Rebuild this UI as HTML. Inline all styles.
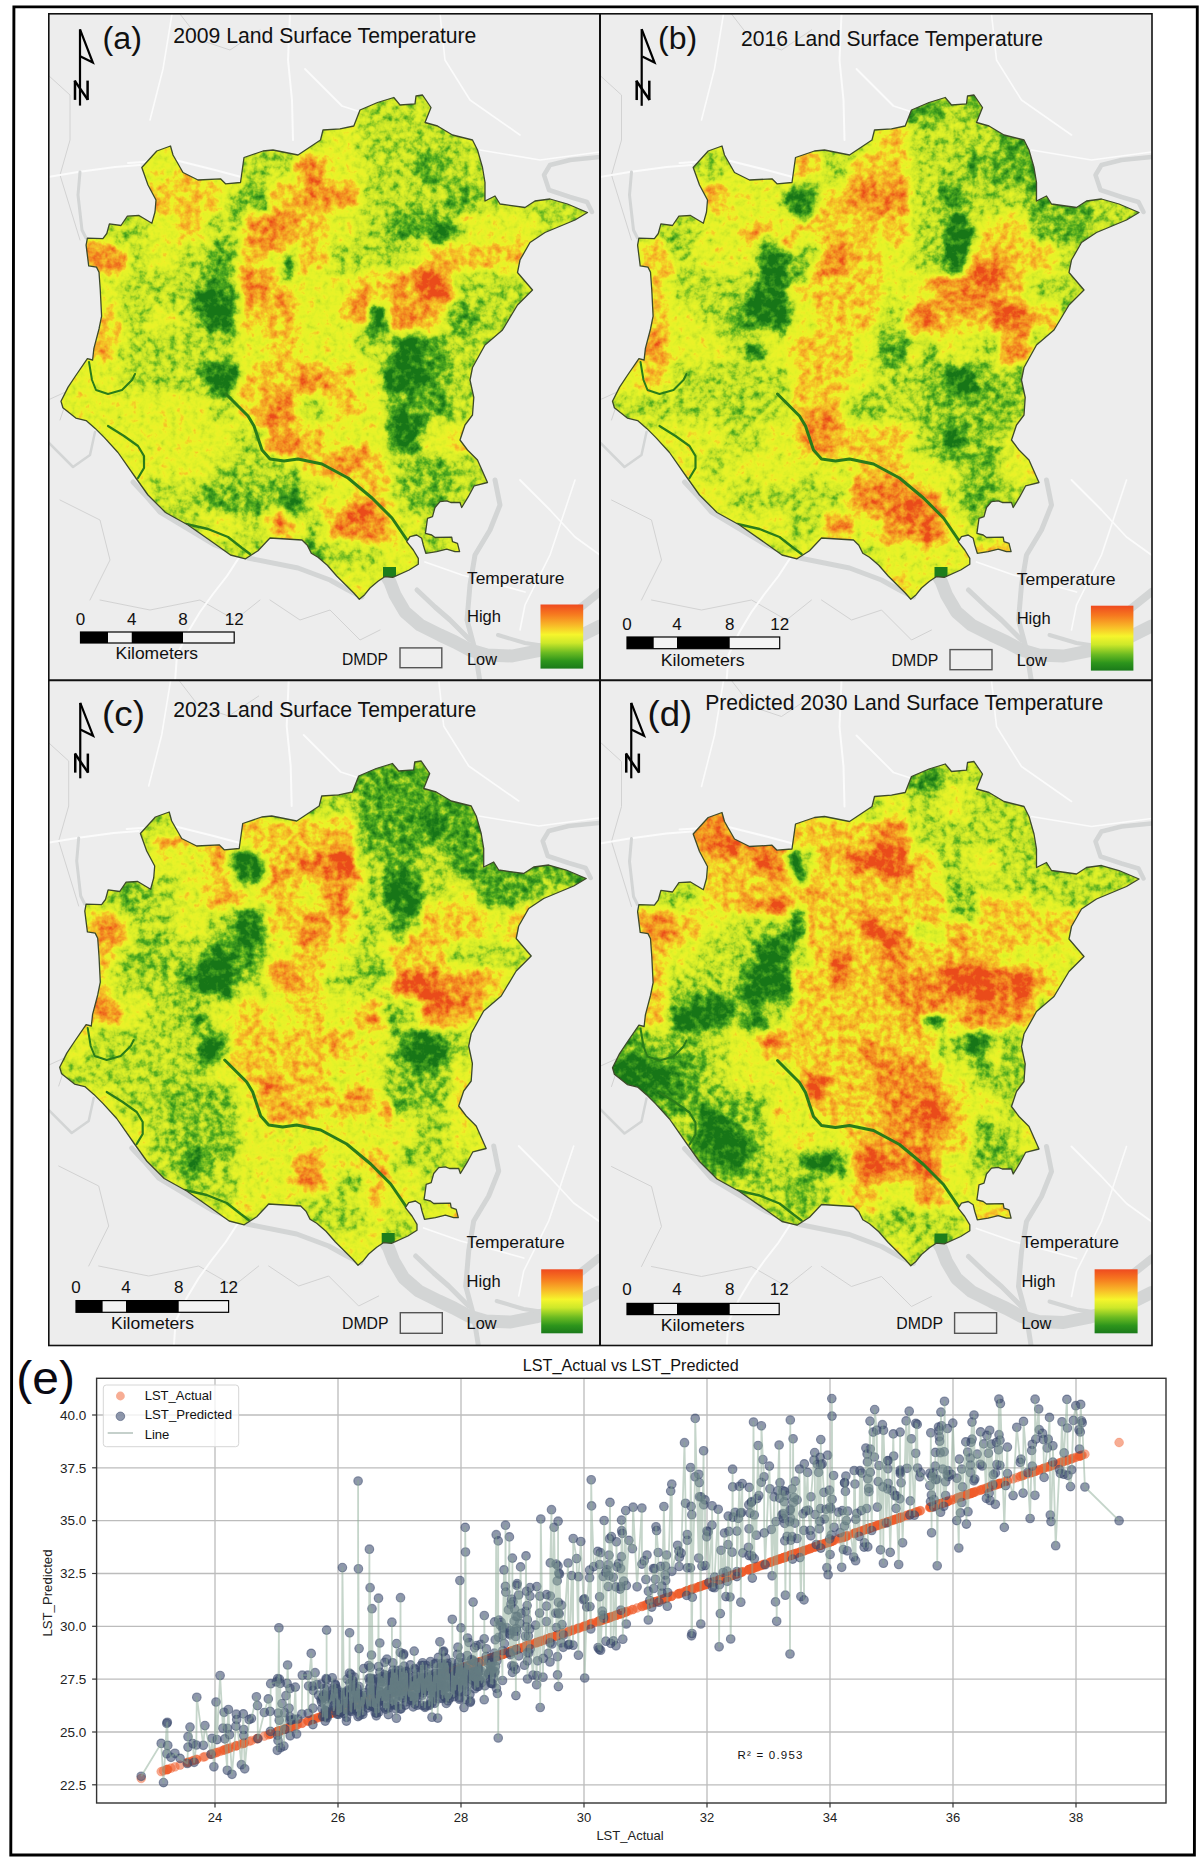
<!DOCTYPE html>
<html><head><meta charset="utf-8"><style>
html,body{margin:0;padding:0;background:#fff;}
svg{display:block;font-family:"Liberation Sans", sans-serif;}
</style></head><body>
<svg width="1200" height="1860" viewBox="0 0 1200 1860">
<defs><linearGradient id="cb" x1="0" y1="0" x2="0" y2="1">
<stop offset="0" stop-color="#ef4a1f"/><stop offset="0.15" stop-color="#f6781f"/><stop offset="0.32" stop-color="#f8b828"/>
<stop offset="0.47" stop-color="#f6f52c"/><stop offset="0.6" stop-color="#cde82a"/><stop offset="0.75" stop-color="#6cbb22"/>
<stop offset="0.88" stop-color="#2d951c"/><stop offset="1" stop-color="#1a7a1a"/></linearGradient><clipPath id="pca"><rect x="48.8" y="13.8" width="551.2" height="666.5"/></clipPath><clipPath id="pcb"><rect x="600" y="13.8" width="552" height="666.5"/></clipPath><clipPath id="pcc"><rect x="48.8" y="680.3" width="551.2" height="665.2"/></clipPath><clipPath id="pcd"><rect x="600" y="680.3" width="552" height="665.2"/></clipPath></defs>
<g clip-path="url(#pca)">
<rect x="48.8" y="13.8" width="551.2" height="666.5" fill="#ededed"/>
<path d="M48.0,75.0 L70.0,95.0 L70.0,140.0 L60.0,175.0 L80.0,240.0" fill="none" stroke="#d2d2d2" stroke-width="1" stroke-linecap="round" stroke-linejoin="round"/><path d="M48.0,400.0 L70.0,390.0 L60.0,420.0" fill="none" stroke="#d2d2d2" stroke-width="1" stroke-linecap="round" stroke-linejoin="round"/><path d="M100.0,600.0 L150.0,610.0 L200.0,600.0 L235.0,620.0 L260.0,600.0" fill="none" stroke="#d2d2d2" stroke-width="1" stroke-linecap="round" stroke-linejoin="round"/><path d="M60.0,500.0 L100.0,520.0 L110.0,560.0 L90.0,600.0" fill="none" stroke="#d2d2d2" stroke-width="1" stroke-linecap="round" stroke-linejoin="round"/><path d="M270.0,600.0 L300.0,620.0 L330.0,610.0 L360.0,640.0 L380.0,630.0" fill="none" stroke="#d2d2d2" stroke-width="1" stroke-linecap="round" stroke-linejoin="round"/><path d="M180.0,14.0 L200.0,40.0 L230.0,50.0 L260.0,30.0" fill="none" stroke="#d2d2d2" stroke-width="1" stroke-linecap="round" stroke-linejoin="round"/><path d="M48.0,177.0 L78.0,172.0 L115.0,167.0 L140.0,165.0" fill="none" stroke="#fbfbfb" stroke-width="2" stroke-linecap="round" stroke-linejoin="round"/><path d="M128.0,163.0 L175.0,160.0 L215.0,170.0 L245.0,178.0" fill="none" stroke="#fbfbfb" stroke-width="2" stroke-linecap="round" stroke-linejoin="round"/><path d="M290.0,14.0 L288.0,60.0 L292.0,100.0 L293.0,140.0" fill="none" stroke="#fbfbfb" stroke-width="2" stroke-linecap="round" stroke-linejoin="round"/><path d="M305.0,69.0 L342.0,106.0 L370.0,115.0 L400.0,118.0" fill="none" stroke="#fbfbfb" stroke-width="1.8" stroke-linecap="round" stroke-linejoin="round"/><path d="M520.0,480.0 L550.0,510.0 L575.0,537.0 L600.0,555.0" fill="none" stroke="#fbfbfb" stroke-width="1.8" stroke-linecap="round" stroke-linejoin="round"/><path d="M575.0,480.0 L550.0,555.0 L525.0,605.0 L520.0,630.0" fill="none" stroke="#fbfbfb" stroke-width="1.6" stroke-linecap="round" stroke-linejoin="round"/><path d="M425.0,562.0 L462.0,575.0 L500.0,585.0 L525.0,592.0" fill="none" stroke="#fbfbfb" stroke-width="1.8" stroke-linecap="round" stroke-linejoin="round"/><path d="M172.0,14.0 L163.0,69.0 L150.0,120.0" fill="none" stroke="#fbfbfb" stroke-width="1.6" stroke-linecap="round" stroke-linejoin="round"/><path d="M440.0,14.0 L445.0,60.0 L470.0,100.0 L520.0,135.0" fill="none" stroke="#fbfbfb" stroke-width="1.6" stroke-linecap="round" stroke-linejoin="round"/><path d="M480.0,150.0 L540.0,160.0 L600.0,152.0" fill="none" stroke="#fbfbfb" stroke-width="1.6" stroke-linecap="round" stroke-linejoin="round"/><path d="M240.0,556.0 L227.0,576.0 L213.0,594.0 L200.0,612.0 L188.0,632.0 L177.0,655.0 L175.0,682.0" fill="none" stroke="#fbfbfb" stroke-width="2" stroke-linecap="round" stroke-linejoin="round"/><path d="M600.0,157.0 L570.0,160.0 L550.0,165.0 L544.0,175.0 L549.0,190.0 L570.0,197.0 L587.0,202.0 L592.0,212.0" fill="none" stroke="#d3d5d5" stroke-width="4.5" stroke-linecap="round" stroke-linejoin="round"/><path d="M80.0,172.0 L78.0,195.0 L82.0,230.0 L86.0,238.0" fill="none" stroke="#d3d5d5" stroke-width="3" stroke-linecap="round" stroke-linejoin="round"/><path d="M133.0,482.0 L147.0,497.0 L160.0,512.0 L185.0,527.0 L215.0,545.0 L248.0,558.0 L298.0,568.0 L330.0,580.0 L348.0,590.0 L362.0,597.0" fill="none" stroke="#d3d5d5" stroke-width="5" stroke-linecap="round" stroke-linejoin="round"/><path d="M387.0,577.0 L390.0,582.0 L395.0,595.0 L405.0,612.0 L420.0,625.0 L440.0,635.0 L455.0,642.0 L470.0,650.0 L487.0,655.0 L512.0,656.0 L537.0,651.0 L570.0,641.0 L600.0,626.0" fill="none" stroke="#d3d5d5" stroke-width="13" stroke-linecap="round" stroke-linejoin="round"/><path d="M417.0,590.0 L435.0,607.0 L450.0,620.0 L470.0,640.0" fill="none" stroke="#d3d5d5" stroke-width="5" stroke-linecap="round" stroke-linejoin="round"/><path d="M495.0,480.0 L500.0,505.0 L490.0,530.0 L475.0,555.0 L470.0,585.0 L467.0,620.0 L475.0,650.0 L480.0,682.0" fill="none" stroke="#d3d5d5" stroke-width="5" stroke-linecap="round" stroke-linejoin="round"/><path d="M575.0,612.0 L600.0,592.0" fill="none" stroke="#d3d5d5" stroke-width="8" stroke-linecap="round" stroke-linejoin="round"/><path d="M48.0,442.0 L73.0,467.0 L90.0,455.0 L95.0,432.0" fill="none" stroke="#d3d5d5" stroke-width="2.5" stroke-linecap="round" stroke-linejoin="round"/><path d="M498.0,635.0 L525.0,643.0 L545.0,646.0" fill="none" stroke="#d3d5d5" stroke-width="4" stroke-linecap="round" stroke-linejoin="round"/>
<defs><clipPath id="mca"><path d="M87.4,238.1 L102.9,238.7 L106.8,233.5 L109.4,223.9 L121.0,225.5 L127.4,216.1 L139.0,215.5 L151.9,223.2 L155.0,212.0 L156.0,200.0 L148.0,185.0 L141.8,167.5 L156.8,151.0 L170.5,146.0 L173.0,155.0 L183.0,172.5 L198.0,180.0 L220.5,178.8 L225.5,183.8 L240.5,182.5 L244.0,157.5 L263.0,151.0 L273.0,150.0 L298.0,155.0 L320.5,140.0 L323.0,130.0 L340.0,128.8 L353.8,126.0 L360.0,110.0 L377.5,102.5 L393.8,97.5 L400.0,105.0 L415.0,103.8 L416.0,96.0 L422.5,95.0 L431.0,107.5 L425.0,122.5 L437.5,126.0 L452.5,135.0 L472.5,140.0 L477.5,150.0 L482.5,167.5 L485.0,182.5 L485.0,201.0 L495.0,196.0 L500.0,204.0 L525.0,207.5 L535.0,201.0 L550.0,199.0 L567.5,204.0 L587.5,212.5 L575.0,220.0 L545.0,232.5 L530.0,242.5 L520.0,260.0 L517.5,272.5 L532.5,290.0 L525.0,297.5 L517.5,305.0 L502.5,330.0 L485.0,345.0 L472.5,367.5 L470.0,380.0 L473.8,397.5 L472.5,415.0 L465.0,425.0 L460.0,440.0 L467.5,450.0 L477.5,460.0 L487.5,482.5 L474.2,485.8 L468.3,496.7 L461.7,507.5 L460.0,502.5 L450.8,502.5 L446.7,500.8 L440.0,501.7 L435.0,507.5 L432.5,516.7 L427.5,518.3 L425.4,533.3 L431.7,535.0 L435.0,537.5 L451.7,537.1 L452.5,541.7 L457.5,543.3 L459.6,551.7 L455.0,551.7 L446.7,549.2 L436.7,551.7 L425.8,553.3 L423.3,545.0 L421.7,538.3 L416.7,535.0 L410.0,536.7 L406.7,541.7 L413.3,550.0 L418.3,558.3 L418.3,564.2 L409.2,570.0 L392.7,577.3 L384.7,576.7 L378.0,581.3 L370.0,588.0 L364.7,594.7 L359.3,599.3 L354.0,593.3 L346.0,585.3 L336.7,576.0 L327.3,565.3 L318.0,557.3 L311.3,553.3 L307.3,545.3 L302.0,540.0 L270.0,538.0 L258.0,550.7 L245.5,558.8 L230.5,555.0 L213.0,542.5 L188.0,525.0 L165.5,512.5 L148.0,495.0 L135.5,477.5 L118.0,452.5 L104.2,437.4 L95.2,428.4 L86.1,420.6 L75.8,418.1 L62.9,407.7 L61.0,401.3 L68.1,387.1 L75.8,375.5 L87.4,358.7 L92.6,360.0 L93.9,348.4 L99.0,329.0 L101.6,316.1 L100.3,290.3 L99.0,272.3 L96.5,267.1 L88.7,265.8 L86.1,245.2 Z"/></clipPath><filter color-interpolation-filters="sRGB" id="mba" x="-5%" y="-5%" width="110%" height="110%"><feTurbulence type="fractalNoise" baseFrequency="0.045" numOctaves="2" seed="1" result="t"/><feDisplacementMap in="SourceGraphic" in2="t" scale="24" xChannelSelector="R" yChannelSelector="G" result="d"/><feGaussianBlur in="d" stdDeviation="4.5" result="b"/><feTurbulence type="fractalNoise" baseFrequency="0.13" numOctaves="3" seed="51" result="n0"/><feColorMatrix in="n0" type="matrix" values="1 0 0 0 0  1 0 0 0 0  1 0 0 0 0  0 0 0 0 1" result="n"/><feComposite in="b" in2="n" operator="arithmetic" k1="0" k2="1" k3="0.55" k4="-0.275" result="v"/><feComponentTransfer in="v"><feFuncR type="table" tableValues="0.094 0.196 0.314 0.549 0.769 0.855 0.902 0.929 0.961 0.957 0.953 0.937 0.918"/><feFuncG type="table" tableValues="0.463 0.557 0.667 0.784 0.886 0.933 0.953 0.945 0.800 0.690 0.565 0.431 0.298"/><feFuncB type="table" tableValues="0.094 0.110 0.122 0.141 0.157 0.157 0.157 0.157 0.157 0.149 0.133 0.118 0.102"/><feFuncA type="identity"/></feComponentTransfer></filter><filter color-interpolation-filters="sRGB" id="mbas" x="-5%" y="-5%" width="110%" height="110%"><feTurbulence type="fractalNoise" baseFrequency="0.08" numOctaves="2" seed="11" result="t"/><feDisplacementMap in="SourceGraphic" in2="t" scale="16" xChannelSelector="R" yChannelSelector="G" result="d"/><feGaussianBlur in="d" stdDeviation="2.2" result="b"/><feTurbulence type="fractalNoise" baseFrequency="0.13" numOctaves="3" seed="61" result="n0"/><feColorMatrix in="n0" type="matrix" values="1 0 0 0 0  1 0 0 0 0  1 0 0 0 0  0 0 0 0 1" result="n"/><feComposite in="b" in2="n" operator="arithmetic" k1="0" k2="1" k3="0.55" k4="-0.275" result="v"/><feComponentTransfer in="v"><feFuncR type="table" tableValues="0.094 0.196 0.314 0.549 0.769 0.855 0.902 0.929 0.961 0.957 0.953 0.937 0.918"/><feFuncG type="table" tableValues="0.463 0.557 0.667 0.784 0.886 0.933 0.953 0.945 0.800 0.690 0.565 0.431 0.298"/><feFuncB type="table" tableValues="0.094 0.110 0.122 0.141 0.157 0.157 0.157 0.157 0.157 0.149 0.133 0.118 0.102"/><feFuncA type="identity"/></feComponentTransfer></filter></defs><g clip-path="url(#mca)"><g filter="url(#mba)"><rect x="-32.0" y="2.0" width="30.5" height="30.5" fill="rgb(128,128,128)"/><rect x="-2.0" y="2.0" width="30.5" height="30.5" fill="rgb(128,128,128)"/><rect x="28.0" y="2.0" width="30.5" height="30.5" fill="rgb(128,128,128)"/><rect x="58.0" y="2.0" width="30.5" height="30.5" fill="rgb(128,128,128)"/><rect x="88.0" y="2.0" width="30.5" height="30.5" fill="rgb(128,128,128)"/><rect x="118.0" y="2.0" width="30.5" height="30.5" fill="rgb(128,128,128)"/><rect x="148.0" y="2.0" width="30.5" height="30.5" fill="rgb(128,128,128)"/><rect x="178.0" y="2.0" width="30.5" height="30.5" fill="rgb(170,170,170)"/><rect x="208.0" y="2.0" width="30.5" height="30.5" fill="rgb(128,128,128)"/><rect x="238.0" y="2.0" width="30.5" height="30.5" fill="rgb(85,85,85)"/><rect x="268.0" y="2.0" width="30.5" height="30.5" fill="rgb(85,85,85)"/><rect x="298.0" y="2.0" width="30.5" height="30.5" fill="rgb(85,85,85)"/><rect x="328.0" y="2.0" width="30.5" height="30.5" fill="rgb(85,85,85)"/><rect x="358.0" y="2.0" width="30.5" height="30.5" fill="rgb(85,85,85)"/><rect x="388.0" y="2.0" width="30.5" height="30.5" fill="rgb(85,85,85)"/><rect x="418.0" y="2.0" width="30.5" height="30.5" fill="rgb(85,85,85)"/><rect x="448.0" y="2.0" width="30.5" height="30.5" fill="rgb(85,85,85)"/><rect x="478.0" y="2.0" width="30.5" height="30.5" fill="rgb(85,85,85)"/><rect x="508.0" y="2.0" width="30.5" height="30.5" fill="rgb(85,85,85)"/><rect x="538.0" y="2.0" width="30.5" height="30.5" fill="rgb(85,85,85)"/><rect x="568.0" y="2.0" width="30.5" height="30.5" fill="rgb(85,85,85)"/><rect x="598.0" y="2.0" width="30.5" height="30.5" fill="rgb(85,85,85)"/><rect x="628.0" y="2.0" width="30.5" height="30.5" fill="rgb(85,85,85)"/><rect x="658.0" y="2.0" width="30.5" height="30.5" fill="rgb(85,85,85)"/><rect x="-32.0" y="32.0" width="30.5" height="30.5" fill="rgb(128,128,128)"/><rect x="-2.0" y="32.0" width="30.5" height="30.5" fill="rgb(128,128,128)"/><rect x="28.0" y="32.0" width="30.5" height="30.5" fill="rgb(128,128,128)"/><rect x="58.0" y="32.0" width="30.5" height="30.5" fill="rgb(128,128,128)"/><rect x="88.0" y="32.0" width="30.5" height="30.5" fill="rgb(128,128,128)"/><rect x="118.0" y="32.0" width="30.5" height="30.5" fill="rgb(128,128,128)"/><rect x="148.0" y="32.0" width="30.5" height="30.5" fill="rgb(128,128,128)"/><rect x="178.0" y="32.0" width="30.5" height="30.5" fill="rgb(170,170,170)"/><rect x="208.0" y="32.0" width="30.5" height="30.5" fill="rgb(128,128,128)"/><rect x="238.0" y="32.0" width="30.5" height="30.5" fill="rgb(85,85,85)"/><rect x="268.0" y="32.0" width="30.5" height="30.5" fill="rgb(85,85,85)"/><rect x="298.0" y="32.0" width="30.5" height="30.5" fill="rgb(85,85,85)"/><rect x="328.0" y="32.0" width="30.5" height="30.5" fill="rgb(85,85,85)"/><rect x="358.0" y="32.0" width="30.5" height="30.5" fill="rgb(85,85,85)"/><rect x="388.0" y="32.0" width="30.5" height="30.5" fill="rgb(85,85,85)"/><rect x="418.0" y="32.0" width="30.5" height="30.5" fill="rgb(85,85,85)"/><rect x="448.0" y="32.0" width="30.5" height="30.5" fill="rgb(85,85,85)"/><rect x="478.0" y="32.0" width="30.5" height="30.5" fill="rgb(85,85,85)"/><rect x="508.0" y="32.0" width="30.5" height="30.5" fill="rgb(85,85,85)"/><rect x="538.0" y="32.0" width="30.5" height="30.5" fill="rgb(85,85,85)"/><rect x="568.0" y="32.0" width="30.5" height="30.5" fill="rgb(85,85,85)"/><rect x="598.0" y="32.0" width="30.5" height="30.5" fill="rgb(85,85,85)"/><rect x="628.0" y="32.0" width="30.5" height="30.5" fill="rgb(85,85,85)"/><rect x="658.0" y="32.0" width="30.5" height="30.5" fill="rgb(85,85,85)"/><rect x="-32.0" y="62.0" width="30.5" height="30.5" fill="rgb(128,128,128)"/><rect x="-2.0" y="62.0" width="30.5" height="30.5" fill="rgb(128,128,128)"/><rect x="28.0" y="62.0" width="30.5" height="30.5" fill="rgb(128,128,128)"/><rect x="58.0" y="62.0" width="30.5" height="30.5" fill="rgb(128,128,128)"/><rect x="88.0" y="62.0" width="30.5" height="30.5" fill="rgb(128,128,128)"/><rect x="118.0" y="62.0" width="30.5" height="30.5" fill="rgb(128,128,128)"/><rect x="148.0" y="62.0" width="30.5" height="30.5" fill="rgb(128,128,128)"/><rect x="178.0" y="62.0" width="30.5" height="30.5" fill="rgb(170,170,170)"/><rect x="208.0" y="62.0" width="30.5" height="30.5" fill="rgb(128,128,128)"/><rect x="238.0" y="62.0" width="30.5" height="30.5" fill="rgb(85,85,85)"/><rect x="268.0" y="62.0" width="30.5" height="30.5" fill="rgb(85,85,85)"/><rect x="298.0" y="62.0" width="30.5" height="30.5" fill="rgb(85,85,85)"/><rect x="328.0" y="62.0" width="30.5" height="30.5" fill="rgb(85,85,85)"/><rect x="358.0" y="62.0" width="30.5" height="30.5" fill="rgb(85,85,85)"/><rect x="388.0" y="62.0" width="30.5" height="30.5" fill="rgb(85,85,85)"/><rect x="418.0" y="62.0" width="30.5" height="30.5" fill="rgb(85,85,85)"/><rect x="448.0" y="62.0" width="30.5" height="30.5" fill="rgb(85,85,85)"/><rect x="478.0" y="62.0" width="30.5" height="30.5" fill="rgb(85,85,85)"/><rect x="508.0" y="62.0" width="30.5" height="30.5" fill="rgb(85,85,85)"/><rect x="538.0" y="62.0" width="30.5" height="30.5" fill="rgb(85,85,85)"/><rect x="568.0" y="62.0" width="30.5" height="30.5" fill="rgb(85,85,85)"/><rect x="598.0" y="62.0" width="30.5" height="30.5" fill="rgb(85,85,85)"/><rect x="628.0" y="62.0" width="30.5" height="30.5" fill="rgb(85,85,85)"/><rect x="658.0" y="62.0" width="30.5" height="30.5" fill="rgb(85,85,85)"/><rect x="-32.0" y="92.0" width="30.5" height="30.5" fill="rgb(128,128,128)"/><rect x="-2.0" y="92.0" width="30.5" height="30.5" fill="rgb(128,128,128)"/><rect x="28.0" y="92.0" width="30.5" height="30.5" fill="rgb(128,128,128)"/><rect x="58.0" y="92.0" width="30.5" height="30.5" fill="rgb(128,128,128)"/><rect x="88.0" y="92.0" width="30.5" height="30.5" fill="rgb(128,128,128)"/><rect x="118.0" y="92.0" width="30.5" height="30.5" fill="rgb(128,128,128)"/><rect x="148.0" y="92.0" width="30.5" height="30.5" fill="rgb(128,128,128)"/><rect x="178.0" y="92.0" width="30.5" height="30.5" fill="rgb(170,170,170)"/><rect x="208.0" y="92.0" width="30.5" height="30.5" fill="rgb(128,128,128)"/><rect x="238.0" y="92.0" width="30.5" height="30.5" fill="rgb(85,85,85)"/><rect x="268.0" y="92.0" width="30.5" height="30.5" fill="rgb(85,85,85)"/><rect x="298.0" y="92.0" width="30.5" height="30.5" fill="rgb(85,85,85)"/><rect x="328.0" y="92.0" width="30.5" height="30.5" fill="rgb(85,85,85)"/><rect x="358.0" y="92.0" width="30.5" height="30.5" fill="rgb(85,85,85)"/><rect x="388.0" y="92.0" width="30.5" height="30.5" fill="rgb(85,85,85)"/><rect x="418.0" y="92.0" width="30.5" height="30.5" fill="rgb(85,85,85)"/><rect x="448.0" y="92.0" width="30.5" height="30.5" fill="rgb(85,85,85)"/><rect x="478.0" y="92.0" width="30.5" height="30.5" fill="rgb(85,85,85)"/><rect x="508.0" y="92.0" width="30.5" height="30.5" fill="rgb(85,85,85)"/><rect x="538.0" y="92.0" width="30.5" height="30.5" fill="rgb(85,85,85)"/><rect x="568.0" y="92.0" width="30.5" height="30.5" fill="rgb(85,85,85)"/><rect x="598.0" y="92.0" width="30.5" height="30.5" fill="rgb(85,85,85)"/><rect x="628.0" y="92.0" width="30.5" height="30.5" fill="rgb(85,85,85)"/><rect x="658.0" y="92.0" width="30.5" height="30.5" fill="rgb(85,85,85)"/><rect x="-32.0" y="122.0" width="30.5" height="30.5" fill="rgb(128,128,128)"/><rect x="-2.0" y="122.0" width="30.5" height="30.5" fill="rgb(128,128,128)"/><rect x="28.0" y="122.0" width="30.5" height="30.5" fill="rgb(128,128,128)"/><rect x="58.0" y="122.0" width="30.5" height="30.5" fill="rgb(128,128,128)"/><rect x="88.0" y="122.0" width="30.5" height="30.5" fill="rgb(128,128,128)"/><rect x="118.0" y="122.0" width="30.5" height="30.5" fill="rgb(128,128,128)"/><rect x="148.0" y="122.0" width="30.5" height="30.5" fill="rgb(128,128,128)"/><rect x="178.0" y="122.0" width="30.5" height="30.5" fill="rgb(170,170,170)"/><rect x="208.0" y="122.0" width="30.5" height="30.5" fill="rgb(128,128,128)"/><rect x="238.0" y="122.0" width="30.5" height="30.5" fill="rgb(85,85,85)"/><rect x="268.0" y="122.0" width="30.5" height="30.5" fill="rgb(85,85,85)"/><rect x="298.0" y="122.0" width="30.5" height="30.5" fill="rgb(85,85,85)"/><rect x="328.0" y="122.0" width="30.5" height="30.5" fill="rgb(128,128,128)"/><rect x="358.0" y="122.0" width="30.5" height="30.5" fill="rgb(85,85,85)"/><rect x="388.0" y="122.0" width="30.5" height="30.5" fill="rgb(85,85,85)"/><rect x="418.0" y="122.0" width="30.5" height="30.5" fill="rgb(85,85,85)"/><rect x="448.0" y="122.0" width="30.5" height="30.5" fill="rgb(85,85,85)"/><rect x="478.0" y="122.0" width="30.5" height="30.5" fill="rgb(85,85,85)"/><rect x="508.0" y="122.0" width="30.5" height="30.5" fill="rgb(85,85,85)"/><rect x="538.0" y="122.0" width="30.5" height="30.5" fill="rgb(85,85,85)"/><rect x="568.0" y="122.0" width="30.5" height="30.5" fill="rgb(85,85,85)"/><rect x="598.0" y="122.0" width="30.5" height="30.5" fill="rgb(85,85,85)"/><rect x="628.0" y="122.0" width="30.5" height="30.5" fill="rgb(85,85,85)"/><rect x="658.0" y="122.0" width="30.5" height="30.5" fill="rgb(85,85,85)"/><rect x="-32.0" y="152.0" width="30.5" height="30.5" fill="rgb(128,128,128)"/><rect x="-2.0" y="152.0" width="30.5" height="30.5" fill="rgb(128,128,128)"/><rect x="28.0" y="152.0" width="30.5" height="30.5" fill="rgb(128,128,128)"/><rect x="58.0" y="152.0" width="30.5" height="30.5" fill="rgb(128,128,128)"/><rect x="88.0" y="152.0" width="30.5" height="30.5" fill="rgb(128,128,128)"/><rect x="118.0" y="152.0" width="30.5" height="30.5" fill="rgb(128,128,128)"/><rect x="148.0" y="152.0" width="30.5" height="30.5" fill="rgb(128,128,128)"/><rect x="178.0" y="152.0" width="30.5" height="30.5" fill="rgb(170,170,170)"/><rect x="208.0" y="152.0" width="30.5" height="30.5" fill="rgb(128,128,128)"/><rect x="238.0" y="152.0" width="30.5" height="30.5" fill="rgb(85,85,85)"/><rect x="268.0" y="152.0" width="30.5" height="30.5" fill="rgb(85,85,85)"/><rect x="298.0" y="152.0" width="30.5" height="30.5" fill="rgb(212,212,212)"/><rect x="328.0" y="152.0" width="30.5" height="30.5" fill="rgb(128,128,128)"/><rect x="358.0" y="152.0" width="30.5" height="30.5" fill="rgb(85,85,85)"/><rect x="388.0" y="152.0" width="30.5" height="30.5" fill="rgb(85,85,85)"/><rect x="418.0" y="152.0" width="30.5" height="30.5" fill="rgb(42,42,42)"/><rect x="448.0" y="152.0" width="30.5" height="30.5" fill="rgb(85,85,85)"/><rect x="478.0" y="152.0" width="30.5" height="30.5" fill="rgb(85,85,85)"/><rect x="508.0" y="152.0" width="30.5" height="30.5" fill="rgb(85,85,85)"/><rect x="538.0" y="152.0" width="30.5" height="30.5" fill="rgb(85,85,85)"/><rect x="568.0" y="152.0" width="30.5" height="30.5" fill="rgb(85,85,85)"/><rect x="598.0" y="152.0" width="30.5" height="30.5" fill="rgb(85,85,85)"/><rect x="628.0" y="152.0" width="30.5" height="30.5" fill="rgb(85,85,85)"/><rect x="658.0" y="152.0" width="30.5" height="30.5" fill="rgb(85,85,85)"/><rect x="-32.0" y="182.0" width="30.5" height="30.5" fill="rgb(85,85,85)"/><rect x="-2.0" y="182.0" width="30.5" height="30.5" fill="rgb(85,85,85)"/><rect x="28.0" y="182.0" width="30.5" height="30.5" fill="rgb(85,85,85)"/><rect x="58.0" y="182.0" width="30.5" height="30.5" fill="rgb(85,85,85)"/><rect x="88.0" y="182.0" width="30.5" height="30.5" fill="rgb(85,85,85)"/><rect x="118.0" y="182.0" width="30.5" height="30.5" fill="rgb(170,170,170)"/><rect x="148.0" y="182.0" width="30.5" height="30.5" fill="rgb(170,170,170)"/><rect x="178.0" y="182.0" width="30.5" height="30.5" fill="rgb(170,170,170)"/><rect x="208.0" y="182.0" width="30.5" height="30.5" fill="rgb(170,170,170)"/><rect x="238.0" y="182.0" width="30.5" height="30.5" fill="rgb(42,42,42)"/><rect x="268.0" y="182.0" width="30.5" height="30.5" fill="rgb(170,170,170)"/><rect x="298.0" y="182.0" width="30.5" height="30.5" fill="rgb(212,212,212)"/><rect x="328.0" y="182.0" width="30.5" height="30.5" fill="rgb(212,212,212)"/><rect x="358.0" y="182.0" width="30.5" height="30.5" fill="rgb(85,85,85)"/><rect x="388.0" y="182.0" width="30.5" height="30.5" fill="rgb(85,85,85)"/><rect x="418.0" y="182.0" width="30.5" height="30.5" fill="rgb(85,85,85)"/><rect x="448.0" y="182.0" width="30.5" height="30.5" fill="rgb(42,42,42)"/><rect x="478.0" y="182.0" width="30.5" height="30.5" fill="rgb(85,85,85)"/><rect x="508.0" y="182.0" width="30.5" height="30.5" fill="rgb(85,85,85)"/><rect x="538.0" y="182.0" width="30.5" height="30.5" fill="rgb(85,85,85)"/><rect x="568.0" y="182.0" width="30.5" height="30.5" fill="rgb(85,85,85)"/><rect x="598.0" y="182.0" width="30.5" height="30.5" fill="rgb(85,85,85)"/><rect x="628.0" y="182.0" width="30.5" height="30.5" fill="rgb(85,85,85)"/><rect x="658.0" y="182.0" width="30.5" height="30.5" fill="rgb(85,85,85)"/><rect x="-32.0" y="212.0" width="30.5" height="30.5" fill="rgb(85,85,85)"/><rect x="-2.0" y="212.0" width="30.5" height="30.5" fill="rgb(85,85,85)"/><rect x="28.0" y="212.0" width="30.5" height="30.5" fill="rgb(85,85,85)"/><rect x="58.0" y="212.0" width="30.5" height="30.5" fill="rgb(85,85,85)"/><rect x="88.0" y="212.0" width="30.5" height="30.5" fill="rgb(85,85,85)"/><rect x="118.0" y="212.0" width="30.5" height="30.5" fill="rgb(85,85,85)"/><rect x="148.0" y="212.0" width="30.5" height="30.5" fill="rgb(128,128,128)"/><rect x="178.0" y="212.0" width="30.5" height="30.5" fill="rgb(170,170,170)"/><rect x="208.0" y="212.0" width="30.5" height="30.5" fill="rgb(85,85,85)"/><rect x="238.0" y="212.0" width="30.5" height="30.5" fill="rgb(128,128,128)"/><rect x="268.0" y="212.0" width="30.5" height="30.5" fill="rgb(212,212,212)"/><rect x="298.0" y="212.0" width="30.5" height="30.5" fill="rgb(170,170,170)"/><rect x="328.0" y="212.0" width="30.5" height="30.5" fill="rgb(128,128,128)"/><rect x="358.0" y="212.0" width="30.5" height="30.5" fill="rgb(85,85,85)"/><rect x="388.0" y="212.0" width="30.5" height="30.5" fill="rgb(42,42,42)"/><rect x="418.0" y="212.0" width="30.5" height="30.5" fill="rgb(42,42,42)"/><rect x="448.0" y="212.0" width="30.5" height="30.5" fill="rgb(128,128,128)"/><rect x="478.0" y="212.0" width="30.5" height="30.5" fill="rgb(128,128,128)"/><rect x="508.0" y="212.0" width="30.5" height="30.5" fill="rgb(128,128,128)"/><rect x="538.0" y="212.0" width="30.5" height="30.5" fill="rgb(85,85,85)"/><rect x="568.0" y="212.0" width="30.5" height="30.5" fill="rgb(85,85,85)"/><rect x="598.0" y="212.0" width="30.5" height="30.5" fill="rgb(85,85,85)"/><rect x="628.0" y="212.0" width="30.5" height="30.5" fill="rgb(85,85,85)"/><rect x="658.0" y="212.0" width="30.5" height="30.5" fill="rgb(85,85,85)"/><rect x="-32.0" y="242.0" width="30.5" height="30.5" fill="rgb(170,170,170)"/><rect x="-2.0" y="242.0" width="30.5" height="30.5" fill="rgb(170,170,170)"/><rect x="28.0" y="242.0" width="30.5" height="30.5" fill="rgb(170,170,170)"/><rect x="58.0" y="242.0" width="30.5" height="30.5" fill="rgb(170,170,170)"/><rect x="88.0" y="242.0" width="30.5" height="30.5" fill="rgb(212,212,212)"/><rect x="118.0" y="242.0" width="30.5" height="30.5" fill="rgb(85,85,85)"/><rect x="148.0" y="242.0" width="30.5" height="30.5" fill="rgb(128,128,128)"/><rect x="178.0" y="242.0" width="30.5" height="30.5" fill="rgb(85,85,85)"/><rect x="208.0" y="242.0" width="30.5" height="30.5" fill="rgb(42,42,42)"/><rect x="238.0" y="242.0" width="30.5" height="30.5" fill="rgb(170,170,170)"/><rect x="268.0" y="242.0" width="30.5" height="30.5" fill="rgb(128,128,128)"/><rect x="298.0" y="242.0" width="30.5" height="30.5" fill="rgb(170,170,170)"/><rect x="328.0" y="242.0" width="30.5" height="30.5" fill="rgb(85,85,85)"/><rect x="358.0" y="242.0" width="30.5" height="30.5" fill="rgb(85,85,85)"/><rect x="388.0" y="242.0" width="30.5" height="30.5" fill="rgb(85,85,85)"/><rect x="418.0" y="242.0" width="30.5" height="30.5" fill="rgb(170,170,170)"/><rect x="448.0" y="242.0" width="30.5" height="30.5" fill="rgb(170,170,170)"/><rect x="478.0" y="242.0" width="30.5" height="30.5" fill="rgb(170,170,170)"/><rect x="508.0" y="242.0" width="30.5" height="30.5" fill="rgb(170,170,170)"/><rect x="538.0" y="242.0" width="30.5" height="30.5" fill="rgb(85,85,85)"/><rect x="568.0" y="242.0" width="30.5" height="30.5" fill="rgb(85,85,85)"/><rect x="598.0" y="242.0" width="30.5" height="30.5" fill="rgb(85,85,85)"/><rect x="628.0" y="242.0" width="30.5" height="30.5" fill="rgb(85,85,85)"/><rect x="658.0" y="242.0" width="30.5" height="30.5" fill="rgb(85,85,85)"/><rect x="-32.0" y="272.0" width="30.5" height="30.5" fill="rgb(170,170,170)"/><rect x="-2.0" y="272.0" width="30.5" height="30.5" fill="rgb(170,170,170)"/><rect x="28.0" y="272.0" width="30.5" height="30.5" fill="rgb(170,170,170)"/><rect x="58.0" y="272.0" width="30.5" height="30.5" fill="rgb(170,170,170)"/><rect x="88.0" y="272.0" width="30.5" height="30.5" fill="rgb(128,128,128)"/><rect x="118.0" y="272.0" width="30.5" height="30.5" fill="rgb(85,85,85)"/><rect x="148.0" y="272.0" width="30.5" height="30.5" fill="rgb(85,85,85)"/><rect x="178.0" y="272.0" width="30.5" height="30.5" fill="rgb(85,85,85)"/><rect x="208.0" y="272.0" width="30.5" height="30.5" fill="rgb(42,42,42)"/><rect x="238.0" y="272.0" width="30.5" height="30.5" fill="rgb(212,212,212)"/><rect x="268.0" y="272.0" width="30.5" height="30.5" fill="rgb(170,170,170)"/><rect x="298.0" y="272.0" width="30.5" height="30.5" fill="rgb(128,128,128)"/><rect x="328.0" y="272.0" width="30.5" height="30.5" fill="rgb(128,128,128)"/><rect x="358.0" y="272.0" width="30.5" height="30.5" fill="rgb(170,170,170)"/><rect x="388.0" y="272.0" width="30.5" height="30.5" fill="rgb(170,170,170)"/><rect x="418.0" y="272.0" width="30.5" height="30.5" fill="rgb(255,255,255)"/><rect x="448.0" y="272.0" width="30.5" height="30.5" fill="rgb(85,85,85)"/><rect x="478.0" y="272.0" width="30.5" height="30.5" fill="rgb(85,85,85)"/><rect x="508.0" y="272.0" width="30.5" height="30.5" fill="rgb(85,85,85)"/><rect x="538.0" y="272.0" width="30.5" height="30.5" fill="rgb(85,85,85)"/><rect x="568.0" y="272.0" width="30.5" height="30.5" fill="rgb(85,85,85)"/><rect x="598.0" y="272.0" width="30.5" height="30.5" fill="rgb(85,85,85)"/><rect x="628.0" y="272.0" width="30.5" height="30.5" fill="rgb(85,85,85)"/><rect x="658.0" y="272.0" width="30.5" height="30.5" fill="rgb(85,85,85)"/><rect x="-32.0" y="302.0" width="30.5" height="30.5" fill="rgb(170,170,170)"/><rect x="-2.0" y="302.0" width="30.5" height="30.5" fill="rgb(170,170,170)"/><rect x="28.0" y="302.0" width="30.5" height="30.5" fill="rgb(170,170,170)"/><rect x="58.0" y="302.0" width="30.5" height="30.5" fill="rgb(170,170,170)"/><rect x="88.0" y="302.0" width="30.5" height="30.5" fill="rgb(170,170,170)"/><rect x="118.0" y="302.0" width="30.5" height="30.5" fill="rgb(85,85,85)"/><rect x="148.0" y="302.0" width="30.5" height="30.5" fill="rgb(128,128,128)"/><rect x="178.0" y="302.0" width="30.5" height="30.5" fill="rgb(85,85,85)"/><rect x="208.0" y="302.0" width="30.5" height="30.5" fill="rgb(0,0,0)"/><rect x="238.0" y="302.0" width="30.5" height="30.5" fill="rgb(170,170,170)"/><rect x="268.0" y="302.0" width="30.5" height="30.5" fill="rgb(170,170,170)"/><rect x="298.0" y="302.0" width="30.5" height="30.5" fill="rgb(128,128,128)"/><rect x="328.0" y="302.0" width="30.5" height="30.5" fill="rgb(128,128,128)"/><rect x="358.0" y="302.0" width="30.5" height="30.5" fill="rgb(42,42,42)"/><rect x="388.0" y="302.0" width="30.5" height="30.5" fill="rgb(212,212,212)"/><rect x="418.0" y="302.0" width="30.5" height="30.5" fill="rgb(170,170,170)"/><rect x="448.0" y="302.0" width="30.5" height="30.5" fill="rgb(42,42,42)"/><rect x="478.0" y="302.0" width="30.5" height="30.5" fill="rgb(85,85,85)"/><rect x="508.0" y="302.0" width="30.5" height="30.5" fill="rgb(85,85,85)"/><rect x="538.0" y="302.0" width="30.5" height="30.5" fill="rgb(85,85,85)"/><rect x="568.0" y="302.0" width="30.5" height="30.5" fill="rgb(85,85,85)"/><rect x="598.0" y="302.0" width="30.5" height="30.5" fill="rgb(85,85,85)"/><rect x="628.0" y="302.0" width="30.5" height="30.5" fill="rgb(85,85,85)"/><rect x="658.0" y="302.0" width="30.5" height="30.5" fill="rgb(85,85,85)"/><rect x="-32.0" y="332.0" width="30.5" height="30.5" fill="rgb(170,170,170)"/><rect x="-2.0" y="332.0" width="30.5" height="30.5" fill="rgb(170,170,170)"/><rect x="28.0" y="332.0" width="30.5" height="30.5" fill="rgb(170,170,170)"/><rect x="58.0" y="332.0" width="30.5" height="30.5" fill="rgb(170,170,170)"/><rect x="88.0" y="332.0" width="30.5" height="30.5" fill="rgb(170,170,170)"/><rect x="118.0" y="332.0" width="30.5" height="30.5" fill="rgb(85,85,85)"/><rect x="148.0" y="332.0" width="30.5" height="30.5" fill="rgb(85,85,85)"/><rect x="178.0" y="332.0" width="30.5" height="30.5" fill="rgb(85,85,85)"/><rect x="208.0" y="332.0" width="30.5" height="30.5" fill="rgb(85,85,85)"/><rect x="238.0" y="332.0" width="30.5" height="30.5" fill="rgb(128,128,128)"/><rect x="268.0" y="332.0" width="30.5" height="30.5" fill="rgb(170,170,170)"/><rect x="298.0" y="332.0" width="30.5" height="30.5" fill="rgb(128,128,128)"/><rect x="328.0" y="332.0" width="30.5" height="30.5" fill="rgb(128,128,128)"/><rect x="358.0" y="332.0" width="30.5" height="30.5" fill="rgb(85,85,85)"/><rect x="388.0" y="332.0" width="30.5" height="30.5" fill="rgb(85,85,85)"/><rect x="418.0" y="332.0" width="30.5" height="30.5" fill="rgb(42,42,42)"/><rect x="448.0" y="332.0" width="30.5" height="30.5" fill="rgb(85,85,85)"/><rect x="478.0" y="332.0" width="30.5" height="30.5" fill="rgb(85,85,85)"/><rect x="508.0" y="332.0" width="30.5" height="30.5" fill="rgb(85,85,85)"/><rect x="538.0" y="332.0" width="30.5" height="30.5" fill="rgb(85,85,85)"/><rect x="568.0" y="332.0" width="30.5" height="30.5" fill="rgb(85,85,85)"/><rect x="598.0" y="332.0" width="30.5" height="30.5" fill="rgb(85,85,85)"/><rect x="628.0" y="332.0" width="30.5" height="30.5" fill="rgb(85,85,85)"/><rect x="658.0" y="332.0" width="30.5" height="30.5" fill="rgb(85,85,85)"/><rect x="-32.0" y="362.0" width="30.5" height="30.5" fill="rgb(128,128,128)"/><rect x="-2.0" y="362.0" width="30.5" height="30.5" fill="rgb(128,128,128)"/><rect x="28.0" y="362.0" width="30.5" height="30.5" fill="rgb(128,128,128)"/><rect x="58.0" y="362.0" width="30.5" height="30.5" fill="rgb(128,128,128)"/><rect x="88.0" y="362.0" width="30.5" height="30.5" fill="rgb(128,128,128)"/><rect x="118.0" y="362.0" width="30.5" height="30.5" fill="rgb(85,85,85)"/><rect x="148.0" y="362.0" width="30.5" height="30.5" fill="rgb(85,85,85)"/><rect x="178.0" y="362.0" width="30.5" height="30.5" fill="rgb(85,85,85)"/><rect x="208.0" y="362.0" width="30.5" height="30.5" fill="rgb(0,0,0)"/><rect x="238.0" y="362.0" width="30.5" height="30.5" fill="rgb(170,170,170)"/><rect x="268.0" y="362.0" width="30.5" height="30.5" fill="rgb(170,170,170)"/><rect x="298.0" y="362.0" width="30.5" height="30.5" fill="rgb(212,212,212)"/><rect x="328.0" y="362.0" width="30.5" height="30.5" fill="rgb(170,170,170)"/><rect x="358.0" y="362.0" width="30.5" height="30.5" fill="rgb(128,128,128)"/><rect x="388.0" y="362.0" width="30.5" height="30.5" fill="rgb(0,0,0)"/><rect x="418.0" y="362.0" width="30.5" height="30.5" fill="rgb(42,42,42)"/><rect x="448.0" y="362.0" width="30.5" height="30.5" fill="rgb(85,85,85)"/><rect x="478.0" y="362.0" width="30.5" height="30.5" fill="rgb(85,85,85)"/><rect x="508.0" y="362.0" width="30.5" height="30.5" fill="rgb(85,85,85)"/><rect x="538.0" y="362.0" width="30.5" height="30.5" fill="rgb(85,85,85)"/><rect x="568.0" y="362.0" width="30.5" height="30.5" fill="rgb(85,85,85)"/><rect x="598.0" y="362.0" width="30.5" height="30.5" fill="rgb(85,85,85)"/><rect x="628.0" y="362.0" width="30.5" height="30.5" fill="rgb(85,85,85)"/><rect x="658.0" y="362.0" width="30.5" height="30.5" fill="rgb(85,85,85)"/><rect x="-32.0" y="392.0" width="30.5" height="30.5" fill="rgb(128,128,128)"/><rect x="-2.0" y="392.0" width="30.5" height="30.5" fill="rgb(128,128,128)"/><rect x="28.0" y="392.0" width="30.5" height="30.5" fill="rgb(128,128,128)"/><rect x="58.0" y="392.0" width="30.5" height="30.5" fill="rgb(128,128,128)"/><rect x="88.0" y="392.0" width="30.5" height="30.5" fill="rgb(128,128,128)"/><rect x="118.0" y="392.0" width="30.5" height="30.5" fill="rgb(128,128,128)"/><rect x="148.0" y="392.0" width="30.5" height="30.5" fill="rgb(128,128,128)"/><rect x="178.0" y="392.0" width="30.5" height="30.5" fill="rgb(128,128,128)"/><rect x="208.0" y="392.0" width="30.5" height="30.5" fill="rgb(85,85,85)"/><rect x="238.0" y="392.0" width="30.5" height="30.5" fill="rgb(170,170,170)"/><rect x="268.0" y="392.0" width="30.5" height="30.5" fill="rgb(212,212,212)"/><rect x="298.0" y="392.0" width="30.5" height="30.5" fill="rgb(85,85,85)"/><rect x="328.0" y="392.0" width="30.5" height="30.5" fill="rgb(170,170,170)"/><rect x="358.0" y="392.0" width="30.5" height="30.5" fill="rgb(128,128,128)"/><rect x="388.0" y="392.0" width="30.5" height="30.5" fill="rgb(42,42,42)"/><rect x="418.0" y="392.0" width="30.5" height="30.5" fill="rgb(42,42,42)"/><rect x="448.0" y="392.0" width="30.5" height="30.5" fill="rgb(85,85,85)"/><rect x="478.0" y="392.0" width="30.5" height="30.5" fill="rgb(85,85,85)"/><rect x="508.0" y="392.0" width="30.5" height="30.5" fill="rgb(85,85,85)"/><rect x="538.0" y="392.0" width="30.5" height="30.5" fill="rgb(85,85,85)"/><rect x="568.0" y="392.0" width="30.5" height="30.5" fill="rgb(85,85,85)"/><rect x="598.0" y="392.0" width="30.5" height="30.5" fill="rgb(85,85,85)"/><rect x="628.0" y="392.0" width="30.5" height="30.5" fill="rgb(85,85,85)"/><rect x="658.0" y="392.0" width="30.5" height="30.5" fill="rgb(85,85,85)"/><rect x="-32.0" y="422.0" width="30.5" height="30.5" fill="rgb(128,128,128)"/><rect x="-2.0" y="422.0" width="30.5" height="30.5" fill="rgb(128,128,128)"/><rect x="28.0" y="422.0" width="30.5" height="30.5" fill="rgb(128,128,128)"/><rect x="58.0" y="422.0" width="30.5" height="30.5" fill="rgb(128,128,128)"/><rect x="88.0" y="422.0" width="30.5" height="30.5" fill="rgb(128,128,128)"/><rect x="118.0" y="422.0" width="30.5" height="30.5" fill="rgb(128,128,128)"/><rect x="148.0" y="422.0" width="30.5" height="30.5" fill="rgb(128,128,128)"/><rect x="178.0" y="422.0" width="30.5" height="30.5" fill="rgb(128,128,128)"/><rect x="208.0" y="422.0" width="30.5" height="30.5" fill="rgb(128,128,128)"/><rect x="238.0" y="422.0" width="30.5" height="30.5" fill="rgb(85,85,85)"/><rect x="268.0" y="422.0" width="30.5" height="30.5" fill="rgb(170,170,170)"/><rect x="298.0" y="422.0" width="30.5" height="30.5" fill="rgb(170,170,170)"/><rect x="328.0" y="422.0" width="30.5" height="30.5" fill="rgb(128,128,128)"/><rect x="358.0" y="422.0" width="30.5" height="30.5" fill="rgb(128,128,128)"/><rect x="388.0" y="422.0" width="30.5" height="30.5" fill="rgb(0,0,0)"/><rect x="418.0" y="422.0" width="30.5" height="30.5" fill="rgb(128,128,128)"/><rect x="448.0" y="422.0" width="30.5" height="30.5" fill="rgb(170,170,170)"/><rect x="478.0" y="422.0" width="30.5" height="30.5" fill="rgb(170,170,170)"/><rect x="508.0" y="422.0" width="30.5" height="30.5" fill="rgb(170,170,170)"/><rect x="538.0" y="422.0" width="30.5" height="30.5" fill="rgb(170,170,170)"/><rect x="568.0" y="422.0" width="30.5" height="30.5" fill="rgb(170,170,170)"/><rect x="598.0" y="422.0" width="30.5" height="30.5" fill="rgb(170,170,170)"/><rect x="628.0" y="422.0" width="30.5" height="30.5" fill="rgb(170,170,170)"/><rect x="658.0" y="422.0" width="30.5" height="30.5" fill="rgb(170,170,170)"/><rect x="-32.0" y="452.0" width="30.5" height="30.5" fill="rgb(128,128,128)"/><rect x="-2.0" y="452.0" width="30.5" height="30.5" fill="rgb(128,128,128)"/><rect x="28.0" y="452.0" width="30.5" height="30.5" fill="rgb(128,128,128)"/><rect x="58.0" y="452.0" width="30.5" height="30.5" fill="rgb(128,128,128)"/><rect x="88.0" y="452.0" width="30.5" height="30.5" fill="rgb(128,128,128)"/><rect x="118.0" y="452.0" width="30.5" height="30.5" fill="rgb(128,128,128)"/><rect x="148.0" y="452.0" width="30.5" height="30.5" fill="rgb(128,128,128)"/><rect x="178.0" y="452.0" width="30.5" height="30.5" fill="rgb(128,128,128)"/><rect x="208.0" y="452.0" width="30.5" height="30.5" fill="rgb(85,85,85)"/><rect x="238.0" y="452.0" width="30.5" height="30.5" fill="rgb(85,85,85)"/><rect x="268.0" y="452.0" width="30.5" height="30.5" fill="rgb(85,85,85)"/><rect x="298.0" y="452.0" width="30.5" height="30.5" fill="rgb(170,170,170)"/><rect x="328.0" y="452.0" width="30.5" height="30.5" fill="rgb(212,212,212)"/><rect x="358.0" y="452.0" width="30.5" height="30.5" fill="rgb(170,170,170)"/><rect x="388.0" y="452.0" width="30.5" height="30.5" fill="rgb(85,85,85)"/><rect x="418.0" y="452.0" width="30.5" height="30.5" fill="rgb(42,42,42)"/><rect x="448.0" y="452.0" width="30.5" height="30.5" fill="rgb(85,85,85)"/><rect x="478.0" y="452.0" width="30.5" height="30.5" fill="rgb(85,85,85)"/><rect x="508.0" y="452.0" width="30.5" height="30.5" fill="rgb(85,85,85)"/><rect x="538.0" y="452.0" width="30.5" height="30.5" fill="rgb(85,85,85)"/><rect x="568.0" y="452.0" width="30.5" height="30.5" fill="rgb(85,85,85)"/><rect x="598.0" y="452.0" width="30.5" height="30.5" fill="rgb(85,85,85)"/><rect x="628.0" y="452.0" width="30.5" height="30.5" fill="rgb(85,85,85)"/><rect x="658.0" y="452.0" width="30.5" height="30.5" fill="rgb(85,85,85)"/><rect x="-32.0" y="482.0" width="30.5" height="30.5" fill="rgb(128,128,128)"/><rect x="-2.0" y="482.0" width="30.5" height="30.5" fill="rgb(128,128,128)"/><rect x="28.0" y="482.0" width="30.5" height="30.5" fill="rgb(128,128,128)"/><rect x="58.0" y="482.0" width="30.5" height="30.5" fill="rgb(128,128,128)"/><rect x="88.0" y="482.0" width="30.5" height="30.5" fill="rgb(128,128,128)"/><rect x="118.0" y="482.0" width="30.5" height="30.5" fill="rgb(128,128,128)"/><rect x="148.0" y="482.0" width="30.5" height="30.5" fill="rgb(85,85,85)"/><rect x="178.0" y="482.0" width="30.5" height="30.5" fill="rgb(85,85,85)"/><rect x="208.0" y="482.0" width="30.5" height="30.5" fill="rgb(42,42,42)"/><rect x="238.0" y="482.0" width="30.5" height="30.5" fill="rgb(42,42,42)"/><rect x="268.0" y="482.0" width="30.5" height="30.5" fill="rgb(42,42,42)"/><rect x="298.0" y="482.0" width="30.5" height="30.5" fill="rgb(85,85,85)"/><rect x="328.0" y="482.0" width="30.5" height="30.5" fill="rgb(128,128,128)"/><rect x="358.0" y="482.0" width="30.5" height="30.5" fill="rgb(170,170,170)"/><rect x="388.0" y="482.0" width="30.5" height="30.5" fill="rgb(85,85,85)"/><rect x="418.0" y="482.0" width="30.5" height="30.5" fill="rgb(42,42,42)"/><rect x="448.0" y="482.0" width="30.5" height="30.5" fill="rgb(85,85,85)"/><rect x="478.0" y="482.0" width="30.5" height="30.5" fill="rgb(85,85,85)"/><rect x="508.0" y="482.0" width="30.5" height="30.5" fill="rgb(85,85,85)"/><rect x="538.0" y="482.0" width="30.5" height="30.5" fill="rgb(85,85,85)"/><rect x="568.0" y="482.0" width="30.5" height="30.5" fill="rgb(85,85,85)"/><rect x="598.0" y="482.0" width="30.5" height="30.5" fill="rgb(85,85,85)"/><rect x="628.0" y="482.0" width="30.5" height="30.5" fill="rgb(85,85,85)"/><rect x="658.0" y="482.0" width="30.5" height="30.5" fill="rgb(85,85,85)"/><rect x="-32.0" y="512.0" width="30.5" height="30.5" fill="rgb(85,85,85)"/><rect x="-2.0" y="512.0" width="30.5" height="30.5" fill="rgb(85,85,85)"/><rect x="28.0" y="512.0" width="30.5" height="30.5" fill="rgb(85,85,85)"/><rect x="58.0" y="512.0" width="30.5" height="30.5" fill="rgb(85,85,85)"/><rect x="88.0" y="512.0" width="30.5" height="30.5" fill="rgb(85,85,85)"/><rect x="118.0" y="512.0" width="30.5" height="30.5" fill="rgb(85,85,85)"/><rect x="148.0" y="512.0" width="30.5" height="30.5" fill="rgb(85,85,85)"/><rect x="178.0" y="512.0" width="30.5" height="30.5" fill="rgb(85,85,85)"/><rect x="208.0" y="512.0" width="30.5" height="30.5" fill="rgb(128,128,128)"/><rect x="238.0" y="512.0" width="30.5" height="30.5" fill="rgb(85,85,85)"/><rect x="268.0" y="512.0" width="30.5" height="30.5" fill="rgb(170,170,170)"/><rect x="298.0" y="512.0" width="30.5" height="30.5" fill="rgb(85,85,85)"/><rect x="328.0" y="512.0" width="30.5" height="30.5" fill="rgb(212,212,212)"/><rect x="358.0" y="512.0" width="30.5" height="30.5" fill="rgb(212,212,212)"/><rect x="388.0" y="512.0" width="30.5" height="30.5" fill="rgb(128,128,128)"/><rect x="418.0" y="512.0" width="30.5" height="30.5" fill="rgb(85,85,85)"/><rect x="448.0" y="512.0" width="30.5" height="30.5" fill="rgb(128,128,128)"/><rect x="478.0" y="512.0" width="30.5" height="30.5" fill="rgb(128,128,128)"/><rect x="508.0" y="512.0" width="30.5" height="30.5" fill="rgb(128,128,128)"/><rect x="538.0" y="512.0" width="30.5" height="30.5" fill="rgb(128,128,128)"/><rect x="568.0" y="512.0" width="30.5" height="30.5" fill="rgb(128,128,128)"/><rect x="598.0" y="512.0" width="30.5" height="30.5" fill="rgb(128,128,128)"/><rect x="628.0" y="512.0" width="30.5" height="30.5" fill="rgb(128,128,128)"/><rect x="658.0" y="512.0" width="30.5" height="30.5" fill="rgb(128,128,128)"/><rect x="-32.0" y="542.0" width="30.5" height="30.5" fill="rgb(85,85,85)"/><rect x="-2.0" y="542.0" width="30.5" height="30.5" fill="rgb(85,85,85)"/><rect x="28.0" y="542.0" width="30.5" height="30.5" fill="rgb(85,85,85)"/><rect x="58.0" y="542.0" width="30.5" height="30.5" fill="rgb(85,85,85)"/><rect x="88.0" y="542.0" width="30.5" height="30.5" fill="rgb(85,85,85)"/><rect x="118.0" y="542.0" width="30.5" height="30.5" fill="rgb(85,85,85)"/><rect x="148.0" y="542.0" width="30.5" height="30.5" fill="rgb(85,85,85)"/><rect x="178.0" y="542.0" width="30.5" height="30.5" fill="rgb(85,85,85)"/><rect x="208.0" y="542.0" width="30.5" height="30.5" fill="rgb(85,85,85)"/><rect x="238.0" y="542.0" width="30.5" height="30.5" fill="rgb(85,85,85)"/><rect x="268.0" y="542.0" width="30.5" height="30.5" fill="rgb(170,170,170)"/><rect x="298.0" y="542.0" width="30.5" height="30.5" fill="rgb(42,42,42)"/><rect x="328.0" y="542.0" width="30.5" height="30.5" fill="rgb(85,85,85)"/><rect x="358.0" y="542.0" width="30.5" height="30.5" fill="rgb(85,85,85)"/><rect x="388.0" y="542.0" width="30.5" height="30.5" fill="rgb(128,128,128)"/><rect x="418.0" y="542.0" width="30.5" height="30.5" fill="rgb(85,85,85)"/><rect x="448.0" y="542.0" width="30.5" height="30.5" fill="rgb(170,170,170)"/><rect x="478.0" y="542.0" width="30.5" height="30.5" fill="rgb(170,170,170)"/><rect x="508.0" y="542.0" width="30.5" height="30.5" fill="rgb(170,170,170)"/><rect x="538.0" y="542.0" width="30.5" height="30.5" fill="rgb(170,170,170)"/><rect x="568.0" y="542.0" width="30.5" height="30.5" fill="rgb(170,170,170)"/><rect x="598.0" y="542.0" width="30.5" height="30.5" fill="rgb(170,170,170)"/><rect x="628.0" y="542.0" width="30.5" height="30.5" fill="rgb(170,170,170)"/><rect x="658.0" y="542.0" width="30.5" height="30.5" fill="rgb(170,170,170)"/><rect x="-32.0" y="572.0" width="30.5" height="30.5" fill="rgb(85,85,85)"/><rect x="-2.0" y="572.0" width="30.5" height="30.5" fill="rgb(85,85,85)"/><rect x="28.0" y="572.0" width="30.5" height="30.5" fill="rgb(85,85,85)"/><rect x="58.0" y="572.0" width="30.5" height="30.5" fill="rgb(85,85,85)"/><rect x="88.0" y="572.0" width="30.5" height="30.5" fill="rgb(85,85,85)"/><rect x="118.0" y="572.0" width="30.5" height="30.5" fill="rgb(85,85,85)"/><rect x="148.0" y="572.0" width="30.5" height="30.5" fill="rgb(85,85,85)"/><rect x="178.0" y="572.0" width="30.5" height="30.5" fill="rgb(85,85,85)"/><rect x="208.0" y="572.0" width="30.5" height="30.5" fill="rgb(85,85,85)"/><rect x="238.0" y="572.0" width="30.5" height="30.5" fill="rgb(85,85,85)"/><rect x="268.0" y="572.0" width="30.5" height="30.5" fill="rgb(170,170,170)"/><rect x="298.0" y="572.0" width="30.5" height="30.5" fill="rgb(42,42,42)"/><rect x="328.0" y="572.0" width="30.5" height="30.5" fill="rgb(128,128,128)"/><rect x="358.0" y="572.0" width="30.5" height="30.5" fill="rgb(128,128,128)"/><rect x="388.0" y="572.0" width="30.5" height="30.5" fill="rgb(85,85,85)"/><rect x="418.0" y="572.0" width="30.5" height="30.5" fill="rgb(85,85,85)"/><rect x="448.0" y="572.0" width="30.5" height="30.5" fill="rgb(170,170,170)"/><rect x="478.0" y="572.0" width="30.5" height="30.5" fill="rgb(170,170,170)"/><rect x="508.0" y="572.0" width="30.5" height="30.5" fill="rgb(170,170,170)"/><rect x="538.0" y="572.0" width="30.5" height="30.5" fill="rgb(170,170,170)"/><rect x="568.0" y="572.0" width="30.5" height="30.5" fill="rgb(170,170,170)"/><rect x="598.0" y="572.0" width="30.5" height="30.5" fill="rgb(170,170,170)"/><rect x="628.0" y="572.0" width="30.5" height="30.5" fill="rgb(170,170,170)"/><rect x="658.0" y="572.0" width="30.5" height="30.5" fill="rgb(170,170,170)"/><rect x="-32.0" y="602.0" width="30.5" height="30.5" fill="rgb(85,85,85)"/><rect x="-2.0" y="602.0" width="30.5" height="30.5" fill="rgb(85,85,85)"/><rect x="28.0" y="602.0" width="30.5" height="30.5" fill="rgb(85,85,85)"/><rect x="58.0" y="602.0" width="30.5" height="30.5" fill="rgb(85,85,85)"/><rect x="88.0" y="602.0" width="30.5" height="30.5" fill="rgb(85,85,85)"/><rect x="118.0" y="602.0" width="30.5" height="30.5" fill="rgb(85,85,85)"/><rect x="148.0" y="602.0" width="30.5" height="30.5" fill="rgb(85,85,85)"/><rect x="178.0" y="602.0" width="30.5" height="30.5" fill="rgb(85,85,85)"/><rect x="208.0" y="602.0" width="30.5" height="30.5" fill="rgb(85,85,85)"/><rect x="238.0" y="602.0" width="30.5" height="30.5" fill="rgb(85,85,85)"/><rect x="268.0" y="602.0" width="30.5" height="30.5" fill="rgb(170,170,170)"/><rect x="298.0" y="602.0" width="30.5" height="30.5" fill="rgb(42,42,42)"/><rect x="328.0" y="602.0" width="30.5" height="30.5" fill="rgb(128,128,128)"/><rect x="358.0" y="602.0" width="30.5" height="30.5" fill="rgb(128,128,128)"/><rect x="388.0" y="602.0" width="30.5" height="30.5" fill="rgb(85,85,85)"/><rect x="418.0" y="602.0" width="30.5" height="30.5" fill="rgb(85,85,85)"/><rect x="448.0" y="602.0" width="30.5" height="30.5" fill="rgb(170,170,170)"/><rect x="478.0" y="602.0" width="30.5" height="30.5" fill="rgb(170,170,170)"/><rect x="508.0" y="602.0" width="30.5" height="30.5" fill="rgb(170,170,170)"/><rect x="538.0" y="602.0" width="30.5" height="30.5" fill="rgb(170,170,170)"/><rect x="568.0" y="602.0" width="30.5" height="30.5" fill="rgb(170,170,170)"/><rect x="598.0" y="602.0" width="30.5" height="30.5" fill="rgb(170,170,170)"/><rect x="628.0" y="602.0" width="30.5" height="30.5" fill="rgb(170,170,170)"/><rect x="658.0" y="602.0" width="30.5" height="30.5" fill="rgb(170,170,170)"/><rect x="-32.0" y="632.0" width="30.5" height="30.5" fill="rgb(85,85,85)"/><rect x="-2.0" y="632.0" width="30.5" height="30.5" fill="rgb(85,85,85)"/><rect x="28.0" y="632.0" width="30.5" height="30.5" fill="rgb(85,85,85)"/><rect x="58.0" y="632.0" width="30.5" height="30.5" fill="rgb(85,85,85)"/><rect x="88.0" y="632.0" width="30.5" height="30.5" fill="rgb(85,85,85)"/><rect x="118.0" y="632.0" width="30.5" height="30.5" fill="rgb(85,85,85)"/><rect x="148.0" y="632.0" width="30.5" height="30.5" fill="rgb(85,85,85)"/><rect x="178.0" y="632.0" width="30.5" height="30.5" fill="rgb(85,85,85)"/><rect x="208.0" y="632.0" width="30.5" height="30.5" fill="rgb(85,85,85)"/><rect x="238.0" y="632.0" width="30.5" height="30.5" fill="rgb(85,85,85)"/><rect x="268.0" y="632.0" width="30.5" height="30.5" fill="rgb(170,170,170)"/><rect x="298.0" y="632.0" width="30.5" height="30.5" fill="rgb(42,42,42)"/><rect x="328.0" y="632.0" width="30.5" height="30.5" fill="rgb(128,128,128)"/><rect x="358.0" y="632.0" width="30.5" height="30.5" fill="rgb(128,128,128)"/><rect x="388.0" y="632.0" width="30.5" height="30.5" fill="rgb(85,85,85)"/><rect x="418.0" y="632.0" width="30.5" height="30.5" fill="rgb(85,85,85)"/><rect x="448.0" y="632.0" width="30.5" height="30.5" fill="rgb(170,170,170)"/><rect x="478.0" y="632.0" width="30.5" height="30.5" fill="rgb(170,170,170)"/><rect x="508.0" y="632.0" width="30.5" height="30.5" fill="rgb(170,170,170)"/><rect x="538.0" y="632.0" width="30.5" height="30.5" fill="rgb(170,170,170)"/><rect x="568.0" y="632.0" width="30.5" height="30.5" fill="rgb(170,170,170)"/><rect x="598.0" y="632.0" width="30.5" height="30.5" fill="rgb(170,170,170)"/><rect x="628.0" y="632.0" width="30.5" height="30.5" fill="rgb(170,170,170)"/><rect x="658.0" y="632.0" width="30.5" height="30.5" fill="rgb(170,170,170)"/><rect x="-32.0" y="662.0" width="30.5" height="30.5" fill="rgb(85,85,85)"/><rect x="-2.0" y="662.0" width="30.5" height="30.5" fill="rgb(85,85,85)"/><rect x="28.0" y="662.0" width="30.5" height="30.5" fill="rgb(85,85,85)"/><rect x="58.0" y="662.0" width="30.5" height="30.5" fill="rgb(85,85,85)"/><rect x="88.0" y="662.0" width="30.5" height="30.5" fill="rgb(85,85,85)"/><rect x="118.0" y="662.0" width="30.5" height="30.5" fill="rgb(85,85,85)"/><rect x="148.0" y="662.0" width="30.5" height="30.5" fill="rgb(85,85,85)"/><rect x="178.0" y="662.0" width="30.5" height="30.5" fill="rgb(85,85,85)"/><rect x="208.0" y="662.0" width="30.5" height="30.5" fill="rgb(85,85,85)"/><rect x="238.0" y="662.0" width="30.5" height="30.5" fill="rgb(85,85,85)"/><rect x="268.0" y="662.0" width="30.5" height="30.5" fill="rgb(170,170,170)"/><rect x="298.0" y="662.0" width="30.5" height="30.5" fill="rgb(42,42,42)"/><rect x="328.0" y="662.0" width="30.5" height="30.5" fill="rgb(128,128,128)"/><rect x="358.0" y="662.0" width="30.5" height="30.5" fill="rgb(128,128,128)"/><rect x="388.0" y="662.0" width="30.5" height="30.5" fill="rgb(85,85,85)"/><rect x="418.0" y="662.0" width="30.5" height="30.5" fill="rgb(85,85,85)"/><rect x="448.0" y="662.0" width="30.5" height="30.5" fill="rgb(170,170,170)"/><rect x="478.0" y="662.0" width="30.5" height="30.5" fill="rgb(170,170,170)"/><rect x="508.0" y="662.0" width="30.5" height="30.5" fill="rgb(170,170,170)"/><rect x="538.0" y="662.0" width="30.5" height="30.5" fill="rgb(170,170,170)"/><rect x="568.0" y="662.0" width="30.5" height="30.5" fill="rgb(170,170,170)"/><rect x="598.0" y="662.0" width="30.5" height="30.5" fill="rgb(170,170,170)"/><rect x="628.0" y="662.0" width="30.5" height="30.5" fill="rgb(170,170,170)"/><rect x="658.0" y="662.0" width="30.5" height="30.5" fill="rgb(170,170,170)"/><path d="M197.5,290.0 L215.5,285.5 L229.0,294.5 L235.8,317.0 L229.0,328.2 L211.0,326.0 L197.5,314.8 Z" fill="rgb(0,0,0)"/><path d="M224.5,186.5 L256.0,186.5 L256.0,218.0 L238.0,222.5 L224.5,209.0 Z" fill="rgb(64,64,64)"/><path d="M249.2,213.5 L283.0,209.0 L283.0,249.5 L260.5,254.0 L247.0,249.5 Z" fill="rgb(212,212,212)"/><path d="M269.5,209.0 L283.0,209.0 L283.0,216.9 L269.5,216.9 Z" fill="rgb(255,255,255)"/><path d="M96.2,249.5 L125.5,249.5 L125.5,272.0 L96.2,272.0 Z" fill="rgb(212,212,212)"/><path d="M94.0,346.2 L101.9,346.2 L101.9,362.0 L94.0,362.0 Z" fill="rgb(255,255,255)"/><path d="M283.0,254.0 L296.5,254.0 L296.5,283.2 L283.0,283.2 Z" fill="rgb(0,0,0)"/><path d="M242.5,267.5 L253.8,267.5 L253.8,294.5 L242.5,294.5 Z" fill="rgb(212,212,212)"/><path d="M305.5,155.0 L328.0,155.0 L328.0,204.5 L305.5,204.5 Z" fill="rgb(212,212,212)"/><path d="M271.8,294.5 L294.2,294.5 L294.2,317.0 L271.8,317.0 Z" fill="rgb(212,212,212)"/><path d="M152.5,182.0 L220.0,182.0 L220.0,213.5 L152.5,213.5 Z" fill="rgb(170,170,170)"/><path d="M420.2,265.2 L429.2,263.0 L440.5,272.0 L440.5,285.5 L431.5,285.5 L422.5,276.5 Z" fill="rgb(255,255,255)"/><path d="M445.0,256.2 L456.2,258.5 L454.0,272.0 L442.8,272.0 Z" fill="rgb(212,212,212)"/><path d="M393.2,305.8 L433.8,305.8 L433.8,317.0 L413.5,323.8 L393.2,317.0 Z" fill="rgb(212,212,212)"/><path d="M393.2,276.5 L409.0,276.5 L409.0,294.5 L393.2,294.5 Z" fill="rgb(212,212,212)"/><path d="M328.0,188.8 L357.2,191.0 L357.2,200.0 L341.5,209.0 L328.0,209.0 Z" fill="rgb(212,212,212)"/><path d="M427.0,227.0 L445.0,222.5 L463.0,227.0 L463.0,240.5 L445.0,245.0 L427.0,240.5 Z" fill="rgb(0,0,0)"/><path d="M370.8,305.8 L388.8,305.8 L391.0,335.0 L370.8,335.0 Z" fill="rgb(0,0,0)"/><path d="M391.0,339.5 L422.5,339.5 L422.5,362.0 L391.0,362.0 Z" fill="rgb(0,0,0)"/><path d="M350.5,290.0 L368.5,290.0 L368.5,328.2 L350.5,328.2 Z" fill="rgb(212,212,212)"/><path d="M436.0,166.2 L454.0,166.2 L454.0,191.0 L436.0,191.0 Z" fill="rgb(64,64,64)"/><path d="M202.0,362.0 L238.0,362.0 L238.0,384.5 L222.2,398.0 L206.5,393.5 Z" fill="rgb(0,0,0)"/><path d="M260.5,411.5 L278.5,411.5 L278.5,429.5 L260.5,429.5 Z" fill="rgb(255,255,255)"/><path d="M260.5,436.2 L305.5,436.2 L305.5,456.5 L260.5,456.5 Z" fill="rgb(212,212,212)"/><path d="M220.0,470.0 L305.5,474.5 L305.5,506.0 L220.0,501.5 Z" fill="rgb(64,64,64)"/><path d="M283.0,492.5 L301.0,492.5 L301.0,508.2 L283.0,508.2 Z" fill="rgb(0,0,0)"/><path d="M314.5,492.5 L328.0,492.5 L328.0,508.2 L314.5,508.2 Z" fill="rgb(212,212,212)"/><path d="M276.2,517.2 L289.8,517.2 L289.8,528.5 L276.2,528.5 Z" fill="rgb(255,255,255)"/><path d="M379.8,362.0 L429.2,362.0 L429.2,386.8 L402.2,389.0 L379.8,380.0 Z" fill="rgb(0,0,0)"/><path d="M393.2,416.0 L424.8,413.8 L429.2,438.5 L406.8,445.2 L391.0,436.2 Z" fill="rgb(0,0,0)"/><path d="M404.5,465.5 L436.0,461.0 L440.5,497.0 L413.5,501.5 L402.2,488.0 Z" fill="rgb(64,64,64)"/><path d="M348.2,499.2 L366.2,497.0 L373.0,515.0 L361.8,524.0 L350.5,519.5 Z" fill="rgb(255,255,255)"/><path d="M370.8,515.0 L386.5,515.0 L386.5,533.0 L370.8,533.0 Z" fill="rgb(212,212,212)"/><path d="M348.2,445.2 L373.0,445.2 L373.0,463.2 L348.2,463.2 Z" fill="rgb(212,212,212)"/></g><path d="M226.0,394.0 L238.0,406.0 L248.0,416.0 L254.0,426.0 L258.0,438.0 L262.0,450.0 L270.0,459.0 L284.0,461.0 L298.0,459.0 L322.0,464.0 L348.0,478.0 L372.0,498.0 L392.0,518.0 L407.0,540.0" fill="none" stroke="#2a7c1a" stroke-width="3.0" stroke-linecap="round" stroke-linejoin="round"/><path d="M89.0,362.0 L92.0,380.0 L96.0,390.0 L108.0,394.0 L122.0,390.0 L132.0,380.0 L135.0,374.0" fill="none" stroke="#2a7c1a" stroke-width="2.0" stroke-linecap="round" stroke-linejoin="round"/><path d="M108.0,426.0 L124.0,436.0 L138.0,446.0 L144.0,456.0 L144.0,468.0 L138.0,478.0" fill="none" stroke="#2a7c1a" stroke-width="2.2" stroke-linecap="round" stroke-linejoin="round"/><path d="M186.0,524.0 L208.0,529.0 L228.0,537.0 L242.0,548.0 L250.0,554.0" fill="none" stroke="#2a7c1a" stroke-width="2.4" stroke-linecap="round" stroke-linejoin="round"/><rect x="383.0" y="567.0" width="13" height="11" fill="#1d7d1c"/></g>
<path d="M87.4,238.1 L102.9,238.7 L106.8,233.5 L109.4,223.9 L121.0,225.5 L127.4,216.1 L139.0,215.5 L151.9,223.2 L155.0,212.0 L156.0,200.0 L148.0,185.0 L141.8,167.5 L156.8,151.0 L170.5,146.0 L173.0,155.0 L183.0,172.5 L198.0,180.0 L220.5,178.8 L225.5,183.8 L240.5,182.5 L244.0,157.5 L263.0,151.0 L273.0,150.0 L298.0,155.0 L320.5,140.0 L323.0,130.0 L340.0,128.8 L353.8,126.0 L360.0,110.0 L377.5,102.5 L393.8,97.5 L400.0,105.0 L415.0,103.8 L416.0,96.0 L422.5,95.0 L431.0,107.5 L425.0,122.5 L437.5,126.0 L452.5,135.0 L472.5,140.0 L477.5,150.0 L482.5,167.5 L485.0,182.5 L485.0,201.0 L495.0,196.0 L500.0,204.0 L525.0,207.5 L535.0,201.0 L550.0,199.0 L567.5,204.0 L587.5,212.5 L575.0,220.0 L545.0,232.5 L530.0,242.5 L520.0,260.0 L517.5,272.5 L532.5,290.0 L525.0,297.5 L517.5,305.0 L502.5,330.0 L485.0,345.0 L472.5,367.5 L470.0,380.0 L473.8,397.5 L472.5,415.0 L465.0,425.0 L460.0,440.0 L467.5,450.0 L477.5,460.0 L487.5,482.5 L474.2,485.8 L468.3,496.7 L461.7,507.5 L460.0,502.5 L450.8,502.5 L446.7,500.8 L440.0,501.7 L435.0,507.5 L432.5,516.7 L427.5,518.3 L425.4,533.3 L431.7,535.0 L435.0,537.5 L451.7,537.1 L452.5,541.7 L457.5,543.3 L459.6,551.7 L455.0,551.7 L446.7,549.2 L436.7,551.7 L425.8,553.3 L423.3,545.0 L421.7,538.3 L416.7,535.0 L410.0,536.7 L406.7,541.7 L413.3,550.0 L418.3,558.3 L418.3,564.2 L409.2,570.0 L392.7,577.3 L384.7,576.7 L378.0,581.3 L370.0,588.0 L364.7,594.7 L359.3,599.3 L354.0,593.3 L346.0,585.3 L336.7,576.0 L327.3,565.3 L318.0,557.3 L311.3,553.3 L307.3,545.3 L302.0,540.0 L270.0,538.0 L258.0,550.7 L245.5,558.8 L230.5,555.0 L213.0,542.5 L188.0,525.0 L165.5,512.5 L148.0,495.0 L135.5,477.5 L118.0,452.5 L104.2,437.4 L95.2,428.4 L86.1,420.6 L75.8,418.1 L62.9,407.7 L61.0,401.3 L68.1,387.1 L75.8,375.5 L87.4,358.7 L92.6,360.0 L93.9,348.4 L99.0,329.0 L101.6,316.1 L100.3,290.3 L99.0,272.3 L96.5,267.1 L88.7,265.8 L86.1,245.2 Z" fill="none" stroke="#3d4a2a" stroke-width="1.3" stroke-linejoin="round"/>
</g>
<text x="102.5" y="49.2" font-size="30.8" text-anchor="start" fill="#111" textLength="39.4" lengthAdjust="spacingAndGlyphs" >(a)</text>
<text x="173.3" y="43.2" font-size="22" text-anchor="start" fill="#111" textLength="303.1" lengthAdjust="spacingAndGlyphs" >2009 Land Surface Temperature</text>
<g stroke="#000" fill="none" stroke-width="2.2" stroke-linejoin="miter"><line x1="80" y1="29.4" x2="80" y2="105.6"/><path d="M80,29.4 L92.8,62.54699999999999 L80.6,56.45099999999999"/><g stroke-width="2.5" stroke-linecap="butt"><line x1="75.0" y1="80.6064" x2="75.0" y2="99.88499999999999"/><line x1="74.6" y1="80.6064" x2="87.9" y2="99.88499999999999"/><line x1="87.6" y1="80.6064" x2="87.6" y2="99.88499999999999"/></g></g>
<text x="467.0" y="583.5" font-size="17" text-anchor="start" fill="#111" textLength="97.5" lengthAdjust="spacingAndGlyphs" >Temperature</text>
<text x="467.0" y="622.3" font-size="17" text-anchor="start" fill="#111" textLength="34.0" lengthAdjust="spacingAndGlyphs" >High</text>
<text x="467.0" y="665.0" font-size="17" text-anchor="start" fill="#111" textLength="30.0" lengthAdjust="spacingAndGlyphs" >Low</text>
<text x="342.0" y="665.0" font-size="17" text-anchor="start" fill="#111" textLength="46.0" lengthAdjust="spacingAndGlyphs" >DMDP</text>
<rect x="400" y="647.9" width="41.80000000000001" height="19.800000000000068" fill="#eeeeee" stroke="#555" stroke-width="1.4"/>
<rect x="540.5" y="604.5" width="42.700000000000045" height="64.10000000000002" fill="url(#cb)"/>
<rect x="80.5" y="632" width="153.7" height="11" fill="#f3f3f3" stroke="#000" stroke-width="1.2"/>
<rect x="80.5" y="632" width="27.5" height="11" fill="#000"/>
<rect x="131.75" y="632" width="51.25" height="11" fill="#000"/>
<text x="80.5" y="624.5" font-size="17" text-anchor="middle" fill="#111" >0</text>
<text x="131.8" y="624.5" font-size="17" text-anchor="middle" fill="#111" >4</text>
<text x="183.0" y="624.5" font-size="17" text-anchor="middle" fill="#111" >8</text>
<text x="234.2" y="624.5" font-size="17" text-anchor="middle" fill="#111" >12</text>
<text x="115.5" y="658.5" font-size="17" text-anchor="start" fill="#111" textLength="82.5" lengthAdjust="spacingAndGlyphs" >Kilometers</text>
<g clip-path="url(#pcb)">
<rect x="600" y="13.8" width="552" height="666.5" fill="#ededed"/>
<path d="M599.5,75.0 L621.5,95.0 L621.5,140.0 L611.5,175.0 L631.5,240.0" fill="none" stroke="#d2d2d2" stroke-width="1" stroke-linecap="round" stroke-linejoin="round"/><path d="M599.5,400.0 L621.5,390.0 L611.5,420.0" fill="none" stroke="#d2d2d2" stroke-width="1" stroke-linecap="round" stroke-linejoin="round"/><path d="M651.5,600.0 L701.5,610.0 L751.5,600.0 L786.5,620.0 L811.5,600.0" fill="none" stroke="#d2d2d2" stroke-width="1" stroke-linecap="round" stroke-linejoin="round"/><path d="M611.5,500.0 L651.5,520.0 L661.5,560.0 L641.5,600.0" fill="none" stroke="#d2d2d2" stroke-width="1" stroke-linecap="round" stroke-linejoin="round"/><path d="M821.5,600.0 L851.5,620.0 L881.5,610.0 L911.5,640.0 L931.5,630.0" fill="none" stroke="#d2d2d2" stroke-width="1" stroke-linecap="round" stroke-linejoin="round"/><path d="M731.5,14.0 L751.5,40.0 L781.5,50.0 L811.5,30.0" fill="none" stroke="#d2d2d2" stroke-width="1" stroke-linecap="round" stroke-linejoin="round"/><path d="M599.5,177.0 L629.5,172.0 L666.5,167.0 L691.5,165.0" fill="none" stroke="#fbfbfb" stroke-width="2" stroke-linecap="round" stroke-linejoin="round"/><path d="M679.5,163.0 L726.5,160.0 L766.5,170.0 L796.5,178.0" fill="none" stroke="#fbfbfb" stroke-width="2" stroke-linecap="round" stroke-linejoin="round"/><path d="M841.5,14.0 L839.5,60.0 L843.5,100.0 L844.5,140.0" fill="none" stroke="#fbfbfb" stroke-width="2" stroke-linecap="round" stroke-linejoin="round"/><path d="M856.5,69.0 L893.5,106.0 L921.5,115.0 L951.5,118.0" fill="none" stroke="#fbfbfb" stroke-width="1.8" stroke-linecap="round" stroke-linejoin="round"/><path d="M1071.5,480.0 L1101.5,510.0 L1126.5,537.0 L1151.5,555.0" fill="none" stroke="#fbfbfb" stroke-width="1.8" stroke-linecap="round" stroke-linejoin="round"/><path d="M1126.5,480.0 L1101.5,555.0 L1076.5,605.0 L1071.5,630.0" fill="none" stroke="#fbfbfb" stroke-width="1.6" stroke-linecap="round" stroke-linejoin="round"/><path d="M976.5,562.0 L1013.5,575.0 L1051.5,585.0 L1076.5,592.0" fill="none" stroke="#fbfbfb" stroke-width="1.8" stroke-linecap="round" stroke-linejoin="round"/><path d="M723.5,14.0 L714.5,69.0 L701.5,120.0" fill="none" stroke="#fbfbfb" stroke-width="1.6" stroke-linecap="round" stroke-linejoin="round"/><path d="M991.5,14.0 L996.5,60.0 L1021.5,100.0 L1071.5,135.0" fill="none" stroke="#fbfbfb" stroke-width="1.6" stroke-linecap="round" stroke-linejoin="round"/><path d="M1031.5,150.0 L1091.5,160.0 L1151.5,152.0" fill="none" stroke="#fbfbfb" stroke-width="1.6" stroke-linecap="round" stroke-linejoin="round"/><path d="M791.5,556.0 L778.5,576.0 L764.5,594.0 L751.5,612.0 L739.5,632.0 L728.5,655.0 L726.5,682.0" fill="none" stroke="#fbfbfb" stroke-width="2" stroke-linecap="round" stroke-linejoin="round"/><path d="M1151.5,157.0 L1121.5,160.0 L1101.5,165.0 L1095.5,175.0 L1100.5,190.0 L1121.5,197.0 L1138.5,202.0 L1143.5,212.0" fill="none" stroke="#d3d5d5" stroke-width="4.5" stroke-linecap="round" stroke-linejoin="round"/><path d="M631.5,172.0 L629.5,195.0 L633.5,230.0 L637.5,238.0" fill="none" stroke="#d3d5d5" stroke-width="3" stroke-linecap="round" stroke-linejoin="round"/><path d="M684.5,482.0 L698.5,497.0 L711.5,512.0 L736.5,527.0 L766.5,545.0 L799.5,558.0 L849.5,568.0 L881.5,580.0 L899.5,590.0 L913.5,597.0" fill="none" stroke="#d3d5d5" stroke-width="5" stroke-linecap="round" stroke-linejoin="round"/><path d="M938.5,577.0 L941.5,582.0 L946.5,595.0 L956.5,612.0 L971.5,625.0 L991.5,635.0 L1006.5,642.0 L1021.5,650.0 L1038.5,655.0 L1063.5,656.0 L1088.5,651.0 L1121.5,641.0 L1151.5,626.0" fill="none" stroke="#d3d5d5" stroke-width="13" stroke-linecap="round" stroke-linejoin="round"/><path d="M968.5,590.0 L986.5,607.0 L1001.5,620.0 L1021.5,640.0" fill="none" stroke="#d3d5d5" stroke-width="5" stroke-linecap="round" stroke-linejoin="round"/><path d="M1046.5,480.0 L1051.5,505.0 L1041.5,530.0 L1026.5,555.0 L1021.5,585.0 L1018.5,620.0 L1026.5,650.0 L1031.5,682.0" fill="none" stroke="#d3d5d5" stroke-width="5" stroke-linecap="round" stroke-linejoin="round"/><path d="M1126.5,612.0 L1151.5,592.0" fill="none" stroke="#d3d5d5" stroke-width="8" stroke-linecap="round" stroke-linejoin="round"/><path d="M599.5,442.0 L624.5,467.0 L641.5,455.0 L646.5,432.0" fill="none" stroke="#d3d5d5" stroke-width="2.5" stroke-linecap="round" stroke-linejoin="round"/><path d="M1049.5,635.0 L1076.5,643.0 L1096.5,646.0" fill="none" stroke="#d3d5d5" stroke-width="4" stroke-linecap="round" stroke-linejoin="round"/>
<defs><clipPath id="mcb"><path d="M638.9,238.1 L654.4,238.7 L658.3,233.5 L660.9,223.9 L672.5,225.5 L678.9,216.1 L690.5,215.5 L703.4,223.2 L706.5,212.0 L707.5,200.0 L699.5,185.0 L693.2,167.5 L708.2,151.0 L722.0,146.0 L724.5,155.0 L734.5,172.5 L749.5,180.0 L772.0,178.8 L777.0,183.8 L792.0,182.5 L795.5,157.5 L814.5,151.0 L824.5,150.0 L849.5,155.0 L872.0,140.0 L874.5,130.0 L891.5,128.8 L905.2,126.0 L911.5,110.0 L929.0,102.5 L945.2,97.5 L951.5,105.0 L966.5,103.8 L967.5,96.0 L974.0,95.0 L982.5,107.5 L976.5,122.5 L989.0,126.0 L1004.0,135.0 L1024.0,140.0 L1029.0,150.0 L1034.0,167.5 L1036.5,182.5 L1036.5,201.0 L1046.5,196.0 L1051.5,204.0 L1076.5,207.5 L1086.5,201.0 L1101.5,199.0 L1119.0,204.0 L1139.0,212.5 L1126.5,220.0 L1096.5,232.5 L1081.5,242.5 L1071.5,260.0 L1069.0,272.5 L1084.0,290.0 L1076.5,297.5 L1069.0,305.0 L1054.0,330.0 L1036.5,345.0 L1024.0,367.5 L1021.5,380.0 L1025.2,397.5 L1024.0,415.0 L1016.5,425.0 L1011.5,440.0 L1019.0,450.0 L1029.0,460.0 L1039.0,482.5 L1025.7,485.8 L1019.8,496.7 L1013.2,507.5 L1011.5,502.5 L1002.3,502.5 L998.2,500.8 L991.5,501.7 L986.5,507.5 L984.0,516.7 L979.0,518.3 L976.9,533.3 L983.2,535.0 L986.5,537.5 L1003.2,537.1 L1004.0,541.7 L1009.0,543.3 L1011.1,551.7 L1006.5,551.7 L998.2,549.2 L988.2,551.7 L977.3,553.3 L974.8,545.0 L973.2,538.3 L968.2,535.0 L961.5,536.7 L958.2,541.7 L964.8,550.0 L969.8,558.3 L969.8,564.2 L960.7,570.0 L944.2,577.3 L936.2,576.7 L929.5,581.3 L921.5,588.0 L916.2,594.7 L910.8,599.3 L905.5,593.3 L897.5,585.3 L888.2,576.0 L878.8,565.3 L869.5,557.3 L862.8,553.3 L858.8,545.3 L853.5,540.0 L821.5,538.0 L809.5,550.7 L797.0,558.8 L782.0,555.0 L764.5,542.5 L739.5,525.0 L717.0,512.5 L699.5,495.0 L687.0,477.5 L669.5,452.5 L655.7,437.4 L646.7,428.4 L637.6,420.6 L627.3,418.1 L614.4,407.7 L612.5,401.3 L619.6,387.1 L627.3,375.5 L638.9,358.7 L644.1,360.0 L645.4,348.4 L650.5,329.0 L653.1,316.1 L651.8,290.3 L650.5,272.3 L648.0,267.1 L640.2,265.8 L637.6,245.2 Z"/></clipPath><filter color-interpolation-filters="sRGB" id="mbb" x="-5%" y="-5%" width="110%" height="110%"><feTurbulence type="fractalNoise" baseFrequency="0.045" numOctaves="2" seed="2" result="t"/><feDisplacementMap in="SourceGraphic" in2="t" scale="24" xChannelSelector="R" yChannelSelector="G" result="d"/><feGaussianBlur in="d" stdDeviation="4.5" result="b"/><feTurbulence type="fractalNoise" baseFrequency="0.13" numOctaves="3" seed="52" result="n0"/><feColorMatrix in="n0" type="matrix" values="1 0 0 0 0  1 0 0 0 0  1 0 0 0 0  0 0 0 0 1" result="n"/><feComposite in="b" in2="n" operator="arithmetic" k1="0" k2="1" k3="0.55" k4="-0.275" result="v"/><feComponentTransfer in="v"><feFuncR type="table" tableValues="0.094 0.196 0.314 0.549 0.769 0.855 0.902 0.929 0.961 0.957 0.953 0.937 0.918"/><feFuncG type="table" tableValues="0.463 0.557 0.667 0.784 0.886 0.933 0.953 0.945 0.800 0.690 0.565 0.431 0.298"/><feFuncB type="table" tableValues="0.094 0.110 0.122 0.141 0.157 0.157 0.157 0.157 0.157 0.149 0.133 0.118 0.102"/><feFuncA type="identity"/></feComponentTransfer></filter><filter color-interpolation-filters="sRGB" id="mbbs" x="-5%" y="-5%" width="110%" height="110%"><feTurbulence type="fractalNoise" baseFrequency="0.08" numOctaves="2" seed="12" result="t"/><feDisplacementMap in="SourceGraphic" in2="t" scale="16" xChannelSelector="R" yChannelSelector="G" result="d"/><feGaussianBlur in="d" stdDeviation="2.2" result="b"/><feTurbulence type="fractalNoise" baseFrequency="0.13" numOctaves="3" seed="62" result="n0"/><feColorMatrix in="n0" type="matrix" values="1 0 0 0 0  1 0 0 0 0  1 0 0 0 0  0 0 0 0 1" result="n"/><feComposite in="b" in2="n" operator="arithmetic" k1="0" k2="1" k3="0.55" k4="-0.275" result="v"/><feComponentTransfer in="v"><feFuncR type="table" tableValues="0.094 0.196 0.314 0.549 0.769 0.855 0.902 0.929 0.961 0.957 0.953 0.937 0.918"/><feFuncG type="table" tableValues="0.463 0.557 0.667 0.784 0.886 0.933 0.953 0.945 0.800 0.690 0.565 0.431 0.298"/><feFuncB type="table" tableValues="0.094 0.110 0.122 0.141 0.157 0.157 0.157 0.157 0.157 0.149 0.133 0.118 0.102"/><feFuncA type="identity"/></feComponentTransfer></filter></defs><g clip-path="url(#mcb)"><g filter="url(#mbb)"><rect x="519.5" y="2.0" width="30.5" height="30.5" fill="rgb(85,85,85)"/><rect x="549.5" y="2.0" width="30.5" height="30.5" fill="rgb(85,85,85)"/><rect x="579.5" y="2.0" width="30.5" height="30.5" fill="rgb(85,85,85)"/><rect x="609.5" y="2.0" width="30.5" height="30.5" fill="rgb(85,85,85)"/><rect x="639.5" y="2.0" width="30.5" height="30.5" fill="rgb(85,85,85)"/><rect x="669.5" y="2.0" width="30.5" height="30.5" fill="rgb(85,85,85)"/><rect x="699.5" y="2.0" width="30.5" height="30.5" fill="rgb(85,85,85)"/><rect x="729.5" y="2.0" width="30.5" height="30.5" fill="rgb(128,128,128)"/><rect x="759.5" y="2.0" width="30.5" height="30.5" fill="rgb(128,128,128)"/><rect x="789.5" y="2.0" width="30.5" height="30.5" fill="rgb(170,170,170)"/><rect x="819.5" y="2.0" width="30.5" height="30.5" fill="rgb(85,85,85)"/><rect x="849.5" y="2.0" width="30.5" height="30.5" fill="rgb(85,85,85)"/><rect x="879.5" y="2.0" width="30.5" height="30.5" fill="rgb(42,42,42)"/><rect x="909.5" y="2.0" width="30.5" height="30.5" fill="rgb(42,42,42)"/><rect x="939.5" y="2.0" width="30.5" height="30.5" fill="rgb(85,85,85)"/><rect x="969.5" y="2.0" width="30.5" height="30.5" fill="rgb(42,42,42)"/><rect x="999.5" y="2.0" width="30.5" height="30.5" fill="rgb(42,42,42)"/><rect x="1029.5" y="2.0" width="30.5" height="30.5" fill="rgb(42,42,42)"/><rect x="1059.5" y="2.0" width="30.5" height="30.5" fill="rgb(42,42,42)"/><rect x="1089.5" y="2.0" width="30.5" height="30.5" fill="rgb(85,85,85)"/><rect x="1119.5" y="2.0" width="30.5" height="30.5" fill="rgb(85,85,85)"/><rect x="1149.5" y="2.0" width="30.5" height="30.5" fill="rgb(85,85,85)"/><rect x="1179.5" y="2.0" width="30.5" height="30.5" fill="rgb(85,85,85)"/><rect x="1209.5" y="2.0" width="30.5" height="30.5" fill="rgb(85,85,85)"/><rect x="519.5" y="32.0" width="30.5" height="30.5" fill="rgb(85,85,85)"/><rect x="549.5" y="32.0" width="30.5" height="30.5" fill="rgb(85,85,85)"/><rect x="579.5" y="32.0" width="30.5" height="30.5" fill="rgb(85,85,85)"/><rect x="609.5" y="32.0" width="30.5" height="30.5" fill="rgb(85,85,85)"/><rect x="639.5" y="32.0" width="30.5" height="30.5" fill="rgb(85,85,85)"/><rect x="669.5" y="32.0" width="30.5" height="30.5" fill="rgb(85,85,85)"/><rect x="699.5" y="32.0" width="30.5" height="30.5" fill="rgb(85,85,85)"/><rect x="729.5" y="32.0" width="30.5" height="30.5" fill="rgb(128,128,128)"/><rect x="759.5" y="32.0" width="30.5" height="30.5" fill="rgb(128,128,128)"/><rect x="789.5" y="32.0" width="30.5" height="30.5" fill="rgb(170,170,170)"/><rect x="819.5" y="32.0" width="30.5" height="30.5" fill="rgb(85,85,85)"/><rect x="849.5" y="32.0" width="30.5" height="30.5" fill="rgb(85,85,85)"/><rect x="879.5" y="32.0" width="30.5" height="30.5" fill="rgb(42,42,42)"/><rect x="909.5" y="32.0" width="30.5" height="30.5" fill="rgb(42,42,42)"/><rect x="939.5" y="32.0" width="30.5" height="30.5" fill="rgb(85,85,85)"/><rect x="969.5" y="32.0" width="30.5" height="30.5" fill="rgb(42,42,42)"/><rect x="999.5" y="32.0" width="30.5" height="30.5" fill="rgb(42,42,42)"/><rect x="1029.5" y="32.0" width="30.5" height="30.5" fill="rgb(42,42,42)"/><rect x="1059.5" y="32.0" width="30.5" height="30.5" fill="rgb(42,42,42)"/><rect x="1089.5" y="32.0" width="30.5" height="30.5" fill="rgb(85,85,85)"/><rect x="1119.5" y="32.0" width="30.5" height="30.5" fill="rgb(85,85,85)"/><rect x="1149.5" y="32.0" width="30.5" height="30.5" fill="rgb(85,85,85)"/><rect x="1179.5" y="32.0" width="30.5" height="30.5" fill="rgb(85,85,85)"/><rect x="1209.5" y="32.0" width="30.5" height="30.5" fill="rgb(85,85,85)"/><rect x="519.5" y="62.0" width="30.5" height="30.5" fill="rgb(85,85,85)"/><rect x="549.5" y="62.0" width="30.5" height="30.5" fill="rgb(85,85,85)"/><rect x="579.5" y="62.0" width="30.5" height="30.5" fill="rgb(85,85,85)"/><rect x="609.5" y="62.0" width="30.5" height="30.5" fill="rgb(85,85,85)"/><rect x="639.5" y="62.0" width="30.5" height="30.5" fill="rgb(85,85,85)"/><rect x="669.5" y="62.0" width="30.5" height="30.5" fill="rgb(85,85,85)"/><rect x="699.5" y="62.0" width="30.5" height="30.5" fill="rgb(85,85,85)"/><rect x="729.5" y="62.0" width="30.5" height="30.5" fill="rgb(128,128,128)"/><rect x="759.5" y="62.0" width="30.5" height="30.5" fill="rgb(128,128,128)"/><rect x="789.5" y="62.0" width="30.5" height="30.5" fill="rgb(170,170,170)"/><rect x="819.5" y="62.0" width="30.5" height="30.5" fill="rgb(85,85,85)"/><rect x="849.5" y="62.0" width="30.5" height="30.5" fill="rgb(85,85,85)"/><rect x="879.5" y="62.0" width="30.5" height="30.5" fill="rgb(42,42,42)"/><rect x="909.5" y="62.0" width="30.5" height="30.5" fill="rgb(42,42,42)"/><rect x="939.5" y="62.0" width="30.5" height="30.5" fill="rgb(85,85,85)"/><rect x="969.5" y="62.0" width="30.5" height="30.5" fill="rgb(42,42,42)"/><rect x="999.5" y="62.0" width="30.5" height="30.5" fill="rgb(42,42,42)"/><rect x="1029.5" y="62.0" width="30.5" height="30.5" fill="rgb(42,42,42)"/><rect x="1059.5" y="62.0" width="30.5" height="30.5" fill="rgb(42,42,42)"/><rect x="1089.5" y="62.0" width="30.5" height="30.5" fill="rgb(85,85,85)"/><rect x="1119.5" y="62.0" width="30.5" height="30.5" fill="rgb(85,85,85)"/><rect x="1149.5" y="62.0" width="30.5" height="30.5" fill="rgb(85,85,85)"/><rect x="1179.5" y="62.0" width="30.5" height="30.5" fill="rgb(85,85,85)"/><rect x="1209.5" y="62.0" width="30.5" height="30.5" fill="rgb(85,85,85)"/><rect x="519.5" y="92.0" width="30.5" height="30.5" fill="rgb(85,85,85)"/><rect x="549.5" y="92.0" width="30.5" height="30.5" fill="rgb(85,85,85)"/><rect x="579.5" y="92.0" width="30.5" height="30.5" fill="rgb(85,85,85)"/><rect x="609.5" y="92.0" width="30.5" height="30.5" fill="rgb(85,85,85)"/><rect x="639.5" y="92.0" width="30.5" height="30.5" fill="rgb(85,85,85)"/><rect x="669.5" y="92.0" width="30.5" height="30.5" fill="rgb(85,85,85)"/><rect x="699.5" y="92.0" width="30.5" height="30.5" fill="rgb(85,85,85)"/><rect x="729.5" y="92.0" width="30.5" height="30.5" fill="rgb(128,128,128)"/><rect x="759.5" y="92.0" width="30.5" height="30.5" fill="rgb(128,128,128)"/><rect x="789.5" y="92.0" width="30.5" height="30.5" fill="rgb(170,170,170)"/><rect x="819.5" y="92.0" width="30.5" height="30.5" fill="rgb(85,85,85)"/><rect x="849.5" y="92.0" width="30.5" height="30.5" fill="rgb(85,85,85)"/><rect x="879.5" y="92.0" width="30.5" height="30.5" fill="rgb(42,42,42)"/><rect x="909.5" y="92.0" width="30.5" height="30.5" fill="rgb(42,42,42)"/><rect x="939.5" y="92.0" width="30.5" height="30.5" fill="rgb(85,85,85)"/><rect x="969.5" y="92.0" width="30.5" height="30.5" fill="rgb(42,42,42)"/><rect x="999.5" y="92.0" width="30.5" height="30.5" fill="rgb(42,42,42)"/><rect x="1029.5" y="92.0" width="30.5" height="30.5" fill="rgb(42,42,42)"/><rect x="1059.5" y="92.0" width="30.5" height="30.5" fill="rgb(42,42,42)"/><rect x="1089.5" y="92.0" width="30.5" height="30.5" fill="rgb(85,85,85)"/><rect x="1119.5" y="92.0" width="30.5" height="30.5" fill="rgb(85,85,85)"/><rect x="1149.5" y="92.0" width="30.5" height="30.5" fill="rgb(85,85,85)"/><rect x="1179.5" y="92.0" width="30.5" height="30.5" fill="rgb(85,85,85)"/><rect x="1209.5" y="92.0" width="30.5" height="30.5" fill="rgb(85,85,85)"/><rect x="519.5" y="122.0" width="30.5" height="30.5" fill="rgb(85,85,85)"/><rect x="549.5" y="122.0" width="30.5" height="30.5" fill="rgb(85,85,85)"/><rect x="579.5" y="122.0" width="30.5" height="30.5" fill="rgb(85,85,85)"/><rect x="609.5" y="122.0" width="30.5" height="30.5" fill="rgb(85,85,85)"/><rect x="639.5" y="122.0" width="30.5" height="30.5" fill="rgb(85,85,85)"/><rect x="669.5" y="122.0" width="30.5" height="30.5" fill="rgb(85,85,85)"/><rect x="699.5" y="122.0" width="30.5" height="30.5" fill="rgb(85,85,85)"/><rect x="729.5" y="122.0" width="30.5" height="30.5" fill="rgb(128,128,128)"/><rect x="759.5" y="122.0" width="30.5" height="30.5" fill="rgb(128,128,128)"/><rect x="789.5" y="122.0" width="30.5" height="30.5" fill="rgb(170,170,170)"/><rect x="819.5" y="122.0" width="30.5" height="30.5" fill="rgb(85,85,85)"/><rect x="849.5" y="122.0" width="30.5" height="30.5" fill="rgb(85,85,85)"/><rect x="879.5" y="122.0" width="30.5" height="30.5" fill="rgb(170,170,170)"/><rect x="909.5" y="122.0" width="30.5" height="30.5" fill="rgb(85,85,85)"/><rect x="939.5" y="122.0" width="30.5" height="30.5" fill="rgb(85,85,85)"/><rect x="969.5" y="122.0" width="30.5" height="30.5" fill="rgb(85,85,85)"/><rect x="999.5" y="122.0" width="30.5" height="30.5" fill="rgb(42,42,42)"/><rect x="1029.5" y="122.0" width="30.5" height="30.5" fill="rgb(42,42,42)"/><rect x="1059.5" y="122.0" width="30.5" height="30.5" fill="rgb(42,42,42)"/><rect x="1089.5" y="122.0" width="30.5" height="30.5" fill="rgb(85,85,85)"/><rect x="1119.5" y="122.0" width="30.5" height="30.5" fill="rgb(85,85,85)"/><rect x="1149.5" y="122.0" width="30.5" height="30.5" fill="rgb(85,85,85)"/><rect x="1179.5" y="122.0" width="30.5" height="30.5" fill="rgb(85,85,85)"/><rect x="1209.5" y="122.0" width="30.5" height="30.5" fill="rgb(85,85,85)"/><rect x="519.5" y="152.0" width="30.5" height="30.5" fill="rgb(85,85,85)"/><rect x="549.5" y="152.0" width="30.5" height="30.5" fill="rgb(85,85,85)"/><rect x="579.5" y="152.0" width="30.5" height="30.5" fill="rgb(85,85,85)"/><rect x="609.5" y="152.0" width="30.5" height="30.5" fill="rgb(85,85,85)"/><rect x="639.5" y="152.0" width="30.5" height="30.5" fill="rgb(85,85,85)"/><rect x="669.5" y="152.0" width="30.5" height="30.5" fill="rgb(85,85,85)"/><rect x="699.5" y="152.0" width="30.5" height="30.5" fill="rgb(85,85,85)"/><rect x="729.5" y="152.0" width="30.5" height="30.5" fill="rgb(128,128,128)"/><rect x="759.5" y="152.0" width="30.5" height="30.5" fill="rgb(128,128,128)"/><rect x="789.5" y="152.0" width="30.5" height="30.5" fill="rgb(170,170,170)"/><rect x="819.5" y="152.0" width="30.5" height="30.5" fill="rgb(85,85,85)"/><rect x="849.5" y="152.0" width="30.5" height="30.5" fill="rgb(170,170,170)"/><rect x="879.5" y="152.0" width="30.5" height="30.5" fill="rgb(170,170,170)"/><rect x="909.5" y="152.0" width="30.5" height="30.5" fill="rgb(85,85,85)"/><rect x="939.5" y="152.0" width="30.5" height="30.5" fill="rgb(85,85,85)"/><rect x="969.5" y="152.0" width="30.5" height="30.5" fill="rgb(42,42,42)"/><rect x="999.5" y="152.0" width="30.5" height="30.5" fill="rgb(42,42,42)"/><rect x="1029.5" y="152.0" width="30.5" height="30.5" fill="rgb(42,42,42)"/><rect x="1059.5" y="152.0" width="30.5" height="30.5" fill="rgb(42,42,42)"/><rect x="1089.5" y="152.0" width="30.5" height="30.5" fill="rgb(85,85,85)"/><rect x="1119.5" y="152.0" width="30.5" height="30.5" fill="rgb(85,85,85)"/><rect x="1149.5" y="152.0" width="30.5" height="30.5" fill="rgb(85,85,85)"/><rect x="1179.5" y="152.0" width="30.5" height="30.5" fill="rgb(85,85,85)"/><rect x="1209.5" y="152.0" width="30.5" height="30.5" fill="rgb(85,85,85)"/><rect x="519.5" y="182.0" width="30.5" height="30.5" fill="rgb(85,85,85)"/><rect x="549.5" y="182.0" width="30.5" height="30.5" fill="rgb(85,85,85)"/><rect x="579.5" y="182.0" width="30.5" height="30.5" fill="rgb(85,85,85)"/><rect x="609.5" y="182.0" width="30.5" height="30.5" fill="rgb(85,85,85)"/><rect x="639.5" y="182.0" width="30.5" height="30.5" fill="rgb(85,85,85)"/><rect x="669.5" y="182.0" width="30.5" height="30.5" fill="rgb(170,170,170)"/><rect x="699.5" y="182.0" width="30.5" height="30.5" fill="rgb(170,170,170)"/><rect x="729.5" y="182.0" width="30.5" height="30.5" fill="rgb(128,128,128)"/><rect x="759.5" y="182.0" width="30.5" height="30.5" fill="rgb(128,128,128)"/><rect x="789.5" y="182.0" width="30.5" height="30.5" fill="rgb(42,42,42)"/><rect x="819.5" y="182.0" width="30.5" height="30.5" fill="rgb(170,170,170)"/><rect x="849.5" y="182.0" width="30.5" height="30.5" fill="rgb(212,212,212)"/><rect x="879.5" y="182.0" width="30.5" height="30.5" fill="rgb(212,212,212)"/><rect x="909.5" y="182.0" width="30.5" height="30.5" fill="rgb(85,85,85)"/><rect x="939.5" y="182.0" width="30.5" height="30.5" fill="rgb(42,42,42)"/><rect x="969.5" y="182.0" width="30.5" height="30.5" fill="rgb(85,85,85)"/><rect x="999.5" y="182.0" width="30.5" height="30.5" fill="rgb(85,85,85)"/><rect x="1029.5" y="182.0" width="30.5" height="30.5" fill="rgb(42,42,42)"/><rect x="1059.5" y="182.0" width="30.5" height="30.5" fill="rgb(42,42,42)"/><rect x="1089.5" y="182.0" width="30.5" height="30.5" fill="rgb(85,85,85)"/><rect x="1119.5" y="182.0" width="30.5" height="30.5" fill="rgb(85,85,85)"/><rect x="1149.5" y="182.0" width="30.5" height="30.5" fill="rgb(85,85,85)"/><rect x="1179.5" y="182.0" width="30.5" height="30.5" fill="rgb(85,85,85)"/><rect x="1209.5" y="182.0" width="30.5" height="30.5" fill="rgb(85,85,85)"/><rect x="519.5" y="212.0" width="30.5" height="30.5" fill="rgb(85,85,85)"/><rect x="549.5" y="212.0" width="30.5" height="30.5" fill="rgb(85,85,85)"/><rect x="579.5" y="212.0" width="30.5" height="30.5" fill="rgb(85,85,85)"/><rect x="609.5" y="212.0" width="30.5" height="30.5" fill="rgb(85,85,85)"/><rect x="639.5" y="212.0" width="30.5" height="30.5" fill="rgb(85,85,85)"/><rect x="669.5" y="212.0" width="30.5" height="30.5" fill="rgb(85,85,85)"/><rect x="699.5" y="212.0" width="30.5" height="30.5" fill="rgb(128,128,128)"/><rect x="729.5" y="212.0" width="30.5" height="30.5" fill="rgb(128,128,128)"/><rect x="759.5" y="212.0" width="30.5" height="30.5" fill="rgb(128,128,128)"/><rect x="789.5" y="212.0" width="30.5" height="30.5" fill="rgb(170,170,170)"/><rect x="819.5" y="212.0" width="30.5" height="30.5" fill="rgb(170,170,170)"/><rect x="849.5" y="212.0" width="30.5" height="30.5" fill="rgb(170,170,170)"/><rect x="879.5" y="212.0" width="30.5" height="30.5" fill="rgb(170,170,170)"/><rect x="909.5" y="212.0" width="30.5" height="30.5" fill="rgb(85,85,85)"/><rect x="939.5" y="212.0" width="30.5" height="30.5" fill="rgb(42,42,42)"/><rect x="969.5" y="212.0" width="30.5" height="30.5" fill="rgb(128,128,128)"/><rect x="999.5" y="212.0" width="30.5" height="30.5" fill="rgb(170,170,170)"/><rect x="1029.5" y="212.0" width="30.5" height="30.5" fill="rgb(42,42,42)"/><rect x="1059.5" y="212.0" width="30.5" height="30.5" fill="rgb(42,42,42)"/><rect x="1089.5" y="212.0" width="30.5" height="30.5" fill="rgb(85,85,85)"/><rect x="1119.5" y="212.0" width="30.5" height="30.5" fill="rgb(85,85,85)"/><rect x="1149.5" y="212.0" width="30.5" height="30.5" fill="rgb(85,85,85)"/><rect x="1179.5" y="212.0" width="30.5" height="30.5" fill="rgb(85,85,85)"/><rect x="1209.5" y="212.0" width="30.5" height="30.5" fill="rgb(85,85,85)"/><rect x="519.5" y="242.0" width="30.5" height="30.5" fill="rgb(85,85,85)"/><rect x="549.5" y="242.0" width="30.5" height="30.5" fill="rgb(85,85,85)"/><rect x="579.5" y="242.0" width="30.5" height="30.5" fill="rgb(85,85,85)"/><rect x="609.5" y="242.0" width="30.5" height="30.5" fill="rgb(85,85,85)"/><rect x="639.5" y="242.0" width="30.5" height="30.5" fill="rgb(170,170,170)"/><rect x="669.5" y="242.0" width="30.5" height="30.5" fill="rgb(85,85,85)"/><rect x="699.5" y="242.0" width="30.5" height="30.5" fill="rgb(128,128,128)"/><rect x="729.5" y="242.0" width="30.5" height="30.5" fill="rgb(128,128,128)"/><rect x="759.5" y="242.0" width="30.5" height="30.5" fill="rgb(42,42,42)"/><rect x="789.5" y="242.0" width="30.5" height="30.5" fill="rgb(85,85,85)"/><rect x="819.5" y="242.0" width="30.5" height="30.5" fill="rgb(212,212,212)"/><rect x="849.5" y="242.0" width="30.5" height="30.5" fill="rgb(170,170,170)"/><rect x="879.5" y="242.0" width="30.5" height="30.5" fill="rgb(128,128,128)"/><rect x="909.5" y="242.0" width="30.5" height="30.5" fill="rgb(85,85,85)"/><rect x="939.5" y="242.0" width="30.5" height="30.5" fill="rgb(42,42,42)"/><rect x="969.5" y="242.0" width="30.5" height="30.5" fill="rgb(212,212,212)"/><rect x="999.5" y="242.0" width="30.5" height="30.5" fill="rgb(170,170,170)"/><rect x="1029.5" y="242.0" width="30.5" height="30.5" fill="rgb(170,170,170)"/><rect x="1059.5" y="242.0" width="30.5" height="30.5" fill="rgb(85,85,85)"/><rect x="1089.5" y="242.0" width="30.5" height="30.5" fill="rgb(85,85,85)"/><rect x="1119.5" y="242.0" width="30.5" height="30.5" fill="rgb(85,85,85)"/><rect x="1149.5" y="242.0" width="30.5" height="30.5" fill="rgb(85,85,85)"/><rect x="1179.5" y="242.0" width="30.5" height="30.5" fill="rgb(85,85,85)"/><rect x="1209.5" y="242.0" width="30.5" height="30.5" fill="rgb(85,85,85)"/><rect x="519.5" y="272.0" width="30.5" height="30.5" fill="rgb(85,85,85)"/><rect x="549.5" y="272.0" width="30.5" height="30.5" fill="rgb(85,85,85)"/><rect x="579.5" y="272.0" width="30.5" height="30.5" fill="rgb(85,85,85)"/><rect x="609.5" y="272.0" width="30.5" height="30.5" fill="rgb(85,85,85)"/><rect x="639.5" y="272.0" width="30.5" height="30.5" fill="rgb(128,128,128)"/><rect x="669.5" y="272.0" width="30.5" height="30.5" fill="rgb(85,85,85)"/><rect x="699.5" y="272.0" width="30.5" height="30.5" fill="rgb(85,85,85)"/><rect x="729.5" y="272.0" width="30.5" height="30.5" fill="rgb(85,85,85)"/><rect x="759.5" y="272.0" width="30.5" height="30.5" fill="rgb(0,0,0)"/><rect x="789.5" y="272.0" width="30.5" height="30.5" fill="rgb(170,170,170)"/><rect x="819.5" y="272.0" width="30.5" height="30.5" fill="rgb(170,170,170)"/><rect x="849.5" y="272.0" width="30.5" height="30.5" fill="rgb(170,170,170)"/><rect x="879.5" y="272.0" width="30.5" height="30.5" fill="rgb(128,128,128)"/><rect x="909.5" y="272.0" width="30.5" height="30.5" fill="rgb(128,128,128)"/><rect x="939.5" y="272.0" width="30.5" height="30.5" fill="rgb(212,212,212)"/><rect x="969.5" y="272.0" width="30.5" height="30.5" fill="rgb(212,212,212)"/><rect x="999.5" y="272.0" width="30.5" height="30.5" fill="rgb(170,170,170)"/><rect x="1029.5" y="272.0" width="30.5" height="30.5" fill="rgb(85,85,85)"/><rect x="1059.5" y="272.0" width="30.5" height="30.5" fill="rgb(85,85,85)"/><rect x="1089.5" y="272.0" width="30.5" height="30.5" fill="rgb(85,85,85)"/><rect x="1119.5" y="272.0" width="30.5" height="30.5" fill="rgb(85,85,85)"/><rect x="1149.5" y="272.0" width="30.5" height="30.5" fill="rgb(85,85,85)"/><rect x="1179.5" y="272.0" width="30.5" height="30.5" fill="rgb(85,85,85)"/><rect x="1209.5" y="272.0" width="30.5" height="30.5" fill="rgb(85,85,85)"/><rect x="519.5" y="302.0" width="30.5" height="30.5" fill="rgb(170,170,170)"/><rect x="549.5" y="302.0" width="30.5" height="30.5" fill="rgb(170,170,170)"/><rect x="579.5" y="302.0" width="30.5" height="30.5" fill="rgb(170,170,170)"/><rect x="609.5" y="302.0" width="30.5" height="30.5" fill="rgb(170,170,170)"/><rect x="639.5" y="302.0" width="30.5" height="30.5" fill="rgb(170,170,170)"/><rect x="669.5" y="302.0" width="30.5" height="30.5" fill="rgb(128,128,128)"/><rect x="699.5" y="302.0" width="30.5" height="30.5" fill="rgb(85,85,85)"/><rect x="729.5" y="302.0" width="30.5" height="30.5" fill="rgb(42,42,42)"/><rect x="759.5" y="302.0" width="30.5" height="30.5" fill="rgb(0,0,0)"/><rect x="789.5" y="302.0" width="30.5" height="30.5" fill="rgb(128,128,128)"/><rect x="819.5" y="302.0" width="30.5" height="30.5" fill="rgb(170,170,170)"/><rect x="849.5" y="302.0" width="30.5" height="30.5" fill="rgb(170,170,170)"/><rect x="879.5" y="302.0" width="30.5" height="30.5" fill="rgb(85,85,85)"/><rect x="909.5" y="302.0" width="30.5" height="30.5" fill="rgb(212,212,212)"/><rect x="939.5" y="302.0" width="30.5" height="30.5" fill="rgb(170,170,170)"/><rect x="969.5" y="302.0" width="30.5" height="30.5" fill="rgb(170,170,170)"/><rect x="999.5" y="302.0" width="30.5" height="30.5" fill="rgb(212,212,212)"/><rect x="1029.5" y="302.0" width="30.5" height="30.5" fill="rgb(170,170,170)"/><rect x="1059.5" y="302.0" width="30.5" height="30.5" fill="rgb(42,42,42)"/><rect x="1089.5" y="302.0" width="30.5" height="30.5" fill="rgb(42,42,42)"/><rect x="1119.5" y="302.0" width="30.5" height="30.5" fill="rgb(42,42,42)"/><rect x="1149.5" y="302.0" width="30.5" height="30.5" fill="rgb(42,42,42)"/><rect x="1179.5" y="302.0" width="30.5" height="30.5" fill="rgb(42,42,42)"/><rect x="1209.5" y="302.0" width="30.5" height="30.5" fill="rgb(42,42,42)"/><rect x="519.5" y="332.0" width="30.5" height="30.5" fill="rgb(212,212,212)"/><rect x="549.5" y="332.0" width="30.5" height="30.5" fill="rgb(212,212,212)"/><rect x="579.5" y="332.0" width="30.5" height="30.5" fill="rgb(212,212,212)"/><rect x="609.5" y="332.0" width="30.5" height="30.5" fill="rgb(212,212,212)"/><rect x="639.5" y="332.0" width="30.5" height="30.5" fill="rgb(212,212,212)"/><rect x="669.5" y="332.0" width="30.5" height="30.5" fill="rgb(128,128,128)"/><rect x="699.5" y="332.0" width="30.5" height="30.5" fill="rgb(128,128,128)"/><rect x="729.5" y="332.0" width="30.5" height="30.5" fill="rgb(85,85,85)"/><rect x="759.5" y="332.0" width="30.5" height="30.5" fill="rgb(128,128,128)"/><rect x="789.5" y="332.0" width="30.5" height="30.5" fill="rgb(170,170,170)"/><rect x="819.5" y="332.0" width="30.5" height="30.5" fill="rgb(170,170,170)"/><rect x="849.5" y="332.0" width="30.5" height="30.5" fill="rgb(128,128,128)"/><rect x="879.5" y="332.0" width="30.5" height="30.5" fill="rgb(42,42,42)"/><rect x="909.5" y="332.0" width="30.5" height="30.5" fill="rgb(170,170,170)"/><rect x="939.5" y="332.0" width="30.5" height="30.5" fill="rgb(128,128,128)"/><rect x="969.5" y="332.0" width="30.5" height="30.5" fill="rgb(85,85,85)"/><rect x="999.5" y="332.0" width="30.5" height="30.5" fill="rgb(212,212,212)"/><rect x="1029.5" y="332.0" width="30.5" height="30.5" fill="rgb(85,85,85)"/><rect x="1059.5" y="332.0" width="30.5" height="30.5" fill="rgb(42,42,42)"/><rect x="1089.5" y="332.0" width="30.5" height="30.5" fill="rgb(42,42,42)"/><rect x="1119.5" y="332.0" width="30.5" height="30.5" fill="rgb(42,42,42)"/><rect x="1149.5" y="332.0" width="30.5" height="30.5" fill="rgb(42,42,42)"/><rect x="1179.5" y="332.0" width="30.5" height="30.5" fill="rgb(42,42,42)"/><rect x="1209.5" y="332.0" width="30.5" height="30.5" fill="rgb(42,42,42)"/><rect x="519.5" y="362.0" width="30.5" height="30.5" fill="rgb(128,128,128)"/><rect x="549.5" y="362.0" width="30.5" height="30.5" fill="rgb(128,128,128)"/><rect x="579.5" y="362.0" width="30.5" height="30.5" fill="rgb(128,128,128)"/><rect x="609.5" y="362.0" width="30.5" height="30.5" fill="rgb(128,128,128)"/><rect x="639.5" y="362.0" width="30.5" height="30.5" fill="rgb(170,170,170)"/><rect x="669.5" y="362.0" width="30.5" height="30.5" fill="rgb(85,85,85)"/><rect x="699.5" y="362.0" width="30.5" height="30.5" fill="rgb(85,85,85)"/><rect x="729.5" y="362.0" width="30.5" height="30.5" fill="rgb(85,85,85)"/><rect x="759.5" y="362.0" width="30.5" height="30.5" fill="rgb(85,85,85)"/><rect x="789.5" y="362.0" width="30.5" height="30.5" fill="rgb(170,170,170)"/><rect x="819.5" y="362.0" width="30.5" height="30.5" fill="rgb(170,170,170)"/><rect x="849.5" y="362.0" width="30.5" height="30.5" fill="rgb(128,128,128)"/><rect x="879.5" y="362.0" width="30.5" height="30.5" fill="rgb(85,85,85)"/><rect x="909.5" y="362.0" width="30.5" height="30.5" fill="rgb(85,85,85)"/><rect x="939.5" y="362.0" width="30.5" height="30.5" fill="rgb(42,42,42)"/><rect x="969.5" y="362.0" width="30.5" height="30.5" fill="rgb(42,42,42)"/><rect x="999.5" y="362.0" width="30.5" height="30.5" fill="rgb(42,42,42)"/><rect x="1029.5" y="362.0" width="30.5" height="30.5" fill="rgb(85,85,85)"/><rect x="1059.5" y="362.0" width="30.5" height="30.5" fill="rgb(42,42,42)"/><rect x="1089.5" y="362.0" width="30.5" height="30.5" fill="rgb(42,42,42)"/><rect x="1119.5" y="362.0" width="30.5" height="30.5" fill="rgb(42,42,42)"/><rect x="1149.5" y="362.0" width="30.5" height="30.5" fill="rgb(42,42,42)"/><rect x="1179.5" y="362.0" width="30.5" height="30.5" fill="rgb(42,42,42)"/><rect x="1209.5" y="362.0" width="30.5" height="30.5" fill="rgb(42,42,42)"/><rect x="519.5" y="392.0" width="30.5" height="30.5" fill="rgb(85,85,85)"/><rect x="549.5" y="392.0" width="30.5" height="30.5" fill="rgb(85,85,85)"/><rect x="579.5" y="392.0" width="30.5" height="30.5" fill="rgb(85,85,85)"/><rect x="609.5" y="392.0" width="30.5" height="30.5" fill="rgb(85,85,85)"/><rect x="639.5" y="392.0" width="30.5" height="30.5" fill="rgb(85,85,85)"/><rect x="669.5" y="392.0" width="30.5" height="30.5" fill="rgb(85,85,85)"/><rect x="699.5" y="392.0" width="30.5" height="30.5" fill="rgb(85,85,85)"/><rect x="729.5" y="392.0" width="30.5" height="30.5" fill="rgb(85,85,85)"/><rect x="759.5" y="392.0" width="30.5" height="30.5" fill="rgb(85,85,85)"/><rect x="789.5" y="392.0" width="30.5" height="30.5" fill="rgb(170,170,170)"/><rect x="819.5" y="392.0" width="30.5" height="30.5" fill="rgb(170,170,170)"/><rect x="849.5" y="392.0" width="30.5" height="30.5" fill="rgb(85,85,85)"/><rect x="879.5" y="392.0" width="30.5" height="30.5" fill="rgb(85,85,85)"/><rect x="909.5" y="392.0" width="30.5" height="30.5" fill="rgb(85,85,85)"/><rect x="939.5" y="392.0" width="30.5" height="30.5" fill="rgb(42,42,42)"/><rect x="969.5" y="392.0" width="30.5" height="30.5" fill="rgb(42,42,42)"/><rect x="999.5" y="392.0" width="30.5" height="30.5" fill="rgb(85,85,85)"/><rect x="1029.5" y="392.0" width="30.5" height="30.5" fill="rgb(85,85,85)"/><rect x="1059.5" y="392.0" width="30.5" height="30.5" fill="rgb(85,85,85)"/><rect x="1089.5" y="392.0" width="30.5" height="30.5" fill="rgb(85,85,85)"/><rect x="1119.5" y="392.0" width="30.5" height="30.5" fill="rgb(85,85,85)"/><rect x="1149.5" y="392.0" width="30.5" height="30.5" fill="rgb(85,85,85)"/><rect x="1179.5" y="392.0" width="30.5" height="30.5" fill="rgb(85,85,85)"/><rect x="1209.5" y="392.0" width="30.5" height="30.5" fill="rgb(85,85,85)"/><rect x="519.5" y="422.0" width="30.5" height="30.5" fill="rgb(85,85,85)"/><rect x="549.5" y="422.0" width="30.5" height="30.5" fill="rgb(85,85,85)"/><rect x="579.5" y="422.0" width="30.5" height="30.5" fill="rgb(85,85,85)"/><rect x="609.5" y="422.0" width="30.5" height="30.5" fill="rgb(85,85,85)"/><rect x="639.5" y="422.0" width="30.5" height="30.5" fill="rgb(128,128,128)"/><rect x="669.5" y="422.0" width="30.5" height="30.5" fill="rgb(128,128,128)"/><rect x="699.5" y="422.0" width="30.5" height="30.5" fill="rgb(128,128,128)"/><rect x="729.5" y="422.0" width="30.5" height="30.5" fill="rgb(85,85,85)"/><rect x="759.5" y="422.0" width="30.5" height="30.5" fill="rgb(128,128,128)"/><rect x="789.5" y="422.0" width="30.5" height="30.5" fill="rgb(128,128,128)"/><rect x="819.5" y="422.0" width="30.5" height="30.5" fill="rgb(170,170,170)"/><rect x="849.5" y="422.0" width="30.5" height="30.5" fill="rgb(170,170,170)"/><rect x="879.5" y="422.0" width="30.5" height="30.5" fill="rgb(170,170,170)"/><rect x="909.5" y="422.0" width="30.5" height="30.5" fill="rgb(85,85,85)"/><rect x="939.5" y="422.0" width="30.5" height="30.5" fill="rgb(0,0,0)"/><rect x="969.5" y="422.0" width="30.5" height="30.5" fill="rgb(85,85,85)"/><rect x="999.5" y="422.0" width="30.5" height="30.5" fill="rgb(128,128,128)"/><rect x="1029.5" y="422.0" width="30.5" height="30.5" fill="rgb(128,128,128)"/><rect x="1059.5" y="422.0" width="30.5" height="30.5" fill="rgb(128,128,128)"/><rect x="1089.5" y="422.0" width="30.5" height="30.5" fill="rgb(128,128,128)"/><rect x="1119.5" y="422.0" width="30.5" height="30.5" fill="rgb(128,128,128)"/><rect x="1149.5" y="422.0" width="30.5" height="30.5" fill="rgb(128,128,128)"/><rect x="1179.5" y="422.0" width="30.5" height="30.5" fill="rgb(128,128,128)"/><rect x="1209.5" y="422.0" width="30.5" height="30.5" fill="rgb(128,128,128)"/><rect x="519.5" y="452.0" width="30.5" height="30.5" fill="rgb(85,85,85)"/><rect x="549.5" y="452.0" width="30.5" height="30.5" fill="rgb(85,85,85)"/><rect x="579.5" y="452.0" width="30.5" height="30.5" fill="rgb(85,85,85)"/><rect x="609.5" y="452.0" width="30.5" height="30.5" fill="rgb(85,85,85)"/><rect x="639.5" y="452.0" width="30.5" height="30.5" fill="rgb(128,128,128)"/><rect x="669.5" y="452.0" width="30.5" height="30.5" fill="rgb(128,128,128)"/><rect x="699.5" y="452.0" width="30.5" height="30.5" fill="rgb(85,85,85)"/><rect x="729.5" y="452.0" width="30.5" height="30.5" fill="rgb(128,128,128)"/><rect x="759.5" y="452.0" width="30.5" height="30.5" fill="rgb(128,128,128)"/><rect x="789.5" y="452.0" width="30.5" height="30.5" fill="rgb(128,128,128)"/><rect x="819.5" y="452.0" width="30.5" height="30.5" fill="rgb(128,128,128)"/><rect x="849.5" y="452.0" width="30.5" height="30.5" fill="rgb(170,170,170)"/><rect x="879.5" y="452.0" width="30.5" height="30.5" fill="rgb(170,170,170)"/><rect x="909.5" y="452.0" width="30.5" height="30.5" fill="rgb(128,128,128)"/><rect x="939.5" y="452.0" width="30.5" height="30.5" fill="rgb(128,128,128)"/><rect x="969.5" y="452.0" width="30.5" height="30.5" fill="rgb(42,42,42)"/><rect x="999.5" y="452.0" width="30.5" height="30.5" fill="rgb(128,128,128)"/><rect x="1029.5" y="452.0" width="30.5" height="30.5" fill="rgb(128,128,128)"/><rect x="1059.5" y="452.0" width="30.5" height="30.5" fill="rgb(128,128,128)"/><rect x="1089.5" y="452.0" width="30.5" height="30.5" fill="rgb(128,128,128)"/><rect x="1119.5" y="452.0" width="30.5" height="30.5" fill="rgb(128,128,128)"/><rect x="1149.5" y="452.0" width="30.5" height="30.5" fill="rgb(128,128,128)"/><rect x="1179.5" y="452.0" width="30.5" height="30.5" fill="rgb(128,128,128)"/><rect x="1209.5" y="452.0" width="30.5" height="30.5" fill="rgb(128,128,128)"/><rect x="519.5" y="482.0" width="30.5" height="30.5" fill="rgb(85,85,85)"/><rect x="549.5" y="482.0" width="30.5" height="30.5" fill="rgb(85,85,85)"/><rect x="579.5" y="482.0" width="30.5" height="30.5" fill="rgb(85,85,85)"/><rect x="609.5" y="482.0" width="30.5" height="30.5" fill="rgb(85,85,85)"/><rect x="639.5" y="482.0" width="30.5" height="30.5" fill="rgb(128,128,128)"/><rect x="669.5" y="482.0" width="30.5" height="30.5" fill="rgb(128,128,128)"/><rect x="699.5" y="482.0" width="30.5" height="30.5" fill="rgb(128,128,128)"/><rect x="729.5" y="482.0" width="30.5" height="30.5" fill="rgb(85,85,85)"/><rect x="759.5" y="482.0" width="30.5" height="30.5" fill="rgb(85,85,85)"/><rect x="789.5" y="482.0" width="30.5" height="30.5" fill="rgb(85,85,85)"/><rect x="819.5" y="482.0" width="30.5" height="30.5" fill="rgb(85,85,85)"/><rect x="849.5" y="482.0" width="30.5" height="30.5" fill="rgb(212,212,212)"/><rect x="879.5" y="482.0" width="30.5" height="30.5" fill="rgb(212,212,212)"/><rect x="909.5" y="482.0" width="30.5" height="30.5" fill="rgb(170,170,170)"/><rect x="939.5" y="482.0" width="30.5" height="30.5" fill="rgb(85,85,85)"/><rect x="969.5" y="482.0" width="30.5" height="30.5" fill="rgb(42,42,42)"/><rect x="999.5" y="482.0" width="30.5" height="30.5" fill="rgb(85,85,85)"/><rect x="1029.5" y="482.0" width="30.5" height="30.5" fill="rgb(128,128,128)"/><rect x="1059.5" y="482.0" width="30.5" height="30.5" fill="rgb(128,128,128)"/><rect x="1089.5" y="482.0" width="30.5" height="30.5" fill="rgb(128,128,128)"/><rect x="1119.5" y="482.0" width="30.5" height="30.5" fill="rgb(128,128,128)"/><rect x="1149.5" y="482.0" width="30.5" height="30.5" fill="rgb(128,128,128)"/><rect x="1179.5" y="482.0" width="30.5" height="30.5" fill="rgb(128,128,128)"/><rect x="1209.5" y="482.0" width="30.5" height="30.5" fill="rgb(128,128,128)"/><rect x="519.5" y="512.0" width="30.5" height="30.5" fill="rgb(128,128,128)"/><rect x="549.5" y="512.0" width="30.5" height="30.5" fill="rgb(128,128,128)"/><rect x="579.5" y="512.0" width="30.5" height="30.5" fill="rgb(128,128,128)"/><rect x="609.5" y="512.0" width="30.5" height="30.5" fill="rgb(128,128,128)"/><rect x="639.5" y="512.0" width="30.5" height="30.5" fill="rgb(128,128,128)"/><rect x="669.5" y="512.0" width="30.5" height="30.5" fill="rgb(128,128,128)"/><rect x="699.5" y="512.0" width="30.5" height="30.5" fill="rgb(128,128,128)"/><rect x="729.5" y="512.0" width="30.5" height="30.5" fill="rgb(128,128,128)"/><rect x="759.5" y="512.0" width="30.5" height="30.5" fill="rgb(128,128,128)"/><rect x="789.5" y="512.0" width="30.5" height="30.5" fill="rgb(85,85,85)"/><rect x="819.5" y="512.0" width="30.5" height="30.5" fill="rgb(170,170,170)"/><rect x="849.5" y="512.0" width="30.5" height="30.5" fill="rgb(128,128,128)"/><rect x="879.5" y="512.0" width="30.5" height="30.5" fill="rgb(212,212,212)"/><rect x="909.5" y="512.0" width="30.5" height="30.5" fill="rgb(212,212,212)"/><rect x="939.5" y="512.0" width="30.5" height="30.5" fill="rgb(128,128,128)"/><rect x="969.5" y="512.0" width="30.5" height="30.5" fill="rgb(85,85,85)"/><rect x="999.5" y="512.0" width="30.5" height="30.5" fill="rgb(128,128,128)"/><rect x="1029.5" y="512.0" width="30.5" height="30.5" fill="rgb(128,128,128)"/><rect x="1059.5" y="512.0" width="30.5" height="30.5" fill="rgb(128,128,128)"/><rect x="1089.5" y="512.0" width="30.5" height="30.5" fill="rgb(128,128,128)"/><rect x="1119.5" y="512.0" width="30.5" height="30.5" fill="rgb(128,128,128)"/><rect x="1149.5" y="512.0" width="30.5" height="30.5" fill="rgb(128,128,128)"/><rect x="1179.5" y="512.0" width="30.5" height="30.5" fill="rgb(128,128,128)"/><rect x="1209.5" y="512.0" width="30.5" height="30.5" fill="rgb(128,128,128)"/><rect x="519.5" y="542.0" width="30.5" height="30.5" fill="rgb(128,128,128)"/><rect x="549.5" y="542.0" width="30.5" height="30.5" fill="rgb(128,128,128)"/><rect x="579.5" y="542.0" width="30.5" height="30.5" fill="rgb(128,128,128)"/><rect x="609.5" y="542.0" width="30.5" height="30.5" fill="rgb(128,128,128)"/><rect x="639.5" y="542.0" width="30.5" height="30.5" fill="rgb(128,128,128)"/><rect x="669.5" y="542.0" width="30.5" height="30.5" fill="rgb(128,128,128)"/><rect x="699.5" y="542.0" width="30.5" height="30.5" fill="rgb(128,128,128)"/><rect x="729.5" y="542.0" width="30.5" height="30.5" fill="rgb(128,128,128)"/><rect x="759.5" y="542.0" width="30.5" height="30.5" fill="rgb(85,85,85)"/><rect x="789.5" y="542.0" width="30.5" height="30.5" fill="rgb(128,128,128)"/><rect x="819.5" y="542.0" width="30.5" height="30.5" fill="rgb(170,170,170)"/><rect x="849.5" y="542.0" width="30.5" height="30.5" fill="rgb(85,85,85)"/><rect x="879.5" y="542.0" width="30.5" height="30.5" fill="rgb(128,128,128)"/><rect x="909.5" y="542.0" width="30.5" height="30.5" fill="rgb(128,128,128)"/><rect x="939.5" y="542.0" width="30.5" height="30.5" fill="rgb(128,128,128)"/><rect x="969.5" y="542.0" width="30.5" height="30.5" fill="rgb(170,170,170)"/><rect x="999.5" y="542.0" width="30.5" height="30.5" fill="rgb(170,170,170)"/><rect x="1029.5" y="542.0" width="30.5" height="30.5" fill="rgb(170,170,170)"/><rect x="1059.5" y="542.0" width="30.5" height="30.5" fill="rgb(170,170,170)"/><rect x="1089.5" y="542.0" width="30.5" height="30.5" fill="rgb(170,170,170)"/><rect x="1119.5" y="542.0" width="30.5" height="30.5" fill="rgb(170,170,170)"/><rect x="1149.5" y="542.0" width="30.5" height="30.5" fill="rgb(170,170,170)"/><rect x="1179.5" y="542.0" width="30.5" height="30.5" fill="rgb(170,170,170)"/><rect x="1209.5" y="542.0" width="30.5" height="30.5" fill="rgb(170,170,170)"/><rect x="519.5" y="572.0" width="30.5" height="30.5" fill="rgb(128,128,128)"/><rect x="549.5" y="572.0" width="30.5" height="30.5" fill="rgb(128,128,128)"/><rect x="579.5" y="572.0" width="30.5" height="30.5" fill="rgb(128,128,128)"/><rect x="609.5" y="572.0" width="30.5" height="30.5" fill="rgb(128,128,128)"/><rect x="639.5" y="572.0" width="30.5" height="30.5" fill="rgb(128,128,128)"/><rect x="669.5" y="572.0" width="30.5" height="30.5" fill="rgb(128,128,128)"/><rect x="699.5" y="572.0" width="30.5" height="30.5" fill="rgb(128,128,128)"/><rect x="729.5" y="572.0" width="30.5" height="30.5" fill="rgb(128,128,128)"/><rect x="759.5" y="572.0" width="30.5" height="30.5" fill="rgb(85,85,85)"/><rect x="789.5" y="572.0" width="30.5" height="30.5" fill="rgb(128,128,128)"/><rect x="819.5" y="572.0" width="30.5" height="30.5" fill="rgb(170,170,170)"/><rect x="849.5" y="572.0" width="30.5" height="30.5" fill="rgb(85,85,85)"/><rect x="879.5" y="572.0" width="30.5" height="30.5" fill="rgb(170,170,170)"/><rect x="909.5" y="572.0" width="30.5" height="30.5" fill="rgb(128,128,128)"/><rect x="939.5" y="572.0" width="30.5" height="30.5" fill="rgb(85,85,85)"/><rect x="969.5" y="572.0" width="30.5" height="30.5" fill="rgb(170,170,170)"/><rect x="999.5" y="572.0" width="30.5" height="30.5" fill="rgb(170,170,170)"/><rect x="1029.5" y="572.0" width="30.5" height="30.5" fill="rgb(170,170,170)"/><rect x="1059.5" y="572.0" width="30.5" height="30.5" fill="rgb(170,170,170)"/><rect x="1089.5" y="572.0" width="30.5" height="30.5" fill="rgb(170,170,170)"/><rect x="1119.5" y="572.0" width="30.5" height="30.5" fill="rgb(170,170,170)"/><rect x="1149.5" y="572.0" width="30.5" height="30.5" fill="rgb(170,170,170)"/><rect x="1179.5" y="572.0" width="30.5" height="30.5" fill="rgb(170,170,170)"/><rect x="1209.5" y="572.0" width="30.5" height="30.5" fill="rgb(170,170,170)"/><rect x="519.5" y="602.0" width="30.5" height="30.5" fill="rgb(128,128,128)"/><rect x="549.5" y="602.0" width="30.5" height="30.5" fill="rgb(128,128,128)"/><rect x="579.5" y="602.0" width="30.5" height="30.5" fill="rgb(128,128,128)"/><rect x="609.5" y="602.0" width="30.5" height="30.5" fill="rgb(128,128,128)"/><rect x="639.5" y="602.0" width="30.5" height="30.5" fill="rgb(128,128,128)"/><rect x="669.5" y="602.0" width="30.5" height="30.5" fill="rgb(128,128,128)"/><rect x="699.5" y="602.0" width="30.5" height="30.5" fill="rgb(128,128,128)"/><rect x="729.5" y="602.0" width="30.5" height="30.5" fill="rgb(128,128,128)"/><rect x="759.5" y="602.0" width="30.5" height="30.5" fill="rgb(85,85,85)"/><rect x="789.5" y="602.0" width="30.5" height="30.5" fill="rgb(128,128,128)"/><rect x="819.5" y="602.0" width="30.5" height="30.5" fill="rgb(170,170,170)"/><rect x="849.5" y="602.0" width="30.5" height="30.5" fill="rgb(85,85,85)"/><rect x="879.5" y="602.0" width="30.5" height="30.5" fill="rgb(170,170,170)"/><rect x="909.5" y="602.0" width="30.5" height="30.5" fill="rgb(128,128,128)"/><rect x="939.5" y="602.0" width="30.5" height="30.5" fill="rgb(85,85,85)"/><rect x="969.5" y="602.0" width="30.5" height="30.5" fill="rgb(170,170,170)"/><rect x="999.5" y="602.0" width="30.5" height="30.5" fill="rgb(170,170,170)"/><rect x="1029.5" y="602.0" width="30.5" height="30.5" fill="rgb(170,170,170)"/><rect x="1059.5" y="602.0" width="30.5" height="30.5" fill="rgb(170,170,170)"/><rect x="1089.5" y="602.0" width="30.5" height="30.5" fill="rgb(170,170,170)"/><rect x="1119.5" y="602.0" width="30.5" height="30.5" fill="rgb(170,170,170)"/><rect x="1149.5" y="602.0" width="30.5" height="30.5" fill="rgb(170,170,170)"/><rect x="1179.5" y="602.0" width="30.5" height="30.5" fill="rgb(170,170,170)"/><rect x="1209.5" y="602.0" width="30.5" height="30.5" fill="rgb(170,170,170)"/><rect x="519.5" y="632.0" width="30.5" height="30.5" fill="rgb(128,128,128)"/><rect x="549.5" y="632.0" width="30.5" height="30.5" fill="rgb(128,128,128)"/><rect x="579.5" y="632.0" width="30.5" height="30.5" fill="rgb(128,128,128)"/><rect x="609.5" y="632.0" width="30.5" height="30.5" fill="rgb(128,128,128)"/><rect x="639.5" y="632.0" width="30.5" height="30.5" fill="rgb(128,128,128)"/><rect x="669.5" y="632.0" width="30.5" height="30.5" fill="rgb(128,128,128)"/><rect x="699.5" y="632.0" width="30.5" height="30.5" fill="rgb(128,128,128)"/><rect x="729.5" y="632.0" width="30.5" height="30.5" fill="rgb(128,128,128)"/><rect x="759.5" y="632.0" width="30.5" height="30.5" fill="rgb(85,85,85)"/><rect x="789.5" y="632.0" width="30.5" height="30.5" fill="rgb(128,128,128)"/><rect x="819.5" y="632.0" width="30.5" height="30.5" fill="rgb(170,170,170)"/><rect x="849.5" y="632.0" width="30.5" height="30.5" fill="rgb(85,85,85)"/><rect x="879.5" y="632.0" width="30.5" height="30.5" fill="rgb(170,170,170)"/><rect x="909.5" y="632.0" width="30.5" height="30.5" fill="rgb(128,128,128)"/><rect x="939.5" y="632.0" width="30.5" height="30.5" fill="rgb(85,85,85)"/><rect x="969.5" y="632.0" width="30.5" height="30.5" fill="rgb(170,170,170)"/><rect x="999.5" y="632.0" width="30.5" height="30.5" fill="rgb(170,170,170)"/><rect x="1029.5" y="632.0" width="30.5" height="30.5" fill="rgb(170,170,170)"/><rect x="1059.5" y="632.0" width="30.5" height="30.5" fill="rgb(170,170,170)"/><rect x="1089.5" y="632.0" width="30.5" height="30.5" fill="rgb(170,170,170)"/><rect x="1119.5" y="632.0" width="30.5" height="30.5" fill="rgb(170,170,170)"/><rect x="1149.5" y="632.0" width="30.5" height="30.5" fill="rgb(170,170,170)"/><rect x="1179.5" y="632.0" width="30.5" height="30.5" fill="rgb(170,170,170)"/><rect x="1209.5" y="632.0" width="30.5" height="30.5" fill="rgb(170,170,170)"/><rect x="519.5" y="662.0" width="30.5" height="30.5" fill="rgb(128,128,128)"/><rect x="549.5" y="662.0" width="30.5" height="30.5" fill="rgb(128,128,128)"/><rect x="579.5" y="662.0" width="30.5" height="30.5" fill="rgb(128,128,128)"/><rect x="609.5" y="662.0" width="30.5" height="30.5" fill="rgb(128,128,128)"/><rect x="639.5" y="662.0" width="30.5" height="30.5" fill="rgb(128,128,128)"/><rect x="669.5" y="662.0" width="30.5" height="30.5" fill="rgb(128,128,128)"/><rect x="699.5" y="662.0" width="30.5" height="30.5" fill="rgb(128,128,128)"/><rect x="729.5" y="662.0" width="30.5" height="30.5" fill="rgb(128,128,128)"/><rect x="759.5" y="662.0" width="30.5" height="30.5" fill="rgb(85,85,85)"/><rect x="789.5" y="662.0" width="30.5" height="30.5" fill="rgb(128,128,128)"/><rect x="819.5" y="662.0" width="30.5" height="30.5" fill="rgb(170,170,170)"/><rect x="849.5" y="662.0" width="30.5" height="30.5" fill="rgb(85,85,85)"/><rect x="879.5" y="662.0" width="30.5" height="30.5" fill="rgb(170,170,170)"/><rect x="909.5" y="662.0" width="30.5" height="30.5" fill="rgb(128,128,128)"/><rect x="939.5" y="662.0" width="30.5" height="30.5" fill="rgb(85,85,85)"/><rect x="969.5" y="662.0" width="30.5" height="30.5" fill="rgb(170,170,170)"/><rect x="999.5" y="662.0" width="30.5" height="30.5" fill="rgb(170,170,170)"/><rect x="1029.5" y="662.0" width="30.5" height="30.5" fill="rgb(170,170,170)"/><rect x="1059.5" y="662.0" width="30.5" height="30.5" fill="rgb(170,170,170)"/><rect x="1089.5" y="662.0" width="30.5" height="30.5" fill="rgb(170,170,170)"/><rect x="1119.5" y="662.0" width="30.5" height="30.5" fill="rgb(170,170,170)"/><rect x="1149.5" y="662.0" width="30.5" height="30.5" fill="rgb(170,170,170)"/><rect x="1179.5" y="662.0" width="30.5" height="30.5" fill="rgb(170,170,170)"/><rect x="1209.5" y="662.0" width="30.5" height="30.5" fill="rgb(170,170,170)"/><path d="M785.0,191.0 L800.8,186.5 L809.8,200.0 L807.5,218.0 L794.0,220.2 L785.0,209.0 Z" fill="rgb(0,0,0)"/><path d="M764.8,254.0 L780.5,249.5 L787.2,272.0 L785.0,294.5 L785.0,317.0 L767.0,330.5 L749.0,317.0 L744.5,299.0 L758.0,285.5 L762.5,267.5 Z" fill="rgb(0,0,0)"/><path d="M787.2,254.0 L807.5,258.5 L812.0,283.2 L789.5,283.2 Z" fill="rgb(64,64,64)"/><path d="M666.9,232.6 L677.0,232.6 L677.0,245.0 L666.9,245.0 Z" fill="rgb(0,0,0)"/><path d="M782.8,233.8 L794.0,233.8 L794.0,245.0 L782.8,245.0 Z" fill="rgb(255,255,255)"/><path d="M702.9,187.6 L713.0,187.6 L713.0,198.9 L702.9,198.9 Z" fill="rgb(255,255,255)"/><path d="M852.5,177.5 L879.5,177.5 L879.5,204.5 L852.5,204.5 Z" fill="rgb(212,212,212)"/><path d="M835.6,259.6 L845.8,259.6 L845.8,269.8 L835.6,269.8 Z" fill="rgb(255,255,255)"/><path d="M812.0,258.5 L834.5,258.5 L834.5,272.0 L812.0,272.0 Z" fill="rgb(212,212,212)"/><path d="M647.8,258.5 L668.0,263.0 L665.8,294.5 L654.5,317.0 L647.8,317.0 Z" fill="rgb(170,170,170)"/><path d="M796.2,159.5 L807.5,159.5 L807.5,170.8 L796.2,170.8 Z" fill="rgb(212,212,212)"/><path d="M749.0,344.0 L762.5,344.0 L762.5,357.5 L749.0,357.5 Z" fill="rgb(0,0,0)"/><path d="M758.0,222.5 L776.0,222.5 L776.0,236.0 L758.0,236.0 Z" fill="rgb(212,212,212)"/><path d="M747.9,232.6 L756.9,232.6 L756.9,240.5 L747.9,240.5 Z" fill="rgb(255,255,255)"/><path d="M971.8,263.0 L983.0,258.5 L992.0,269.8 L992.0,285.5 L980.8,285.5 L971.8,276.5 Z" fill="rgb(255,255,255)"/><path d="M992.0,256.2 L1007.8,254.0 L1007.8,276.5 L992.0,278.8 Z" fill="rgb(212,212,212)"/><path d="M924.5,279.9 L944.8,279.9 L944.8,290.0 L924.5,290.0 Z" fill="rgb(255,255,255)"/><path d="M947.0,287.8 L965.0,287.8 L985.2,303.5 L985.2,312.5 L947.0,312.5 Z" fill="rgb(212,212,212)"/><path d="M921.1,311.4 L935.8,311.4 L935.8,330.5 L921.1,330.5 Z" fill="rgb(255,255,255)"/><path d="M987.5,303.5 L1023.5,301.2 L1037.0,314.8 L1032.5,330.5 L1005.5,328.2 L987.5,321.5 Z" fill="rgb(212,212,212)"/><path d="M996.5,305.8 L1023.5,305.8 L1023.5,321.5 L996.5,321.5 Z" fill="rgb(255,255,255)"/><path d="M1014.5,330.5 L1032.5,330.5 L1032.5,348.5 L1014.5,348.5 Z" fill="rgb(212,212,212)"/><path d="M879.5,177.5 L902.0,177.5 L911.0,195.5 L897.5,209.0 L879.5,209.0 Z" fill="rgb(212,212,212)"/><path d="M944.8,215.8 L960.5,213.5 L974.0,236.0 L971.8,254.0 L962.8,276.5 L953.8,276.5 L947.0,249.5 Z" fill="rgb(0,0,0)"/><path d="M978.5,159.5 L1001.0,159.5 L1001.0,188.8 L978.5,188.8 Z" fill="rgb(64,64,64)"/><path d="M942.5,182.0 L956.0,182.0 L956.0,200.0 L942.5,200.0 Z" fill="rgb(0,0,0)"/><path d="M1019.0,204.5 L1082.0,209.0 L1082.0,227.0 L1025.8,231.5 Z" fill="rgb(64,64,64)"/><path d="M976.2,231.5 L1014.5,227.0 L1037.0,236.0 L1037.0,258.5 L976.2,258.5 Z" fill="rgb(170,170,170)"/><path d="M920.0,339.5 L942.5,339.5 L942.5,362.0 L920.0,362.0 Z" fill="rgb(64,64,64)"/><path d="M800.8,413.8 L834.5,413.8 L834.5,452.0 L800.8,452.0 Z" fill="rgb(212,212,212)"/><path d="M857.0,488.0 L879.5,488.0 L879.5,515.0 L857.0,515.0 Z" fill="rgb(212,212,212)"/><path d="M825.5,515.0 L852.5,515.0 L852.5,533.0 L825.5,533.0 Z" fill="rgb(212,212,212)"/><path d="M726.5,407.0 L744.5,407.0 L744.5,420.5 L726.5,420.5 Z" fill="rgb(64,64,64)"/><path d="M843.5,402.5 L879.5,402.5 L879.5,420.5 L843.5,420.5 Z" fill="rgb(64,64,64)"/><path d="M920.0,362.0 L1023.5,362.0 L1023.5,407.0 L1005.5,436.2 L980.8,461.0 L947.0,467.8 L924.5,456.5 L920.0,407.0 Z" fill="rgb(64,64,64)"/><path d="M947.0,366.5 L974.0,364.2 L978.5,395.8 L960.5,400.2 L947.0,389.0 Z" fill="rgb(0,0,0)"/><path d="M942.5,425.0 L960.5,425.0 L960.5,447.5 L942.5,447.5 Z" fill="rgb(0,0,0)"/><path d="M956.0,470.0 L987.5,461.0 L992.0,497.0 L965.0,501.5 Z" fill="rgb(64,64,64)"/><path d="M879.5,470.0 L906.5,479.0 L947.0,508.2 L947.0,542.0 L879.5,542.0 Z" fill="rgb(212,212,212)"/><path d="M899.8,501.5 L917.8,501.5 L917.8,519.5 L899.8,519.5 Z" fill="rgb(255,255,255)"/><path d="M922.2,515.0 L933.5,515.0 L933.5,539.8 L922.2,539.8 Z" fill="rgb(255,255,255)"/><path d="M879.5,425.0 L902.0,425.0 L902.0,456.5 L879.5,456.5 Z" fill="rgb(170,170,170)"/></g><path d="M777.5,394.0 L789.5,406.0 L799.5,416.0 L805.5,426.0 L809.5,438.0 L813.5,450.0 L821.5,459.0 L835.5,461.0 L849.5,459.0 L873.5,464.0 L899.5,478.0 L923.5,498.0 L943.5,518.0 L958.5,540.0" fill="none" stroke="#2a7c1a" stroke-width="3.0" stroke-linecap="round" stroke-linejoin="round"/><path d="M640.5,362.0 L643.5,380.0 L647.5,390.0 L659.5,394.0 L673.5,390.0 L683.5,380.0 L686.5,374.0" fill="none" stroke="#2a7c1a" stroke-width="2.0" stroke-linecap="round" stroke-linejoin="round"/><path d="M659.5,426.0 L675.5,436.0 L689.5,446.0 L695.5,456.0 L695.5,468.0 L689.5,478.0" fill="none" stroke="#2a7c1a" stroke-width="2.2" stroke-linecap="round" stroke-linejoin="round"/><path d="M737.5,524.0 L759.5,529.0 L779.5,537.0 L793.5,548.0 L801.5,554.0" fill="none" stroke="#2a7c1a" stroke-width="2.4" stroke-linecap="round" stroke-linejoin="round"/><rect x="934.5" y="567.0" width="13" height="11" fill="#1d7d1c"/></g>
<path d="M638.9,238.1 L654.4,238.7 L658.3,233.5 L660.9,223.9 L672.5,225.5 L678.9,216.1 L690.5,215.5 L703.4,223.2 L706.5,212.0 L707.5,200.0 L699.5,185.0 L693.2,167.5 L708.2,151.0 L722.0,146.0 L724.5,155.0 L734.5,172.5 L749.5,180.0 L772.0,178.8 L777.0,183.8 L792.0,182.5 L795.5,157.5 L814.5,151.0 L824.5,150.0 L849.5,155.0 L872.0,140.0 L874.5,130.0 L891.5,128.8 L905.2,126.0 L911.5,110.0 L929.0,102.5 L945.2,97.5 L951.5,105.0 L966.5,103.8 L967.5,96.0 L974.0,95.0 L982.5,107.5 L976.5,122.5 L989.0,126.0 L1004.0,135.0 L1024.0,140.0 L1029.0,150.0 L1034.0,167.5 L1036.5,182.5 L1036.5,201.0 L1046.5,196.0 L1051.5,204.0 L1076.5,207.5 L1086.5,201.0 L1101.5,199.0 L1119.0,204.0 L1139.0,212.5 L1126.5,220.0 L1096.5,232.5 L1081.5,242.5 L1071.5,260.0 L1069.0,272.5 L1084.0,290.0 L1076.5,297.5 L1069.0,305.0 L1054.0,330.0 L1036.5,345.0 L1024.0,367.5 L1021.5,380.0 L1025.2,397.5 L1024.0,415.0 L1016.5,425.0 L1011.5,440.0 L1019.0,450.0 L1029.0,460.0 L1039.0,482.5 L1025.7,485.8 L1019.8,496.7 L1013.2,507.5 L1011.5,502.5 L1002.3,502.5 L998.2,500.8 L991.5,501.7 L986.5,507.5 L984.0,516.7 L979.0,518.3 L976.9,533.3 L983.2,535.0 L986.5,537.5 L1003.2,537.1 L1004.0,541.7 L1009.0,543.3 L1011.1,551.7 L1006.5,551.7 L998.2,549.2 L988.2,551.7 L977.3,553.3 L974.8,545.0 L973.2,538.3 L968.2,535.0 L961.5,536.7 L958.2,541.7 L964.8,550.0 L969.8,558.3 L969.8,564.2 L960.7,570.0 L944.2,577.3 L936.2,576.7 L929.5,581.3 L921.5,588.0 L916.2,594.7 L910.8,599.3 L905.5,593.3 L897.5,585.3 L888.2,576.0 L878.8,565.3 L869.5,557.3 L862.8,553.3 L858.8,545.3 L853.5,540.0 L821.5,538.0 L809.5,550.7 L797.0,558.8 L782.0,555.0 L764.5,542.5 L739.5,525.0 L717.0,512.5 L699.5,495.0 L687.0,477.5 L669.5,452.5 L655.7,437.4 L646.7,428.4 L637.6,420.6 L627.3,418.1 L614.4,407.7 L612.5,401.3 L619.6,387.1 L627.3,375.5 L638.9,358.7 L644.1,360.0 L645.4,348.4 L650.5,329.0 L653.1,316.1 L651.8,290.3 L650.5,272.3 L648.0,267.1 L640.2,265.8 L637.6,245.2 Z" fill="none" stroke="#3d4a2a" stroke-width="1.3" stroke-linejoin="round"/>
</g>
<text x="658.1" y="49.4" font-size="30.9" text-anchor="start" fill="#111" textLength="39.2" lengthAdjust="spacingAndGlyphs" >(b)</text>
<text x="741.0" y="45.6" font-size="22" text-anchor="start" fill="#111" textLength="302.0" lengthAdjust="spacingAndGlyphs" >2016 Land Surface Temperature</text>
<g stroke="#000" fill="none" stroke-width="2.2" stroke-linejoin="miter"><line x1="641.7" y1="29.2" x2="641.7" y2="105.8"/><path d="M641.7,29.2 L654.5,62.521 L642.3000000000001,56.393"/><g stroke-width="2.5" stroke-linecap="butt"><line x1="636.7" y1="80.6752" x2="636.7" y2="100.055"/><line x1="636.3000000000001" y1="80.6752" x2="649.6" y2="100.055"/><line x1="649.3000000000001" y1="80.6752" x2="649.3000000000001" y2="100.055"/></g></g>
<text x="1016.7" y="584.8" font-size="17" text-anchor="start" fill="#111" textLength="98.9" lengthAdjust="spacingAndGlyphs" >Temperature</text>
<text x="1016.7" y="623.5" font-size="17" text-anchor="start" fill="#111" textLength="34.0" lengthAdjust="spacingAndGlyphs" >High</text>
<text x="1016.7" y="666.3" font-size="17" text-anchor="start" fill="#111" textLength="30.0" lengthAdjust="spacingAndGlyphs" >Low</text>
<text x="891.6" y="666.3" font-size="17" text-anchor="start" fill="#111" textLength="46.7" lengthAdjust="spacingAndGlyphs" >DMDP</text>
<rect x="950" y="649.6" width="42" height="20.100000000000023" fill="#eeeeee" stroke="#555" stroke-width="1.4"/>
<rect x="1090.9" y="605.7" width="42.5" height="64.89999999999998" fill="url(#cb)"/>
<rect x="627" y="637" width="152.70000000000005" height="11.700000000000045" fill="#f3f3f3" stroke="#000" stroke-width="1.2"/>
<rect x="627" y="637" width="26.700000000000045" height="11.700000000000045" fill="#000"/>
<rect x="677" y="637" width="52.700000000000045" height="11.700000000000045" fill="#000"/>
<text x="627.0" y="630.4" font-size="17" text-anchor="middle" fill="#111" >0</text>
<text x="677.0" y="630.4" font-size="17" text-anchor="middle" fill="#111" >4</text>
<text x="729.7" y="630.4" font-size="17" text-anchor="middle" fill="#111" >8</text>
<text x="779.7" y="630.4" font-size="17" text-anchor="middle" fill="#111" >12</text>
<text x="660.7" y="666.3" font-size="17" text-anchor="start" fill="#111" textLength="84.0" lengthAdjust="spacingAndGlyphs" >Kilometers</text>
<g clip-path="url(#pcc)">
<rect x="48.8" y="680.3" width="551.2" height="665.2" fill="#ededed"/>
<path d="M46.7,741.0 L68.7,761.0 L68.7,806.0 L58.7,841.0 L78.7,906.0" fill="none" stroke="#d2d2d2" stroke-width="1" stroke-linecap="round" stroke-linejoin="round"/><path d="M46.7,1066.0 L68.7,1056.0 L58.7,1086.0" fill="none" stroke="#d2d2d2" stroke-width="1" stroke-linecap="round" stroke-linejoin="round"/><path d="M98.7,1266.0 L148.7,1276.0 L198.7,1266.0 L233.7,1286.0 L258.7,1266.0" fill="none" stroke="#d2d2d2" stroke-width="1" stroke-linecap="round" stroke-linejoin="round"/><path d="M58.7,1166.0 L98.7,1186.0 L108.7,1226.0 L88.7,1266.0" fill="none" stroke="#d2d2d2" stroke-width="1" stroke-linecap="round" stroke-linejoin="round"/><path d="M268.7,1266.0 L298.7,1286.0 L328.7,1276.0 L358.7,1306.0 L378.7,1296.0" fill="none" stroke="#d2d2d2" stroke-width="1" stroke-linecap="round" stroke-linejoin="round"/><path d="M178.7,680.0 L198.7,706.0 L228.7,716.0 L258.7,696.0" fill="none" stroke="#d2d2d2" stroke-width="1" stroke-linecap="round" stroke-linejoin="round"/><path d="M46.7,843.0 L76.7,838.0 L113.7,833.0 L138.7,831.0" fill="none" stroke="#fbfbfb" stroke-width="2" stroke-linecap="round" stroke-linejoin="round"/><path d="M126.7,829.0 L173.7,826.0 L213.7,836.0 L243.7,844.0" fill="none" stroke="#fbfbfb" stroke-width="2" stroke-linecap="round" stroke-linejoin="round"/><path d="M288.7,680.0 L286.7,726.0 L290.7,766.0 L291.7,806.0" fill="none" stroke="#fbfbfb" stroke-width="2" stroke-linecap="round" stroke-linejoin="round"/><path d="M303.7,735.0 L340.7,772.0 L368.7,781.0 L398.7,784.0" fill="none" stroke="#fbfbfb" stroke-width="1.8" stroke-linecap="round" stroke-linejoin="round"/><path d="M518.7,1146.0 L548.7,1176.0 L573.7,1203.0 L598.7,1221.0" fill="none" stroke="#fbfbfb" stroke-width="1.8" stroke-linecap="round" stroke-linejoin="round"/><path d="M573.7,1146.0 L548.7,1221.0 L523.7,1271.0 L518.7,1296.0" fill="none" stroke="#fbfbfb" stroke-width="1.6" stroke-linecap="round" stroke-linejoin="round"/><path d="M423.7,1228.0 L460.7,1241.0 L498.7,1251.0 L523.7,1258.0" fill="none" stroke="#fbfbfb" stroke-width="1.8" stroke-linecap="round" stroke-linejoin="round"/><path d="M170.7,680.0 L161.7,735.0 L148.7,786.0" fill="none" stroke="#fbfbfb" stroke-width="1.6" stroke-linecap="round" stroke-linejoin="round"/><path d="M438.7,680.0 L443.7,726.0 L468.7,766.0 L518.7,801.0" fill="none" stroke="#fbfbfb" stroke-width="1.6" stroke-linecap="round" stroke-linejoin="round"/><path d="M478.7,816.0 L538.7,826.0 L598.7,818.0" fill="none" stroke="#fbfbfb" stroke-width="1.6" stroke-linecap="round" stroke-linejoin="round"/><path d="M238.7,1222.0 L225.7,1242.0 L211.7,1260.0 L198.7,1278.0 L186.7,1298.0 L175.7,1321.0 L173.7,1348.0" fill="none" stroke="#fbfbfb" stroke-width="2" stroke-linecap="round" stroke-linejoin="round"/><path d="M598.7,823.0 L568.7,826.0 L548.7,831.0 L542.7,841.0 L547.7,856.0 L568.7,863.0 L585.7,868.0 L590.7,878.0" fill="none" stroke="#d3d5d5" stroke-width="4.5" stroke-linecap="round" stroke-linejoin="round"/><path d="M78.7,838.0 L76.7,861.0 L80.7,896.0 L84.7,904.0" fill="none" stroke="#d3d5d5" stroke-width="3" stroke-linecap="round" stroke-linejoin="round"/><path d="M131.7,1148.0 L145.7,1163.0 L158.7,1178.0 L183.7,1193.0 L213.7,1211.0 L246.7,1224.0 L296.7,1234.0 L328.7,1246.0 L346.7,1256.0 L360.7,1263.0" fill="none" stroke="#d3d5d5" stroke-width="5" stroke-linecap="round" stroke-linejoin="round"/><path d="M385.7,1243.0 L388.7,1248.0 L393.7,1261.0 L403.7,1278.0 L418.7,1291.0 L438.7,1301.0 L453.7,1308.0 L468.7,1316.0 L485.7,1321.0 L510.7,1322.0 L535.7,1317.0 L568.7,1307.0 L598.7,1292.0" fill="none" stroke="#d3d5d5" stroke-width="13" stroke-linecap="round" stroke-linejoin="round"/><path d="M415.7,1256.0 L433.7,1273.0 L448.7,1286.0 L468.7,1306.0" fill="none" stroke="#d3d5d5" stroke-width="5" stroke-linecap="round" stroke-linejoin="round"/><path d="M493.7,1146.0 L498.7,1171.0 L488.7,1196.0 L473.7,1221.0 L468.7,1251.0 L465.7,1286.0 L473.7,1316.0 L478.7,1348.0" fill="none" stroke="#d3d5d5" stroke-width="5" stroke-linecap="round" stroke-linejoin="round"/><path d="M573.7,1278.0 L598.7,1258.0" fill="none" stroke="#d3d5d5" stroke-width="8" stroke-linecap="round" stroke-linejoin="round"/><path d="M46.7,1108.0 L71.7,1133.0 L88.7,1121.0 L93.7,1098.0" fill="none" stroke="#d3d5d5" stroke-width="2.5" stroke-linecap="round" stroke-linejoin="round"/><path d="M496.7,1301.0 L523.7,1309.0 L543.7,1312.0" fill="none" stroke="#d3d5d5" stroke-width="4" stroke-linecap="round" stroke-linejoin="round"/>
<defs><clipPath id="mcc"><path d="M86.1,904.1 L101.6,904.7 L105.5,899.5 L108.1,889.9 L119.7,891.5 L126.1,882.1 L137.7,881.5 L150.6,889.2 L153.7,878.0 L154.7,866.0 L146.7,851.0 L140.4,833.5 L155.4,817.0 L169.2,812.0 L171.7,821.0 L181.7,838.5 L196.7,846.0 L219.2,844.8 L224.2,849.8 L239.2,848.5 L242.7,823.5 L261.7,817.0 L271.7,816.0 L296.7,821.0 L319.2,806.0 L321.7,796.0 L338.7,794.8 L352.4,792.0 L358.7,776.0 L376.2,768.5 L392.4,763.5 L398.7,771.0 L413.7,769.8 L414.7,762.0 L421.2,761.0 L429.7,773.5 L423.7,788.5 L436.2,792.0 L451.2,801.0 L471.2,806.0 L476.2,816.0 L481.2,833.5 L483.7,848.5 L483.7,867.0 L493.7,862.0 L498.7,870.0 L523.7,873.5 L533.7,867.0 L548.7,865.0 L566.2,870.0 L586.2,878.5 L573.7,886.0 L543.7,898.5 L528.7,908.5 L518.7,926.0 L516.2,938.5 L531.2,956.0 L523.7,963.5 L516.2,971.0 L501.2,996.0 L483.7,1011.0 L471.2,1033.5 L468.7,1046.0 L472.4,1063.5 L471.2,1081.0 L463.7,1091.0 L458.7,1106.0 L466.2,1116.0 L476.2,1126.0 L486.2,1148.5 L472.9,1151.8 L467.0,1162.7 L460.4,1173.5 L458.7,1168.5 L449.5,1168.5 L445.4,1166.8 L438.7,1167.7 L433.7,1173.5 L431.2,1182.7 L426.2,1184.3 L424.1,1199.3 L430.4,1201.0 L433.7,1203.5 L450.4,1203.1 L451.2,1207.7 L456.2,1209.3 L458.3,1217.7 L453.7,1217.7 L445.4,1215.2 L435.4,1217.7 L424.5,1219.3 L422.0,1211.0 L420.4,1204.3 L415.4,1201.0 L408.7,1202.7 L405.4,1207.7 L412.0,1216.0 L417.0,1224.3 L417.0,1230.2 L407.9,1236.0 L391.4,1243.3 L383.4,1242.7 L376.7,1247.3 L368.7,1254.0 L363.4,1260.7 L358.0,1265.3 L352.7,1259.3 L344.7,1251.3 L335.4,1242.0 L326.0,1231.3 L316.7,1223.3 L310.0,1219.3 L306.0,1211.3 L300.7,1206.0 L268.7,1204.0 L256.7,1216.7 L244.2,1224.8 L229.2,1221.0 L211.7,1208.5 L186.7,1191.0 L164.2,1178.5 L146.7,1161.0 L134.2,1143.5 L116.7,1118.5 L102.9,1103.4 L93.9,1094.4 L84.8,1086.6 L74.5,1084.1 L61.6,1073.7 L59.7,1067.3 L66.8,1053.1 L74.5,1041.5 L86.1,1024.7 L91.3,1026.0 L92.6,1014.4 L97.7,995.0 L100.3,982.1 L99.0,956.3 L97.7,938.3 L95.2,933.1 L87.4,931.8 L84.8,911.2 Z"/></clipPath><filter color-interpolation-filters="sRGB" id="mbc" x="-5%" y="-5%" width="110%" height="110%"><feTurbulence type="fractalNoise" baseFrequency="0.045" numOctaves="2" seed="3" result="t"/><feDisplacementMap in="SourceGraphic" in2="t" scale="24" xChannelSelector="R" yChannelSelector="G" result="d"/><feGaussianBlur in="d" stdDeviation="4.5" result="b"/><feTurbulence type="fractalNoise" baseFrequency="0.13" numOctaves="3" seed="53" result="n0"/><feColorMatrix in="n0" type="matrix" values="1 0 0 0 0  1 0 0 0 0  1 0 0 0 0  0 0 0 0 1" result="n"/><feComposite in="b" in2="n" operator="arithmetic" k1="0" k2="1" k3="0.55" k4="-0.275" result="v"/><feComponentTransfer in="v"><feFuncR type="table" tableValues="0.094 0.196 0.314 0.549 0.769 0.855 0.902 0.929 0.961 0.957 0.953 0.937 0.918"/><feFuncG type="table" tableValues="0.463 0.557 0.667 0.784 0.886 0.933 0.953 0.945 0.800 0.690 0.565 0.431 0.298"/><feFuncB type="table" tableValues="0.094 0.110 0.122 0.141 0.157 0.157 0.157 0.157 0.157 0.149 0.133 0.118 0.102"/><feFuncA type="identity"/></feComponentTransfer></filter><filter color-interpolation-filters="sRGB" id="mbcs" x="-5%" y="-5%" width="110%" height="110%"><feTurbulence type="fractalNoise" baseFrequency="0.08" numOctaves="2" seed="13" result="t"/><feDisplacementMap in="SourceGraphic" in2="t" scale="16" xChannelSelector="R" yChannelSelector="G" result="d"/><feGaussianBlur in="d" stdDeviation="2.2" result="b"/><feTurbulence type="fractalNoise" baseFrequency="0.13" numOctaves="3" seed="63" result="n0"/><feColorMatrix in="n0" type="matrix" values="1 0 0 0 0  1 0 0 0 0  1 0 0 0 0  0 0 0 0 1" result="n"/><feComposite in="b" in2="n" operator="arithmetic" k1="0" k2="1" k3="0.55" k4="-0.275" result="v"/><feComponentTransfer in="v"><feFuncR type="table" tableValues="0.094 0.196 0.314 0.549 0.769 0.855 0.902 0.929 0.961 0.957 0.953 0.937 0.918"/><feFuncG type="table" tableValues="0.463 0.557 0.667 0.784 0.886 0.933 0.953 0.945 0.800 0.690 0.565 0.431 0.298"/><feFuncB type="table" tableValues="0.094 0.110 0.122 0.141 0.157 0.157 0.157 0.157 0.157 0.149 0.133 0.118 0.102"/><feFuncA type="identity"/></feComponentTransfer></filter></defs><g clip-path="url(#mcc)"><g filter="url(#mbc)"><rect x="-33.3" y="668.0" width="30.5" height="30.5" fill="rgb(85,85,85)"/><rect x="-3.3" y="668.0" width="30.5" height="30.5" fill="rgb(85,85,85)"/><rect x="26.7" y="668.0" width="30.5" height="30.5" fill="rgb(85,85,85)"/><rect x="56.7" y="668.0" width="30.5" height="30.5" fill="rgb(85,85,85)"/><rect x="86.7" y="668.0" width="30.5" height="30.5" fill="rgb(85,85,85)"/><rect x="116.7" y="668.0" width="30.5" height="30.5" fill="rgb(85,85,85)"/><rect x="146.7" y="668.0" width="30.5" height="30.5" fill="rgb(85,85,85)"/><rect x="176.7" y="668.0" width="30.5" height="30.5" fill="rgb(170,170,170)"/><rect x="206.7" y="668.0" width="30.5" height="30.5" fill="rgb(170,170,170)"/><rect x="236.7" y="668.0" width="30.5" height="30.5" fill="rgb(170,170,170)"/><rect x="266.7" y="668.0" width="30.5" height="30.5" fill="rgb(85,85,85)"/><rect x="296.7" y="668.0" width="30.5" height="30.5" fill="rgb(85,85,85)"/><rect x="326.7" y="668.0" width="30.5" height="30.5" fill="rgb(42,42,42)"/><rect x="356.7" y="668.0" width="30.5" height="30.5" fill="rgb(42,42,42)"/><rect x="386.7" y="668.0" width="30.5" height="30.5" fill="rgb(42,42,42)"/><rect x="416.7" y="668.0" width="30.5" height="30.5" fill="rgb(42,42,42)"/><rect x="446.7" y="668.0" width="30.5" height="30.5" fill="rgb(42,42,42)"/><rect x="476.7" y="668.0" width="30.5" height="30.5" fill="rgb(42,42,42)"/><rect x="506.7" y="668.0" width="30.5" height="30.5" fill="rgb(42,42,42)"/><rect x="536.7" y="668.0" width="30.5" height="30.5" fill="rgb(42,42,42)"/><rect x="566.7" y="668.0" width="30.5" height="30.5" fill="rgb(42,42,42)"/><rect x="596.7" y="668.0" width="30.5" height="30.5" fill="rgb(42,42,42)"/><rect x="626.7" y="668.0" width="30.5" height="30.5" fill="rgb(42,42,42)"/><rect x="656.7" y="668.0" width="30.5" height="30.5" fill="rgb(42,42,42)"/><rect x="-33.3" y="698.0" width="30.5" height="30.5" fill="rgb(85,85,85)"/><rect x="-3.3" y="698.0" width="30.5" height="30.5" fill="rgb(85,85,85)"/><rect x="26.7" y="698.0" width="30.5" height="30.5" fill="rgb(85,85,85)"/><rect x="56.7" y="698.0" width="30.5" height="30.5" fill="rgb(85,85,85)"/><rect x="86.7" y="698.0" width="30.5" height="30.5" fill="rgb(85,85,85)"/><rect x="116.7" y="698.0" width="30.5" height="30.5" fill="rgb(85,85,85)"/><rect x="146.7" y="698.0" width="30.5" height="30.5" fill="rgb(85,85,85)"/><rect x="176.7" y="698.0" width="30.5" height="30.5" fill="rgb(170,170,170)"/><rect x="206.7" y="698.0" width="30.5" height="30.5" fill="rgb(170,170,170)"/><rect x="236.7" y="698.0" width="30.5" height="30.5" fill="rgb(170,170,170)"/><rect x="266.7" y="698.0" width="30.5" height="30.5" fill="rgb(85,85,85)"/><rect x="296.7" y="698.0" width="30.5" height="30.5" fill="rgb(85,85,85)"/><rect x="326.7" y="698.0" width="30.5" height="30.5" fill="rgb(42,42,42)"/><rect x="356.7" y="698.0" width="30.5" height="30.5" fill="rgb(42,42,42)"/><rect x="386.7" y="698.0" width="30.5" height="30.5" fill="rgb(42,42,42)"/><rect x="416.7" y="698.0" width="30.5" height="30.5" fill="rgb(42,42,42)"/><rect x="446.7" y="698.0" width="30.5" height="30.5" fill="rgb(42,42,42)"/><rect x="476.7" y="698.0" width="30.5" height="30.5" fill="rgb(42,42,42)"/><rect x="506.7" y="698.0" width="30.5" height="30.5" fill="rgb(42,42,42)"/><rect x="536.7" y="698.0" width="30.5" height="30.5" fill="rgb(42,42,42)"/><rect x="566.7" y="698.0" width="30.5" height="30.5" fill="rgb(42,42,42)"/><rect x="596.7" y="698.0" width="30.5" height="30.5" fill="rgb(42,42,42)"/><rect x="626.7" y="698.0" width="30.5" height="30.5" fill="rgb(42,42,42)"/><rect x="656.7" y="698.0" width="30.5" height="30.5" fill="rgb(42,42,42)"/><rect x="-33.3" y="728.0" width="30.5" height="30.5" fill="rgb(85,85,85)"/><rect x="-3.3" y="728.0" width="30.5" height="30.5" fill="rgb(85,85,85)"/><rect x="26.7" y="728.0" width="30.5" height="30.5" fill="rgb(85,85,85)"/><rect x="56.7" y="728.0" width="30.5" height="30.5" fill="rgb(85,85,85)"/><rect x="86.7" y="728.0" width="30.5" height="30.5" fill="rgb(85,85,85)"/><rect x="116.7" y="728.0" width="30.5" height="30.5" fill="rgb(85,85,85)"/><rect x="146.7" y="728.0" width="30.5" height="30.5" fill="rgb(85,85,85)"/><rect x="176.7" y="728.0" width="30.5" height="30.5" fill="rgb(170,170,170)"/><rect x="206.7" y="728.0" width="30.5" height="30.5" fill="rgb(170,170,170)"/><rect x="236.7" y="728.0" width="30.5" height="30.5" fill="rgb(170,170,170)"/><rect x="266.7" y="728.0" width="30.5" height="30.5" fill="rgb(85,85,85)"/><rect x="296.7" y="728.0" width="30.5" height="30.5" fill="rgb(85,85,85)"/><rect x="326.7" y="728.0" width="30.5" height="30.5" fill="rgb(42,42,42)"/><rect x="356.7" y="728.0" width="30.5" height="30.5" fill="rgb(42,42,42)"/><rect x="386.7" y="728.0" width="30.5" height="30.5" fill="rgb(42,42,42)"/><rect x="416.7" y="728.0" width="30.5" height="30.5" fill="rgb(42,42,42)"/><rect x="446.7" y="728.0" width="30.5" height="30.5" fill="rgb(42,42,42)"/><rect x="476.7" y="728.0" width="30.5" height="30.5" fill="rgb(42,42,42)"/><rect x="506.7" y="728.0" width="30.5" height="30.5" fill="rgb(42,42,42)"/><rect x="536.7" y="728.0" width="30.5" height="30.5" fill="rgb(42,42,42)"/><rect x="566.7" y="728.0" width="30.5" height="30.5" fill="rgb(42,42,42)"/><rect x="596.7" y="728.0" width="30.5" height="30.5" fill="rgb(42,42,42)"/><rect x="626.7" y="728.0" width="30.5" height="30.5" fill="rgb(42,42,42)"/><rect x="656.7" y="728.0" width="30.5" height="30.5" fill="rgb(42,42,42)"/><rect x="-33.3" y="758.0" width="30.5" height="30.5" fill="rgb(85,85,85)"/><rect x="-3.3" y="758.0" width="30.5" height="30.5" fill="rgb(85,85,85)"/><rect x="26.7" y="758.0" width="30.5" height="30.5" fill="rgb(85,85,85)"/><rect x="56.7" y="758.0" width="30.5" height="30.5" fill="rgb(85,85,85)"/><rect x="86.7" y="758.0" width="30.5" height="30.5" fill="rgb(85,85,85)"/><rect x="116.7" y="758.0" width="30.5" height="30.5" fill="rgb(85,85,85)"/><rect x="146.7" y="758.0" width="30.5" height="30.5" fill="rgb(85,85,85)"/><rect x="176.7" y="758.0" width="30.5" height="30.5" fill="rgb(170,170,170)"/><rect x="206.7" y="758.0" width="30.5" height="30.5" fill="rgb(170,170,170)"/><rect x="236.7" y="758.0" width="30.5" height="30.5" fill="rgb(170,170,170)"/><rect x="266.7" y="758.0" width="30.5" height="30.5" fill="rgb(85,85,85)"/><rect x="296.7" y="758.0" width="30.5" height="30.5" fill="rgb(85,85,85)"/><rect x="326.7" y="758.0" width="30.5" height="30.5" fill="rgb(42,42,42)"/><rect x="356.7" y="758.0" width="30.5" height="30.5" fill="rgb(42,42,42)"/><rect x="386.7" y="758.0" width="30.5" height="30.5" fill="rgb(42,42,42)"/><rect x="416.7" y="758.0" width="30.5" height="30.5" fill="rgb(42,42,42)"/><rect x="446.7" y="758.0" width="30.5" height="30.5" fill="rgb(42,42,42)"/><rect x="476.7" y="758.0" width="30.5" height="30.5" fill="rgb(42,42,42)"/><rect x="506.7" y="758.0" width="30.5" height="30.5" fill="rgb(42,42,42)"/><rect x="536.7" y="758.0" width="30.5" height="30.5" fill="rgb(42,42,42)"/><rect x="566.7" y="758.0" width="30.5" height="30.5" fill="rgb(42,42,42)"/><rect x="596.7" y="758.0" width="30.5" height="30.5" fill="rgb(42,42,42)"/><rect x="626.7" y="758.0" width="30.5" height="30.5" fill="rgb(42,42,42)"/><rect x="656.7" y="758.0" width="30.5" height="30.5" fill="rgb(42,42,42)"/><rect x="-33.3" y="788.0" width="30.5" height="30.5" fill="rgb(85,85,85)"/><rect x="-3.3" y="788.0" width="30.5" height="30.5" fill="rgb(85,85,85)"/><rect x="26.7" y="788.0" width="30.5" height="30.5" fill="rgb(85,85,85)"/><rect x="56.7" y="788.0" width="30.5" height="30.5" fill="rgb(85,85,85)"/><rect x="86.7" y="788.0" width="30.5" height="30.5" fill="rgb(85,85,85)"/><rect x="116.7" y="788.0" width="30.5" height="30.5" fill="rgb(85,85,85)"/><rect x="146.7" y="788.0" width="30.5" height="30.5" fill="rgb(85,85,85)"/><rect x="176.7" y="788.0" width="30.5" height="30.5" fill="rgb(170,170,170)"/><rect x="206.7" y="788.0" width="30.5" height="30.5" fill="rgb(170,170,170)"/><rect x="236.7" y="788.0" width="30.5" height="30.5" fill="rgb(170,170,170)"/><rect x="266.7" y="788.0" width="30.5" height="30.5" fill="rgb(85,85,85)"/><rect x="296.7" y="788.0" width="30.5" height="30.5" fill="rgb(85,85,85)"/><rect x="326.7" y="788.0" width="30.5" height="30.5" fill="rgb(85,85,85)"/><rect x="356.7" y="788.0" width="30.5" height="30.5" fill="rgb(42,42,42)"/><rect x="386.7" y="788.0" width="30.5" height="30.5" fill="rgb(42,42,42)"/><rect x="416.7" y="788.0" width="30.5" height="30.5" fill="rgb(42,42,42)"/><rect x="446.7" y="788.0" width="30.5" height="30.5" fill="rgb(42,42,42)"/><rect x="476.7" y="788.0" width="30.5" height="30.5" fill="rgb(42,42,42)"/><rect x="506.7" y="788.0" width="30.5" height="30.5" fill="rgb(42,42,42)"/><rect x="536.7" y="788.0" width="30.5" height="30.5" fill="rgb(42,42,42)"/><rect x="566.7" y="788.0" width="30.5" height="30.5" fill="rgb(42,42,42)"/><rect x="596.7" y="788.0" width="30.5" height="30.5" fill="rgb(42,42,42)"/><rect x="626.7" y="788.0" width="30.5" height="30.5" fill="rgb(42,42,42)"/><rect x="656.7" y="788.0" width="30.5" height="30.5" fill="rgb(42,42,42)"/><rect x="-33.3" y="818.0" width="30.5" height="30.5" fill="rgb(85,85,85)"/><rect x="-3.3" y="818.0" width="30.5" height="30.5" fill="rgb(85,85,85)"/><rect x="26.7" y="818.0" width="30.5" height="30.5" fill="rgb(85,85,85)"/><rect x="56.7" y="818.0" width="30.5" height="30.5" fill="rgb(85,85,85)"/><rect x="86.7" y="818.0" width="30.5" height="30.5" fill="rgb(85,85,85)"/><rect x="116.7" y="818.0" width="30.5" height="30.5" fill="rgb(85,85,85)"/><rect x="146.7" y="818.0" width="30.5" height="30.5" fill="rgb(85,85,85)"/><rect x="176.7" y="818.0" width="30.5" height="30.5" fill="rgb(170,170,170)"/><rect x="206.7" y="818.0" width="30.5" height="30.5" fill="rgb(170,170,170)"/><rect x="236.7" y="818.0" width="30.5" height="30.5" fill="rgb(170,170,170)"/><rect x="266.7" y="818.0" width="30.5" height="30.5" fill="rgb(170,170,170)"/><rect x="296.7" y="818.0" width="30.5" height="30.5" fill="rgb(170,170,170)"/><rect x="326.7" y="818.0" width="30.5" height="30.5" fill="rgb(170,170,170)"/><rect x="356.7" y="818.0" width="30.5" height="30.5" fill="rgb(42,42,42)"/><rect x="386.7" y="818.0" width="30.5" height="30.5" fill="rgb(42,42,42)"/><rect x="416.7" y="818.0" width="30.5" height="30.5" fill="rgb(42,42,42)"/><rect x="446.7" y="818.0" width="30.5" height="30.5" fill="rgb(42,42,42)"/><rect x="476.7" y="818.0" width="30.5" height="30.5" fill="rgb(42,42,42)"/><rect x="506.7" y="818.0" width="30.5" height="30.5" fill="rgb(42,42,42)"/><rect x="536.7" y="818.0" width="30.5" height="30.5" fill="rgb(42,42,42)"/><rect x="566.7" y="818.0" width="30.5" height="30.5" fill="rgb(42,42,42)"/><rect x="596.7" y="818.0" width="30.5" height="30.5" fill="rgb(42,42,42)"/><rect x="626.7" y="818.0" width="30.5" height="30.5" fill="rgb(42,42,42)"/><rect x="656.7" y="818.0" width="30.5" height="30.5" fill="rgb(42,42,42)"/><rect x="-33.3" y="848.0" width="30.5" height="30.5" fill="rgb(85,85,85)"/><rect x="-3.3" y="848.0" width="30.5" height="30.5" fill="rgb(85,85,85)"/><rect x="26.7" y="848.0" width="30.5" height="30.5" fill="rgb(85,85,85)"/><rect x="56.7" y="848.0" width="30.5" height="30.5" fill="rgb(85,85,85)"/><rect x="86.7" y="848.0" width="30.5" height="30.5" fill="rgb(85,85,85)"/><rect x="116.7" y="848.0" width="30.5" height="30.5" fill="rgb(128,128,128)"/><rect x="146.7" y="848.0" width="30.5" height="30.5" fill="rgb(128,128,128)"/><rect x="176.7" y="848.0" width="30.5" height="30.5" fill="rgb(128,128,128)"/><rect x="206.7" y="848.0" width="30.5" height="30.5" fill="rgb(170,170,170)"/><rect x="236.7" y="848.0" width="30.5" height="30.5" fill="rgb(42,42,42)"/><rect x="266.7" y="848.0" width="30.5" height="30.5" fill="rgb(170,170,170)"/><rect x="296.7" y="848.0" width="30.5" height="30.5" fill="rgb(212,212,212)"/><rect x="326.7" y="848.0" width="30.5" height="30.5" fill="rgb(212,212,212)"/><rect x="356.7" y="848.0" width="30.5" height="30.5" fill="rgb(85,85,85)"/><rect x="386.7" y="848.0" width="30.5" height="30.5" fill="rgb(42,42,42)"/><rect x="416.7" y="848.0" width="30.5" height="30.5" fill="rgb(85,85,85)"/><rect x="446.7" y="848.0" width="30.5" height="30.5" fill="rgb(42,42,42)"/><rect x="476.7" y="848.0" width="30.5" height="30.5" fill="rgb(42,42,42)"/><rect x="506.7" y="848.0" width="30.5" height="30.5" fill="rgb(42,42,42)"/><rect x="536.7" y="848.0" width="30.5" height="30.5" fill="rgb(42,42,42)"/><rect x="566.7" y="848.0" width="30.5" height="30.5" fill="rgb(42,42,42)"/><rect x="596.7" y="848.0" width="30.5" height="30.5" fill="rgb(42,42,42)"/><rect x="626.7" y="848.0" width="30.5" height="30.5" fill="rgb(42,42,42)"/><rect x="656.7" y="848.0" width="30.5" height="30.5" fill="rgb(42,42,42)"/><rect x="-33.3" y="878.0" width="30.5" height="30.5" fill="rgb(85,85,85)"/><rect x="-3.3" y="878.0" width="30.5" height="30.5" fill="rgb(85,85,85)"/><rect x="26.7" y="878.0" width="30.5" height="30.5" fill="rgb(85,85,85)"/><rect x="56.7" y="878.0" width="30.5" height="30.5" fill="rgb(85,85,85)"/><rect x="86.7" y="878.0" width="30.5" height="30.5" fill="rgb(85,85,85)"/><rect x="116.7" y="878.0" width="30.5" height="30.5" fill="rgb(42,42,42)"/><rect x="146.7" y="878.0" width="30.5" height="30.5" fill="rgb(85,85,85)"/><rect x="176.7" y="878.0" width="30.5" height="30.5" fill="rgb(128,128,128)"/><rect x="206.7" y="878.0" width="30.5" height="30.5" fill="rgb(170,170,170)"/><rect x="236.7" y="878.0" width="30.5" height="30.5" fill="rgb(128,128,128)"/><rect x="266.7" y="878.0" width="30.5" height="30.5" fill="rgb(170,170,170)"/><rect x="296.7" y="878.0" width="30.5" height="30.5" fill="rgb(128,128,128)"/><rect x="326.7" y="878.0" width="30.5" height="30.5" fill="rgb(170,170,170)"/><rect x="356.7" y="878.0" width="30.5" height="30.5" fill="rgb(85,85,85)"/><rect x="386.7" y="878.0" width="30.5" height="30.5" fill="rgb(0,0,0)"/><rect x="416.7" y="878.0" width="30.5" height="30.5" fill="rgb(85,85,85)"/><rect x="446.7" y="878.0" width="30.5" height="30.5" fill="rgb(128,128,128)"/><rect x="476.7" y="878.0" width="30.5" height="30.5" fill="rgb(42,42,42)"/><rect x="506.7" y="878.0" width="30.5" height="30.5" fill="rgb(42,42,42)"/><rect x="536.7" y="878.0" width="30.5" height="30.5" fill="rgb(85,85,85)"/><rect x="566.7" y="878.0" width="30.5" height="30.5" fill="rgb(42,42,42)"/><rect x="596.7" y="878.0" width="30.5" height="30.5" fill="rgb(42,42,42)"/><rect x="626.7" y="878.0" width="30.5" height="30.5" fill="rgb(42,42,42)"/><rect x="656.7" y="878.0" width="30.5" height="30.5" fill="rgb(42,42,42)"/><rect x="-33.3" y="908.0" width="30.5" height="30.5" fill="rgb(128,128,128)"/><rect x="-3.3" y="908.0" width="30.5" height="30.5" fill="rgb(128,128,128)"/><rect x="26.7" y="908.0" width="30.5" height="30.5" fill="rgb(128,128,128)"/><rect x="56.7" y="908.0" width="30.5" height="30.5" fill="rgb(128,128,128)"/><rect x="86.7" y="908.0" width="30.5" height="30.5" fill="rgb(170,170,170)"/><rect x="116.7" y="908.0" width="30.5" height="30.5" fill="rgb(85,85,85)"/><rect x="146.7" y="908.0" width="30.5" height="30.5" fill="rgb(85,85,85)"/><rect x="176.7" y="908.0" width="30.5" height="30.5" fill="rgb(128,128,128)"/><rect x="206.7" y="908.0" width="30.5" height="30.5" fill="rgb(85,85,85)"/><rect x="236.7" y="908.0" width="30.5" height="30.5" fill="rgb(0,0,0)"/><rect x="266.7" y="908.0" width="30.5" height="30.5" fill="rgb(170,170,170)"/><rect x="296.7" y="908.0" width="30.5" height="30.5" fill="rgb(170,170,170)"/><rect x="326.7" y="908.0" width="30.5" height="30.5" fill="rgb(170,170,170)"/><rect x="356.7" y="908.0" width="30.5" height="30.5" fill="rgb(85,85,85)"/><rect x="386.7" y="908.0" width="30.5" height="30.5" fill="rgb(42,42,42)"/><rect x="416.7" y="908.0" width="30.5" height="30.5" fill="rgb(170,170,170)"/><rect x="446.7" y="908.0" width="30.5" height="30.5" fill="rgb(170,170,170)"/><rect x="476.7" y="908.0" width="30.5" height="30.5" fill="rgb(128,128,128)"/><rect x="506.7" y="908.0" width="30.5" height="30.5" fill="rgb(170,170,170)"/><rect x="536.7" y="908.0" width="30.5" height="30.5" fill="rgb(85,85,85)"/><rect x="566.7" y="908.0" width="30.5" height="30.5" fill="rgb(42,42,42)"/><rect x="596.7" y="908.0" width="30.5" height="30.5" fill="rgb(42,42,42)"/><rect x="626.7" y="908.0" width="30.5" height="30.5" fill="rgb(42,42,42)"/><rect x="656.7" y="908.0" width="30.5" height="30.5" fill="rgb(42,42,42)"/><rect x="-33.3" y="938.0" width="30.5" height="30.5" fill="rgb(128,128,128)"/><rect x="-3.3" y="938.0" width="30.5" height="30.5" fill="rgb(128,128,128)"/><rect x="26.7" y="938.0" width="30.5" height="30.5" fill="rgb(128,128,128)"/><rect x="56.7" y="938.0" width="30.5" height="30.5" fill="rgb(128,128,128)"/><rect x="86.7" y="938.0" width="30.5" height="30.5" fill="rgb(170,170,170)"/><rect x="116.7" y="938.0" width="30.5" height="30.5" fill="rgb(85,85,85)"/><rect x="146.7" y="938.0" width="30.5" height="30.5" fill="rgb(85,85,85)"/><rect x="176.7" y="938.0" width="30.5" height="30.5" fill="rgb(85,85,85)"/><rect x="206.7" y="938.0" width="30.5" height="30.5" fill="rgb(42,42,42)"/><rect x="236.7" y="938.0" width="30.5" height="30.5" fill="rgb(42,42,42)"/><rect x="266.7" y="938.0" width="30.5" height="30.5" fill="rgb(128,128,128)"/><rect x="296.7" y="938.0" width="30.5" height="30.5" fill="rgb(170,170,170)"/><rect x="326.7" y="938.0" width="30.5" height="30.5" fill="rgb(128,128,128)"/><rect x="356.7" y="938.0" width="30.5" height="30.5" fill="rgb(85,85,85)"/><rect x="386.7" y="938.0" width="30.5" height="30.5" fill="rgb(170,170,170)"/><rect x="416.7" y="938.0" width="30.5" height="30.5" fill="rgb(170,170,170)"/><rect x="446.7" y="938.0" width="30.5" height="30.5" fill="rgb(85,85,85)"/><rect x="476.7" y="938.0" width="30.5" height="30.5" fill="rgb(85,85,85)"/><rect x="506.7" y="938.0" width="30.5" height="30.5" fill="rgb(85,85,85)"/><rect x="536.7" y="938.0" width="30.5" height="30.5" fill="rgb(85,85,85)"/><rect x="566.7" y="938.0" width="30.5" height="30.5" fill="rgb(85,85,85)"/><rect x="596.7" y="938.0" width="30.5" height="30.5" fill="rgb(85,85,85)"/><rect x="626.7" y="938.0" width="30.5" height="30.5" fill="rgb(85,85,85)"/><rect x="656.7" y="938.0" width="30.5" height="30.5" fill="rgb(85,85,85)"/><rect x="-33.3" y="968.0" width="30.5" height="30.5" fill="rgb(128,128,128)"/><rect x="-3.3" y="968.0" width="30.5" height="30.5" fill="rgb(128,128,128)"/><rect x="26.7" y="968.0" width="30.5" height="30.5" fill="rgb(128,128,128)"/><rect x="56.7" y="968.0" width="30.5" height="30.5" fill="rgb(128,128,128)"/><rect x="86.7" y="968.0" width="30.5" height="30.5" fill="rgb(128,128,128)"/><rect x="116.7" y="968.0" width="30.5" height="30.5" fill="rgb(85,85,85)"/><rect x="146.7" y="968.0" width="30.5" height="30.5" fill="rgb(85,85,85)"/><rect x="176.7" y="968.0" width="30.5" height="30.5" fill="rgb(42,42,42)"/><rect x="206.7" y="968.0" width="30.5" height="30.5" fill="rgb(0,0,0)"/><rect x="236.7" y="968.0" width="30.5" height="30.5" fill="rgb(85,85,85)"/><rect x="266.7" y="968.0" width="30.5" height="30.5" fill="rgb(170,170,170)"/><rect x="296.7" y="968.0" width="30.5" height="30.5" fill="rgb(170,170,170)"/><rect x="326.7" y="968.0" width="30.5" height="30.5" fill="rgb(85,85,85)"/><rect x="356.7" y="968.0" width="30.5" height="30.5" fill="rgb(85,85,85)"/><rect x="386.7" y="968.0" width="30.5" height="30.5" fill="rgb(212,212,212)"/><rect x="416.7" y="968.0" width="30.5" height="30.5" fill="rgb(212,212,212)"/><rect x="446.7" y="968.0" width="30.5" height="30.5" fill="rgb(170,170,170)"/><rect x="476.7" y="968.0" width="30.5" height="30.5" fill="rgb(170,170,170)"/><rect x="506.7" y="968.0" width="30.5" height="30.5" fill="rgb(85,85,85)"/><rect x="536.7" y="968.0" width="30.5" height="30.5" fill="rgb(85,85,85)"/><rect x="566.7" y="968.0" width="30.5" height="30.5" fill="rgb(85,85,85)"/><rect x="596.7" y="968.0" width="30.5" height="30.5" fill="rgb(85,85,85)"/><rect x="626.7" y="968.0" width="30.5" height="30.5" fill="rgb(85,85,85)"/><rect x="656.7" y="968.0" width="30.5" height="30.5" fill="rgb(85,85,85)"/><rect x="-33.3" y="998.0" width="30.5" height="30.5" fill="rgb(212,212,212)"/><rect x="-3.3" y="998.0" width="30.5" height="30.5" fill="rgb(212,212,212)"/><rect x="26.7" y="998.0" width="30.5" height="30.5" fill="rgb(212,212,212)"/><rect x="56.7" y="998.0" width="30.5" height="30.5" fill="rgb(212,212,212)"/><rect x="86.7" y="998.0" width="30.5" height="30.5" fill="rgb(212,212,212)"/><rect x="116.7" y="998.0" width="30.5" height="30.5" fill="rgb(128,128,128)"/><rect x="146.7" y="998.0" width="30.5" height="30.5" fill="rgb(85,85,85)"/><rect x="176.7" y="998.0" width="30.5" height="30.5" fill="rgb(85,85,85)"/><rect x="206.7" y="998.0" width="30.5" height="30.5" fill="rgb(128,128,128)"/><rect x="236.7" y="998.0" width="30.5" height="30.5" fill="rgb(170,170,170)"/><rect x="266.7" y="998.0" width="30.5" height="30.5" fill="rgb(128,128,128)"/><rect x="296.7" y="998.0" width="30.5" height="30.5" fill="rgb(170,170,170)"/><rect x="326.7" y="998.0" width="30.5" height="30.5" fill="rgb(128,128,128)"/><rect x="356.7" y="998.0" width="30.5" height="30.5" fill="rgb(170,170,170)"/><rect x="386.7" y="998.0" width="30.5" height="30.5" fill="rgb(85,85,85)"/><rect x="416.7" y="998.0" width="30.5" height="30.5" fill="rgb(212,212,212)"/><rect x="446.7" y="998.0" width="30.5" height="30.5" fill="rgb(170,170,170)"/><rect x="476.7" y="998.0" width="30.5" height="30.5" fill="rgb(85,85,85)"/><rect x="506.7" y="998.0" width="30.5" height="30.5" fill="rgb(85,85,85)"/><rect x="536.7" y="998.0" width="30.5" height="30.5" fill="rgb(85,85,85)"/><rect x="566.7" y="998.0" width="30.5" height="30.5" fill="rgb(85,85,85)"/><rect x="596.7" y="998.0" width="30.5" height="30.5" fill="rgb(85,85,85)"/><rect x="626.7" y="998.0" width="30.5" height="30.5" fill="rgb(85,85,85)"/><rect x="656.7" y="998.0" width="30.5" height="30.5" fill="rgb(85,85,85)"/><rect x="-33.3" y="1028.0" width="30.5" height="30.5" fill="rgb(128,128,128)"/><rect x="-3.3" y="1028.0" width="30.5" height="30.5" fill="rgb(128,128,128)"/><rect x="26.7" y="1028.0" width="30.5" height="30.5" fill="rgb(128,128,128)"/><rect x="56.7" y="1028.0" width="30.5" height="30.5" fill="rgb(128,128,128)"/><rect x="86.7" y="1028.0" width="30.5" height="30.5" fill="rgb(85,85,85)"/><rect x="116.7" y="1028.0" width="30.5" height="30.5" fill="rgb(85,85,85)"/><rect x="146.7" y="1028.0" width="30.5" height="30.5" fill="rgb(85,85,85)"/><rect x="176.7" y="1028.0" width="30.5" height="30.5" fill="rgb(85,85,85)"/><rect x="206.7" y="1028.0" width="30.5" height="30.5" fill="rgb(42,42,42)"/><rect x="236.7" y="1028.0" width="30.5" height="30.5" fill="rgb(170,170,170)"/><rect x="266.7" y="1028.0" width="30.5" height="30.5" fill="rgb(128,128,128)"/><rect x="296.7" y="1028.0" width="30.5" height="30.5" fill="rgb(170,170,170)"/><rect x="326.7" y="1028.0" width="30.5" height="30.5" fill="rgb(170,170,170)"/><rect x="356.7" y="1028.0" width="30.5" height="30.5" fill="rgb(128,128,128)"/><rect x="386.7" y="1028.0" width="30.5" height="30.5" fill="rgb(85,85,85)"/><rect x="416.7" y="1028.0" width="30.5" height="30.5" fill="rgb(0,0,0)"/><rect x="446.7" y="1028.0" width="30.5" height="30.5" fill="rgb(85,85,85)"/><rect x="476.7" y="1028.0" width="30.5" height="30.5" fill="rgb(85,85,85)"/><rect x="506.7" y="1028.0" width="30.5" height="30.5" fill="rgb(85,85,85)"/><rect x="536.7" y="1028.0" width="30.5" height="30.5" fill="rgb(85,85,85)"/><rect x="566.7" y="1028.0" width="30.5" height="30.5" fill="rgb(85,85,85)"/><rect x="596.7" y="1028.0" width="30.5" height="30.5" fill="rgb(85,85,85)"/><rect x="626.7" y="1028.0" width="30.5" height="30.5" fill="rgb(85,85,85)"/><rect x="656.7" y="1028.0" width="30.5" height="30.5" fill="rgb(85,85,85)"/><rect x="-33.3" y="1058.0" width="30.5" height="30.5" fill="rgb(85,85,85)"/><rect x="-3.3" y="1058.0" width="30.5" height="30.5" fill="rgb(85,85,85)"/><rect x="26.7" y="1058.0" width="30.5" height="30.5" fill="rgb(85,85,85)"/><rect x="56.7" y="1058.0" width="30.5" height="30.5" fill="rgb(85,85,85)"/><rect x="86.7" y="1058.0" width="30.5" height="30.5" fill="rgb(85,85,85)"/><rect x="116.7" y="1058.0" width="30.5" height="30.5" fill="rgb(85,85,85)"/><rect x="146.7" y="1058.0" width="30.5" height="30.5" fill="rgb(85,85,85)"/><rect x="176.7" y="1058.0" width="30.5" height="30.5" fill="rgb(85,85,85)"/><rect x="206.7" y="1058.0" width="30.5" height="30.5" fill="rgb(128,128,128)"/><rect x="236.7" y="1058.0" width="30.5" height="30.5" fill="rgb(128,128,128)"/><rect x="266.7" y="1058.0" width="30.5" height="30.5" fill="rgb(170,170,170)"/><rect x="296.7" y="1058.0" width="30.5" height="30.5" fill="rgb(85,85,85)"/><rect x="326.7" y="1058.0" width="30.5" height="30.5" fill="rgb(128,128,128)"/><rect x="356.7" y="1058.0" width="30.5" height="30.5" fill="rgb(128,128,128)"/><rect x="386.7" y="1058.0" width="30.5" height="30.5" fill="rgb(85,85,85)"/><rect x="416.7" y="1058.0" width="30.5" height="30.5" fill="rgb(42,42,42)"/><rect x="446.7" y="1058.0" width="30.5" height="30.5" fill="rgb(128,128,128)"/><rect x="476.7" y="1058.0" width="30.5" height="30.5" fill="rgb(128,128,128)"/><rect x="506.7" y="1058.0" width="30.5" height="30.5" fill="rgb(128,128,128)"/><rect x="536.7" y="1058.0" width="30.5" height="30.5" fill="rgb(128,128,128)"/><rect x="566.7" y="1058.0" width="30.5" height="30.5" fill="rgb(128,128,128)"/><rect x="596.7" y="1058.0" width="30.5" height="30.5" fill="rgb(128,128,128)"/><rect x="626.7" y="1058.0" width="30.5" height="30.5" fill="rgb(128,128,128)"/><rect x="656.7" y="1058.0" width="30.5" height="30.5" fill="rgb(128,128,128)"/><rect x="-33.3" y="1088.0" width="30.5" height="30.5" fill="rgb(85,85,85)"/><rect x="-3.3" y="1088.0" width="30.5" height="30.5" fill="rgb(85,85,85)"/><rect x="26.7" y="1088.0" width="30.5" height="30.5" fill="rgb(85,85,85)"/><rect x="56.7" y="1088.0" width="30.5" height="30.5" fill="rgb(85,85,85)"/><rect x="86.7" y="1088.0" width="30.5" height="30.5" fill="rgb(128,128,128)"/><rect x="116.7" y="1088.0" width="30.5" height="30.5" fill="rgb(85,85,85)"/><rect x="146.7" y="1088.0" width="30.5" height="30.5" fill="rgb(85,85,85)"/><rect x="176.7" y="1088.0" width="30.5" height="30.5" fill="rgb(85,85,85)"/><rect x="206.7" y="1088.0" width="30.5" height="30.5" fill="rgb(85,85,85)"/><rect x="236.7" y="1088.0" width="30.5" height="30.5" fill="rgb(128,128,128)"/><rect x="266.7" y="1088.0" width="30.5" height="30.5" fill="rgb(170,170,170)"/><rect x="296.7" y="1088.0" width="30.5" height="30.5" fill="rgb(170,170,170)"/><rect x="326.7" y="1088.0" width="30.5" height="30.5" fill="rgb(170,170,170)"/><rect x="356.7" y="1088.0" width="30.5" height="30.5" fill="rgb(128,128,128)"/><rect x="386.7" y="1088.0" width="30.5" height="30.5" fill="rgb(128,128,128)"/><rect x="416.7" y="1088.0" width="30.5" height="30.5" fill="rgb(85,85,85)"/><rect x="446.7" y="1088.0" width="30.5" height="30.5" fill="rgb(170,170,170)"/><rect x="476.7" y="1088.0" width="30.5" height="30.5" fill="rgb(170,170,170)"/><rect x="506.7" y="1088.0" width="30.5" height="30.5" fill="rgb(170,170,170)"/><rect x="536.7" y="1088.0" width="30.5" height="30.5" fill="rgb(170,170,170)"/><rect x="566.7" y="1088.0" width="30.5" height="30.5" fill="rgb(170,170,170)"/><rect x="596.7" y="1088.0" width="30.5" height="30.5" fill="rgb(170,170,170)"/><rect x="626.7" y="1088.0" width="30.5" height="30.5" fill="rgb(170,170,170)"/><rect x="656.7" y="1088.0" width="30.5" height="30.5" fill="rgb(170,170,170)"/><rect x="-33.3" y="1118.0" width="30.5" height="30.5" fill="rgb(85,85,85)"/><rect x="-3.3" y="1118.0" width="30.5" height="30.5" fill="rgb(85,85,85)"/><rect x="26.7" y="1118.0" width="30.5" height="30.5" fill="rgb(85,85,85)"/><rect x="56.7" y="1118.0" width="30.5" height="30.5" fill="rgb(85,85,85)"/><rect x="86.7" y="1118.0" width="30.5" height="30.5" fill="rgb(128,128,128)"/><rect x="116.7" y="1118.0" width="30.5" height="30.5" fill="rgb(128,128,128)"/><rect x="146.7" y="1118.0" width="30.5" height="30.5" fill="rgb(85,85,85)"/><rect x="176.7" y="1118.0" width="30.5" height="30.5" fill="rgb(85,85,85)"/><rect x="206.7" y="1118.0" width="30.5" height="30.5" fill="rgb(85,85,85)"/><rect x="236.7" y="1118.0" width="30.5" height="30.5" fill="rgb(128,128,128)"/><rect x="266.7" y="1118.0" width="30.5" height="30.5" fill="rgb(128,128,128)"/><rect x="296.7" y="1118.0" width="30.5" height="30.5" fill="rgb(128,128,128)"/><rect x="326.7" y="1118.0" width="30.5" height="30.5" fill="rgb(128,128,128)"/><rect x="356.7" y="1118.0" width="30.5" height="30.5" fill="rgb(128,128,128)"/><rect x="386.7" y="1118.0" width="30.5" height="30.5" fill="rgb(128,128,128)"/><rect x="416.7" y="1118.0" width="30.5" height="30.5" fill="rgb(85,85,85)"/><rect x="446.7" y="1118.0" width="30.5" height="30.5" fill="rgb(128,128,128)"/><rect x="476.7" y="1118.0" width="30.5" height="30.5" fill="rgb(128,128,128)"/><rect x="506.7" y="1118.0" width="30.5" height="30.5" fill="rgb(128,128,128)"/><rect x="536.7" y="1118.0" width="30.5" height="30.5" fill="rgb(128,128,128)"/><rect x="566.7" y="1118.0" width="30.5" height="30.5" fill="rgb(128,128,128)"/><rect x="596.7" y="1118.0" width="30.5" height="30.5" fill="rgb(128,128,128)"/><rect x="626.7" y="1118.0" width="30.5" height="30.5" fill="rgb(128,128,128)"/><rect x="656.7" y="1118.0" width="30.5" height="30.5" fill="rgb(128,128,128)"/><rect x="-33.3" y="1148.0" width="30.5" height="30.5" fill="rgb(85,85,85)"/><rect x="-3.3" y="1148.0" width="30.5" height="30.5" fill="rgb(85,85,85)"/><rect x="26.7" y="1148.0" width="30.5" height="30.5" fill="rgb(85,85,85)"/><rect x="56.7" y="1148.0" width="30.5" height="30.5" fill="rgb(85,85,85)"/><rect x="86.7" y="1148.0" width="30.5" height="30.5" fill="rgb(128,128,128)"/><rect x="116.7" y="1148.0" width="30.5" height="30.5" fill="rgb(128,128,128)"/><rect x="146.7" y="1148.0" width="30.5" height="30.5" fill="rgb(85,85,85)"/><rect x="176.7" y="1148.0" width="30.5" height="30.5" fill="rgb(42,42,42)"/><rect x="206.7" y="1148.0" width="30.5" height="30.5" fill="rgb(85,85,85)"/><rect x="236.7" y="1148.0" width="30.5" height="30.5" fill="rgb(128,128,128)"/><rect x="266.7" y="1148.0" width="30.5" height="30.5" fill="rgb(128,128,128)"/><rect x="296.7" y="1148.0" width="30.5" height="30.5" fill="rgb(128,128,128)"/><rect x="326.7" y="1148.0" width="30.5" height="30.5" fill="rgb(128,128,128)"/><rect x="356.7" y="1148.0" width="30.5" height="30.5" fill="rgb(170,170,170)"/><rect x="386.7" y="1148.0" width="30.5" height="30.5" fill="rgb(128,128,128)"/><rect x="416.7" y="1148.0" width="30.5" height="30.5" fill="rgb(85,85,85)"/><rect x="446.7" y="1148.0" width="30.5" height="30.5" fill="rgb(85,85,85)"/><rect x="476.7" y="1148.0" width="30.5" height="30.5" fill="rgb(128,128,128)"/><rect x="506.7" y="1148.0" width="30.5" height="30.5" fill="rgb(128,128,128)"/><rect x="536.7" y="1148.0" width="30.5" height="30.5" fill="rgb(128,128,128)"/><rect x="566.7" y="1148.0" width="30.5" height="30.5" fill="rgb(128,128,128)"/><rect x="596.7" y="1148.0" width="30.5" height="30.5" fill="rgb(128,128,128)"/><rect x="626.7" y="1148.0" width="30.5" height="30.5" fill="rgb(128,128,128)"/><rect x="656.7" y="1148.0" width="30.5" height="30.5" fill="rgb(128,128,128)"/><rect x="-33.3" y="1178.0" width="30.5" height="30.5" fill="rgb(128,128,128)"/><rect x="-3.3" y="1178.0" width="30.5" height="30.5" fill="rgb(128,128,128)"/><rect x="26.7" y="1178.0" width="30.5" height="30.5" fill="rgb(128,128,128)"/><rect x="56.7" y="1178.0" width="30.5" height="30.5" fill="rgb(128,128,128)"/><rect x="86.7" y="1178.0" width="30.5" height="30.5" fill="rgb(128,128,128)"/><rect x="116.7" y="1178.0" width="30.5" height="30.5" fill="rgb(128,128,128)"/><rect x="146.7" y="1178.0" width="30.5" height="30.5" fill="rgb(128,128,128)"/><rect x="176.7" y="1178.0" width="30.5" height="30.5" fill="rgb(85,85,85)"/><rect x="206.7" y="1178.0" width="30.5" height="30.5" fill="rgb(85,85,85)"/><rect x="236.7" y="1178.0" width="30.5" height="30.5" fill="rgb(128,128,128)"/><rect x="266.7" y="1178.0" width="30.5" height="30.5" fill="rgb(128,128,128)"/><rect x="296.7" y="1178.0" width="30.5" height="30.5" fill="rgb(85,85,85)"/><rect x="326.7" y="1178.0" width="30.5" height="30.5" fill="rgb(85,85,85)"/><rect x="356.7" y="1178.0" width="30.5" height="30.5" fill="rgb(128,128,128)"/><rect x="386.7" y="1178.0" width="30.5" height="30.5" fill="rgb(128,128,128)"/><rect x="416.7" y="1178.0" width="30.5" height="30.5" fill="rgb(85,85,85)"/><rect x="446.7" y="1178.0" width="30.5" height="30.5" fill="rgb(128,128,128)"/><rect x="476.7" y="1178.0" width="30.5" height="30.5" fill="rgb(128,128,128)"/><rect x="506.7" y="1178.0" width="30.5" height="30.5" fill="rgb(128,128,128)"/><rect x="536.7" y="1178.0" width="30.5" height="30.5" fill="rgb(128,128,128)"/><rect x="566.7" y="1178.0" width="30.5" height="30.5" fill="rgb(128,128,128)"/><rect x="596.7" y="1178.0" width="30.5" height="30.5" fill="rgb(128,128,128)"/><rect x="626.7" y="1178.0" width="30.5" height="30.5" fill="rgb(128,128,128)"/><rect x="656.7" y="1178.0" width="30.5" height="30.5" fill="rgb(128,128,128)"/><rect x="-33.3" y="1208.0" width="30.5" height="30.5" fill="rgb(128,128,128)"/><rect x="-3.3" y="1208.0" width="30.5" height="30.5" fill="rgb(128,128,128)"/><rect x="26.7" y="1208.0" width="30.5" height="30.5" fill="rgb(128,128,128)"/><rect x="56.7" y="1208.0" width="30.5" height="30.5" fill="rgb(128,128,128)"/><rect x="86.7" y="1208.0" width="30.5" height="30.5" fill="rgb(128,128,128)"/><rect x="116.7" y="1208.0" width="30.5" height="30.5" fill="rgb(128,128,128)"/><rect x="146.7" y="1208.0" width="30.5" height="30.5" fill="rgb(128,128,128)"/><rect x="176.7" y="1208.0" width="30.5" height="30.5" fill="rgb(85,85,85)"/><rect x="206.7" y="1208.0" width="30.5" height="30.5" fill="rgb(128,128,128)"/><rect x="236.7" y="1208.0" width="30.5" height="30.5" fill="rgb(85,85,85)"/><rect x="266.7" y="1208.0" width="30.5" height="30.5" fill="rgb(128,128,128)"/><rect x="296.7" y="1208.0" width="30.5" height="30.5" fill="rgb(85,85,85)"/><rect x="326.7" y="1208.0" width="30.5" height="30.5" fill="rgb(85,85,85)"/><rect x="356.7" y="1208.0" width="30.5" height="30.5" fill="rgb(128,128,128)"/><rect x="386.7" y="1208.0" width="30.5" height="30.5" fill="rgb(85,85,85)"/><rect x="416.7" y="1208.0" width="30.5" height="30.5" fill="rgb(128,128,128)"/><rect x="446.7" y="1208.0" width="30.5" height="30.5" fill="rgb(170,170,170)"/><rect x="476.7" y="1208.0" width="30.5" height="30.5" fill="rgb(170,170,170)"/><rect x="506.7" y="1208.0" width="30.5" height="30.5" fill="rgb(170,170,170)"/><rect x="536.7" y="1208.0" width="30.5" height="30.5" fill="rgb(170,170,170)"/><rect x="566.7" y="1208.0" width="30.5" height="30.5" fill="rgb(170,170,170)"/><rect x="596.7" y="1208.0" width="30.5" height="30.5" fill="rgb(170,170,170)"/><rect x="626.7" y="1208.0" width="30.5" height="30.5" fill="rgb(170,170,170)"/><rect x="656.7" y="1208.0" width="30.5" height="30.5" fill="rgb(170,170,170)"/><rect x="-33.3" y="1238.0" width="30.5" height="30.5" fill="rgb(128,128,128)"/><rect x="-3.3" y="1238.0" width="30.5" height="30.5" fill="rgb(128,128,128)"/><rect x="26.7" y="1238.0" width="30.5" height="30.5" fill="rgb(128,128,128)"/><rect x="56.7" y="1238.0" width="30.5" height="30.5" fill="rgb(128,128,128)"/><rect x="86.7" y="1238.0" width="30.5" height="30.5" fill="rgb(128,128,128)"/><rect x="116.7" y="1238.0" width="30.5" height="30.5" fill="rgb(128,128,128)"/><rect x="146.7" y="1238.0" width="30.5" height="30.5" fill="rgb(128,128,128)"/><rect x="176.7" y="1238.0" width="30.5" height="30.5" fill="rgb(85,85,85)"/><rect x="206.7" y="1238.0" width="30.5" height="30.5" fill="rgb(128,128,128)"/><rect x="236.7" y="1238.0" width="30.5" height="30.5" fill="rgb(85,85,85)"/><rect x="266.7" y="1238.0" width="30.5" height="30.5" fill="rgb(128,128,128)"/><rect x="296.7" y="1238.0" width="30.5" height="30.5" fill="rgb(85,85,85)"/><rect x="326.7" y="1238.0" width="30.5" height="30.5" fill="rgb(128,128,128)"/><rect x="356.7" y="1238.0" width="30.5" height="30.5" fill="rgb(128,128,128)"/><rect x="386.7" y="1238.0" width="30.5" height="30.5" fill="rgb(85,85,85)"/><rect x="416.7" y="1238.0" width="30.5" height="30.5" fill="rgb(128,128,128)"/><rect x="446.7" y="1238.0" width="30.5" height="30.5" fill="rgb(170,170,170)"/><rect x="476.7" y="1238.0" width="30.5" height="30.5" fill="rgb(170,170,170)"/><rect x="506.7" y="1238.0" width="30.5" height="30.5" fill="rgb(170,170,170)"/><rect x="536.7" y="1238.0" width="30.5" height="30.5" fill="rgb(170,170,170)"/><rect x="566.7" y="1238.0" width="30.5" height="30.5" fill="rgb(170,170,170)"/><rect x="596.7" y="1238.0" width="30.5" height="30.5" fill="rgb(170,170,170)"/><rect x="626.7" y="1238.0" width="30.5" height="30.5" fill="rgb(170,170,170)"/><rect x="656.7" y="1238.0" width="30.5" height="30.5" fill="rgb(170,170,170)"/><rect x="-33.3" y="1268.0" width="30.5" height="30.5" fill="rgb(128,128,128)"/><rect x="-3.3" y="1268.0" width="30.5" height="30.5" fill="rgb(128,128,128)"/><rect x="26.7" y="1268.0" width="30.5" height="30.5" fill="rgb(128,128,128)"/><rect x="56.7" y="1268.0" width="30.5" height="30.5" fill="rgb(128,128,128)"/><rect x="86.7" y="1268.0" width="30.5" height="30.5" fill="rgb(128,128,128)"/><rect x="116.7" y="1268.0" width="30.5" height="30.5" fill="rgb(128,128,128)"/><rect x="146.7" y="1268.0" width="30.5" height="30.5" fill="rgb(128,128,128)"/><rect x="176.7" y="1268.0" width="30.5" height="30.5" fill="rgb(85,85,85)"/><rect x="206.7" y="1268.0" width="30.5" height="30.5" fill="rgb(128,128,128)"/><rect x="236.7" y="1268.0" width="30.5" height="30.5" fill="rgb(85,85,85)"/><rect x="266.7" y="1268.0" width="30.5" height="30.5" fill="rgb(128,128,128)"/><rect x="296.7" y="1268.0" width="30.5" height="30.5" fill="rgb(85,85,85)"/><rect x="326.7" y="1268.0" width="30.5" height="30.5" fill="rgb(128,128,128)"/><rect x="356.7" y="1268.0" width="30.5" height="30.5" fill="rgb(128,128,128)"/><rect x="386.7" y="1268.0" width="30.5" height="30.5" fill="rgb(85,85,85)"/><rect x="416.7" y="1268.0" width="30.5" height="30.5" fill="rgb(128,128,128)"/><rect x="446.7" y="1268.0" width="30.5" height="30.5" fill="rgb(170,170,170)"/><rect x="476.7" y="1268.0" width="30.5" height="30.5" fill="rgb(170,170,170)"/><rect x="506.7" y="1268.0" width="30.5" height="30.5" fill="rgb(170,170,170)"/><rect x="536.7" y="1268.0" width="30.5" height="30.5" fill="rgb(170,170,170)"/><rect x="566.7" y="1268.0" width="30.5" height="30.5" fill="rgb(170,170,170)"/><rect x="596.7" y="1268.0" width="30.5" height="30.5" fill="rgb(170,170,170)"/><rect x="626.7" y="1268.0" width="30.5" height="30.5" fill="rgb(170,170,170)"/><rect x="656.7" y="1268.0" width="30.5" height="30.5" fill="rgb(170,170,170)"/><rect x="-33.3" y="1298.0" width="30.5" height="30.5" fill="rgb(128,128,128)"/><rect x="-3.3" y="1298.0" width="30.5" height="30.5" fill="rgb(128,128,128)"/><rect x="26.7" y="1298.0" width="30.5" height="30.5" fill="rgb(128,128,128)"/><rect x="56.7" y="1298.0" width="30.5" height="30.5" fill="rgb(128,128,128)"/><rect x="86.7" y="1298.0" width="30.5" height="30.5" fill="rgb(128,128,128)"/><rect x="116.7" y="1298.0" width="30.5" height="30.5" fill="rgb(128,128,128)"/><rect x="146.7" y="1298.0" width="30.5" height="30.5" fill="rgb(128,128,128)"/><rect x="176.7" y="1298.0" width="30.5" height="30.5" fill="rgb(85,85,85)"/><rect x="206.7" y="1298.0" width="30.5" height="30.5" fill="rgb(128,128,128)"/><rect x="236.7" y="1298.0" width="30.5" height="30.5" fill="rgb(85,85,85)"/><rect x="266.7" y="1298.0" width="30.5" height="30.5" fill="rgb(128,128,128)"/><rect x="296.7" y="1298.0" width="30.5" height="30.5" fill="rgb(85,85,85)"/><rect x="326.7" y="1298.0" width="30.5" height="30.5" fill="rgb(128,128,128)"/><rect x="356.7" y="1298.0" width="30.5" height="30.5" fill="rgb(128,128,128)"/><rect x="386.7" y="1298.0" width="30.5" height="30.5" fill="rgb(85,85,85)"/><rect x="416.7" y="1298.0" width="30.5" height="30.5" fill="rgb(128,128,128)"/><rect x="446.7" y="1298.0" width="30.5" height="30.5" fill="rgb(170,170,170)"/><rect x="476.7" y="1298.0" width="30.5" height="30.5" fill="rgb(170,170,170)"/><rect x="506.7" y="1298.0" width="30.5" height="30.5" fill="rgb(170,170,170)"/><rect x="536.7" y="1298.0" width="30.5" height="30.5" fill="rgb(170,170,170)"/><rect x="566.7" y="1298.0" width="30.5" height="30.5" fill="rgb(170,170,170)"/><rect x="596.7" y="1298.0" width="30.5" height="30.5" fill="rgb(170,170,170)"/><rect x="626.7" y="1298.0" width="30.5" height="30.5" fill="rgb(170,170,170)"/><rect x="656.7" y="1298.0" width="30.5" height="30.5" fill="rgb(170,170,170)"/><rect x="-33.3" y="1328.0" width="30.5" height="30.5" fill="rgb(128,128,128)"/><rect x="-3.3" y="1328.0" width="30.5" height="30.5" fill="rgb(128,128,128)"/><rect x="26.7" y="1328.0" width="30.5" height="30.5" fill="rgb(128,128,128)"/><rect x="56.7" y="1328.0" width="30.5" height="30.5" fill="rgb(128,128,128)"/><rect x="86.7" y="1328.0" width="30.5" height="30.5" fill="rgb(128,128,128)"/><rect x="116.7" y="1328.0" width="30.5" height="30.5" fill="rgb(128,128,128)"/><rect x="146.7" y="1328.0" width="30.5" height="30.5" fill="rgb(128,128,128)"/><rect x="176.7" y="1328.0" width="30.5" height="30.5" fill="rgb(85,85,85)"/><rect x="206.7" y="1328.0" width="30.5" height="30.5" fill="rgb(128,128,128)"/><rect x="236.7" y="1328.0" width="30.5" height="30.5" fill="rgb(85,85,85)"/><rect x="266.7" y="1328.0" width="30.5" height="30.5" fill="rgb(128,128,128)"/><rect x="296.7" y="1328.0" width="30.5" height="30.5" fill="rgb(85,85,85)"/><rect x="326.7" y="1328.0" width="30.5" height="30.5" fill="rgb(128,128,128)"/><rect x="356.7" y="1328.0" width="30.5" height="30.5" fill="rgb(128,128,128)"/><rect x="386.7" y="1328.0" width="30.5" height="30.5" fill="rgb(85,85,85)"/><rect x="416.7" y="1328.0" width="30.5" height="30.5" fill="rgb(128,128,128)"/><rect x="446.7" y="1328.0" width="30.5" height="30.5" fill="rgb(170,170,170)"/><rect x="476.7" y="1328.0" width="30.5" height="30.5" fill="rgb(170,170,170)"/><rect x="506.7" y="1328.0" width="30.5" height="30.5" fill="rgb(170,170,170)"/><rect x="536.7" y="1328.0" width="30.5" height="30.5" fill="rgb(170,170,170)"/><rect x="566.7" y="1328.0" width="30.5" height="30.5" fill="rgb(170,170,170)"/><rect x="596.7" y="1328.0" width="30.5" height="30.5" fill="rgb(170,170,170)"/><rect x="626.7" y="1328.0" width="30.5" height="30.5" fill="rgb(170,170,170)"/><rect x="656.7" y="1328.0" width="30.5" height="30.5" fill="rgb(170,170,170)"/><path d="M232.2,852.5 L247.9,848.0 L259.2,861.5 L256.9,881.8 L243.4,886.2 L232.2,875.0 Z" fill="rgb(0,0,0)"/><path d="M236.7,924.5 L254.7,922.2 L256.9,933.5 L247.9,951.5 L236.7,951.5 Z" fill="rgb(0,0,0)"/><path d="M209.7,951.5 L227.7,949.2 L236.7,971.8 L232.2,992.0 L214.2,996.5 L196.2,987.5 L193.9,969.5 Z" fill="rgb(0,0,0)"/><path d="M178.2,987.5 L196.2,987.5 L196.2,1010.0 L178.2,1010.0 Z" fill="rgb(64,64,64)"/><path d="M191.7,1010.0 L209.7,1010.0 L209.7,1028.0 L191.7,1028.0 Z" fill="rgb(0,0,0)"/><path d="M301.9,857.0 L317.7,857.0 L317.7,870.5 L301.9,870.5 Z" fill="rgb(255,255,255)"/><path d="M271.6,873.9 L281.7,873.9 L281.7,884.0 L271.6,884.0 Z" fill="rgb(255,255,255)"/><path d="M254.7,884.0 L263.7,884.0 L263.7,890.8 L254.7,890.8 Z" fill="rgb(255,255,255)"/><path d="M218.7,897.5 L241.2,897.5 L241.2,908.8 L218.7,908.8 Z" fill="rgb(212,212,212)"/><path d="M95.0,915.5 L124.2,915.5 L124.2,944.8 L95.0,944.8 Z" fill="rgb(212,212,212)"/><path d="M155.7,834.5 L178.2,834.5 L178.2,848.0 L155.7,848.0 Z" fill="rgb(212,212,212)"/><path d="M209.7,848.0 L223.2,848.0 L223.2,866.0 L209.7,866.0 Z" fill="rgb(212,212,212)"/><path d="M299.7,911.0 L326.7,911.0 L326.7,947.0 L299.7,947.0 Z" fill="rgb(212,212,212)"/><path d="M95.0,1001.0 L115.2,1001.0 L115.2,1028.0 L95.0,1028.0 Z" fill="rgb(212,212,212)"/><path d="M270.4,960.5 L295.2,960.5 L295.2,983.0 L270.4,983.0 Z" fill="rgb(212,212,212)"/><path d="M124.2,884.0 L151.2,884.0 L151.2,902.0 L124.2,902.0 Z" fill="rgb(64,64,64)"/><path d="M130.9,938.0 L164.7,938.0 L164.7,974.0 L130.9,974.0 Z" fill="rgb(64,64,64)"/><path d="M387.4,886.2 L412.2,884.0 L425.7,897.5 L421.2,920.0 L400.9,915.5 L387.4,902.0 Z" fill="rgb(0,0,0)"/><path d="M425.7,812.0 L443.7,812.0 L443.7,830.0 L425.7,830.0 Z" fill="rgb(0,0,0)"/><path d="M461.7,868.2 L475.2,868.2 L475.2,884.0 L461.7,884.0 Z" fill="rgb(0,0,0)"/><path d="M326.7,843.5 L358.2,848.0 L358.2,870.5 L326.7,875.0 Z" fill="rgb(212,212,212)"/><path d="M331.2,857.0 L355.9,857.0 L355.9,872.8 L331.2,872.8 Z" fill="rgb(255,255,255)"/><path d="M326.7,884.0 L353.7,884.0 L353.7,915.5 L326.7,915.5 Z" fill="rgb(212,212,212)"/><path d="M403.2,926.8 L412.2,926.8 L412.2,944.8 L403.2,944.8 Z" fill="rgb(255,255,255)"/><path d="M394.2,974.0 L416.7,967.2 L434.7,974.0 L432.4,996.5 L400.9,996.5 Z" fill="rgb(255,255,255)"/><path d="M430.2,992.0 L443.7,992.0 L443.7,1010.0 L430.2,1010.0 Z" fill="rgb(255,255,255)"/><path d="M443.7,974.0 L484.2,974.0 L484.2,1012.2 L443.7,1012.2 Z" fill="rgb(212,212,212)"/><path d="M421.2,902.0 L484.2,902.0 L484.2,947.0 L421.2,947.0 Z" fill="rgb(170,170,170)"/><path d="M364.9,1010.0 L380.7,1010.0 L380.7,1023.5 L364.9,1023.5 Z" fill="rgb(212,212,212)"/><path d="M353.7,960.5 L394.2,960.5 L394.2,983.0 L353.7,983.0 Z" fill="rgb(64,64,64)"/><path d="M382.9,1010.0 L394.2,1010.0 L394.2,1028.0 L382.9,1028.0 Z" fill="rgb(0,0,0)"/><path d="M200.7,1034.8 L227.7,1034.8 L227.7,1061.8 L200.7,1061.8 Z" fill="rgb(0,0,0)"/><path d="M236.7,1028.0 L326.7,1028.0 L326.7,1122.5 L281.7,1122.5 L259.2,1113.5 L250.2,1084.2 L227.7,1064.0 Z" fill="rgb(170,170,170)"/><path d="M259.2,1077.5 L281.7,1077.5 L281.7,1095.5 L259.2,1095.5 Z" fill="rgb(212,212,212)"/><path d="M277.2,1104.5 L308.7,1104.5 L308.7,1120.2 L277.2,1120.2 Z" fill="rgb(212,212,212)"/><path d="M263.7,1082.0 L272.7,1082.0 L272.7,1091.0 L263.7,1091.0 Z" fill="rgb(255,255,255)"/><path d="M164.7,1077.5 L236.7,1086.5 L241.2,1140.5 L214.2,1172.0 L182.7,1167.5 L160.2,1140.5 Z" fill="rgb(64,64,64)"/><path d="M187.2,1151.8 L205.2,1151.8 L205.2,1167.5 L187.2,1167.5 Z" fill="rgb(0,0,0)"/><path d="M234.4,1201.2 L247.9,1201.2 L247.9,1210.2 L234.4,1210.2 Z" fill="rgb(255,255,255)"/><path d="M292.9,1154.0 L326.7,1154.0 L326.7,1190.0 L292.9,1190.0 Z" fill="rgb(212,212,212)"/><path d="M403.2,1028.0 L439.2,1028.0 L439.2,1055.0 L430.2,1086.5 L407.7,1084.2 L400.9,1055.0 Z" fill="rgb(0,0,0)"/><path d="M382.9,1073.0 L452.7,1068.5 L452.7,1095.5 L421.2,1113.5 L394.2,1113.5 Z" fill="rgb(64,64,64)"/><path d="M389.7,1100.0 L403.2,1100.0 L403.2,1113.5 L389.7,1113.5 Z" fill="rgb(0,0,0)"/><path d="M382.9,1102.2 L391.9,1102.2 L391.9,1120.2 L382.9,1120.2 Z" fill="rgb(255,255,255)"/><path d="M326.7,1028.0 L340.2,1028.0 L340.2,1050.5 L326.7,1050.5 Z" fill="rgb(212,212,212)"/><path d="M344.7,1086.5 L371.7,1086.5 L371.7,1113.5 L344.7,1113.5 Z" fill="rgb(212,212,212)"/><path d="M421.2,1122.5 L443.7,1122.5 L443.7,1140.5 L421.2,1140.5 Z" fill="rgb(64,64,64)"/><path d="M403.2,1145.0 L412.2,1145.0 L412.2,1158.5 L403.2,1158.5 Z" fill="rgb(0,0,0)"/><path d="M387.4,1163.0 L398.7,1163.0 L398.7,1172.0 L387.4,1172.0 Z" fill="rgb(0,0,0)"/><path d="M382.9,1167.5 L391.9,1167.5 L391.9,1181.0 L382.9,1181.0 Z" fill="rgb(255,255,255)"/><path d="M367.2,1185.5 L385.2,1185.5 L385.2,1203.5 L367.2,1203.5 Z" fill="rgb(212,212,212)"/><path d="M340.2,1174.2 L367.2,1174.2 L367.2,1190.0 L340.2,1190.0 Z" fill="rgb(64,64,64)"/><path d="M349.2,1208.0 L367.2,1208.0 L367.2,1221.5 L349.2,1221.5 Z" fill="rgb(64,64,64)"/></g><path d="M224.7,1060.0 L236.7,1072.0 L246.7,1082.0 L252.7,1092.0 L256.7,1104.0 L260.7,1116.0 L268.7,1125.0 L282.7,1127.0 L296.7,1125.0 L320.7,1130.0 L346.7,1144.0 L370.7,1164.0 L390.7,1184.0 L405.7,1206.0" fill="none" stroke="#2a7c1a" stroke-width="3.0" stroke-linecap="round" stroke-linejoin="round"/><path d="M87.7,1028.0 L90.7,1046.0 L94.7,1056.0 L106.7,1060.0 L120.7,1056.0 L130.7,1046.0 L133.7,1040.0" fill="none" stroke="#2a7c1a" stroke-width="2.0" stroke-linecap="round" stroke-linejoin="round"/><path d="M106.7,1092.0 L122.7,1102.0 L136.7,1112.0 L142.7,1122.0 L142.7,1134.0 L136.7,1144.0" fill="none" stroke="#2a7c1a" stroke-width="2.2" stroke-linecap="round" stroke-linejoin="round"/><path d="M184.7,1190.0 L206.7,1195.0 L226.7,1203.0 L240.7,1214.0 L248.7,1220.0" fill="none" stroke="#2a7c1a" stroke-width="2.4" stroke-linecap="round" stroke-linejoin="round"/><rect x="381.7" y="1233.0" width="13" height="11" fill="#1d7d1c"/></g>
<path d="M86.1,904.1 L101.6,904.7 L105.5,899.5 L108.1,889.9 L119.7,891.5 L126.1,882.1 L137.7,881.5 L150.6,889.2 L153.7,878.0 L154.7,866.0 L146.7,851.0 L140.4,833.5 L155.4,817.0 L169.2,812.0 L171.7,821.0 L181.7,838.5 L196.7,846.0 L219.2,844.8 L224.2,849.8 L239.2,848.5 L242.7,823.5 L261.7,817.0 L271.7,816.0 L296.7,821.0 L319.2,806.0 L321.7,796.0 L338.7,794.8 L352.4,792.0 L358.7,776.0 L376.2,768.5 L392.4,763.5 L398.7,771.0 L413.7,769.8 L414.7,762.0 L421.2,761.0 L429.7,773.5 L423.7,788.5 L436.2,792.0 L451.2,801.0 L471.2,806.0 L476.2,816.0 L481.2,833.5 L483.7,848.5 L483.7,867.0 L493.7,862.0 L498.7,870.0 L523.7,873.5 L533.7,867.0 L548.7,865.0 L566.2,870.0 L586.2,878.5 L573.7,886.0 L543.7,898.5 L528.7,908.5 L518.7,926.0 L516.2,938.5 L531.2,956.0 L523.7,963.5 L516.2,971.0 L501.2,996.0 L483.7,1011.0 L471.2,1033.5 L468.7,1046.0 L472.4,1063.5 L471.2,1081.0 L463.7,1091.0 L458.7,1106.0 L466.2,1116.0 L476.2,1126.0 L486.2,1148.5 L472.9,1151.8 L467.0,1162.7 L460.4,1173.5 L458.7,1168.5 L449.5,1168.5 L445.4,1166.8 L438.7,1167.7 L433.7,1173.5 L431.2,1182.7 L426.2,1184.3 L424.1,1199.3 L430.4,1201.0 L433.7,1203.5 L450.4,1203.1 L451.2,1207.7 L456.2,1209.3 L458.3,1217.7 L453.7,1217.7 L445.4,1215.2 L435.4,1217.7 L424.5,1219.3 L422.0,1211.0 L420.4,1204.3 L415.4,1201.0 L408.7,1202.7 L405.4,1207.7 L412.0,1216.0 L417.0,1224.3 L417.0,1230.2 L407.9,1236.0 L391.4,1243.3 L383.4,1242.7 L376.7,1247.3 L368.7,1254.0 L363.4,1260.7 L358.0,1265.3 L352.7,1259.3 L344.7,1251.3 L335.4,1242.0 L326.0,1231.3 L316.7,1223.3 L310.0,1219.3 L306.0,1211.3 L300.7,1206.0 L268.7,1204.0 L256.7,1216.7 L244.2,1224.8 L229.2,1221.0 L211.7,1208.5 L186.7,1191.0 L164.2,1178.5 L146.7,1161.0 L134.2,1143.5 L116.7,1118.5 L102.9,1103.4 L93.9,1094.4 L84.8,1086.6 L74.5,1084.1 L61.6,1073.7 L59.7,1067.3 L66.8,1053.1 L74.5,1041.5 L86.1,1024.7 L91.3,1026.0 L92.6,1014.4 L97.7,995.0 L100.3,982.1 L99.0,956.3 L97.7,938.3 L95.2,933.1 L87.4,931.8 L84.8,911.2 Z" fill="none" stroke="#3d4a2a" stroke-width="1.3" stroke-linejoin="round"/>
</g>
<text x="102.0" y="726.1" font-size="34.9" text-anchor="start" fill="#111" textLength="43.0" lengthAdjust="spacingAndGlyphs" >(c)</text>
<text x="173.3" y="717.1" font-size="22" text-anchor="start" fill="#111" textLength="303.1" lengthAdjust="spacingAndGlyphs" >2023 Land Surface Temperature</text>
<g stroke="#000" fill="none" stroke-width="2.2" stroke-linejoin="miter"><line x1="80.25" y1="702.9" x2="80.25" y2="778.3"/><path d="M80.25,702.9 L93.05,735.699 L80.85,729.6669999999999"/><g stroke-width="2.5" stroke-linecap="butt"><line x1="75.25" y1="753.5688" x2="75.25" y2="772.645"/><line x1="74.85" y1="753.5688" x2="88.15" y2="772.645"/><line x1="87.85" y1="753.5688" x2="87.85" y2="772.645"/></g></g>
<text x="466.6" y="1248.3" font-size="17" text-anchor="start" fill="#111" textLength="98.0" lengthAdjust="spacingAndGlyphs" >Temperature</text>
<text x="466.6" y="1287.0" font-size="17" text-anchor="start" fill="#111" textLength="34.0" lengthAdjust="spacingAndGlyphs" >High</text>
<text x="466.6" y="1329.0" font-size="17" text-anchor="start" fill="#111" textLength="30.0" lengthAdjust="spacingAndGlyphs" >Low</text>
<text x="342.0" y="1329.0" font-size="17" text-anchor="start" fill="#111" textLength="46.6" lengthAdjust="spacingAndGlyphs" >DMDP</text>
<rect x="400.3" y="1312.7" width="42.0" height="20.59999999999991" fill="#eeeeee" stroke="#555" stroke-width="1.4"/>
<rect x="541.2" y="1269.3" width="41.59999999999991" height="64.0" fill="url(#cb)"/>
<rect x="76" y="1300.6" width="152.6" height="11.700000000000045" fill="#f3f3f3" stroke="#000" stroke-width="1.2"/>
<rect x="76" y="1300.6" width="26.599999999999994" height="11.700000000000045" fill="#000"/>
<rect x="126" y="1300.6" width="52.69999999999999" height="11.700000000000045" fill="#000"/>
<text x="76.0" y="1293.0" font-size="17" text-anchor="middle" fill="#111" >0</text>
<text x="126.0" y="1293.0" font-size="17" text-anchor="middle" fill="#111" >4</text>
<text x="178.7" y="1293.0" font-size="17" text-anchor="middle" fill="#111" >8</text>
<text x="228.6" y="1293.0" font-size="17" text-anchor="middle" fill="#111" >12</text>
<text x="111.0" y="1329.0" font-size="17" text-anchor="start" fill="#111" textLength="83.0" lengthAdjust="spacingAndGlyphs" >Kilometers</text>
<g clip-path="url(#pcd)">
<rect x="600" y="680.3" width="552" height="665.2" fill="#ededed"/>
<path d="M599.5,741.5 L621.5,761.5 L621.5,806.5 L611.5,841.5 L631.5,906.5" fill="none" stroke="#d2d2d2" stroke-width="1" stroke-linecap="round" stroke-linejoin="round"/><path d="M599.5,1066.5 L621.5,1056.5 L611.5,1086.5" fill="none" stroke="#d2d2d2" stroke-width="1" stroke-linecap="round" stroke-linejoin="round"/><path d="M651.5,1266.5 L701.5,1276.5 L751.5,1266.5 L786.5,1286.5 L811.5,1266.5" fill="none" stroke="#d2d2d2" stroke-width="1" stroke-linecap="round" stroke-linejoin="round"/><path d="M611.5,1166.5 L651.5,1186.5 L661.5,1226.5 L641.5,1266.5" fill="none" stroke="#d2d2d2" stroke-width="1" stroke-linecap="round" stroke-linejoin="round"/><path d="M821.5,1266.5 L851.5,1286.5 L881.5,1276.5 L911.5,1306.5 L931.5,1296.5" fill="none" stroke="#d2d2d2" stroke-width="1" stroke-linecap="round" stroke-linejoin="round"/><path d="M731.5,680.5 L751.5,706.5 L781.5,716.5 L811.5,696.5" fill="none" stroke="#d2d2d2" stroke-width="1" stroke-linecap="round" stroke-linejoin="round"/><path d="M599.5,843.5 L629.5,838.5 L666.5,833.5 L691.5,831.5" fill="none" stroke="#fbfbfb" stroke-width="2" stroke-linecap="round" stroke-linejoin="round"/><path d="M679.5,829.5 L726.5,826.5 L766.5,836.5 L796.5,844.5" fill="none" stroke="#fbfbfb" stroke-width="2" stroke-linecap="round" stroke-linejoin="round"/><path d="M841.5,680.5 L839.5,726.5 L843.5,766.5 L844.5,806.5" fill="none" stroke="#fbfbfb" stroke-width="2" stroke-linecap="round" stroke-linejoin="round"/><path d="M856.5,735.5 L893.5,772.5 L921.5,781.5 L951.5,784.5" fill="none" stroke="#fbfbfb" stroke-width="1.8" stroke-linecap="round" stroke-linejoin="round"/><path d="M1071.5,1146.5 L1101.5,1176.5 L1126.5,1203.5 L1151.5,1221.5" fill="none" stroke="#fbfbfb" stroke-width="1.8" stroke-linecap="round" stroke-linejoin="round"/><path d="M1126.5,1146.5 L1101.5,1221.5 L1076.5,1271.5 L1071.5,1296.5" fill="none" stroke="#fbfbfb" stroke-width="1.6" stroke-linecap="round" stroke-linejoin="round"/><path d="M976.5,1228.5 L1013.5,1241.5 L1051.5,1251.5 L1076.5,1258.5" fill="none" stroke="#fbfbfb" stroke-width="1.8" stroke-linecap="round" stroke-linejoin="round"/><path d="M723.5,680.5 L714.5,735.5 L701.5,786.5" fill="none" stroke="#fbfbfb" stroke-width="1.6" stroke-linecap="round" stroke-linejoin="round"/><path d="M991.5,680.5 L996.5,726.5 L1021.5,766.5 L1071.5,801.5" fill="none" stroke="#fbfbfb" stroke-width="1.6" stroke-linecap="round" stroke-linejoin="round"/><path d="M1031.5,816.5 L1091.5,826.5 L1151.5,818.5" fill="none" stroke="#fbfbfb" stroke-width="1.6" stroke-linecap="round" stroke-linejoin="round"/><path d="M791.5,1222.5 L778.5,1242.5 L764.5,1260.5 L751.5,1278.5 L739.5,1298.5 L728.5,1321.5 L726.5,1348.5" fill="none" stroke="#fbfbfb" stroke-width="2" stroke-linecap="round" stroke-linejoin="round"/><path d="M1151.5,823.5 L1121.5,826.5 L1101.5,831.5 L1095.5,841.5 L1100.5,856.5 L1121.5,863.5 L1138.5,868.5 L1143.5,878.5" fill="none" stroke="#d3d5d5" stroke-width="4.5" stroke-linecap="round" stroke-linejoin="round"/><path d="M631.5,838.5 L629.5,861.5 L633.5,896.5 L637.5,904.5" fill="none" stroke="#d3d5d5" stroke-width="3" stroke-linecap="round" stroke-linejoin="round"/><path d="M684.5,1148.5 L698.5,1163.5 L711.5,1178.5 L736.5,1193.5 L766.5,1211.5 L799.5,1224.5 L849.5,1234.5 L881.5,1246.5 L899.5,1256.5 L913.5,1263.5" fill="none" stroke="#d3d5d5" stroke-width="5" stroke-linecap="round" stroke-linejoin="round"/><path d="M938.5,1243.5 L941.5,1248.5 L946.5,1261.5 L956.5,1278.5 L971.5,1291.5 L991.5,1301.5 L1006.5,1308.5 L1021.5,1316.5 L1038.5,1321.5 L1063.5,1322.5 L1088.5,1317.5 L1121.5,1307.5 L1151.5,1292.5" fill="none" stroke="#d3d5d5" stroke-width="13" stroke-linecap="round" stroke-linejoin="round"/><path d="M968.5,1256.5 L986.5,1273.5 L1001.5,1286.5 L1021.5,1306.5" fill="none" stroke="#d3d5d5" stroke-width="5" stroke-linecap="round" stroke-linejoin="round"/><path d="M1046.5,1146.5 L1051.5,1171.5 L1041.5,1196.5 L1026.5,1221.5 L1021.5,1251.5 L1018.5,1286.5 L1026.5,1316.5 L1031.5,1348.5" fill="none" stroke="#d3d5d5" stroke-width="5" stroke-linecap="round" stroke-linejoin="round"/><path d="M1126.5,1278.5 L1151.5,1258.5" fill="none" stroke="#d3d5d5" stroke-width="8" stroke-linecap="round" stroke-linejoin="round"/><path d="M599.5,1108.5 L624.5,1133.5 L641.5,1121.5 L646.5,1098.5" fill="none" stroke="#d3d5d5" stroke-width="2.5" stroke-linecap="round" stroke-linejoin="round"/><path d="M1049.5,1301.5 L1076.5,1309.5 L1096.5,1312.5" fill="none" stroke="#d3d5d5" stroke-width="4" stroke-linecap="round" stroke-linejoin="round"/>
<defs><clipPath id="mcd"><path d="M638.9,904.6 L654.4,905.2 L658.3,900.0 L660.9,890.4 L672.5,892.0 L678.9,882.6 L690.5,882.0 L703.4,889.7 L706.5,878.5 L707.5,866.5 L699.5,851.5 L693.2,834.0 L708.2,817.5 L722.0,812.5 L724.5,821.5 L734.5,839.0 L749.5,846.5 L772.0,845.2 L777.0,850.2 L792.0,849.0 L795.5,824.0 L814.5,817.5 L824.5,816.5 L849.5,821.5 L872.0,806.5 L874.5,796.5 L891.5,795.2 L905.2,792.5 L911.5,776.5 L929.0,769.0 L945.2,764.0 L951.5,771.5 L966.5,770.2 L967.5,762.5 L974.0,761.5 L982.5,774.0 L976.5,789.0 L989.0,792.5 L1004.0,801.5 L1024.0,806.5 L1029.0,816.5 L1034.0,834.0 L1036.5,849.0 L1036.5,867.5 L1046.5,862.5 L1051.5,870.5 L1076.5,874.0 L1086.5,867.5 L1101.5,865.5 L1119.0,870.5 L1139.0,879.0 L1126.5,886.5 L1096.5,899.0 L1081.5,909.0 L1071.5,926.5 L1069.0,939.0 L1084.0,956.5 L1076.5,964.0 L1069.0,971.5 L1054.0,996.5 L1036.5,1011.5 L1024.0,1034.0 L1021.5,1046.5 L1025.2,1064.0 L1024.0,1081.5 L1016.5,1091.5 L1011.5,1106.5 L1019.0,1116.5 L1029.0,1126.5 L1039.0,1149.0 L1025.7,1152.3 L1019.8,1163.2 L1013.2,1174.0 L1011.5,1169.0 L1002.3,1169.0 L998.2,1167.3 L991.5,1168.2 L986.5,1174.0 L984.0,1183.2 L979.0,1184.8 L976.9,1199.8 L983.2,1201.5 L986.5,1204.0 L1003.2,1203.6 L1004.0,1208.2 L1009.0,1209.8 L1011.1,1218.2 L1006.5,1218.2 L998.2,1215.7 L988.2,1218.2 L977.3,1219.8 L974.8,1211.5 L973.2,1204.8 L968.2,1201.5 L961.5,1203.2 L958.2,1208.2 L964.8,1216.5 L969.8,1224.8 L969.8,1230.7 L960.7,1236.5 L944.2,1243.8 L936.2,1243.2 L929.5,1247.8 L921.5,1254.5 L916.2,1261.2 L910.8,1265.8 L905.5,1259.8 L897.5,1251.8 L888.2,1242.5 L878.8,1231.8 L869.5,1223.8 L862.8,1219.8 L858.8,1211.8 L853.5,1206.5 L821.5,1204.5 L809.5,1217.2 L797.0,1225.2 L782.0,1221.5 L764.5,1209.0 L739.5,1191.5 L717.0,1179.0 L699.5,1161.5 L687.0,1144.0 L669.5,1119.0 L655.7,1103.9 L646.7,1094.9 L637.6,1087.1 L627.3,1084.6 L614.4,1074.2 L612.5,1067.8 L619.6,1053.6 L627.3,1042.0 L638.9,1025.2 L644.1,1026.5 L645.4,1014.9 L650.5,995.5 L653.1,982.6 L651.8,956.8 L650.5,938.8 L648.0,933.6 L640.2,932.3 L637.6,911.7 Z"/></clipPath><filter color-interpolation-filters="sRGB" id="mbd" x="-5%" y="-5%" width="110%" height="110%"><feTurbulence type="fractalNoise" baseFrequency="0.045" numOctaves="2" seed="4" result="t"/><feDisplacementMap in="SourceGraphic" in2="t" scale="24" xChannelSelector="R" yChannelSelector="G" result="d"/><feGaussianBlur in="d" stdDeviation="4.5" result="b"/><feTurbulence type="fractalNoise" baseFrequency="0.13" numOctaves="3" seed="54" result="n0"/><feColorMatrix in="n0" type="matrix" values="1 0 0 0 0  1 0 0 0 0  1 0 0 0 0  0 0 0 0 1" result="n"/><feComposite in="b" in2="n" operator="arithmetic" k1="0" k2="1" k3="0.55" k4="-0.275" result="v"/><feComponentTransfer in="v"><feFuncR type="table" tableValues="0.094 0.196 0.314 0.549 0.769 0.855 0.902 0.929 0.961 0.957 0.953 0.937 0.918"/><feFuncG type="table" tableValues="0.463 0.557 0.667 0.784 0.886 0.933 0.953 0.945 0.800 0.690 0.565 0.431 0.298"/><feFuncB type="table" tableValues="0.094 0.110 0.122 0.141 0.157 0.157 0.157 0.157 0.157 0.149 0.133 0.118 0.102"/><feFuncA type="identity"/></feComponentTransfer></filter><filter color-interpolation-filters="sRGB" id="mbds" x="-5%" y="-5%" width="110%" height="110%"><feTurbulence type="fractalNoise" baseFrequency="0.08" numOctaves="2" seed="14" result="t"/><feDisplacementMap in="SourceGraphic" in2="t" scale="16" xChannelSelector="R" yChannelSelector="G" result="d"/><feGaussianBlur in="d" stdDeviation="2.2" result="b"/><feTurbulence type="fractalNoise" baseFrequency="0.13" numOctaves="3" seed="64" result="n0"/><feColorMatrix in="n0" type="matrix" values="1 0 0 0 0  1 0 0 0 0  1 0 0 0 0  0 0 0 0 1" result="n"/><feComposite in="b" in2="n" operator="arithmetic" k1="0" k2="1" k3="0.55" k4="-0.275" result="v"/><feComponentTransfer in="v"><feFuncR type="table" tableValues="0.094 0.196 0.314 0.549 0.769 0.855 0.902 0.929 0.961 0.957 0.953 0.937 0.918"/><feFuncG type="table" tableValues="0.463 0.557 0.667 0.784 0.886 0.933 0.953 0.945 0.800 0.690 0.565 0.431 0.298"/><feFuncB type="table" tableValues="0.094 0.110 0.122 0.141 0.157 0.157 0.157 0.157 0.157 0.149 0.133 0.118 0.102"/><feFuncA type="identity"/></feComponentTransfer></filter></defs><g clip-path="url(#mcd)"><g filter="url(#mbd)"><rect x="519.5" y="668.5" width="30.5" height="30.5" fill="rgb(212,212,212)"/><rect x="549.5" y="668.5" width="30.5" height="30.5" fill="rgb(212,212,212)"/><rect x="579.5" y="668.5" width="30.5" height="30.5" fill="rgb(212,212,212)"/><rect x="609.5" y="668.5" width="30.5" height="30.5" fill="rgb(212,212,212)"/><rect x="639.5" y="668.5" width="30.5" height="30.5" fill="rgb(212,212,212)"/><rect x="669.5" y="668.5" width="30.5" height="30.5" fill="rgb(212,212,212)"/><rect x="699.5" y="668.5" width="30.5" height="30.5" fill="rgb(212,212,212)"/><rect x="729.5" y="668.5" width="30.5" height="30.5" fill="rgb(212,212,212)"/><rect x="759.5" y="668.5" width="30.5" height="30.5" fill="rgb(212,212,212)"/><rect x="789.5" y="668.5" width="30.5" height="30.5" fill="rgb(170,170,170)"/><rect x="819.5" y="668.5" width="30.5" height="30.5" fill="rgb(85,85,85)"/><rect x="849.5" y="668.5" width="30.5" height="30.5" fill="rgb(85,85,85)"/><rect x="879.5" y="668.5" width="30.5" height="30.5" fill="rgb(42,42,42)"/><rect x="909.5" y="668.5" width="30.5" height="30.5" fill="rgb(42,42,42)"/><rect x="939.5" y="668.5" width="30.5" height="30.5" fill="rgb(85,85,85)"/><rect x="969.5" y="668.5" width="30.5" height="30.5" fill="rgb(85,85,85)"/><rect x="999.5" y="668.5" width="30.5" height="30.5" fill="rgb(85,85,85)"/><rect x="1029.5" y="668.5" width="30.5" height="30.5" fill="rgb(85,85,85)"/><rect x="1059.5" y="668.5" width="30.5" height="30.5" fill="rgb(85,85,85)"/><rect x="1089.5" y="668.5" width="30.5" height="30.5" fill="rgb(85,85,85)"/><rect x="1119.5" y="668.5" width="30.5" height="30.5" fill="rgb(85,85,85)"/><rect x="1149.5" y="668.5" width="30.5" height="30.5" fill="rgb(85,85,85)"/><rect x="1179.5" y="668.5" width="30.5" height="30.5" fill="rgb(85,85,85)"/><rect x="1209.5" y="668.5" width="30.5" height="30.5" fill="rgb(85,85,85)"/><rect x="519.5" y="698.5" width="30.5" height="30.5" fill="rgb(212,212,212)"/><rect x="549.5" y="698.5" width="30.5" height="30.5" fill="rgb(212,212,212)"/><rect x="579.5" y="698.5" width="30.5" height="30.5" fill="rgb(212,212,212)"/><rect x="609.5" y="698.5" width="30.5" height="30.5" fill="rgb(212,212,212)"/><rect x="639.5" y="698.5" width="30.5" height="30.5" fill="rgb(212,212,212)"/><rect x="669.5" y="698.5" width="30.5" height="30.5" fill="rgb(212,212,212)"/><rect x="699.5" y="698.5" width="30.5" height="30.5" fill="rgb(212,212,212)"/><rect x="729.5" y="698.5" width="30.5" height="30.5" fill="rgb(212,212,212)"/><rect x="759.5" y="698.5" width="30.5" height="30.5" fill="rgb(212,212,212)"/><rect x="789.5" y="698.5" width="30.5" height="30.5" fill="rgb(170,170,170)"/><rect x="819.5" y="698.5" width="30.5" height="30.5" fill="rgb(85,85,85)"/><rect x="849.5" y="698.5" width="30.5" height="30.5" fill="rgb(85,85,85)"/><rect x="879.5" y="698.5" width="30.5" height="30.5" fill="rgb(42,42,42)"/><rect x="909.5" y="698.5" width="30.5" height="30.5" fill="rgb(42,42,42)"/><rect x="939.5" y="698.5" width="30.5" height="30.5" fill="rgb(85,85,85)"/><rect x="969.5" y="698.5" width="30.5" height="30.5" fill="rgb(85,85,85)"/><rect x="999.5" y="698.5" width="30.5" height="30.5" fill="rgb(85,85,85)"/><rect x="1029.5" y="698.5" width="30.5" height="30.5" fill="rgb(85,85,85)"/><rect x="1059.5" y="698.5" width="30.5" height="30.5" fill="rgb(85,85,85)"/><rect x="1089.5" y="698.5" width="30.5" height="30.5" fill="rgb(85,85,85)"/><rect x="1119.5" y="698.5" width="30.5" height="30.5" fill="rgb(85,85,85)"/><rect x="1149.5" y="698.5" width="30.5" height="30.5" fill="rgb(85,85,85)"/><rect x="1179.5" y="698.5" width="30.5" height="30.5" fill="rgb(85,85,85)"/><rect x="1209.5" y="698.5" width="30.5" height="30.5" fill="rgb(85,85,85)"/><rect x="519.5" y="728.5" width="30.5" height="30.5" fill="rgb(212,212,212)"/><rect x="549.5" y="728.5" width="30.5" height="30.5" fill="rgb(212,212,212)"/><rect x="579.5" y="728.5" width="30.5" height="30.5" fill="rgb(212,212,212)"/><rect x="609.5" y="728.5" width="30.5" height="30.5" fill="rgb(212,212,212)"/><rect x="639.5" y="728.5" width="30.5" height="30.5" fill="rgb(212,212,212)"/><rect x="669.5" y="728.5" width="30.5" height="30.5" fill="rgb(212,212,212)"/><rect x="699.5" y="728.5" width="30.5" height="30.5" fill="rgb(212,212,212)"/><rect x="729.5" y="728.5" width="30.5" height="30.5" fill="rgb(212,212,212)"/><rect x="759.5" y="728.5" width="30.5" height="30.5" fill="rgb(212,212,212)"/><rect x="789.5" y="728.5" width="30.5" height="30.5" fill="rgb(170,170,170)"/><rect x="819.5" y="728.5" width="30.5" height="30.5" fill="rgb(85,85,85)"/><rect x="849.5" y="728.5" width="30.5" height="30.5" fill="rgb(85,85,85)"/><rect x="879.5" y="728.5" width="30.5" height="30.5" fill="rgb(42,42,42)"/><rect x="909.5" y="728.5" width="30.5" height="30.5" fill="rgb(42,42,42)"/><rect x="939.5" y="728.5" width="30.5" height="30.5" fill="rgb(85,85,85)"/><rect x="969.5" y="728.5" width="30.5" height="30.5" fill="rgb(85,85,85)"/><rect x="999.5" y="728.5" width="30.5" height="30.5" fill="rgb(85,85,85)"/><rect x="1029.5" y="728.5" width="30.5" height="30.5" fill="rgb(85,85,85)"/><rect x="1059.5" y="728.5" width="30.5" height="30.5" fill="rgb(85,85,85)"/><rect x="1089.5" y="728.5" width="30.5" height="30.5" fill="rgb(85,85,85)"/><rect x="1119.5" y="728.5" width="30.5" height="30.5" fill="rgb(85,85,85)"/><rect x="1149.5" y="728.5" width="30.5" height="30.5" fill="rgb(85,85,85)"/><rect x="1179.5" y="728.5" width="30.5" height="30.5" fill="rgb(85,85,85)"/><rect x="1209.5" y="728.5" width="30.5" height="30.5" fill="rgb(85,85,85)"/><rect x="519.5" y="758.5" width="30.5" height="30.5" fill="rgb(212,212,212)"/><rect x="549.5" y="758.5" width="30.5" height="30.5" fill="rgb(212,212,212)"/><rect x="579.5" y="758.5" width="30.5" height="30.5" fill="rgb(212,212,212)"/><rect x="609.5" y="758.5" width="30.5" height="30.5" fill="rgb(212,212,212)"/><rect x="639.5" y="758.5" width="30.5" height="30.5" fill="rgb(212,212,212)"/><rect x="669.5" y="758.5" width="30.5" height="30.5" fill="rgb(212,212,212)"/><rect x="699.5" y="758.5" width="30.5" height="30.5" fill="rgb(212,212,212)"/><rect x="729.5" y="758.5" width="30.5" height="30.5" fill="rgb(212,212,212)"/><rect x="759.5" y="758.5" width="30.5" height="30.5" fill="rgb(212,212,212)"/><rect x="789.5" y="758.5" width="30.5" height="30.5" fill="rgb(170,170,170)"/><rect x="819.5" y="758.5" width="30.5" height="30.5" fill="rgb(85,85,85)"/><rect x="849.5" y="758.5" width="30.5" height="30.5" fill="rgb(85,85,85)"/><rect x="879.5" y="758.5" width="30.5" height="30.5" fill="rgb(42,42,42)"/><rect x="909.5" y="758.5" width="30.5" height="30.5" fill="rgb(42,42,42)"/><rect x="939.5" y="758.5" width="30.5" height="30.5" fill="rgb(85,85,85)"/><rect x="969.5" y="758.5" width="30.5" height="30.5" fill="rgb(85,85,85)"/><rect x="999.5" y="758.5" width="30.5" height="30.5" fill="rgb(85,85,85)"/><rect x="1029.5" y="758.5" width="30.5" height="30.5" fill="rgb(85,85,85)"/><rect x="1059.5" y="758.5" width="30.5" height="30.5" fill="rgb(85,85,85)"/><rect x="1089.5" y="758.5" width="30.5" height="30.5" fill="rgb(85,85,85)"/><rect x="1119.5" y="758.5" width="30.5" height="30.5" fill="rgb(85,85,85)"/><rect x="1149.5" y="758.5" width="30.5" height="30.5" fill="rgb(85,85,85)"/><rect x="1179.5" y="758.5" width="30.5" height="30.5" fill="rgb(85,85,85)"/><rect x="1209.5" y="758.5" width="30.5" height="30.5" fill="rgb(85,85,85)"/><rect x="519.5" y="788.5" width="30.5" height="30.5" fill="rgb(212,212,212)"/><rect x="549.5" y="788.5" width="30.5" height="30.5" fill="rgb(212,212,212)"/><rect x="579.5" y="788.5" width="30.5" height="30.5" fill="rgb(212,212,212)"/><rect x="609.5" y="788.5" width="30.5" height="30.5" fill="rgb(212,212,212)"/><rect x="639.5" y="788.5" width="30.5" height="30.5" fill="rgb(212,212,212)"/><rect x="669.5" y="788.5" width="30.5" height="30.5" fill="rgb(212,212,212)"/><rect x="699.5" y="788.5" width="30.5" height="30.5" fill="rgb(212,212,212)"/><rect x="729.5" y="788.5" width="30.5" height="30.5" fill="rgb(212,212,212)"/><rect x="759.5" y="788.5" width="30.5" height="30.5" fill="rgb(212,212,212)"/><rect x="789.5" y="788.5" width="30.5" height="30.5" fill="rgb(170,170,170)"/><rect x="819.5" y="788.5" width="30.5" height="30.5" fill="rgb(85,85,85)"/><rect x="849.5" y="788.5" width="30.5" height="30.5" fill="rgb(85,85,85)"/><rect x="879.5" y="788.5" width="30.5" height="30.5" fill="rgb(128,128,128)"/><rect x="909.5" y="788.5" width="30.5" height="30.5" fill="rgb(85,85,85)"/><rect x="939.5" y="788.5" width="30.5" height="30.5" fill="rgb(128,128,128)"/><rect x="969.5" y="788.5" width="30.5" height="30.5" fill="rgb(85,85,85)"/><rect x="999.5" y="788.5" width="30.5" height="30.5" fill="rgb(85,85,85)"/><rect x="1029.5" y="788.5" width="30.5" height="30.5" fill="rgb(85,85,85)"/><rect x="1059.5" y="788.5" width="30.5" height="30.5" fill="rgb(85,85,85)"/><rect x="1089.5" y="788.5" width="30.5" height="30.5" fill="rgb(85,85,85)"/><rect x="1119.5" y="788.5" width="30.5" height="30.5" fill="rgb(85,85,85)"/><rect x="1149.5" y="788.5" width="30.5" height="30.5" fill="rgb(85,85,85)"/><rect x="1179.5" y="788.5" width="30.5" height="30.5" fill="rgb(85,85,85)"/><rect x="1209.5" y="788.5" width="30.5" height="30.5" fill="rgb(85,85,85)"/><rect x="519.5" y="818.5" width="30.5" height="30.5" fill="rgb(212,212,212)"/><rect x="549.5" y="818.5" width="30.5" height="30.5" fill="rgb(212,212,212)"/><rect x="579.5" y="818.5" width="30.5" height="30.5" fill="rgb(212,212,212)"/><rect x="609.5" y="818.5" width="30.5" height="30.5" fill="rgb(212,212,212)"/><rect x="639.5" y="818.5" width="30.5" height="30.5" fill="rgb(212,212,212)"/><rect x="669.5" y="818.5" width="30.5" height="30.5" fill="rgb(212,212,212)"/><rect x="699.5" y="818.5" width="30.5" height="30.5" fill="rgb(212,212,212)"/><rect x="729.5" y="818.5" width="30.5" height="30.5" fill="rgb(212,212,212)"/><rect x="759.5" y="818.5" width="30.5" height="30.5" fill="rgb(212,212,212)"/><rect x="789.5" y="818.5" width="30.5" height="30.5" fill="rgb(170,170,170)"/><rect x="819.5" y="818.5" width="30.5" height="30.5" fill="rgb(170,170,170)"/><rect x="849.5" y="818.5" width="30.5" height="30.5" fill="rgb(170,170,170)"/><rect x="879.5" y="818.5" width="30.5" height="30.5" fill="rgb(212,212,212)"/><rect x="909.5" y="818.5" width="30.5" height="30.5" fill="rgb(85,85,85)"/><rect x="939.5" y="818.5" width="30.5" height="30.5" fill="rgb(85,85,85)"/><rect x="969.5" y="818.5" width="30.5" height="30.5" fill="rgb(85,85,85)"/><rect x="999.5" y="818.5" width="30.5" height="30.5" fill="rgb(85,85,85)"/><rect x="1029.5" y="818.5" width="30.5" height="30.5" fill="rgb(85,85,85)"/><rect x="1059.5" y="818.5" width="30.5" height="30.5" fill="rgb(85,85,85)"/><rect x="1089.5" y="818.5" width="30.5" height="30.5" fill="rgb(85,85,85)"/><rect x="1119.5" y="818.5" width="30.5" height="30.5" fill="rgb(85,85,85)"/><rect x="1149.5" y="818.5" width="30.5" height="30.5" fill="rgb(85,85,85)"/><rect x="1179.5" y="818.5" width="30.5" height="30.5" fill="rgb(85,85,85)"/><rect x="1209.5" y="818.5" width="30.5" height="30.5" fill="rgb(85,85,85)"/><rect x="519.5" y="848.5" width="30.5" height="30.5" fill="rgb(85,85,85)"/><rect x="549.5" y="848.5" width="30.5" height="30.5" fill="rgb(85,85,85)"/><rect x="579.5" y="848.5" width="30.5" height="30.5" fill="rgb(85,85,85)"/><rect x="609.5" y="848.5" width="30.5" height="30.5" fill="rgb(85,85,85)"/><rect x="639.5" y="848.5" width="30.5" height="30.5" fill="rgb(85,85,85)"/><rect x="669.5" y="848.5" width="30.5" height="30.5" fill="rgb(170,170,170)"/><rect x="699.5" y="848.5" width="30.5" height="30.5" fill="rgb(170,170,170)"/><rect x="729.5" y="848.5" width="30.5" height="30.5" fill="rgb(170,170,170)"/><rect x="759.5" y="848.5" width="30.5" height="30.5" fill="rgb(212,212,212)"/><rect x="789.5" y="848.5" width="30.5" height="30.5" fill="rgb(42,42,42)"/><rect x="819.5" y="848.5" width="30.5" height="30.5" fill="rgb(212,212,212)"/><rect x="849.5" y="848.5" width="30.5" height="30.5" fill="rgb(255,255,255)"/><rect x="879.5" y="848.5" width="30.5" height="30.5" fill="rgb(255,255,255)"/><rect x="909.5" y="848.5" width="30.5" height="30.5" fill="rgb(170,170,170)"/><rect x="939.5" y="848.5" width="30.5" height="30.5" fill="rgb(85,85,85)"/><rect x="969.5" y="848.5" width="30.5" height="30.5" fill="rgb(128,128,128)"/><rect x="999.5" y="848.5" width="30.5" height="30.5" fill="rgb(85,85,85)"/><rect x="1029.5" y="848.5" width="30.5" height="30.5" fill="rgb(85,85,85)"/><rect x="1059.5" y="848.5" width="30.5" height="30.5" fill="rgb(85,85,85)"/><rect x="1089.5" y="848.5" width="30.5" height="30.5" fill="rgb(85,85,85)"/><rect x="1119.5" y="848.5" width="30.5" height="30.5" fill="rgb(85,85,85)"/><rect x="1149.5" y="848.5" width="30.5" height="30.5" fill="rgb(85,85,85)"/><rect x="1179.5" y="848.5" width="30.5" height="30.5" fill="rgb(85,85,85)"/><rect x="1209.5" y="848.5" width="30.5" height="30.5" fill="rgb(85,85,85)"/><rect x="519.5" y="878.5" width="30.5" height="30.5" fill="rgb(85,85,85)"/><rect x="549.5" y="878.5" width="30.5" height="30.5" fill="rgb(85,85,85)"/><rect x="579.5" y="878.5" width="30.5" height="30.5" fill="rgb(85,85,85)"/><rect x="609.5" y="878.5" width="30.5" height="30.5" fill="rgb(85,85,85)"/><rect x="639.5" y="878.5" width="30.5" height="30.5" fill="rgb(85,85,85)"/><rect x="669.5" y="878.5" width="30.5" height="30.5" fill="rgb(85,85,85)"/><rect x="699.5" y="878.5" width="30.5" height="30.5" fill="rgb(170,170,170)"/><rect x="729.5" y="878.5" width="30.5" height="30.5" fill="rgb(170,170,170)"/><rect x="759.5" y="878.5" width="30.5" height="30.5" fill="rgb(170,170,170)"/><rect x="789.5" y="878.5" width="30.5" height="30.5" fill="rgb(170,170,170)"/><rect x="819.5" y="878.5" width="30.5" height="30.5" fill="rgb(212,212,212)"/><rect x="849.5" y="878.5" width="30.5" height="30.5" fill="rgb(170,170,170)"/><rect x="879.5" y="878.5" width="30.5" height="30.5" fill="rgb(170,170,170)"/><rect x="909.5" y="878.5" width="30.5" height="30.5" fill="rgb(128,128,128)"/><rect x="939.5" y="878.5" width="30.5" height="30.5" fill="rgb(85,85,85)"/><rect x="969.5" y="878.5" width="30.5" height="30.5" fill="rgb(85,85,85)"/><rect x="999.5" y="878.5" width="30.5" height="30.5" fill="rgb(85,85,85)"/><rect x="1029.5" y="878.5" width="30.5" height="30.5" fill="rgb(85,85,85)"/><rect x="1059.5" y="878.5" width="30.5" height="30.5" fill="rgb(85,85,85)"/><rect x="1089.5" y="878.5" width="30.5" height="30.5" fill="rgb(85,85,85)"/><rect x="1119.5" y="878.5" width="30.5" height="30.5" fill="rgb(85,85,85)"/><rect x="1149.5" y="878.5" width="30.5" height="30.5" fill="rgb(85,85,85)"/><rect x="1179.5" y="878.5" width="30.5" height="30.5" fill="rgb(85,85,85)"/><rect x="1209.5" y="878.5" width="30.5" height="30.5" fill="rgb(85,85,85)"/><rect x="519.5" y="908.5" width="30.5" height="30.5" fill="rgb(170,170,170)"/><rect x="549.5" y="908.5" width="30.5" height="30.5" fill="rgb(170,170,170)"/><rect x="579.5" y="908.5" width="30.5" height="30.5" fill="rgb(170,170,170)"/><rect x="609.5" y="908.5" width="30.5" height="30.5" fill="rgb(170,170,170)"/><rect x="639.5" y="908.5" width="30.5" height="30.5" fill="rgb(212,212,212)"/><rect x="669.5" y="908.5" width="30.5" height="30.5" fill="rgb(170,170,170)"/><rect x="699.5" y="908.5" width="30.5" height="30.5" fill="rgb(128,128,128)"/><rect x="729.5" y="908.5" width="30.5" height="30.5" fill="rgb(85,85,85)"/><rect x="759.5" y="908.5" width="30.5" height="30.5" fill="rgb(85,85,85)"/><rect x="789.5" y="908.5" width="30.5" height="30.5" fill="rgb(0,0,0)"/><rect x="819.5" y="908.5" width="30.5" height="30.5" fill="rgb(170,170,170)"/><rect x="849.5" y="908.5" width="30.5" height="30.5" fill="rgb(255,255,255)"/><rect x="879.5" y="908.5" width="30.5" height="30.5" fill="rgb(212,212,212)"/><rect x="909.5" y="908.5" width="30.5" height="30.5" fill="rgb(85,85,85)"/><rect x="939.5" y="908.5" width="30.5" height="30.5" fill="rgb(128,128,128)"/><rect x="969.5" y="908.5" width="30.5" height="30.5" fill="rgb(170,170,170)"/><rect x="999.5" y="908.5" width="30.5" height="30.5" fill="rgb(170,170,170)"/><rect x="1029.5" y="908.5" width="30.5" height="30.5" fill="rgb(170,170,170)"/><rect x="1059.5" y="908.5" width="30.5" height="30.5" fill="rgb(170,170,170)"/><rect x="1089.5" y="908.5" width="30.5" height="30.5" fill="rgb(85,85,85)"/><rect x="1119.5" y="908.5" width="30.5" height="30.5" fill="rgb(85,85,85)"/><rect x="1149.5" y="908.5" width="30.5" height="30.5" fill="rgb(85,85,85)"/><rect x="1179.5" y="908.5" width="30.5" height="30.5" fill="rgb(85,85,85)"/><rect x="1209.5" y="908.5" width="30.5" height="30.5" fill="rgb(85,85,85)"/><rect x="519.5" y="938.5" width="30.5" height="30.5" fill="rgb(170,170,170)"/><rect x="549.5" y="938.5" width="30.5" height="30.5" fill="rgb(170,170,170)"/><rect x="579.5" y="938.5" width="30.5" height="30.5" fill="rgb(170,170,170)"/><rect x="609.5" y="938.5" width="30.5" height="30.5" fill="rgb(170,170,170)"/><rect x="639.5" y="938.5" width="30.5" height="30.5" fill="rgb(170,170,170)"/><rect x="669.5" y="938.5" width="30.5" height="30.5" fill="rgb(128,128,128)"/><rect x="699.5" y="938.5" width="30.5" height="30.5" fill="rgb(85,85,85)"/><rect x="729.5" y="938.5" width="30.5" height="30.5" fill="rgb(85,85,85)"/><rect x="759.5" y="938.5" width="30.5" height="30.5" fill="rgb(0,0,0)"/><rect x="789.5" y="938.5" width="30.5" height="30.5" fill="rgb(85,85,85)"/><rect x="819.5" y="938.5" width="30.5" height="30.5" fill="rgb(212,212,212)"/><rect x="849.5" y="938.5" width="30.5" height="30.5" fill="rgb(212,212,212)"/><rect x="879.5" y="938.5" width="30.5" height="30.5" fill="rgb(212,212,212)"/><rect x="909.5" y="938.5" width="30.5" height="30.5" fill="rgb(170,170,170)"/><rect x="939.5" y="938.5" width="30.5" height="30.5" fill="rgb(170,170,170)"/><rect x="969.5" y="938.5" width="30.5" height="30.5" fill="rgb(170,170,170)"/><rect x="999.5" y="938.5" width="30.5" height="30.5" fill="rgb(128,128,128)"/><rect x="1029.5" y="938.5" width="30.5" height="30.5" fill="rgb(128,128,128)"/><rect x="1059.5" y="938.5" width="30.5" height="30.5" fill="rgb(128,128,128)"/><rect x="1089.5" y="938.5" width="30.5" height="30.5" fill="rgb(128,128,128)"/><rect x="1119.5" y="938.5" width="30.5" height="30.5" fill="rgb(128,128,128)"/><rect x="1149.5" y="938.5" width="30.5" height="30.5" fill="rgb(128,128,128)"/><rect x="1179.5" y="938.5" width="30.5" height="30.5" fill="rgb(128,128,128)"/><rect x="1209.5" y="938.5" width="30.5" height="30.5" fill="rgb(128,128,128)"/><rect x="519.5" y="968.5" width="30.5" height="30.5" fill="rgb(170,170,170)"/><rect x="549.5" y="968.5" width="30.5" height="30.5" fill="rgb(170,170,170)"/><rect x="579.5" y="968.5" width="30.5" height="30.5" fill="rgb(170,170,170)"/><rect x="609.5" y="968.5" width="30.5" height="30.5" fill="rgb(170,170,170)"/><rect x="639.5" y="968.5" width="30.5" height="30.5" fill="rgb(170,170,170)"/><rect x="669.5" y="968.5" width="30.5" height="30.5" fill="rgb(85,85,85)"/><rect x="699.5" y="968.5" width="30.5" height="30.5" fill="rgb(85,85,85)"/><rect x="729.5" y="968.5" width="30.5" height="30.5" fill="rgb(85,85,85)"/><rect x="759.5" y="968.5" width="30.5" height="30.5" fill="rgb(0,0,0)"/><rect x="789.5" y="968.5" width="30.5" height="30.5" fill="rgb(170,170,170)"/><rect x="819.5" y="968.5" width="30.5" height="30.5" fill="rgb(212,212,212)"/><rect x="849.5" y="968.5" width="30.5" height="30.5" fill="rgb(212,212,212)"/><rect x="879.5" y="968.5" width="30.5" height="30.5" fill="rgb(212,212,212)"/><rect x="909.5" y="968.5" width="30.5" height="30.5" fill="rgb(170,170,170)"/><rect x="939.5" y="968.5" width="30.5" height="30.5" fill="rgb(255,255,255)"/><rect x="969.5" y="968.5" width="30.5" height="30.5" fill="rgb(255,255,255)"/><rect x="999.5" y="968.5" width="30.5" height="30.5" fill="rgb(212,212,212)"/><rect x="1029.5" y="968.5" width="30.5" height="30.5" fill="rgb(170,170,170)"/><rect x="1059.5" y="968.5" width="30.5" height="30.5" fill="rgb(85,85,85)"/><rect x="1089.5" y="968.5" width="30.5" height="30.5" fill="rgb(85,85,85)"/><rect x="1119.5" y="968.5" width="30.5" height="30.5" fill="rgb(85,85,85)"/><rect x="1149.5" y="968.5" width="30.5" height="30.5" fill="rgb(85,85,85)"/><rect x="1179.5" y="968.5" width="30.5" height="30.5" fill="rgb(85,85,85)"/><rect x="1209.5" y="968.5" width="30.5" height="30.5" fill="rgb(85,85,85)"/><rect x="519.5" y="998.5" width="30.5" height="30.5" fill="rgb(170,170,170)"/><rect x="549.5" y="998.5" width="30.5" height="30.5" fill="rgb(170,170,170)"/><rect x="579.5" y="998.5" width="30.5" height="30.5" fill="rgb(170,170,170)"/><rect x="609.5" y="998.5" width="30.5" height="30.5" fill="rgb(170,170,170)"/><rect x="639.5" y="998.5" width="30.5" height="30.5" fill="rgb(170,170,170)"/><rect x="669.5" y="998.5" width="30.5" height="30.5" fill="rgb(42,42,42)"/><rect x="699.5" y="998.5" width="30.5" height="30.5" fill="rgb(0,0,0)"/><rect x="729.5" y="998.5" width="30.5" height="30.5" fill="rgb(85,85,85)"/><rect x="759.5" y="998.5" width="30.5" height="30.5" fill="rgb(85,85,85)"/><rect x="789.5" y="998.5" width="30.5" height="30.5" fill="rgb(170,170,170)"/><rect x="819.5" y="998.5" width="30.5" height="30.5" fill="rgb(170,170,170)"/><rect x="849.5" y="998.5" width="30.5" height="30.5" fill="rgb(170,170,170)"/><rect x="879.5" y="998.5" width="30.5" height="30.5" fill="rgb(170,170,170)"/><rect x="909.5" y="998.5" width="30.5" height="30.5" fill="rgb(212,212,212)"/><rect x="939.5" y="998.5" width="30.5" height="30.5" fill="rgb(170,170,170)"/><rect x="969.5" y="998.5" width="30.5" height="30.5" fill="rgb(212,212,212)"/><rect x="999.5" y="998.5" width="30.5" height="30.5" fill="rgb(212,212,212)"/><rect x="1029.5" y="998.5" width="30.5" height="30.5" fill="rgb(85,85,85)"/><rect x="1059.5" y="998.5" width="30.5" height="30.5" fill="rgb(85,85,85)"/><rect x="1089.5" y="998.5" width="30.5" height="30.5" fill="rgb(85,85,85)"/><rect x="1119.5" y="998.5" width="30.5" height="30.5" fill="rgb(85,85,85)"/><rect x="1149.5" y="998.5" width="30.5" height="30.5" fill="rgb(85,85,85)"/><rect x="1179.5" y="998.5" width="30.5" height="30.5" fill="rgb(85,85,85)"/><rect x="1209.5" y="998.5" width="30.5" height="30.5" fill="rgb(85,85,85)"/><rect x="519.5" y="1028.5" width="30.5" height="30.5" fill="rgb(42,42,42)"/><rect x="549.5" y="1028.5" width="30.5" height="30.5" fill="rgb(42,42,42)"/><rect x="579.5" y="1028.5" width="30.5" height="30.5" fill="rgb(42,42,42)"/><rect x="609.5" y="1028.5" width="30.5" height="30.5" fill="rgb(42,42,42)"/><rect x="639.5" y="1028.5" width="30.5" height="30.5" fill="rgb(42,42,42)"/><rect x="669.5" y="1028.5" width="30.5" height="30.5" fill="rgb(42,42,42)"/><rect x="699.5" y="1028.5" width="30.5" height="30.5" fill="rgb(85,85,85)"/><rect x="729.5" y="1028.5" width="30.5" height="30.5" fill="rgb(128,128,128)"/><rect x="759.5" y="1028.5" width="30.5" height="30.5" fill="rgb(170,170,170)"/><rect x="789.5" y="1028.5" width="30.5" height="30.5" fill="rgb(170,170,170)"/><rect x="819.5" y="1028.5" width="30.5" height="30.5" fill="rgb(170,170,170)"/><rect x="849.5" y="1028.5" width="30.5" height="30.5" fill="rgb(212,212,212)"/><rect x="879.5" y="1028.5" width="30.5" height="30.5" fill="rgb(170,170,170)"/><rect x="909.5" y="1028.5" width="30.5" height="30.5" fill="rgb(170,170,170)"/><rect x="939.5" y="1028.5" width="30.5" height="30.5" fill="rgb(85,85,85)"/><rect x="969.5" y="1028.5" width="30.5" height="30.5" fill="rgb(42,42,42)"/><rect x="999.5" y="1028.5" width="30.5" height="30.5" fill="rgb(128,128,128)"/><rect x="1029.5" y="1028.5" width="30.5" height="30.5" fill="rgb(85,85,85)"/><rect x="1059.5" y="1028.5" width="30.5" height="30.5" fill="rgb(85,85,85)"/><rect x="1089.5" y="1028.5" width="30.5" height="30.5" fill="rgb(85,85,85)"/><rect x="1119.5" y="1028.5" width="30.5" height="30.5" fill="rgb(85,85,85)"/><rect x="1149.5" y="1028.5" width="30.5" height="30.5" fill="rgb(85,85,85)"/><rect x="1179.5" y="1028.5" width="30.5" height="30.5" fill="rgb(85,85,85)"/><rect x="1209.5" y="1028.5" width="30.5" height="30.5" fill="rgb(85,85,85)"/><rect x="519.5" y="1058.5" width="30.5" height="30.5" fill="rgb(0,0,0)"/><rect x="549.5" y="1058.5" width="30.5" height="30.5" fill="rgb(0,0,0)"/><rect x="579.5" y="1058.5" width="30.5" height="30.5" fill="rgb(0,0,0)"/><rect x="609.5" y="1058.5" width="30.5" height="30.5" fill="rgb(0,0,0)"/><rect x="639.5" y="1058.5" width="30.5" height="30.5" fill="rgb(0,0,0)"/><rect x="669.5" y="1058.5" width="30.5" height="30.5" fill="rgb(42,42,42)"/><rect x="699.5" y="1058.5" width="30.5" height="30.5" fill="rgb(85,85,85)"/><rect x="729.5" y="1058.5" width="30.5" height="30.5" fill="rgb(128,128,128)"/><rect x="759.5" y="1058.5" width="30.5" height="30.5" fill="rgb(128,128,128)"/><rect x="789.5" y="1058.5" width="30.5" height="30.5" fill="rgb(128,128,128)"/><rect x="819.5" y="1058.5" width="30.5" height="30.5" fill="rgb(212,212,212)"/><rect x="849.5" y="1058.5" width="30.5" height="30.5" fill="rgb(85,85,85)"/><rect x="879.5" y="1058.5" width="30.5" height="30.5" fill="rgb(170,170,170)"/><rect x="909.5" y="1058.5" width="30.5" height="30.5" fill="rgb(170,170,170)"/><rect x="939.5" y="1058.5" width="30.5" height="30.5" fill="rgb(128,128,128)"/><rect x="969.5" y="1058.5" width="30.5" height="30.5" fill="rgb(85,85,85)"/><rect x="999.5" y="1058.5" width="30.5" height="30.5" fill="rgb(85,85,85)"/><rect x="1029.5" y="1058.5" width="30.5" height="30.5" fill="rgb(85,85,85)"/><rect x="1059.5" y="1058.5" width="30.5" height="30.5" fill="rgb(85,85,85)"/><rect x="1089.5" y="1058.5" width="30.5" height="30.5" fill="rgb(85,85,85)"/><rect x="1119.5" y="1058.5" width="30.5" height="30.5" fill="rgb(85,85,85)"/><rect x="1149.5" y="1058.5" width="30.5" height="30.5" fill="rgb(85,85,85)"/><rect x="1179.5" y="1058.5" width="30.5" height="30.5" fill="rgb(85,85,85)"/><rect x="1209.5" y="1058.5" width="30.5" height="30.5" fill="rgb(85,85,85)"/><rect x="519.5" y="1088.5" width="30.5" height="30.5" fill="rgb(0,0,0)"/><rect x="549.5" y="1088.5" width="30.5" height="30.5" fill="rgb(0,0,0)"/><rect x="579.5" y="1088.5" width="30.5" height="30.5" fill="rgb(0,0,0)"/><rect x="609.5" y="1088.5" width="30.5" height="30.5" fill="rgb(0,0,0)"/><rect x="639.5" y="1088.5" width="30.5" height="30.5" fill="rgb(42,42,42)"/><rect x="669.5" y="1088.5" width="30.5" height="30.5" fill="rgb(42,42,42)"/><rect x="699.5" y="1088.5" width="30.5" height="30.5" fill="rgb(42,42,42)"/><rect x="729.5" y="1088.5" width="30.5" height="30.5" fill="rgb(85,85,85)"/><rect x="759.5" y="1088.5" width="30.5" height="30.5" fill="rgb(128,128,128)"/><rect x="789.5" y="1088.5" width="30.5" height="30.5" fill="rgb(128,128,128)"/><rect x="819.5" y="1088.5" width="30.5" height="30.5" fill="rgb(170,170,170)"/><rect x="849.5" y="1088.5" width="30.5" height="30.5" fill="rgb(170,170,170)"/><rect x="879.5" y="1088.5" width="30.5" height="30.5" fill="rgb(212,212,212)"/><rect x="909.5" y="1088.5" width="30.5" height="30.5" fill="rgb(212,212,212)"/><rect x="939.5" y="1088.5" width="30.5" height="30.5" fill="rgb(170,170,170)"/><rect x="969.5" y="1088.5" width="30.5" height="30.5" fill="rgb(128,128,128)"/><rect x="999.5" y="1088.5" width="30.5" height="30.5" fill="rgb(85,85,85)"/><rect x="1029.5" y="1088.5" width="30.5" height="30.5" fill="rgb(85,85,85)"/><rect x="1059.5" y="1088.5" width="30.5" height="30.5" fill="rgb(85,85,85)"/><rect x="1089.5" y="1088.5" width="30.5" height="30.5" fill="rgb(85,85,85)"/><rect x="1119.5" y="1088.5" width="30.5" height="30.5" fill="rgb(85,85,85)"/><rect x="1149.5" y="1088.5" width="30.5" height="30.5" fill="rgb(85,85,85)"/><rect x="1179.5" y="1088.5" width="30.5" height="30.5" fill="rgb(85,85,85)"/><rect x="1209.5" y="1088.5" width="30.5" height="30.5" fill="rgb(85,85,85)"/><rect x="519.5" y="1118.5" width="30.5" height="30.5" fill="rgb(0,0,0)"/><rect x="549.5" y="1118.5" width="30.5" height="30.5" fill="rgb(0,0,0)"/><rect x="579.5" y="1118.5" width="30.5" height="30.5" fill="rgb(0,0,0)"/><rect x="609.5" y="1118.5" width="30.5" height="30.5" fill="rgb(0,0,0)"/><rect x="639.5" y="1118.5" width="30.5" height="30.5" fill="rgb(42,42,42)"/><rect x="669.5" y="1118.5" width="30.5" height="30.5" fill="rgb(85,85,85)"/><rect x="699.5" y="1118.5" width="30.5" height="30.5" fill="rgb(0,0,0)"/><rect x="729.5" y="1118.5" width="30.5" height="30.5" fill="rgb(85,85,85)"/><rect x="759.5" y="1118.5" width="30.5" height="30.5" fill="rgb(128,128,128)"/><rect x="789.5" y="1118.5" width="30.5" height="30.5" fill="rgb(128,128,128)"/><rect x="819.5" y="1118.5" width="30.5" height="30.5" fill="rgb(128,128,128)"/><rect x="849.5" y="1118.5" width="30.5" height="30.5" fill="rgb(170,170,170)"/><rect x="879.5" y="1118.5" width="30.5" height="30.5" fill="rgb(170,170,170)"/><rect x="909.5" y="1118.5" width="30.5" height="30.5" fill="rgb(170,170,170)"/><rect x="939.5" y="1118.5" width="30.5" height="30.5" fill="rgb(170,170,170)"/><rect x="969.5" y="1118.5" width="30.5" height="30.5" fill="rgb(85,85,85)"/><rect x="999.5" y="1118.5" width="30.5" height="30.5" fill="rgb(128,128,128)"/><rect x="1029.5" y="1118.5" width="30.5" height="30.5" fill="rgb(128,128,128)"/><rect x="1059.5" y="1118.5" width="30.5" height="30.5" fill="rgb(128,128,128)"/><rect x="1089.5" y="1118.5" width="30.5" height="30.5" fill="rgb(128,128,128)"/><rect x="1119.5" y="1118.5" width="30.5" height="30.5" fill="rgb(128,128,128)"/><rect x="1149.5" y="1118.5" width="30.5" height="30.5" fill="rgb(128,128,128)"/><rect x="1179.5" y="1118.5" width="30.5" height="30.5" fill="rgb(128,128,128)"/><rect x="1209.5" y="1118.5" width="30.5" height="30.5" fill="rgb(128,128,128)"/><rect x="519.5" y="1148.5" width="30.5" height="30.5" fill="rgb(0,0,0)"/><rect x="549.5" y="1148.5" width="30.5" height="30.5" fill="rgb(0,0,0)"/><rect x="579.5" y="1148.5" width="30.5" height="30.5" fill="rgb(0,0,0)"/><rect x="609.5" y="1148.5" width="30.5" height="30.5" fill="rgb(0,0,0)"/><rect x="639.5" y="1148.5" width="30.5" height="30.5" fill="rgb(42,42,42)"/><rect x="669.5" y="1148.5" width="30.5" height="30.5" fill="rgb(85,85,85)"/><rect x="699.5" y="1148.5" width="30.5" height="30.5" fill="rgb(42,42,42)"/><rect x="729.5" y="1148.5" width="30.5" height="30.5" fill="rgb(42,42,42)"/><rect x="759.5" y="1148.5" width="30.5" height="30.5" fill="rgb(85,85,85)"/><rect x="789.5" y="1148.5" width="30.5" height="30.5" fill="rgb(85,85,85)"/><rect x="819.5" y="1148.5" width="30.5" height="30.5" fill="rgb(42,42,42)"/><rect x="849.5" y="1148.5" width="30.5" height="30.5" fill="rgb(212,212,212)"/><rect x="879.5" y="1148.5" width="30.5" height="30.5" fill="rgb(212,212,212)"/><rect x="909.5" y="1148.5" width="30.5" height="30.5" fill="rgb(212,212,212)"/><rect x="939.5" y="1148.5" width="30.5" height="30.5" fill="rgb(128,128,128)"/><rect x="969.5" y="1148.5" width="30.5" height="30.5" fill="rgb(85,85,85)"/><rect x="999.5" y="1148.5" width="30.5" height="30.5" fill="rgb(85,85,85)"/><rect x="1029.5" y="1148.5" width="30.5" height="30.5" fill="rgb(128,128,128)"/><rect x="1059.5" y="1148.5" width="30.5" height="30.5" fill="rgb(128,128,128)"/><rect x="1089.5" y="1148.5" width="30.5" height="30.5" fill="rgb(128,128,128)"/><rect x="1119.5" y="1148.5" width="30.5" height="30.5" fill="rgb(128,128,128)"/><rect x="1149.5" y="1148.5" width="30.5" height="30.5" fill="rgb(128,128,128)"/><rect x="1179.5" y="1148.5" width="30.5" height="30.5" fill="rgb(128,128,128)"/><rect x="1209.5" y="1148.5" width="30.5" height="30.5" fill="rgb(128,128,128)"/><rect x="519.5" y="1178.5" width="30.5" height="30.5" fill="rgb(85,85,85)"/><rect x="549.5" y="1178.5" width="30.5" height="30.5" fill="rgb(85,85,85)"/><rect x="579.5" y="1178.5" width="30.5" height="30.5" fill="rgb(85,85,85)"/><rect x="609.5" y="1178.5" width="30.5" height="30.5" fill="rgb(85,85,85)"/><rect x="639.5" y="1178.5" width="30.5" height="30.5" fill="rgb(85,85,85)"/><rect x="669.5" y="1178.5" width="30.5" height="30.5" fill="rgb(85,85,85)"/><rect x="699.5" y="1178.5" width="30.5" height="30.5" fill="rgb(85,85,85)"/><rect x="729.5" y="1178.5" width="30.5" height="30.5" fill="rgb(85,85,85)"/><rect x="759.5" y="1178.5" width="30.5" height="30.5" fill="rgb(85,85,85)"/><rect x="789.5" y="1178.5" width="30.5" height="30.5" fill="rgb(42,42,42)"/><rect x="819.5" y="1178.5" width="30.5" height="30.5" fill="rgb(128,128,128)"/><rect x="849.5" y="1178.5" width="30.5" height="30.5" fill="rgb(170,170,170)"/><rect x="879.5" y="1178.5" width="30.5" height="30.5" fill="rgb(128,128,128)"/><rect x="909.5" y="1178.5" width="30.5" height="30.5" fill="rgb(170,170,170)"/><rect x="939.5" y="1178.5" width="30.5" height="30.5" fill="rgb(128,128,128)"/><rect x="969.5" y="1178.5" width="30.5" height="30.5" fill="rgb(128,128,128)"/><rect x="999.5" y="1178.5" width="30.5" height="30.5" fill="rgb(170,170,170)"/><rect x="1029.5" y="1178.5" width="30.5" height="30.5" fill="rgb(170,170,170)"/><rect x="1059.5" y="1178.5" width="30.5" height="30.5" fill="rgb(170,170,170)"/><rect x="1089.5" y="1178.5" width="30.5" height="30.5" fill="rgb(170,170,170)"/><rect x="1119.5" y="1178.5" width="30.5" height="30.5" fill="rgb(170,170,170)"/><rect x="1149.5" y="1178.5" width="30.5" height="30.5" fill="rgb(170,170,170)"/><rect x="1179.5" y="1178.5" width="30.5" height="30.5" fill="rgb(170,170,170)"/><rect x="1209.5" y="1178.5" width="30.5" height="30.5" fill="rgb(170,170,170)"/><rect x="519.5" y="1208.5" width="30.5" height="30.5" fill="rgb(85,85,85)"/><rect x="549.5" y="1208.5" width="30.5" height="30.5" fill="rgb(85,85,85)"/><rect x="579.5" y="1208.5" width="30.5" height="30.5" fill="rgb(85,85,85)"/><rect x="609.5" y="1208.5" width="30.5" height="30.5" fill="rgb(85,85,85)"/><rect x="639.5" y="1208.5" width="30.5" height="30.5" fill="rgb(85,85,85)"/><rect x="669.5" y="1208.5" width="30.5" height="30.5" fill="rgb(85,85,85)"/><rect x="699.5" y="1208.5" width="30.5" height="30.5" fill="rgb(85,85,85)"/><rect x="729.5" y="1208.5" width="30.5" height="30.5" fill="rgb(85,85,85)"/><rect x="759.5" y="1208.5" width="30.5" height="30.5" fill="rgb(85,85,85)"/><rect x="789.5" y="1208.5" width="30.5" height="30.5" fill="rgb(85,85,85)"/><rect x="819.5" y="1208.5" width="30.5" height="30.5" fill="rgb(128,128,128)"/><rect x="849.5" y="1208.5" width="30.5" height="30.5" fill="rgb(85,85,85)"/><rect x="879.5" y="1208.5" width="30.5" height="30.5" fill="rgb(85,85,85)"/><rect x="909.5" y="1208.5" width="30.5" height="30.5" fill="rgb(85,85,85)"/><rect x="939.5" y="1208.5" width="30.5" height="30.5" fill="rgb(85,85,85)"/><rect x="969.5" y="1208.5" width="30.5" height="30.5" fill="rgb(170,170,170)"/><rect x="999.5" y="1208.5" width="30.5" height="30.5" fill="rgb(170,170,170)"/><rect x="1029.5" y="1208.5" width="30.5" height="30.5" fill="rgb(170,170,170)"/><rect x="1059.5" y="1208.5" width="30.5" height="30.5" fill="rgb(170,170,170)"/><rect x="1089.5" y="1208.5" width="30.5" height="30.5" fill="rgb(170,170,170)"/><rect x="1119.5" y="1208.5" width="30.5" height="30.5" fill="rgb(170,170,170)"/><rect x="1149.5" y="1208.5" width="30.5" height="30.5" fill="rgb(170,170,170)"/><rect x="1179.5" y="1208.5" width="30.5" height="30.5" fill="rgb(170,170,170)"/><rect x="1209.5" y="1208.5" width="30.5" height="30.5" fill="rgb(170,170,170)"/><rect x="519.5" y="1238.5" width="30.5" height="30.5" fill="rgb(85,85,85)"/><rect x="549.5" y="1238.5" width="30.5" height="30.5" fill="rgb(85,85,85)"/><rect x="579.5" y="1238.5" width="30.5" height="30.5" fill="rgb(85,85,85)"/><rect x="609.5" y="1238.5" width="30.5" height="30.5" fill="rgb(85,85,85)"/><rect x="639.5" y="1238.5" width="30.5" height="30.5" fill="rgb(85,85,85)"/><rect x="669.5" y="1238.5" width="30.5" height="30.5" fill="rgb(85,85,85)"/><rect x="699.5" y="1238.5" width="30.5" height="30.5" fill="rgb(85,85,85)"/><rect x="729.5" y="1238.5" width="30.5" height="30.5" fill="rgb(85,85,85)"/><rect x="759.5" y="1238.5" width="30.5" height="30.5" fill="rgb(85,85,85)"/><rect x="789.5" y="1238.5" width="30.5" height="30.5" fill="rgb(85,85,85)"/><rect x="819.5" y="1238.5" width="30.5" height="30.5" fill="rgb(128,128,128)"/><rect x="849.5" y="1238.5" width="30.5" height="30.5" fill="rgb(85,85,85)"/><rect x="879.5" y="1238.5" width="30.5" height="30.5" fill="rgb(128,128,128)"/><rect x="909.5" y="1238.5" width="30.5" height="30.5" fill="rgb(85,85,85)"/><rect x="939.5" y="1238.5" width="30.5" height="30.5" fill="rgb(85,85,85)"/><rect x="969.5" y="1238.5" width="30.5" height="30.5" fill="rgb(170,170,170)"/><rect x="999.5" y="1238.5" width="30.5" height="30.5" fill="rgb(170,170,170)"/><rect x="1029.5" y="1238.5" width="30.5" height="30.5" fill="rgb(170,170,170)"/><rect x="1059.5" y="1238.5" width="30.5" height="30.5" fill="rgb(170,170,170)"/><rect x="1089.5" y="1238.5" width="30.5" height="30.5" fill="rgb(170,170,170)"/><rect x="1119.5" y="1238.5" width="30.5" height="30.5" fill="rgb(170,170,170)"/><rect x="1149.5" y="1238.5" width="30.5" height="30.5" fill="rgb(170,170,170)"/><rect x="1179.5" y="1238.5" width="30.5" height="30.5" fill="rgb(170,170,170)"/><rect x="1209.5" y="1238.5" width="30.5" height="30.5" fill="rgb(170,170,170)"/><rect x="519.5" y="1268.5" width="30.5" height="30.5" fill="rgb(85,85,85)"/><rect x="549.5" y="1268.5" width="30.5" height="30.5" fill="rgb(85,85,85)"/><rect x="579.5" y="1268.5" width="30.5" height="30.5" fill="rgb(85,85,85)"/><rect x="609.5" y="1268.5" width="30.5" height="30.5" fill="rgb(85,85,85)"/><rect x="639.5" y="1268.5" width="30.5" height="30.5" fill="rgb(85,85,85)"/><rect x="669.5" y="1268.5" width="30.5" height="30.5" fill="rgb(85,85,85)"/><rect x="699.5" y="1268.5" width="30.5" height="30.5" fill="rgb(85,85,85)"/><rect x="729.5" y="1268.5" width="30.5" height="30.5" fill="rgb(85,85,85)"/><rect x="759.5" y="1268.5" width="30.5" height="30.5" fill="rgb(85,85,85)"/><rect x="789.5" y="1268.5" width="30.5" height="30.5" fill="rgb(85,85,85)"/><rect x="819.5" y="1268.5" width="30.5" height="30.5" fill="rgb(128,128,128)"/><rect x="849.5" y="1268.5" width="30.5" height="30.5" fill="rgb(85,85,85)"/><rect x="879.5" y="1268.5" width="30.5" height="30.5" fill="rgb(128,128,128)"/><rect x="909.5" y="1268.5" width="30.5" height="30.5" fill="rgb(85,85,85)"/><rect x="939.5" y="1268.5" width="30.5" height="30.5" fill="rgb(85,85,85)"/><rect x="969.5" y="1268.5" width="30.5" height="30.5" fill="rgb(170,170,170)"/><rect x="999.5" y="1268.5" width="30.5" height="30.5" fill="rgb(170,170,170)"/><rect x="1029.5" y="1268.5" width="30.5" height="30.5" fill="rgb(170,170,170)"/><rect x="1059.5" y="1268.5" width="30.5" height="30.5" fill="rgb(170,170,170)"/><rect x="1089.5" y="1268.5" width="30.5" height="30.5" fill="rgb(170,170,170)"/><rect x="1119.5" y="1268.5" width="30.5" height="30.5" fill="rgb(170,170,170)"/><rect x="1149.5" y="1268.5" width="30.5" height="30.5" fill="rgb(170,170,170)"/><rect x="1179.5" y="1268.5" width="30.5" height="30.5" fill="rgb(170,170,170)"/><rect x="1209.5" y="1268.5" width="30.5" height="30.5" fill="rgb(170,170,170)"/><rect x="519.5" y="1298.5" width="30.5" height="30.5" fill="rgb(85,85,85)"/><rect x="549.5" y="1298.5" width="30.5" height="30.5" fill="rgb(85,85,85)"/><rect x="579.5" y="1298.5" width="30.5" height="30.5" fill="rgb(85,85,85)"/><rect x="609.5" y="1298.5" width="30.5" height="30.5" fill="rgb(85,85,85)"/><rect x="639.5" y="1298.5" width="30.5" height="30.5" fill="rgb(85,85,85)"/><rect x="669.5" y="1298.5" width="30.5" height="30.5" fill="rgb(85,85,85)"/><rect x="699.5" y="1298.5" width="30.5" height="30.5" fill="rgb(85,85,85)"/><rect x="729.5" y="1298.5" width="30.5" height="30.5" fill="rgb(85,85,85)"/><rect x="759.5" y="1298.5" width="30.5" height="30.5" fill="rgb(85,85,85)"/><rect x="789.5" y="1298.5" width="30.5" height="30.5" fill="rgb(85,85,85)"/><rect x="819.5" y="1298.5" width="30.5" height="30.5" fill="rgb(128,128,128)"/><rect x="849.5" y="1298.5" width="30.5" height="30.5" fill="rgb(85,85,85)"/><rect x="879.5" y="1298.5" width="30.5" height="30.5" fill="rgb(128,128,128)"/><rect x="909.5" y="1298.5" width="30.5" height="30.5" fill="rgb(85,85,85)"/><rect x="939.5" y="1298.5" width="30.5" height="30.5" fill="rgb(85,85,85)"/><rect x="969.5" y="1298.5" width="30.5" height="30.5" fill="rgb(170,170,170)"/><rect x="999.5" y="1298.5" width="30.5" height="30.5" fill="rgb(170,170,170)"/><rect x="1029.5" y="1298.5" width="30.5" height="30.5" fill="rgb(170,170,170)"/><rect x="1059.5" y="1298.5" width="30.5" height="30.5" fill="rgb(170,170,170)"/><rect x="1089.5" y="1298.5" width="30.5" height="30.5" fill="rgb(170,170,170)"/><rect x="1119.5" y="1298.5" width="30.5" height="30.5" fill="rgb(170,170,170)"/><rect x="1149.5" y="1298.5" width="30.5" height="30.5" fill="rgb(170,170,170)"/><rect x="1179.5" y="1298.5" width="30.5" height="30.5" fill="rgb(170,170,170)"/><rect x="1209.5" y="1298.5" width="30.5" height="30.5" fill="rgb(170,170,170)"/><rect x="519.5" y="1328.5" width="30.5" height="30.5" fill="rgb(85,85,85)"/><rect x="549.5" y="1328.5" width="30.5" height="30.5" fill="rgb(85,85,85)"/><rect x="579.5" y="1328.5" width="30.5" height="30.5" fill="rgb(85,85,85)"/><rect x="609.5" y="1328.5" width="30.5" height="30.5" fill="rgb(85,85,85)"/><rect x="639.5" y="1328.5" width="30.5" height="30.5" fill="rgb(85,85,85)"/><rect x="669.5" y="1328.5" width="30.5" height="30.5" fill="rgb(85,85,85)"/><rect x="699.5" y="1328.5" width="30.5" height="30.5" fill="rgb(85,85,85)"/><rect x="729.5" y="1328.5" width="30.5" height="30.5" fill="rgb(85,85,85)"/><rect x="759.5" y="1328.5" width="30.5" height="30.5" fill="rgb(85,85,85)"/><rect x="789.5" y="1328.5" width="30.5" height="30.5" fill="rgb(85,85,85)"/><rect x="819.5" y="1328.5" width="30.5" height="30.5" fill="rgb(128,128,128)"/><rect x="849.5" y="1328.5" width="30.5" height="30.5" fill="rgb(85,85,85)"/><rect x="879.5" y="1328.5" width="30.5" height="30.5" fill="rgb(128,128,128)"/><rect x="909.5" y="1328.5" width="30.5" height="30.5" fill="rgb(85,85,85)"/><rect x="939.5" y="1328.5" width="30.5" height="30.5" fill="rgb(85,85,85)"/><rect x="969.5" y="1328.5" width="30.5" height="30.5" fill="rgb(170,170,170)"/><rect x="999.5" y="1328.5" width="30.5" height="30.5" fill="rgb(170,170,170)"/><rect x="1029.5" y="1328.5" width="30.5" height="30.5" fill="rgb(170,170,170)"/><rect x="1059.5" y="1328.5" width="30.5" height="30.5" fill="rgb(170,170,170)"/><rect x="1089.5" y="1328.5" width="30.5" height="30.5" fill="rgb(170,170,170)"/><rect x="1119.5" y="1328.5" width="30.5" height="30.5" fill="rgb(170,170,170)"/><rect x="1149.5" y="1328.5" width="30.5" height="30.5" fill="rgb(170,170,170)"/><rect x="1179.5" y="1328.5" width="30.5" height="30.5" fill="rgb(170,170,170)"/><rect x="1209.5" y="1328.5" width="30.5" height="30.5" fill="rgb(170,170,170)"/><path d="M706.2,837.2 L726.5,835.0 L737.8,846.2 L735.5,850.8 L708.5,850.8 Z" fill="rgb(255,255,255)"/><path d="M753.5,855.2 L776.0,855.2 L776.0,871.0 L753.5,871.0 Z" fill="rgb(255,255,255)"/><path d="M785.0,857.5 L803.0,853.0 L809.8,866.5 L807.5,884.5 L794.0,884.5 L785.0,875.5 Z" fill="rgb(0,0,0)"/><path d="M787.2,925.0 L807.5,922.8 L807.5,938.5 L798.5,952.0 L787.2,952.0 Z" fill="rgb(0,0,0)"/><path d="M767.0,938.5 L785.0,936.2 L787.2,961.0 L780.5,983.5 L767.0,1006.0 L749.0,1001.5 L735.5,994.8 L744.5,972.2 L755.8,956.5 Z" fill="rgb(0,0,0)"/><path d="M672.5,1012.8 L704.0,1006.0 L722.0,1012.8 L722.0,1028.5 L672.5,1028.5 Z" fill="rgb(0,0,0)"/><path d="M744.5,1010.5 L767.0,1010.5 L767.0,1028.5 L744.5,1028.5 Z" fill="rgb(0,0,0)"/><path d="M812.0,862.0 L852.5,857.5 L879.5,871.0 L879.5,1006.0 L812.0,1006.0 L807.5,961.0 L807.5,893.5 Z" fill="rgb(170,170,170)"/><path d="M852.5,913.8 L866.0,911.5 L879.5,925.0 L879.5,943.0 L868.2,938.5 Z" fill="rgb(255,255,255)"/><path d="M834.5,952.0 L848.0,952.0 L848.0,983.5 L834.5,983.5 Z" fill="rgb(255,255,255)"/><path d="M852.5,853.0 L879.5,853.0 L879.5,871.0 L852.5,871.0 Z" fill="rgb(255,255,255)"/><path d="M803.0,884.5 L816.5,884.5 L816.5,893.5 L803.0,893.5 Z" fill="rgb(255,255,255)"/><path d="M647.8,920.5 L677.0,920.5 L677.0,943.0 L647.8,943.0 Z" fill="rgb(212,212,212)"/><path d="M776.0,907.0 L789.5,907.0 L789.5,920.5 L776.0,920.5 Z" fill="rgb(64,64,64)"/><path d="M735.5,893.5 L767.0,893.5 L767.0,916.0 L735.5,916.0 Z" fill="rgb(212,212,212)"/><path d="M769.2,902.5 L785.0,902.5 L785.0,913.8 L769.2,913.8 Z" fill="rgb(255,255,255)"/><path d="M879.5,844.0 L902.0,841.8 L911.0,857.5 L902.0,875.5 L879.5,875.5 Z" fill="rgb(255,255,255)"/><path d="M879.5,929.5 L893.0,929.5 L893.0,952.0 L879.5,952.0 Z" fill="rgb(255,255,255)"/><path d="M956.0,925.0 L965.0,925.0 L965.0,945.2 L956.0,945.2 Z" fill="rgb(255,255,255)"/><path d="M897.5,972.2 L947.0,972.2 L947.0,1017.2 L897.5,1017.2 Z" fill="rgb(212,212,212)"/><path d="M947.0,965.5 L978.5,961.0 L992.0,972.2 L987.5,997.0 L951.5,997.0 Z" fill="rgb(255,255,255)"/><path d="M978.5,992.5 L996.5,992.5 L996.5,1010.5 L978.5,1010.5 Z" fill="rgb(255,255,255)"/><path d="M1005.5,972.2 L1028.0,967.8 L1039.2,983.5 L1032.5,1001.5 L1010.0,997.0 Z" fill="rgb(255,255,255)"/><path d="M1014.5,1001.5 L1037.0,1001.5 L1037.0,1015.0 L1014.5,1015.0 Z" fill="rgb(212,212,212)"/><path d="M913.2,1010.5 L938.0,1010.5 L938.0,1021.8 L913.2,1021.8 Z" fill="rgb(255,255,255)"/><path d="M974.0,898.0 L1025.8,893.5 L1041.5,916.0 L1037.0,947.5 L974.0,947.5 Z" fill="rgb(170,170,170)"/><path d="M938.0,880.0 L978.5,880.0 L978.5,920.5 L938.0,920.5 Z" fill="rgb(64,64,64)"/><path d="M920.0,776.5 L942.5,776.5 L942.5,787.8 L920.0,787.8 Z" fill="rgb(0,0,0)"/><path d="M924.5,1015.0 L942.5,1015.0 L942.5,1028.5 L924.5,1028.5 Z" fill="rgb(0,0,0)"/><path d="M879.5,882.2 L947.0,882.2 L947.0,927.2 L879.5,927.2 Z" fill="rgb(170,170,170)"/><path d="M614.0,1064.5 L627.5,1060.0 L654.5,1069.0 L677.0,1078.0 L677.0,1096.0 L661.2,1096.0 L641.0,1087.0 L618.5,1080.2 Z" fill="rgb(0,0,0)"/><path d="M641.0,1028.5 L699.5,1028.5 L695.0,1055.5 L668.0,1060.0 L643.2,1051.0 Z" fill="rgb(64,64,64)"/><path d="M695.0,1082.5 L767.0,1096.0 L767.0,1186.0 L695.0,1163.5 Z" fill="rgb(64,64,64)"/><path d="M699.5,1105.0 L726.5,1114.0 L749.0,1141.0 L744.5,1168.0 L717.5,1163.5 L695.0,1145.5 Z" fill="rgb(0,0,0)"/><path d="M803.0,1154.5 L834.5,1154.5 L834.5,1172.5 L803.0,1172.5 Z" fill="rgb(0,0,0)"/><path d="M798.5,1190.5 L825.5,1190.5 L825.5,1208.5 L798.5,1208.5 Z" fill="rgb(64,64,64)"/><path d="M785.0,1028.5 L879.5,1028.5 L879.5,1123.0 L825.5,1127.5 L807.5,1107.2 L798.5,1073.5 Z" fill="rgb(170,170,170)"/><path d="M760.2,1035.2 L780.5,1035.2 L780.5,1048.8 L760.2,1048.8 Z" fill="rgb(255,255,255)"/><path d="M769.2,1111.8 L780.5,1111.8 L780.5,1123.0 L769.2,1123.0 Z" fill="rgb(255,255,255)"/><path d="M807.5,1080.2 L825.5,1080.2 L825.5,1096.0 L807.5,1096.0 Z" fill="rgb(255,255,255)"/><path d="M866.0,1154.5 L879.5,1154.5 L879.5,1181.5 L866.0,1181.5 Z" fill="rgb(255,255,255)"/><path d="M789.5,1136.5 L800.8,1136.5 L800.8,1145.5 L789.5,1145.5 Z" fill="rgb(212,212,212)"/><path d="M857.0,1042.0 L879.5,1042.0 L879.5,1064.5 L857.0,1064.5 Z" fill="rgb(212,212,212)"/><path d="M956.0,1028.5 L1023.5,1028.5 L1023.5,1073.5 L1005.5,1100.5 L980.8,1082.5 L965.0,1062.2 Z" fill="rgb(64,64,64)"/><path d="M965.0,1033.0 L983.0,1033.0 L983.0,1055.5 L965.0,1055.5 Z" fill="rgb(0,0,0)"/><path d="M992.0,1046.5 L1001.0,1046.5 L1001.0,1066.8 L992.0,1066.8 Z" fill="rgb(255,255,255)"/><path d="M879.5,1055.5 L924.5,1062.2 L947.0,1096.0 L947.0,1136.5 L924.5,1154.5 L879.5,1136.5 Z" fill="rgb(212,212,212)"/><path d="M920.0,1105.0 L947.0,1105.0 L947.0,1123.0 L920.0,1123.0 Z" fill="rgb(255,255,255)"/><path d="M879.5,1159.0 L893.0,1159.0 L893.0,1168.0 L879.5,1168.0 Z" fill="rgb(255,255,255)"/><path d="M915.5,1150.0 L933.5,1159.0 L944.8,1181.5 L933.5,1183.8 L917.8,1163.5 Z" fill="rgb(255,255,255)"/><path d="M938.0,1163.5 L951.5,1163.5 L951.5,1172.5 L938.0,1172.5 Z" fill="rgb(0,0,0)"/><path d="M920.0,1186.0 L938.0,1186.0 L938.0,1208.5 L920.0,1208.5 Z" fill="rgb(212,212,212)"/><path d="M974.0,1123.0 L1014.5,1127.5 L1019.0,1168.0 L996.5,1172.5 L969.5,1154.5 Z" fill="rgb(64,64,64)"/><path d="M893.0,1204.0 L920.0,1204.0 L920.0,1222.0 L893.0,1222.0 Z" fill="rgb(64,64,64)"/></g><path d="M777.5,1060.5 L789.5,1072.5 L799.5,1082.5 L805.5,1092.5 L809.5,1104.5 L813.5,1116.5 L821.5,1125.5 L835.5,1127.5 L849.5,1125.5 L873.5,1130.5 L899.5,1144.5 L923.5,1164.5 L943.5,1184.5 L958.5,1206.5" fill="none" stroke="#2a7c1a" stroke-width="3.0" stroke-linecap="round" stroke-linejoin="round"/><path d="M640.5,1028.5 L643.5,1046.5 L647.5,1056.5 L659.5,1060.5 L673.5,1056.5 L683.5,1046.5 L686.5,1040.5" fill="none" stroke="#2a7c1a" stroke-width="2.0" stroke-linecap="round" stroke-linejoin="round"/><path d="M659.5,1092.5 L675.5,1102.5 L689.5,1112.5 L695.5,1122.5 L695.5,1134.5 L689.5,1144.5" fill="none" stroke="#2a7c1a" stroke-width="2.2" stroke-linecap="round" stroke-linejoin="round"/><path d="M737.5,1190.5 L759.5,1195.5 L779.5,1203.5 L793.5,1214.5 L801.5,1220.5" fill="none" stroke="#2a7c1a" stroke-width="2.4" stroke-linecap="round" stroke-linejoin="round"/><rect x="934.5" y="1233.5" width="13" height="11" fill="#1d7d1c"/></g>
<path d="M638.9,904.6 L654.4,905.2 L658.3,900.0 L660.9,890.4 L672.5,892.0 L678.9,882.6 L690.5,882.0 L703.4,889.7 L706.5,878.5 L707.5,866.5 L699.5,851.5 L693.2,834.0 L708.2,817.5 L722.0,812.5 L724.5,821.5 L734.5,839.0 L749.5,846.5 L772.0,845.2 L777.0,850.2 L792.0,849.0 L795.5,824.0 L814.5,817.5 L824.5,816.5 L849.5,821.5 L872.0,806.5 L874.5,796.5 L891.5,795.2 L905.2,792.5 L911.5,776.5 L929.0,769.0 L945.2,764.0 L951.5,771.5 L966.5,770.2 L967.5,762.5 L974.0,761.5 L982.5,774.0 L976.5,789.0 L989.0,792.5 L1004.0,801.5 L1024.0,806.5 L1029.0,816.5 L1034.0,834.0 L1036.5,849.0 L1036.5,867.5 L1046.5,862.5 L1051.5,870.5 L1076.5,874.0 L1086.5,867.5 L1101.5,865.5 L1119.0,870.5 L1139.0,879.0 L1126.5,886.5 L1096.5,899.0 L1081.5,909.0 L1071.5,926.5 L1069.0,939.0 L1084.0,956.5 L1076.5,964.0 L1069.0,971.5 L1054.0,996.5 L1036.5,1011.5 L1024.0,1034.0 L1021.5,1046.5 L1025.2,1064.0 L1024.0,1081.5 L1016.5,1091.5 L1011.5,1106.5 L1019.0,1116.5 L1029.0,1126.5 L1039.0,1149.0 L1025.7,1152.3 L1019.8,1163.2 L1013.2,1174.0 L1011.5,1169.0 L1002.3,1169.0 L998.2,1167.3 L991.5,1168.2 L986.5,1174.0 L984.0,1183.2 L979.0,1184.8 L976.9,1199.8 L983.2,1201.5 L986.5,1204.0 L1003.2,1203.6 L1004.0,1208.2 L1009.0,1209.8 L1011.1,1218.2 L1006.5,1218.2 L998.2,1215.7 L988.2,1218.2 L977.3,1219.8 L974.8,1211.5 L973.2,1204.8 L968.2,1201.5 L961.5,1203.2 L958.2,1208.2 L964.8,1216.5 L969.8,1224.8 L969.8,1230.7 L960.7,1236.5 L944.2,1243.8 L936.2,1243.2 L929.5,1247.8 L921.5,1254.5 L916.2,1261.2 L910.8,1265.8 L905.5,1259.8 L897.5,1251.8 L888.2,1242.5 L878.8,1231.8 L869.5,1223.8 L862.8,1219.8 L858.8,1211.8 L853.5,1206.5 L821.5,1204.5 L809.5,1217.2 L797.0,1225.2 L782.0,1221.5 L764.5,1209.0 L739.5,1191.5 L717.0,1179.0 L699.5,1161.5 L687.0,1144.0 L669.5,1119.0 L655.7,1103.9 L646.7,1094.9 L637.6,1087.1 L627.3,1084.6 L614.4,1074.2 L612.5,1067.8 L619.6,1053.6 L627.3,1042.0 L638.9,1025.2 L644.1,1026.5 L645.4,1014.9 L650.5,995.5 L653.1,982.6 L651.8,956.8 L650.5,938.8 L648.0,933.6 L640.2,932.3 L637.6,911.7 Z" fill="none" stroke="#3d4a2a" stroke-width="1.3" stroke-linejoin="round"/>
</g>
<text x="647.5" y="726.2" font-size="34.3" text-anchor="start" fill="#111" textLength="44.7" lengthAdjust="spacingAndGlyphs" >(d)</text>
<text x="705.2" y="709.6" font-size="22" text-anchor="start" fill="#111" textLength="398.0" lengthAdjust="spacingAndGlyphs" >Predicted 2030 Land Surface Temperature</text>
<g stroke="#000" fill="none" stroke-width="2.2" stroke-linejoin="miter"><line x1="631.25" y1="702.9" x2="631.25" y2="778.3"/><path d="M631.25,702.9 L644.05,735.699 L631.85,729.6669999999999"/><g stroke-width="2.5" stroke-linecap="butt"><line x1="626.25" y1="753.5688" x2="626.25" y2="772.645"/><line x1="625.85" y1="753.5688" x2="639.15" y2="772.645"/><line x1="638.85" y1="753.5688" x2="638.85" y2="772.645"/></g></g>
<text x="1021.4" y="1248.3" font-size="17" text-anchor="start" fill="#111" textLength="97.5" lengthAdjust="spacingAndGlyphs" >Temperature</text>
<text x="1021.4" y="1287.0" font-size="17" text-anchor="start" fill="#111" textLength="34.0" lengthAdjust="spacingAndGlyphs" >High</text>
<text x="1021.4" y="1329.0" font-size="17" text-anchor="start" fill="#111" textLength="30.0" lengthAdjust="spacingAndGlyphs" >Low</text>
<text x="896.3" y="1329.0" font-size="17" text-anchor="start" fill="#111" textLength="46.7" lengthAdjust="spacingAndGlyphs" >DMDP</text>
<rect x="954.6" y="1312.7" width="42.0" height="20.59999999999991" fill="#eeeeee" stroke="#555" stroke-width="1.4"/>
<rect x="1094.6" y="1269.3" width="43.0" height="64.0" fill="url(#cb)"/>
<rect x="627" y="1303.4" width="152.20000000000005" height="11.199999999999818" fill="#f3f3f3" stroke="#000" stroke-width="1.2"/>
<rect x="627" y="1303.4" width="26.700000000000045" height="11.199999999999818" fill="#000"/>
<rect x="677" y="1303.4" width="52.700000000000045" height="11.199999999999818" fill="#000"/>
<text x="627.0" y="1295.4" font-size="17" text-anchor="middle" fill="#111" >0</text>
<text x="677.0" y="1295.4" font-size="17" text-anchor="middle" fill="#111" >4</text>
<text x="729.7" y="1295.4" font-size="17" text-anchor="middle" fill="#111" >8</text>
<text x="779.2" y="1295.4" font-size="17" text-anchor="middle" fill="#111" >12</text>
<text x="660.7" y="1331.3" font-size="17" text-anchor="start" fill="#111" textLength="84.0" lengthAdjust="spacingAndGlyphs" >Kilometers</text>
<g stroke="#111" fill="none">
<rect x="48.8" y="13.8" width="1103.2" height="1331.7" stroke-width="1.6"/>
<line x1="600" y1="13.8" x2="600" y2="1345.5" stroke-width="2"/>
<line x1="48.8" y1="680.3" x2="1152" y2="680.3" stroke-width="2"/>
</g>
<g>
<rect x="96.6" y="1378.3" width="1069.4" height="424.70000000000005" fill="#fff"/>
<g stroke="#bcbcbc" stroke-width="1.3">
<line x1="215.0" y1="1378.3" x2="215.0" y2="1803.0"/>
<line x1="338.0" y1="1378.3" x2="338.0" y2="1803.0"/>
<line x1="461.0" y1="1378.3" x2="461.0" y2="1803.0"/>
<line x1="584.0" y1="1378.3" x2="584.0" y2="1803.0"/>
<line x1="707.0" y1="1378.3" x2="707.0" y2="1803.0"/>
<line x1="830.0" y1="1378.3" x2="830.0" y2="1803.0"/>
<line x1="953.0" y1="1378.3" x2="953.0" y2="1803.0"/>
<line x1="1076.0" y1="1378.3" x2="1076.0" y2="1803.0"/>
<line x1="96.6" y1="1784.8" x2="1166.0" y2="1784.8"/>
<line x1="96.6" y1="1732.0" x2="1166.0" y2="1732.0"/>
<line x1="96.6" y1="1679.1" x2="1166.0" y2="1679.1"/>
<line x1="96.6" y1="1626.3" x2="1166.0" y2="1626.3"/>
<line x1="96.6" y1="1573.5" x2="1166.0" y2="1573.5"/>
<line x1="96.6" y1="1520.7" x2="1166.0" y2="1520.7"/>
<line x1="96.6" y1="1467.8" x2="1166.0" y2="1467.8"/>
<line x1="96.6" y1="1415.0" x2="1166.0" y2="1415.0"/>
</g>
<g fill="rgb(240,92,42)" fill-opacity="0.5" stroke="rgb(240,92,42)" stroke-opacity="0.35" stroke-width="0.8">
<circle cx="141.2" cy="1778.4" r="4.4"/>
<circle cx="161.2" cy="1771.6" r="4.4"/>
<circle cx="163.5" cy="1770.8" r="4.4"/>
<circle cx="166.8" cy="1769.7" r="4.4"/>
<circle cx="166.8" cy="1769.6" r="4.4"/>
<circle cx="167.3" cy="1769.5" r="4.4"/>
<circle cx="167.8" cy="1769.3" r="4.4"/>
<circle cx="171.0" cy="1768.2" r="4.4"/>
<circle cx="174.9" cy="1766.9" r="4.4"/>
<circle cx="180.1" cy="1765.1" r="4.4"/>
<circle cx="187.3" cy="1762.6" r="4.4"/>
<circle cx="188.0" cy="1762.4" r="4.4"/>
<circle cx="188.0" cy="1762.4" r="4.4"/>
<circle cx="190.0" cy="1761.7" r="4.4"/>
<circle cx="192.9" cy="1760.7" r="4.4"/>
<circle cx="194.1" cy="1760.3" r="4.4"/>
<circle cx="196.3" cy="1759.5" r="4.4"/>
<circle cx="196.8" cy="1759.3" r="4.4"/>
<circle cx="203.3" cy="1757.1" r="4.4"/>
<circle cx="204.9" cy="1756.6" r="4.4"/>
<circle cx="211.0" cy="1754.4" r="4.4"/>
<circle cx="212.1" cy="1754.1" r="4.4"/>
<circle cx="213.9" cy="1753.4" r="4.4"/>
<circle cx="216.0" cy="1752.7" r="4.4"/>
<circle cx="217.0" cy="1752.4" r="4.4"/>
<circle cx="220.1" cy="1751.3" r="4.4"/>
<circle cx="222.9" cy="1750.4" r="4.4"/>
<circle cx="224.1" cy="1750.0" r="4.4"/>
<circle cx="224.8" cy="1749.7" r="4.4"/>
<circle cx="227.3" cy="1748.8" r="4.4"/>
<circle cx="227.4" cy="1748.8" r="4.4"/>
<circle cx="228.4" cy="1748.5" r="4.4"/>
<circle cx="229.5" cy="1748.1" r="4.4"/>
<circle cx="232.0" cy="1747.2" r="4.4"/>
<circle cx="235.9" cy="1745.9" r="4.4"/>
<circle cx="236.3" cy="1745.8" r="4.4"/>
<circle cx="236.7" cy="1745.6" r="4.4"/>
<circle cx="241.4" cy="1744.0" r="4.4"/>
<circle cx="243.3" cy="1743.4" r="4.4"/>
<circle cx="243.7" cy="1743.2" r="4.4"/>
<circle cx="243.8" cy="1743.2" r="4.4"/>
<circle cx="244.7" cy="1742.9" r="4.4"/>
<circle cx="249.1" cy="1741.4" r="4.4"/>
<circle cx="251.4" cy="1740.6" r="4.4"/>
<circle cx="256.4" cy="1738.9" r="4.4"/>
<circle cx="257.5" cy="1738.5" r="4.4"/>
<circle cx="257.9" cy="1738.3" r="4.4"/>
<circle cx="264.3" cy="1736.1" r="4.4"/>
<circle cx="268.3" cy="1734.8" r="4.4"/>
<circle cx="270.1" cy="1734.1" r="4.4"/>
<circle cx="270.4" cy="1734.0" r="4.4"/>
<circle cx="270.7" cy="1733.9" r="4.4"/>
<circle cx="276.3" cy="1732.0" r="4.4"/>
<circle cx="277.3" cy="1731.7" r="4.4"/>
<circle cx="277.6" cy="1731.6" r="4.4"/>
<circle cx="277.7" cy="1731.6" r="4.4"/>
<circle cx="278.0" cy="1731.4" r="4.4"/>
<circle cx="278.2" cy="1731.4" r="4.4"/>
<circle cx="278.9" cy="1731.1" r="4.4"/>
<circle cx="279.2" cy="1731.0" r="4.4"/>
<circle cx="279.4" cy="1731.0" r="4.4"/>
<circle cx="280.3" cy="1730.6" r="4.4"/>
<circle cx="280.5" cy="1730.6" r="4.4"/>
<circle cx="282.0" cy="1730.1" r="4.4"/>
<circle cx="283.9" cy="1729.4" r="4.4"/>
<circle cx="284.7" cy="1729.1" r="4.4"/>
<circle cx="284.9" cy="1729.1" r="4.4"/>
<circle cx="285.9" cy="1728.7" r="4.4"/>
<circle cx="287.1" cy="1728.3" r="4.4"/>
<circle cx="287.6" cy="1728.1" r="4.4"/>
<circle cx="289.1" cy="1727.6" r="4.4"/>
<circle cx="289.8" cy="1727.4" r="4.4"/>
<circle cx="290.0" cy="1727.3" r="4.4"/>
<circle cx="290.1" cy="1727.3" r="4.4"/>
<circle cx="290.2" cy="1727.3" r="4.4"/>
<circle cx="291.2" cy="1726.9" r="4.4"/>
<circle cx="293.9" cy="1726.0" r="4.4"/>
<circle cx="295.3" cy="1725.5" r="4.4"/>
<circle cx="296.6" cy="1725.1" r="4.4"/>
<circle cx="297.7" cy="1724.7" r="4.4"/>
<circle cx="301.8" cy="1723.3" r="4.4"/>
<circle cx="302.3" cy="1723.1" r="4.4"/>
<circle cx="307.8" cy="1721.2" r="4.4"/>
<circle cx="308.3" cy="1721.0" r="4.4"/>
<circle cx="308.6" cy="1720.9" r="4.4"/>
<circle cx="311.2" cy="1720.0" r="4.4"/>
<circle cx="312.6" cy="1719.5" r="4.4"/>
<circle cx="312.9" cy="1719.4" r="4.4"/>
<circle cx="312.9" cy="1719.4" r="4.4"/>
<circle cx="313.2" cy="1719.3" r="4.4"/>
<circle cx="315.1" cy="1718.7" r="4.4"/>
<circle cx="317.0" cy="1718.0" r="4.4"/>
<circle cx="318.6" cy="1717.5" r="4.4"/>
<circle cx="321.0" cy="1716.7" r="4.4"/>
<circle cx="321.3" cy="1716.6" r="4.4"/>
<circle cx="321.5" cy="1716.5" r="4.4"/>
<circle cx="322.0" cy="1716.3" r="4.4"/>
<circle cx="322.5" cy="1716.1" r="4.4"/>
<circle cx="322.6" cy="1716.1" r="4.4"/>
<circle cx="322.8" cy="1716.0" r="4.4"/>
<circle cx="323.4" cy="1715.8" r="4.4"/>
<circle cx="323.8" cy="1715.7" r="4.4"/>
<circle cx="324.0" cy="1715.6" r="4.4"/>
<circle cx="324.3" cy="1715.5" r="4.4"/>
<circle cx="324.9" cy="1715.3" r="4.4"/>
<circle cx="325.2" cy="1715.2" r="4.4"/>
<circle cx="325.2" cy="1715.2" r="4.4"/>
<circle cx="326.0" cy="1715.0" r="4.4"/>
<circle cx="326.1" cy="1714.9" r="4.4"/>
<circle cx="326.3" cy="1714.8" r="4.4"/>
<circle cx="326.3" cy="1714.8" r="4.4"/>
<circle cx="326.6" cy="1714.7" r="4.4"/>
<circle cx="326.6" cy="1714.7" r="4.4"/>
<circle cx="326.6" cy="1714.7" r="4.4"/>
<circle cx="326.9" cy="1714.6" r="4.4"/>
<circle cx="327.1" cy="1714.6" r="4.4"/>
<circle cx="327.2" cy="1714.5" r="4.4"/>
<circle cx="327.4" cy="1714.5" r="4.4"/>
<circle cx="327.6" cy="1714.4" r="4.4"/>
<circle cx="330.9" cy="1713.2" r="4.4"/>
<circle cx="331.3" cy="1713.1" r="4.4"/>
<circle cx="331.6" cy="1713.0" r="4.4"/>
<circle cx="331.8" cy="1712.9" r="4.4"/>
<circle cx="332.2" cy="1712.8" r="4.4"/>
<circle cx="332.7" cy="1712.6" r="4.4"/>
<circle cx="333.6" cy="1712.3" r="4.4"/>
<circle cx="333.8" cy="1712.2" r="4.4"/>
<circle cx="334.3" cy="1712.1" r="4.4"/>
<circle cx="335.1" cy="1711.8" r="4.4"/>
<circle cx="335.5" cy="1711.7" r="4.4"/>
<circle cx="335.5" cy="1711.7" r="4.4"/>
<circle cx="336.3" cy="1711.4" r="4.4"/>
<circle cx="336.9" cy="1711.2" r="4.4"/>
<circle cx="337.1" cy="1711.1" r="4.4"/>
<circle cx="337.1" cy="1711.1" r="4.4"/>
<circle cx="337.2" cy="1711.1" r="4.4"/>
<circle cx="337.8" cy="1710.9" r="4.4"/>
<circle cx="338.5" cy="1710.7" r="4.4"/>
<circle cx="338.8" cy="1710.6" r="4.4"/>
<circle cx="339.0" cy="1710.5" r="4.4"/>
<circle cx="339.9" cy="1710.2" r="4.4"/>
<circle cx="340.0" cy="1710.1" r="4.4"/>
<circle cx="340.6" cy="1709.9" r="4.4"/>
<circle cx="341.4" cy="1709.7" r="4.4"/>
<circle cx="341.6" cy="1709.6" r="4.4"/>
<circle cx="341.9" cy="1709.5" r="4.4"/>
<circle cx="342.4" cy="1709.3" r="4.4"/>
<circle cx="344.0" cy="1708.8" r="4.4"/>
<circle cx="344.0" cy="1708.7" r="4.4"/>
<circle cx="344.1" cy="1708.7" r="4.4"/>
<circle cx="344.1" cy="1708.7" r="4.4"/>
<circle cx="345.1" cy="1708.4" r="4.4"/>
<circle cx="345.5" cy="1708.2" r="4.4"/>
<circle cx="346.4" cy="1707.9" r="4.4"/>
<circle cx="346.6" cy="1707.9" r="4.4"/>
<circle cx="346.8" cy="1707.8" r="4.4"/>
<circle cx="346.9" cy="1707.8" r="4.4"/>
<circle cx="346.9" cy="1707.8" r="4.4"/>
<circle cx="347.1" cy="1707.7" r="4.4"/>
<circle cx="347.2" cy="1707.7" r="4.4"/>
<circle cx="347.4" cy="1707.6" r="4.4"/>
<circle cx="349.2" cy="1707.0" r="4.4"/>
<circle cx="349.4" cy="1706.9" r="4.4"/>
<circle cx="349.6" cy="1706.8" r="4.4"/>
<circle cx="349.9" cy="1706.7" r="4.4"/>
<circle cx="350.0" cy="1706.7" r="4.4"/>
<circle cx="350.2" cy="1706.6" r="4.4"/>
<circle cx="350.4" cy="1706.6" r="4.4"/>
<circle cx="350.9" cy="1706.4" r="4.4"/>
<circle cx="350.9" cy="1706.4" r="4.4"/>
<circle cx="350.9" cy="1706.4" r="4.4"/>
<circle cx="351.2" cy="1706.3" r="4.4"/>
<circle cx="351.3" cy="1706.3" r="4.4"/>
<circle cx="352.1" cy="1706.0" r="4.4"/>
<circle cx="352.7" cy="1705.8" r="4.4"/>
<circle cx="353.2" cy="1705.6" r="4.4"/>
<circle cx="353.5" cy="1705.5" r="4.4"/>
<circle cx="353.6" cy="1705.5" r="4.4"/>
<circle cx="354.0" cy="1705.3" r="4.4"/>
<circle cx="354.3" cy="1705.2" r="4.4"/>
<circle cx="354.9" cy="1705.0" r="4.4"/>
<circle cx="355.7" cy="1704.7" r="4.4"/>
<circle cx="356.0" cy="1704.6" r="4.4"/>
<circle cx="356.2" cy="1704.6" r="4.4"/>
<circle cx="356.4" cy="1704.5" r="4.4"/>
<circle cx="356.7" cy="1704.4" r="4.4"/>
<circle cx="356.9" cy="1704.3" r="4.4"/>
<circle cx="357.0" cy="1704.3" r="4.4"/>
<circle cx="358.0" cy="1704.0" r="4.4"/>
<circle cx="358.1" cy="1703.9" r="4.4"/>
<circle cx="358.1" cy="1703.9" r="4.4"/>
<circle cx="358.2" cy="1703.9" r="4.4"/>
<circle cx="358.4" cy="1703.8" r="4.4"/>
<circle cx="358.9" cy="1703.7" r="4.4"/>
<circle cx="358.9" cy="1703.6" r="4.4"/>
<circle cx="359.0" cy="1703.6" r="4.4"/>
<circle cx="359.1" cy="1703.6" r="4.4"/>
<circle cx="359.1" cy="1703.6" r="4.4"/>
<circle cx="359.2" cy="1703.5" r="4.4"/>
<circle cx="359.6" cy="1703.4" r="4.4"/>
<circle cx="361.5" cy="1702.8" r="4.4"/>
<circle cx="362.4" cy="1702.4" r="4.4"/>
<circle cx="362.6" cy="1702.4" r="4.4"/>
<circle cx="362.7" cy="1702.3" r="4.4"/>
<circle cx="362.9" cy="1702.3" r="4.4"/>
<circle cx="363.6" cy="1702.0" r="4.4"/>
<circle cx="363.9" cy="1701.9" r="4.4"/>
<circle cx="364.2" cy="1701.8" r="4.4"/>
<circle cx="364.5" cy="1701.7" r="4.4"/>
<circle cx="365.2" cy="1701.5" r="4.4"/>
<circle cx="366.9" cy="1700.9" r="4.4"/>
<circle cx="367.7" cy="1700.6" r="4.4"/>
<circle cx="368.7" cy="1700.3" r="4.4"/>
<circle cx="368.9" cy="1700.2" r="4.4"/>
<circle cx="369.4" cy="1700.0" r="4.4"/>
<circle cx="369.5" cy="1700.0" r="4.4"/>
<circle cx="369.7" cy="1699.9" r="4.4"/>
<circle cx="369.9" cy="1699.9" r="4.4"/>
<circle cx="370.1" cy="1699.8" r="4.4"/>
<circle cx="370.3" cy="1699.7" r="4.4"/>
<circle cx="370.4" cy="1699.7" r="4.4"/>
<circle cx="370.5" cy="1699.6" r="4.4"/>
<circle cx="370.6" cy="1699.6" r="4.4"/>
<circle cx="370.7" cy="1699.6" r="4.4"/>
<circle cx="370.7" cy="1699.6" r="4.4"/>
<circle cx="371.3" cy="1699.4" r="4.4"/>
<circle cx="371.5" cy="1699.3" r="4.4"/>
<circle cx="371.5" cy="1699.3" r="4.4"/>
<circle cx="371.7" cy="1699.2" r="4.4"/>
<circle cx="371.9" cy="1699.2" r="4.4"/>
<circle cx="372.0" cy="1699.1" r="4.4"/>
<circle cx="372.9" cy="1698.8" r="4.4"/>
<circle cx="372.9" cy="1698.8" r="4.4"/>
<circle cx="373.1" cy="1698.8" r="4.4"/>
<circle cx="373.1" cy="1698.7" r="4.4"/>
<circle cx="373.6" cy="1698.6" r="4.4"/>
<circle cx="374.1" cy="1698.4" r="4.4"/>
<circle cx="374.5" cy="1698.3" r="4.4"/>
<circle cx="375.2" cy="1698.1" r="4.4"/>
<circle cx="376.0" cy="1697.8" r="4.4"/>
<circle cx="376.1" cy="1697.7" r="4.4"/>
<circle cx="376.3" cy="1697.7" r="4.4"/>
<circle cx="376.6" cy="1697.6" r="4.4"/>
<circle cx="376.6" cy="1697.6" r="4.4"/>
<circle cx="376.6" cy="1697.5" r="4.4"/>
<circle cx="376.9" cy="1697.4" r="4.4"/>
<circle cx="378.1" cy="1697.1" r="4.4"/>
<circle cx="378.1" cy="1697.0" r="4.4"/>
<circle cx="378.2" cy="1697.0" r="4.4"/>
<circle cx="378.5" cy="1696.9" r="4.4"/>
<circle cx="378.6" cy="1696.9" r="4.4"/>
<circle cx="378.8" cy="1696.8" r="4.4"/>
<circle cx="378.8" cy="1696.8" r="4.4"/>
<circle cx="379.0" cy="1696.7" r="4.4"/>
<circle cx="379.1" cy="1696.7" r="4.4"/>
<circle cx="379.3" cy="1696.6" r="4.4"/>
<circle cx="379.8" cy="1696.5" r="4.4"/>
<circle cx="379.9" cy="1696.4" r="4.4"/>
<circle cx="380.0" cy="1696.4" r="4.4"/>
<circle cx="380.1" cy="1696.4" r="4.4"/>
<circle cx="380.2" cy="1696.3" r="4.4"/>
<circle cx="381.0" cy="1696.1" r="4.4"/>
<circle cx="381.5" cy="1695.9" r="4.4"/>
<circle cx="381.8" cy="1695.8" r="4.4"/>
<circle cx="382.0" cy="1695.7" r="4.4"/>
<circle cx="382.2" cy="1695.6" r="4.4"/>
<circle cx="382.5" cy="1695.5" r="4.4"/>
<circle cx="382.7" cy="1695.5" r="4.4"/>
<circle cx="383.9" cy="1695.1" r="4.4"/>
<circle cx="384.0" cy="1695.0" r="4.4"/>
<circle cx="384.0" cy="1695.0" r="4.4"/>
<circle cx="384.4" cy="1694.9" r="4.4"/>
<circle cx="384.5" cy="1694.9" r="4.4"/>
<circle cx="384.7" cy="1694.8" r="4.4"/>
<circle cx="385.4" cy="1694.5" r="4.4"/>
<circle cx="385.6" cy="1694.4" r="4.4"/>
<circle cx="386.0" cy="1694.3" r="4.4"/>
<circle cx="386.5" cy="1694.2" r="4.4"/>
<circle cx="386.7" cy="1694.1" r="4.4"/>
<circle cx="386.9" cy="1694.0" r="4.4"/>
<circle cx="386.9" cy="1694.0" r="4.4"/>
<circle cx="387.6" cy="1693.8" r="4.4"/>
<circle cx="387.7" cy="1693.7" r="4.4"/>
<circle cx="388.1" cy="1693.6" r="4.4"/>
<circle cx="388.3" cy="1693.6" r="4.4"/>
<circle cx="388.6" cy="1693.4" r="4.4"/>
<circle cx="388.7" cy="1693.4" r="4.4"/>
<circle cx="388.7" cy="1693.4" r="4.4"/>
<circle cx="389.2" cy="1693.2" r="4.4"/>
<circle cx="389.5" cy="1693.1" r="4.4"/>
<circle cx="389.9" cy="1693.0" r="4.4"/>
<circle cx="390.6" cy="1692.8" r="4.4"/>
<circle cx="391.0" cy="1692.6" r="4.4"/>
<circle cx="391.1" cy="1692.6" r="4.4"/>
<circle cx="391.2" cy="1692.5" r="4.4"/>
<circle cx="391.2" cy="1692.5" r="4.4"/>
<circle cx="391.2" cy="1692.5" r="4.4"/>
<circle cx="391.6" cy="1692.4" r="4.4"/>
<circle cx="391.7" cy="1692.4" r="4.4"/>
<circle cx="391.7" cy="1692.4" r="4.4"/>
<circle cx="391.8" cy="1692.3" r="4.4"/>
<circle cx="391.9" cy="1692.3" r="4.4"/>
<circle cx="392.1" cy="1692.2" r="4.4"/>
<circle cx="392.4" cy="1692.1" r="4.4"/>
<circle cx="392.4" cy="1692.1" r="4.4"/>
<circle cx="392.5" cy="1692.1" r="4.4"/>
<circle cx="392.6" cy="1692.1" r="4.4"/>
<circle cx="392.6" cy="1692.1" r="4.4"/>
<circle cx="392.7" cy="1692.0" r="4.4"/>
<circle cx="392.8" cy="1692.0" r="4.4"/>
<circle cx="393.0" cy="1691.9" r="4.4"/>
<circle cx="393.2" cy="1691.9" r="4.4"/>
<circle cx="393.3" cy="1691.8" r="4.4"/>
<circle cx="393.3" cy="1691.8" r="4.4"/>
<circle cx="393.7" cy="1691.7" r="4.4"/>
<circle cx="393.7" cy="1691.7" r="4.4"/>
<circle cx="393.8" cy="1691.7" r="4.4"/>
<circle cx="394.1" cy="1691.5" r="4.4"/>
<circle cx="394.3" cy="1691.5" r="4.4"/>
<circle cx="394.5" cy="1691.4" r="4.4"/>
<circle cx="394.7" cy="1691.4" r="4.4"/>
<circle cx="395.6" cy="1691.0" r="4.4"/>
<circle cx="395.6" cy="1691.0" r="4.4"/>
<circle cx="395.7" cy="1691.0" r="4.4"/>
<circle cx="395.9" cy="1690.9" r="4.4"/>
<circle cx="396.3" cy="1690.8" r="4.4"/>
<circle cx="396.3" cy="1690.8" r="4.4"/>
<circle cx="396.4" cy="1690.8" r="4.4"/>
<circle cx="396.5" cy="1690.7" r="4.4"/>
<circle cx="396.5" cy="1690.7" r="4.4"/>
<circle cx="397.0" cy="1690.5" r="4.4"/>
<circle cx="397.1" cy="1690.5" r="4.4"/>
<circle cx="397.4" cy="1690.4" r="4.4"/>
<circle cx="398.0" cy="1690.2" r="4.4"/>
<circle cx="398.1" cy="1690.2" r="4.4"/>
<circle cx="398.4" cy="1690.1" r="4.4"/>
<circle cx="398.7" cy="1690.0" r="4.4"/>
<circle cx="398.8" cy="1689.9" r="4.4"/>
<circle cx="399.6" cy="1689.6" r="4.4"/>
<circle cx="399.7" cy="1689.6" r="4.4"/>
<circle cx="400.0" cy="1689.5" r="4.4"/>
<circle cx="400.2" cy="1689.4" r="4.4"/>
<circle cx="400.3" cy="1689.4" r="4.4"/>
<circle cx="400.3" cy="1689.4" r="4.4"/>
<circle cx="400.5" cy="1689.3" r="4.4"/>
<circle cx="400.7" cy="1689.3" r="4.4"/>
<circle cx="401.0" cy="1689.2" r="4.4"/>
<circle cx="401.0" cy="1689.2" r="4.4"/>
<circle cx="401.4" cy="1689.0" r="4.4"/>
<circle cx="401.7" cy="1688.9" r="4.4"/>
<circle cx="402.1" cy="1688.8" r="4.4"/>
<circle cx="402.8" cy="1688.6" r="4.4"/>
<circle cx="402.8" cy="1688.5" r="4.4"/>
<circle cx="403.4" cy="1688.3" r="4.4"/>
<circle cx="403.7" cy="1688.3" r="4.4"/>
<circle cx="404.1" cy="1688.1" r="4.4"/>
<circle cx="404.1" cy="1688.1" r="4.4"/>
<circle cx="404.2" cy="1688.1" r="4.4"/>
<circle cx="404.3" cy="1688.0" r="4.4"/>
<circle cx="404.6" cy="1687.9" r="4.4"/>
<circle cx="404.7" cy="1687.9" r="4.4"/>
<circle cx="405.2" cy="1687.7" r="4.4"/>
<circle cx="405.3" cy="1687.7" r="4.4"/>
<circle cx="405.3" cy="1687.7" r="4.4"/>
<circle cx="405.3" cy="1687.7" r="4.4"/>
<circle cx="405.6" cy="1687.6" r="4.4"/>
<circle cx="406.1" cy="1687.4" r="4.4"/>
<circle cx="406.3" cy="1687.4" r="4.4"/>
<circle cx="406.5" cy="1687.3" r="4.4"/>
<circle cx="406.7" cy="1687.2" r="4.4"/>
<circle cx="407.1" cy="1687.1" r="4.4"/>
<circle cx="407.4" cy="1687.0" r="4.4"/>
<circle cx="408.3" cy="1686.7" r="4.4"/>
<circle cx="409.1" cy="1686.4" r="4.4"/>
<circle cx="409.2" cy="1686.3" r="4.4"/>
<circle cx="409.5" cy="1686.2" r="4.4"/>
<circle cx="410.2" cy="1686.0" r="4.4"/>
<circle cx="410.5" cy="1685.9" r="4.4"/>
<circle cx="410.5" cy="1685.9" r="4.4"/>
<circle cx="410.7" cy="1685.8" r="4.4"/>
<circle cx="410.8" cy="1685.8" r="4.4"/>
<circle cx="411.0" cy="1685.7" r="4.4"/>
<circle cx="411.3" cy="1685.6" r="4.4"/>
<circle cx="411.5" cy="1685.6" r="4.4"/>
<circle cx="412.2" cy="1685.3" r="4.4"/>
<circle cx="412.3" cy="1685.3" r="4.4"/>
<circle cx="412.4" cy="1685.3" r="4.4"/>
<circle cx="412.7" cy="1685.2" r="4.4"/>
<circle cx="412.7" cy="1685.2" r="4.4"/>
<circle cx="412.9" cy="1685.1" r="4.4"/>
<circle cx="413.1" cy="1685.0" r="4.4"/>
<circle cx="413.2" cy="1685.0" r="4.4"/>
<circle cx="413.2" cy="1685.0" r="4.4"/>
<circle cx="414.1" cy="1684.7" r="4.4"/>
<circle cx="414.2" cy="1684.6" r="4.4"/>
<circle cx="414.6" cy="1684.5" r="4.4"/>
<circle cx="414.6" cy="1684.5" r="4.4"/>
<circle cx="414.8" cy="1684.4" r="4.4"/>
<circle cx="415.4" cy="1684.2" r="4.4"/>
<circle cx="415.6" cy="1684.2" r="4.4"/>
<circle cx="415.9" cy="1684.1" r="4.4"/>
<circle cx="416.3" cy="1683.9" r="4.4"/>
<circle cx="416.7" cy="1683.8" r="4.4"/>
<circle cx="417.1" cy="1683.6" r="4.4"/>
<circle cx="417.5" cy="1683.5" r="4.4"/>
<circle cx="417.9" cy="1683.4" r="4.4"/>
<circle cx="417.9" cy="1683.4" r="4.4"/>
<circle cx="418.0" cy="1683.3" r="4.4"/>
<circle cx="418.5" cy="1683.2" r="4.4"/>
<circle cx="418.5" cy="1683.2" r="4.4"/>
<circle cx="418.6" cy="1683.1" r="4.4"/>
<circle cx="419.3" cy="1682.9" r="4.4"/>
<circle cx="419.7" cy="1682.8" r="4.4"/>
<circle cx="420.0" cy="1682.6" r="4.4"/>
<circle cx="420.9" cy="1682.4" r="4.4"/>
<circle cx="421.8" cy="1682.0" r="4.4"/>
<circle cx="422.0" cy="1682.0" r="4.4"/>
<circle cx="422.1" cy="1681.9" r="4.4"/>
<circle cx="422.2" cy="1681.9" r="4.4"/>
<circle cx="422.3" cy="1681.9" r="4.4"/>
<circle cx="422.6" cy="1681.8" r="4.4"/>
<circle cx="422.7" cy="1681.7" r="4.4"/>
<circle cx="423.0" cy="1681.6" r="4.4"/>
<circle cx="423.3" cy="1681.5" r="4.4"/>
<circle cx="423.3" cy="1681.5" r="4.4"/>
<circle cx="423.4" cy="1681.5" r="4.4"/>
<circle cx="423.5" cy="1681.4" r="4.4"/>
<circle cx="423.5" cy="1681.4" r="4.4"/>
<circle cx="423.9" cy="1681.3" r="4.4"/>
<circle cx="424.1" cy="1681.2" r="4.4"/>
<circle cx="424.3" cy="1681.2" r="4.4"/>
<circle cx="424.7" cy="1681.0" r="4.4"/>
<circle cx="424.8" cy="1681.0" r="4.4"/>
<circle cx="425.0" cy="1680.9" r="4.4"/>
<circle cx="425.0" cy="1680.9" r="4.4"/>
<circle cx="425.2" cy="1680.9" r="4.4"/>
<circle cx="425.8" cy="1680.7" r="4.4"/>
<circle cx="425.9" cy="1680.6" r="4.4"/>
<circle cx="426.3" cy="1680.5" r="4.4"/>
<circle cx="426.3" cy="1680.5" r="4.4"/>
<circle cx="426.4" cy="1680.4" r="4.4"/>
<circle cx="426.7" cy="1680.4" r="4.4"/>
<circle cx="426.7" cy="1680.3" r="4.4"/>
<circle cx="427.4" cy="1680.1" r="4.4"/>
<circle cx="427.6" cy="1680.0" r="4.4"/>
<circle cx="427.9" cy="1679.9" r="4.4"/>
<circle cx="428.3" cy="1679.8" r="4.4"/>
<circle cx="428.3" cy="1679.8" r="4.4"/>
<circle cx="428.5" cy="1679.7" r="4.4"/>
<circle cx="428.6" cy="1679.7" r="4.4"/>
<circle cx="428.7" cy="1679.7" r="4.4"/>
<circle cx="429.1" cy="1679.5" r="4.4"/>
<circle cx="429.7" cy="1679.3" r="4.4"/>
<circle cx="430.5" cy="1679.0" r="4.4"/>
<circle cx="430.6" cy="1679.0" r="4.4"/>
<circle cx="430.8" cy="1678.9" r="4.4"/>
<circle cx="431.2" cy="1678.8" r="4.4"/>
<circle cx="431.2" cy="1678.8" r="4.4"/>
<circle cx="431.3" cy="1678.8" r="4.4"/>
<circle cx="432.0" cy="1678.5" r="4.4"/>
<circle cx="432.0" cy="1678.5" r="4.4"/>
<circle cx="432.3" cy="1678.4" r="4.4"/>
<circle cx="432.5" cy="1678.4" r="4.4"/>
<circle cx="432.5" cy="1678.4" r="4.4"/>
<circle cx="433.1" cy="1678.2" r="4.4"/>
<circle cx="433.3" cy="1678.1" r="4.4"/>
<circle cx="433.6" cy="1678.0" r="4.4"/>
<circle cx="433.9" cy="1677.9" r="4.4"/>
<circle cx="434.0" cy="1677.8" r="4.4"/>
<circle cx="434.2" cy="1677.8" r="4.4"/>
<circle cx="434.3" cy="1677.7" r="4.4"/>
<circle cx="434.4" cy="1677.7" r="4.4"/>
<circle cx="434.6" cy="1677.6" r="4.4"/>
<circle cx="434.9" cy="1677.5" r="4.4"/>
<circle cx="435.0" cy="1677.5" r="4.4"/>
<circle cx="435.3" cy="1677.4" r="4.4"/>
<circle cx="435.5" cy="1677.3" r="4.4"/>
<circle cx="435.5" cy="1677.3" r="4.4"/>
<circle cx="435.8" cy="1677.2" r="4.4"/>
<circle cx="435.9" cy="1677.2" r="4.4"/>
<circle cx="435.9" cy="1677.2" r="4.4"/>
<circle cx="436.8" cy="1676.9" r="4.4"/>
<circle cx="437.2" cy="1676.8" r="4.4"/>
<circle cx="437.4" cy="1676.7" r="4.4"/>
<circle cx="437.7" cy="1676.6" r="4.4"/>
<circle cx="438.1" cy="1676.4" r="4.4"/>
<circle cx="438.1" cy="1676.4" r="4.4"/>
<circle cx="438.1" cy="1676.4" r="4.4"/>
<circle cx="438.3" cy="1676.4" r="4.4"/>
<circle cx="438.4" cy="1676.3" r="4.4"/>
<circle cx="438.5" cy="1676.3" r="4.4"/>
<circle cx="438.5" cy="1676.3" r="4.4"/>
<circle cx="438.7" cy="1676.2" r="4.4"/>
<circle cx="439.1" cy="1676.1" r="4.4"/>
<circle cx="439.7" cy="1675.9" r="4.4"/>
<circle cx="439.9" cy="1675.8" r="4.4"/>
<circle cx="440.2" cy="1675.7" r="4.4"/>
<circle cx="440.2" cy="1675.7" r="4.4"/>
<circle cx="440.6" cy="1675.6" r="4.4"/>
<circle cx="441.0" cy="1675.4" r="4.4"/>
<circle cx="441.1" cy="1675.4" r="4.4"/>
<circle cx="441.2" cy="1675.4" r="4.4"/>
<circle cx="441.2" cy="1675.3" r="4.4"/>
<circle cx="441.5" cy="1675.3" r="4.4"/>
<circle cx="441.5" cy="1675.3" r="4.4"/>
<circle cx="441.9" cy="1675.1" r="4.4"/>
<circle cx="442.2" cy="1675.0" r="4.4"/>
<circle cx="442.5" cy="1674.9" r="4.4"/>
<circle cx="442.8" cy="1674.8" r="4.4"/>
<circle cx="443.1" cy="1674.7" r="4.4"/>
<circle cx="443.2" cy="1674.7" r="4.4"/>
<circle cx="443.2" cy="1674.7" r="4.4"/>
<circle cx="443.3" cy="1674.7" r="4.4"/>
<circle cx="443.7" cy="1674.5" r="4.4"/>
<circle cx="443.9" cy="1674.4" r="4.4"/>
<circle cx="444.3" cy="1674.3" r="4.4"/>
<circle cx="444.4" cy="1674.3" r="4.4"/>
<circle cx="444.4" cy="1674.3" r="4.4"/>
<circle cx="445.3" cy="1673.9" r="4.4"/>
<circle cx="445.4" cy="1673.9" r="4.4"/>
<circle cx="445.5" cy="1673.9" r="4.4"/>
<circle cx="445.6" cy="1673.8" r="4.4"/>
<circle cx="446.0" cy="1673.7" r="4.4"/>
<circle cx="446.2" cy="1673.6" r="4.4"/>
<circle cx="446.3" cy="1673.6" r="4.4"/>
<circle cx="446.6" cy="1673.5" r="4.4"/>
<circle cx="446.6" cy="1673.5" r="4.4"/>
<circle cx="447.3" cy="1673.3" r="4.4"/>
<circle cx="447.4" cy="1673.2" r="4.4"/>
<circle cx="447.4" cy="1673.2" r="4.4"/>
<circle cx="448.0" cy="1673.0" r="4.4"/>
<circle cx="448.0" cy="1673.0" r="4.4"/>
<circle cx="448.1" cy="1673.0" r="4.4"/>
<circle cx="448.2" cy="1673.0" r="4.4"/>
<circle cx="449.1" cy="1672.7" r="4.4"/>
<circle cx="449.7" cy="1672.4" r="4.4"/>
<circle cx="451.7" cy="1671.8" r="4.4"/>
<circle cx="451.7" cy="1671.7" r="4.4"/>
<circle cx="452.0" cy="1671.6" r="4.4"/>
<circle cx="452.1" cy="1671.6" r="4.4"/>
<circle cx="452.3" cy="1671.5" r="4.4"/>
<circle cx="452.3" cy="1671.5" r="4.4"/>
<circle cx="452.6" cy="1671.4" r="4.4"/>
<circle cx="453.1" cy="1671.3" r="4.4"/>
<circle cx="453.3" cy="1671.2" r="4.4"/>
<circle cx="453.6" cy="1671.1" r="4.4"/>
<circle cx="453.7" cy="1671.1" r="4.4"/>
<circle cx="453.8" cy="1671.0" r="4.4"/>
<circle cx="453.9" cy="1671.0" r="4.4"/>
<circle cx="453.9" cy="1671.0" r="4.4"/>
<circle cx="454.9" cy="1670.7" r="4.4"/>
<circle cx="455.4" cy="1670.5" r="4.4"/>
<circle cx="455.7" cy="1670.4" r="4.4"/>
<circle cx="455.8" cy="1670.4" r="4.4"/>
<circle cx="456.3" cy="1670.2" r="4.4"/>
<circle cx="456.6" cy="1670.1" r="4.4"/>
<circle cx="457.4" cy="1669.8" r="4.4"/>
<circle cx="457.4" cy="1669.8" r="4.4"/>
<circle cx="457.9" cy="1669.6" r="4.4"/>
<circle cx="458.1" cy="1669.6" r="4.4"/>
<circle cx="458.1" cy="1669.6" r="4.4"/>
<circle cx="458.2" cy="1669.5" r="4.4"/>
<circle cx="458.5" cy="1669.4" r="4.4"/>
<circle cx="458.9" cy="1669.3" r="4.4"/>
<circle cx="459.1" cy="1669.2" r="4.4"/>
<circle cx="459.1" cy="1669.2" r="4.4"/>
<circle cx="459.5" cy="1669.1" r="4.4"/>
<circle cx="459.6" cy="1669.1" r="4.4"/>
<circle cx="459.9" cy="1668.9" r="4.4"/>
<circle cx="460.1" cy="1668.9" r="4.4"/>
<circle cx="460.7" cy="1668.7" r="4.4"/>
<circle cx="460.8" cy="1668.6" r="4.4"/>
<circle cx="461.0" cy="1668.6" r="4.4"/>
<circle cx="461.1" cy="1668.5" r="4.4"/>
<circle cx="461.4" cy="1668.4" r="4.4"/>
<circle cx="461.5" cy="1668.4" r="4.4"/>
<circle cx="461.6" cy="1668.4" r="4.4"/>
<circle cx="461.7" cy="1668.3" r="4.4"/>
<circle cx="462.1" cy="1668.2" r="4.4"/>
<circle cx="463.2" cy="1667.8" r="4.4"/>
<circle cx="463.3" cy="1667.8" r="4.4"/>
<circle cx="463.5" cy="1667.7" r="4.4"/>
<circle cx="463.8" cy="1667.6" r="4.4"/>
<circle cx="463.8" cy="1667.6" r="4.4"/>
<circle cx="464.0" cy="1667.5" r="4.4"/>
<circle cx="464.0" cy="1667.5" r="4.4"/>
<circle cx="464.3" cy="1667.4" r="4.4"/>
<circle cx="464.6" cy="1667.3" r="4.4"/>
<circle cx="465.0" cy="1667.2" r="4.4"/>
<circle cx="465.2" cy="1667.1" r="4.4"/>
<circle cx="465.5" cy="1667.0" r="4.4"/>
<circle cx="466.1" cy="1666.8" r="4.4"/>
<circle cx="466.4" cy="1666.7" r="4.4"/>
<circle cx="466.8" cy="1666.6" r="4.4"/>
<circle cx="466.8" cy="1666.6" r="4.4"/>
<circle cx="467.1" cy="1666.5" r="4.4"/>
<circle cx="467.3" cy="1666.4" r="4.4"/>
<circle cx="467.6" cy="1666.3" r="4.4"/>
<circle cx="467.6" cy="1666.3" r="4.4"/>
<circle cx="468.9" cy="1665.8" r="4.4"/>
<circle cx="469.1" cy="1665.8" r="4.4"/>
<circle cx="469.5" cy="1665.6" r="4.4"/>
<circle cx="469.9" cy="1665.5" r="4.4"/>
<circle cx="470.1" cy="1665.4" r="4.4"/>
<circle cx="470.5" cy="1665.3" r="4.4"/>
<circle cx="470.5" cy="1665.3" r="4.4"/>
<circle cx="471.1" cy="1665.1" r="4.4"/>
<circle cx="471.7" cy="1664.9" r="4.4"/>
<circle cx="471.9" cy="1664.8" r="4.4"/>
<circle cx="472.0" cy="1664.8" r="4.4"/>
<circle cx="472.8" cy="1664.5" r="4.4"/>
<circle cx="473.1" cy="1664.4" r="4.4"/>
<circle cx="473.4" cy="1664.3" r="4.4"/>
<circle cx="473.6" cy="1664.2" r="4.4"/>
<circle cx="474.0" cy="1664.1" r="4.4"/>
<circle cx="474.3" cy="1664.0" r="4.4"/>
<circle cx="474.4" cy="1663.9" r="4.4"/>
<circle cx="474.6" cy="1663.9" r="4.4"/>
<circle cx="474.6" cy="1663.9" r="4.4"/>
<circle cx="474.8" cy="1663.8" r="4.4"/>
<circle cx="474.8" cy="1663.8" r="4.4"/>
<circle cx="475.2" cy="1663.7" r="4.4"/>
<circle cx="475.5" cy="1663.6" r="4.4"/>
<circle cx="475.6" cy="1663.5" r="4.4"/>
<circle cx="475.8" cy="1663.5" r="4.4"/>
<circle cx="476.2" cy="1663.3" r="4.4"/>
<circle cx="476.3" cy="1663.3" r="4.4"/>
<circle cx="476.6" cy="1663.2" r="4.4"/>
<circle cx="476.8" cy="1663.1" r="4.4"/>
<circle cx="477.2" cy="1663.0" r="4.4"/>
<circle cx="477.3" cy="1662.9" r="4.4"/>
<circle cx="477.4" cy="1662.9" r="4.4"/>
<circle cx="477.4" cy="1662.9" r="4.4"/>
<circle cx="477.7" cy="1662.8" r="4.4"/>
<circle cx="478.0" cy="1662.7" r="4.4"/>
<circle cx="478.2" cy="1662.6" r="4.4"/>
<circle cx="478.3" cy="1662.6" r="4.4"/>
<circle cx="478.5" cy="1662.6" r="4.4"/>
<circle cx="478.5" cy="1662.6" r="4.4"/>
<circle cx="478.5" cy="1662.5" r="4.4"/>
<circle cx="478.8" cy="1662.5" r="4.4"/>
<circle cx="478.8" cy="1662.4" r="4.4"/>
<circle cx="478.9" cy="1662.4" r="4.4"/>
<circle cx="479.8" cy="1662.1" r="4.4"/>
<circle cx="480.7" cy="1661.8" r="4.4"/>
<circle cx="480.9" cy="1661.7" r="4.4"/>
<circle cx="481.6" cy="1661.5" r="4.4"/>
<circle cx="482.7" cy="1661.1" r="4.4"/>
<circle cx="484.2" cy="1660.6" r="4.4"/>
<circle cx="484.2" cy="1660.6" r="4.4"/>
<circle cx="484.3" cy="1660.6" r="4.4"/>
<circle cx="484.9" cy="1660.3" r="4.4"/>
<circle cx="486.2" cy="1659.9" r="4.4"/>
<circle cx="486.3" cy="1659.9" r="4.4"/>
<circle cx="487.0" cy="1659.6" r="4.4"/>
<circle cx="488.1" cy="1659.3" r="4.4"/>
<circle cx="488.6" cy="1659.1" r="4.4"/>
<circle cx="488.8" cy="1659.0" r="4.4"/>
<circle cx="488.9" cy="1659.0" r="4.4"/>
<circle cx="489.0" cy="1658.9" r="4.4"/>
<circle cx="490.0" cy="1658.6" r="4.4"/>
<circle cx="490.7" cy="1658.4" r="4.4"/>
<circle cx="490.8" cy="1658.3" r="4.4"/>
<circle cx="490.8" cy="1658.3" r="4.4"/>
<circle cx="491.0" cy="1658.3" r="4.4"/>
<circle cx="491.1" cy="1658.2" r="4.4"/>
<circle cx="491.2" cy="1658.2" r="4.4"/>
<circle cx="491.6" cy="1658.0" r="4.4"/>
<circle cx="491.8" cy="1658.0" r="4.4"/>
<circle cx="492.4" cy="1657.8" r="4.4"/>
<circle cx="492.6" cy="1657.7" r="4.4"/>
<circle cx="492.6" cy="1657.7" r="4.4"/>
<circle cx="493.6" cy="1657.4" r="4.4"/>
<circle cx="494.4" cy="1657.1" r="4.4"/>
<circle cx="494.5" cy="1657.1" r="4.4"/>
<circle cx="494.6" cy="1657.0" r="4.4"/>
<circle cx="494.9" cy="1656.9" r="4.4"/>
<circle cx="495.2" cy="1656.8" r="4.4"/>
<circle cx="495.5" cy="1656.7" r="4.4"/>
<circle cx="495.6" cy="1656.7" r="4.4"/>
<circle cx="496.2" cy="1656.5" r="4.4"/>
<circle cx="496.4" cy="1656.4" r="4.4"/>
<circle cx="497.0" cy="1656.2" r="4.4"/>
<circle cx="497.4" cy="1656.0" r="4.4"/>
<circle cx="498.2" cy="1655.8" r="4.4"/>
<circle cx="498.2" cy="1655.8" r="4.4"/>
<circle cx="498.7" cy="1655.6" r="4.4"/>
<circle cx="498.9" cy="1655.5" r="4.4"/>
<circle cx="500.2" cy="1655.1" r="4.4"/>
<circle cx="501.1" cy="1654.8" r="4.4"/>
<circle cx="502.5" cy="1654.3" r="4.4"/>
<circle cx="502.6" cy="1654.3" r="4.4"/>
<circle cx="502.6" cy="1654.3" r="4.4"/>
<circle cx="502.7" cy="1654.2" r="4.4"/>
<circle cx="502.8" cy="1654.2" r="4.4"/>
<circle cx="504.0" cy="1653.8" r="4.4"/>
<circle cx="504.4" cy="1653.6" r="4.4"/>
<circle cx="505.4" cy="1653.3" r="4.4"/>
<circle cx="505.5" cy="1653.3" r="4.4"/>
<circle cx="505.8" cy="1653.2" r="4.4"/>
<circle cx="506.7" cy="1652.9" r="4.4"/>
<circle cx="508.4" cy="1652.3" r="4.4"/>
<circle cx="509.4" cy="1651.9" r="4.4"/>
<circle cx="509.6" cy="1651.8" r="4.4"/>
<circle cx="509.9" cy="1651.8" r="4.4"/>
<circle cx="510.1" cy="1651.7" r="4.4"/>
<circle cx="510.3" cy="1651.6" r="4.4"/>
<circle cx="510.7" cy="1651.5" r="4.4"/>
<circle cx="510.9" cy="1651.4" r="4.4"/>
<circle cx="511.6" cy="1651.2" r="4.4"/>
<circle cx="511.8" cy="1651.1" r="4.4"/>
<circle cx="512.4" cy="1650.9" r="4.4"/>
<circle cx="512.5" cy="1650.9" r="4.4"/>
<circle cx="513.0" cy="1650.7" r="4.4"/>
<circle cx="513.9" cy="1650.4" r="4.4"/>
<circle cx="514.1" cy="1650.3" r="4.4"/>
<circle cx="514.2" cy="1650.3" r="4.4"/>
<circle cx="514.5" cy="1650.2" r="4.4"/>
<circle cx="515.6" cy="1649.8" r="4.4"/>
<circle cx="515.7" cy="1649.8" r="4.4"/>
<circle cx="515.9" cy="1649.7" r="4.4"/>
<circle cx="515.9" cy="1649.7" r="4.4"/>
<circle cx="516.1" cy="1649.6" r="4.4"/>
<circle cx="516.2" cy="1649.6" r="4.4"/>
<circle cx="516.7" cy="1649.4" r="4.4"/>
<circle cx="516.9" cy="1649.3" r="4.4"/>
<circle cx="517.1" cy="1649.3" r="4.4"/>
<circle cx="517.5" cy="1649.2" r="4.4"/>
<circle cx="518.7" cy="1648.7" r="4.4"/>
<circle cx="518.8" cy="1648.7" r="4.4"/>
<circle cx="519.7" cy="1648.4" r="4.4"/>
<circle cx="520.6" cy="1648.1" r="4.4"/>
<circle cx="521.3" cy="1647.8" r="4.4"/>
<circle cx="524.5" cy="1646.7" r="4.4"/>
<circle cx="525.3" cy="1646.5" r="4.4"/>
<circle cx="525.6" cy="1646.4" r="4.4"/>
<circle cx="526.0" cy="1646.2" r="4.4"/>
<circle cx="526.3" cy="1646.1" r="4.4"/>
<circle cx="526.6" cy="1646.0" r="4.4"/>
<circle cx="527.1" cy="1645.8" r="4.4"/>
<circle cx="527.3" cy="1645.8" r="4.4"/>
<circle cx="527.4" cy="1645.8" r="4.4"/>
<circle cx="527.5" cy="1645.7" r="4.4"/>
<circle cx="527.6" cy="1645.7" r="4.4"/>
<circle cx="528.4" cy="1645.4" r="4.4"/>
<circle cx="528.9" cy="1645.2" r="4.4"/>
<circle cx="529.8" cy="1644.9" r="4.4"/>
<circle cx="530.0" cy="1644.8" r="4.4"/>
<circle cx="530.0" cy="1644.8" r="4.4"/>
<circle cx="530.2" cy="1644.8" r="4.4"/>
<circle cx="533.0" cy="1643.8" r="4.4"/>
<circle cx="535.6" cy="1642.9" r="4.4"/>
<circle cx="536.6" cy="1642.6" r="4.4"/>
<circle cx="536.8" cy="1642.5" r="4.4"/>
<circle cx="536.8" cy="1642.5" r="4.4"/>
<circle cx="537.6" cy="1642.2" r="4.4"/>
<circle cx="539.6" cy="1641.6" r="4.4"/>
<circle cx="539.8" cy="1641.5" r="4.4"/>
<circle cx="540.2" cy="1641.4" r="4.4"/>
<circle cx="540.8" cy="1641.2" r="4.4"/>
<circle cx="543.0" cy="1640.4" r="4.4"/>
<circle cx="543.2" cy="1640.3" r="4.4"/>
<circle cx="546.4" cy="1639.2" r="4.4"/>
<circle cx="546.5" cy="1639.2" r="4.4"/>
<circle cx="546.6" cy="1639.2" r="4.4"/>
<circle cx="548.3" cy="1638.6" r="4.4"/>
<circle cx="550.0" cy="1638.0" r="4.4"/>
<circle cx="550.1" cy="1637.9" r="4.4"/>
<circle cx="550.3" cy="1637.9" r="4.4"/>
<circle cx="550.3" cy="1637.9" r="4.4"/>
<circle cx="551.5" cy="1637.5" r="4.4"/>
<circle cx="552.0" cy="1637.3" r="4.4"/>
<circle cx="554.1" cy="1636.6" r="4.4"/>
<circle cx="555.6" cy="1636.0" r="4.4"/>
<circle cx="556.1" cy="1635.9" r="4.4"/>
<circle cx="556.4" cy="1635.8" r="4.4"/>
<circle cx="557.2" cy="1635.5" r="4.4"/>
<circle cx="557.4" cy="1635.4" r="4.4"/>
<circle cx="557.5" cy="1635.4" r="4.4"/>
<circle cx="558.0" cy="1635.2" r="4.4"/>
<circle cx="558.1" cy="1635.2" r="4.4"/>
<circle cx="558.2" cy="1635.2" r="4.4"/>
<circle cx="558.3" cy="1635.1" r="4.4"/>
<circle cx="558.4" cy="1635.1" r="4.4"/>
<circle cx="558.8" cy="1635.0" r="4.4"/>
<circle cx="559.2" cy="1634.8" r="4.4"/>
<circle cx="559.5" cy="1634.7" r="4.4"/>
<circle cx="561.1" cy="1634.2" r="4.4"/>
<circle cx="561.6" cy="1634.0" r="4.4"/>
<circle cx="562.0" cy="1633.9" r="4.4"/>
<circle cx="563.2" cy="1633.4" r="4.4"/>
<circle cx="563.7" cy="1633.3" r="4.4"/>
<circle cx="568.1" cy="1631.8" r="4.4"/>
<circle cx="568.4" cy="1631.7" r="4.4"/>
<circle cx="569.4" cy="1631.3" r="4.4"/>
<circle cx="571.7" cy="1630.5" r="4.4"/>
<circle cx="573.1" cy="1630.1" r="4.4"/>
<circle cx="573.2" cy="1630.0" r="4.4"/>
<circle cx="576.6" cy="1628.8" r="4.4"/>
<circle cx="578.4" cy="1628.2" r="4.4"/>
<circle cx="578.5" cy="1628.2" r="4.4"/>
<circle cx="580.8" cy="1627.4" r="4.4"/>
<circle cx="583.5" cy="1626.5" r="4.4"/>
<circle cx="584.4" cy="1626.2" r="4.4"/>
<circle cx="584.7" cy="1626.1" r="4.4"/>
<circle cx="586.7" cy="1625.4" r="4.4"/>
<circle cx="589.6" cy="1624.4" r="4.4"/>
<circle cx="589.6" cy="1624.4" r="4.4"/>
<circle cx="590.0" cy="1624.2" r="4.4"/>
<circle cx="590.8" cy="1624.0" r="4.4"/>
<circle cx="591.2" cy="1623.8" r="4.4"/>
<circle cx="591.6" cy="1623.7" r="4.4"/>
<circle cx="593.8" cy="1622.9" r="4.4"/>
<circle cx="597.7" cy="1621.6" r="4.4"/>
<circle cx="598.1" cy="1621.4" r="4.4"/>
<circle cx="599.2" cy="1621.1" r="4.4"/>
<circle cx="599.6" cy="1620.9" r="4.4"/>
<circle cx="599.6" cy="1620.9" r="4.4"/>
<circle cx="600.5" cy="1620.6" r="4.4"/>
<circle cx="600.6" cy="1620.6" r="4.4"/>
<circle cx="602.3" cy="1620.0" r="4.4"/>
<circle cx="602.8" cy="1619.8" r="4.4"/>
<circle cx="603.1" cy="1619.7" r="4.4"/>
<circle cx="603.6" cy="1619.6" r="4.4"/>
<circle cx="604.1" cy="1619.4" r="4.4"/>
<circle cx="605.7" cy="1618.8" r="4.4"/>
<circle cx="605.9" cy="1618.8" r="4.4"/>
<circle cx="607.0" cy="1618.4" r="4.4"/>
<circle cx="608.2" cy="1618.0" r="4.4"/>
<circle cx="608.2" cy="1618.0" r="4.4"/>
<circle cx="609.0" cy="1617.7" r="4.4"/>
<circle cx="609.0" cy="1617.7" r="4.4"/>
<circle cx="609.5" cy="1617.5" r="4.4"/>
<circle cx="610.0" cy="1617.4" r="4.4"/>
<circle cx="610.8" cy="1617.1" r="4.4"/>
<circle cx="611.4" cy="1616.9" r="4.4"/>
<circle cx="613.2" cy="1616.3" r="4.4"/>
<circle cx="613.4" cy="1616.2" r="4.4"/>
<circle cx="615.8" cy="1615.4" r="4.4"/>
<circle cx="616.0" cy="1615.3" r="4.4"/>
<circle cx="616.4" cy="1615.2" r="4.4"/>
<circle cx="617.0" cy="1614.9" r="4.4"/>
<circle cx="618.6" cy="1614.4" r="4.4"/>
<circle cx="620.1" cy="1613.9" r="4.4"/>
<circle cx="620.6" cy="1613.7" r="4.4"/>
<circle cx="620.7" cy="1613.7" r="4.4"/>
<circle cx="620.8" cy="1613.7" r="4.4"/>
<circle cx="621.4" cy="1613.5" r="4.4"/>
<circle cx="621.5" cy="1613.4" r="4.4"/>
<circle cx="621.7" cy="1613.3" r="4.4"/>
<circle cx="622.3" cy="1613.1" r="4.4"/>
<circle cx="622.8" cy="1613.0" r="4.4"/>
<circle cx="623.8" cy="1612.6" r="4.4"/>
<circle cx="625.7" cy="1612.0" r="4.4"/>
<circle cx="626.3" cy="1611.8" r="4.4"/>
<circle cx="626.3" cy="1611.8" r="4.4"/>
<circle cx="628.9" cy="1610.9" r="4.4"/>
<circle cx="632.4" cy="1609.7" r="4.4"/>
<circle cx="633.1" cy="1609.4" r="4.4"/>
<circle cx="637.1" cy="1608.0" r="4.4"/>
<circle cx="641.9" cy="1606.4" r="4.4"/>
<circle cx="641.9" cy="1606.4" r="4.4"/>
<circle cx="644.2" cy="1605.6" r="4.4"/>
<circle cx="645.9" cy="1605.0" r="4.4"/>
<circle cx="647.0" cy="1604.7" r="4.4"/>
<circle cx="648.3" cy="1604.2" r="4.4"/>
<circle cx="648.4" cy="1604.2" r="4.4"/>
<circle cx="649.7" cy="1603.7" r="4.4"/>
<circle cx="651.7" cy="1603.0" r="4.4"/>
<circle cx="653.4" cy="1602.5" r="4.4"/>
<circle cx="653.8" cy="1602.3" r="4.4"/>
<circle cx="654.7" cy="1602.0" r="4.4"/>
<circle cx="655.4" cy="1601.8" r="4.4"/>
<circle cx="656.0" cy="1601.6" r="4.4"/>
<circle cx="656.6" cy="1601.4" r="4.4"/>
<circle cx="658.2" cy="1600.8" r="4.4"/>
<circle cx="658.9" cy="1600.6" r="4.4"/>
<circle cx="660.8" cy="1599.9" r="4.4"/>
<circle cx="662.0" cy="1599.5" r="4.4"/>
<circle cx="662.1" cy="1599.5" r="4.4"/>
<circle cx="663.9" cy="1598.8" r="4.4"/>
<circle cx="665.2" cy="1598.4" r="4.4"/>
<circle cx="665.5" cy="1598.3" r="4.4"/>
<circle cx="665.7" cy="1598.2" r="4.4"/>
<circle cx="666.6" cy="1597.9" r="4.4"/>
<circle cx="667.3" cy="1597.7" r="4.4"/>
<circle cx="667.7" cy="1597.5" r="4.4"/>
<circle cx="670.7" cy="1596.5" r="4.4"/>
<circle cx="671.8" cy="1596.1" r="4.4"/>
<circle cx="671.9" cy="1596.1" r="4.4"/>
<circle cx="677.6" cy="1594.2" r="4.4"/>
<circle cx="678.9" cy="1593.7" r="4.4"/>
<circle cx="679.1" cy="1593.6" r="4.4"/>
<circle cx="679.4" cy="1593.5" r="4.4"/>
<circle cx="681.3" cy="1592.9" r="4.4"/>
<circle cx="684.5" cy="1591.8" r="4.4"/>
<circle cx="685.5" cy="1591.4" r="4.4"/>
<circle cx="686.7" cy="1591.0" r="4.4"/>
<circle cx="687.2" cy="1590.9" r="4.4"/>
<circle cx="687.3" cy="1590.8" r="4.4"/>
<circle cx="687.4" cy="1590.8" r="4.4"/>
<circle cx="690.5" cy="1589.7" r="4.4"/>
<circle cx="690.6" cy="1589.7" r="4.4"/>
<circle cx="691.1" cy="1589.5" r="4.4"/>
<circle cx="691.5" cy="1589.3" r="4.4"/>
<circle cx="691.8" cy="1589.3" r="4.4"/>
<circle cx="692.0" cy="1589.2" r="4.4"/>
<circle cx="692.3" cy="1589.1" r="4.4"/>
<circle cx="695.0" cy="1588.2" r="4.4"/>
<circle cx="695.2" cy="1588.1" r="4.4"/>
<circle cx="698.6" cy="1586.9" r="4.4"/>
<circle cx="698.8" cy="1586.9" r="4.4"/>
<circle cx="699.3" cy="1586.7" r="4.4"/>
<circle cx="699.4" cy="1586.6" r="4.4"/>
<circle cx="700.8" cy="1586.2" r="4.4"/>
<circle cx="701.0" cy="1586.1" r="4.4"/>
<circle cx="701.9" cy="1585.8" r="4.4"/>
<circle cx="703.6" cy="1585.2" r="4.4"/>
<circle cx="703.7" cy="1585.2" r="4.4"/>
<circle cx="705.0" cy="1584.7" r="4.4"/>
<circle cx="705.1" cy="1584.7" r="4.4"/>
<circle cx="706.7" cy="1584.1" r="4.4"/>
<circle cx="706.9" cy="1584.1" r="4.4"/>
<circle cx="708.2" cy="1583.6" r="4.4"/>
<circle cx="708.9" cy="1583.4" r="4.4"/>
<circle cx="712.0" cy="1582.3" r="4.4"/>
<circle cx="712.1" cy="1582.3" r="4.4"/>
<circle cx="712.5" cy="1582.2" r="4.4"/>
<circle cx="714.5" cy="1581.5" r="4.4"/>
<circle cx="714.6" cy="1581.4" r="4.4"/>
<circle cx="718.2" cy="1580.2" r="4.4"/>
<circle cx="719.1" cy="1579.9" r="4.4"/>
<circle cx="719.5" cy="1579.7" r="4.4"/>
<circle cx="720.3" cy="1579.5" r="4.4"/>
<circle cx="721.0" cy="1579.2" r="4.4"/>
<circle cx="723.2" cy="1578.5" r="4.4"/>
<circle cx="724.5" cy="1578.0" r="4.4"/>
<circle cx="725.9" cy="1577.5" r="4.4"/>
<circle cx="726.9" cy="1577.2" r="4.4"/>
<circle cx="727.3" cy="1577.1" r="4.4"/>
<circle cx="728.0" cy="1576.8" r="4.4"/>
<circle cx="728.2" cy="1576.8" r="4.4"/>
<circle cx="728.9" cy="1576.5" r="4.4"/>
<circle cx="730.0" cy="1576.1" r="4.4"/>
<circle cx="730.7" cy="1575.9" r="4.4"/>
<circle cx="732.2" cy="1575.4" r="4.4"/>
<circle cx="732.6" cy="1575.2" r="4.4"/>
<circle cx="732.7" cy="1575.2" r="4.4"/>
<circle cx="732.8" cy="1575.2" r="4.4"/>
<circle cx="735.2" cy="1574.4" r="4.4"/>
<circle cx="736.9" cy="1573.8" r="4.4"/>
<circle cx="736.9" cy="1573.8" r="4.4"/>
<circle cx="737.0" cy="1573.7" r="4.4"/>
<circle cx="738.3" cy="1573.3" r="4.4"/>
<circle cx="739.3" cy="1573.0" r="4.4"/>
<circle cx="740.5" cy="1572.5" r="4.4"/>
<circle cx="740.8" cy="1572.4" r="4.4"/>
<circle cx="741.6" cy="1572.2" r="4.4"/>
<circle cx="742.2" cy="1571.9" r="4.4"/>
<circle cx="742.8" cy="1571.7" r="4.4"/>
<circle cx="748.4" cy="1569.8" r="4.4"/>
<circle cx="748.8" cy="1569.7" r="4.4"/>
<circle cx="749.0" cy="1569.6" r="4.4"/>
<circle cx="749.1" cy="1569.6" r="4.4"/>
<circle cx="749.2" cy="1569.5" r="4.4"/>
<circle cx="750.0" cy="1569.3" r="4.4"/>
<circle cx="751.3" cy="1568.8" r="4.4"/>
<circle cx="751.7" cy="1568.7" r="4.4"/>
<circle cx="751.9" cy="1568.6" r="4.4"/>
<circle cx="752.3" cy="1568.5" r="4.4"/>
<circle cx="753.5" cy="1568.1" r="4.4"/>
<circle cx="754.3" cy="1567.8" r="4.4"/>
<circle cx="754.3" cy="1567.8" r="4.4"/>
<circle cx="756.4" cy="1567.1" r="4.4"/>
<circle cx="757.0" cy="1566.9" r="4.4"/>
<circle cx="758.1" cy="1566.5" r="4.4"/>
<circle cx="758.9" cy="1566.2" r="4.4"/>
<circle cx="761.3" cy="1565.4" r="4.4"/>
<circle cx="761.4" cy="1565.4" r="4.4"/>
<circle cx="762.9" cy="1564.8" r="4.4"/>
<circle cx="764.1" cy="1564.4" r="4.4"/>
<circle cx="764.2" cy="1564.4" r="4.4"/>
<circle cx="765.1" cy="1564.1" r="4.4"/>
<circle cx="769.4" cy="1562.6" r="4.4"/>
<circle cx="769.9" cy="1562.4" r="4.4"/>
<circle cx="771.3" cy="1561.9" r="4.4"/>
<circle cx="772.1" cy="1561.7" r="4.4"/>
<circle cx="774.2" cy="1560.9" r="4.4"/>
<circle cx="775.5" cy="1560.5" r="4.4"/>
<circle cx="776.0" cy="1560.3" r="4.4"/>
<circle cx="776.7" cy="1560.1" r="4.4"/>
<circle cx="777.8" cy="1559.7" r="4.4"/>
<circle cx="779.1" cy="1559.3" r="4.4"/>
<circle cx="779.7" cy="1559.0" r="4.4"/>
<circle cx="780.0" cy="1558.9" r="4.4"/>
<circle cx="781.8" cy="1558.4" r="4.4"/>
<circle cx="782.9" cy="1558.0" r="4.4"/>
<circle cx="783.0" cy="1557.9" r="4.4"/>
<circle cx="783.5" cy="1557.7" r="4.4"/>
<circle cx="784.3" cy="1557.5" r="4.4"/>
<circle cx="784.6" cy="1557.4" r="4.4"/>
<circle cx="784.8" cy="1557.3" r="4.4"/>
<circle cx="784.8" cy="1557.3" r="4.4"/>
<circle cx="785.4" cy="1557.1" r="4.4"/>
<circle cx="786.4" cy="1556.8" r="4.4"/>
<circle cx="787.1" cy="1556.5" r="4.4"/>
<circle cx="789.6" cy="1555.7" r="4.4"/>
<circle cx="790.0" cy="1555.5" r="4.4"/>
<circle cx="790.1" cy="1555.5" r="4.4"/>
<circle cx="790.3" cy="1555.4" r="4.4"/>
<circle cx="790.3" cy="1555.4" r="4.4"/>
<circle cx="790.5" cy="1555.4" r="4.4"/>
<circle cx="790.7" cy="1555.3" r="4.4"/>
<circle cx="792.0" cy="1554.8" r="4.4"/>
<circle cx="792.2" cy="1554.8" r="4.4"/>
<circle cx="792.6" cy="1554.6" r="4.4"/>
<circle cx="793.1" cy="1554.4" r="4.4"/>
<circle cx="793.4" cy="1554.4" r="4.4"/>
<circle cx="794.0" cy="1554.2" r="4.4"/>
<circle cx="794.9" cy="1553.8" r="4.4"/>
<circle cx="795.3" cy="1553.7" r="4.4"/>
<circle cx="797.0" cy="1553.1" r="4.4"/>
<circle cx="797.1" cy="1553.1" r="4.4"/>
<circle cx="799.6" cy="1552.2" r="4.4"/>
<circle cx="799.9" cy="1552.1" r="4.4"/>
<circle cx="800.9" cy="1551.8" r="4.4"/>
<circle cx="803.0" cy="1551.1" r="4.4"/>
<circle cx="803.9" cy="1550.8" r="4.4"/>
<circle cx="804.0" cy="1550.7" r="4.4"/>
<circle cx="804.3" cy="1550.6" r="4.4"/>
<circle cx="805.9" cy="1550.1" r="4.4"/>
<circle cx="807.6" cy="1549.5" r="4.4"/>
<circle cx="808.3" cy="1549.3" r="4.4"/>
<circle cx="810.2" cy="1548.6" r="4.4"/>
<circle cx="810.9" cy="1548.3" r="4.4"/>
<circle cx="811.0" cy="1548.3" r="4.4"/>
<circle cx="814.0" cy="1547.3" r="4.4"/>
<circle cx="814.7" cy="1547.0" r="4.4"/>
<circle cx="815.1" cy="1546.9" r="4.4"/>
<circle cx="816.3" cy="1546.5" r="4.4"/>
<circle cx="817.4" cy="1546.1" r="4.4"/>
<circle cx="818.6" cy="1545.7" r="4.4"/>
<circle cx="819.2" cy="1545.5" r="4.4"/>
<circle cx="819.8" cy="1545.3" r="4.4"/>
<circle cx="820.1" cy="1545.2" r="4.4"/>
<circle cx="820.5" cy="1545.1" r="4.4"/>
<circle cx="820.8" cy="1545.0" r="4.4"/>
<circle cx="820.8" cy="1544.9" r="4.4"/>
<circle cx="820.9" cy="1544.9" r="4.4"/>
<circle cx="822.2" cy="1544.4" r="4.4"/>
<circle cx="823.9" cy="1543.9" r="4.4"/>
<circle cx="824.4" cy="1543.7" r="4.4"/>
<circle cx="826.0" cy="1543.1" r="4.4"/>
<circle cx="826.9" cy="1542.8" r="4.4"/>
<circle cx="827.6" cy="1542.6" r="4.4"/>
<circle cx="828.1" cy="1542.4" r="4.4"/>
<circle cx="829.4" cy="1542.0" r="4.4"/>
<circle cx="829.7" cy="1541.9" r="4.4"/>
<circle cx="830.0" cy="1541.8" r="4.4"/>
<circle cx="830.1" cy="1541.8" r="4.4"/>
<circle cx="831.0" cy="1541.4" r="4.4"/>
<circle cx="831.2" cy="1541.4" r="4.4"/>
<circle cx="831.8" cy="1541.2" r="4.4"/>
<circle cx="832.0" cy="1541.1" r="4.4"/>
<circle cx="832.1" cy="1541.0" r="4.4"/>
<circle cx="833.6" cy="1540.6" r="4.4"/>
<circle cx="834.1" cy="1540.4" r="4.4"/>
<circle cx="838.5" cy="1538.9" r="4.4"/>
<circle cx="840.0" cy="1538.3" r="4.4"/>
<circle cx="841.7" cy="1537.8" r="4.4"/>
<circle cx="842.3" cy="1537.5" r="4.4"/>
<circle cx="843.4" cy="1537.2" r="4.4"/>
<circle cx="844.5" cy="1536.8" r="4.4"/>
<circle cx="844.6" cy="1536.8" r="4.4"/>
<circle cx="844.6" cy="1536.8" r="4.4"/>
<circle cx="845.4" cy="1536.5" r="4.4"/>
<circle cx="845.9" cy="1536.3" r="4.4"/>
<circle cx="846.3" cy="1536.2" r="4.4"/>
<circle cx="847.1" cy="1535.9" r="4.4"/>
<circle cx="847.7" cy="1535.7" r="4.4"/>
<circle cx="853.7" cy="1533.6" r="4.4"/>
<circle cx="854.2" cy="1533.4" r="4.4"/>
<circle cx="855.0" cy="1533.2" r="4.4"/>
<circle cx="855.6" cy="1533.0" r="4.4"/>
<circle cx="855.8" cy="1532.9" r="4.4"/>
<circle cx="856.8" cy="1532.6" r="4.4"/>
<circle cx="859.2" cy="1531.7" r="4.4"/>
<circle cx="860.0" cy="1531.5" r="4.4"/>
<circle cx="861.4" cy="1531.0" r="4.4"/>
<circle cx="862.0" cy="1530.8" r="4.4"/>
<circle cx="864.1" cy="1530.0" r="4.4"/>
<circle cx="864.5" cy="1529.9" r="4.4"/>
<circle cx="865.9" cy="1529.4" r="4.4"/>
<circle cx="866.7" cy="1529.2" r="4.4"/>
<circle cx="867.1" cy="1529.0" r="4.4"/>
<circle cx="867.4" cy="1528.9" r="4.4"/>
<circle cx="867.8" cy="1528.8" r="4.4"/>
<circle cx="867.8" cy="1528.8" r="4.4"/>
<circle cx="868.7" cy="1528.5" r="4.4"/>
<circle cx="868.9" cy="1528.4" r="4.4"/>
<circle cx="870.0" cy="1528.0" r="4.4"/>
<circle cx="870.3" cy="1527.9" r="4.4"/>
<circle cx="870.3" cy="1527.9" r="4.4"/>
<circle cx="871.7" cy="1527.5" r="4.4"/>
<circle cx="873.2" cy="1527.0" r="4.4"/>
<circle cx="874.4" cy="1526.5" r="4.4"/>
<circle cx="874.7" cy="1526.4" r="4.4"/>
<circle cx="876.8" cy="1525.7" r="4.4"/>
<circle cx="877.3" cy="1525.5" r="4.4"/>
<circle cx="878.1" cy="1525.3" r="4.4"/>
<circle cx="879.0" cy="1524.9" r="4.4"/>
<circle cx="880.5" cy="1524.4" r="4.4"/>
<circle cx="882.4" cy="1523.8" r="4.4"/>
<circle cx="882.9" cy="1523.6" r="4.4"/>
<circle cx="883.4" cy="1523.4" r="4.4"/>
<circle cx="883.5" cy="1523.4" r="4.4"/>
<circle cx="886.4" cy="1522.4" r="4.4"/>
<circle cx="887.7" cy="1522.0" r="4.4"/>
<circle cx="887.7" cy="1522.0" r="4.4"/>
<circle cx="887.9" cy="1521.9" r="4.4"/>
<circle cx="888.1" cy="1521.8" r="4.4"/>
<circle cx="888.1" cy="1521.8" r="4.4"/>
<circle cx="890.2" cy="1521.1" r="4.4"/>
<circle cx="892.0" cy="1520.5" r="4.4"/>
<circle cx="893.3" cy="1520.0" r="4.4"/>
<circle cx="893.7" cy="1519.9" r="4.4"/>
<circle cx="895.1" cy="1519.4" r="4.4"/>
<circle cx="896.0" cy="1519.1" r="4.4"/>
<circle cx="896.3" cy="1519.0" r="4.4"/>
<circle cx="898.7" cy="1518.2" r="4.4"/>
<circle cx="899.8" cy="1517.8" r="4.4"/>
<circle cx="900.1" cy="1517.7" r="4.4"/>
<circle cx="900.2" cy="1517.7" r="4.4"/>
<circle cx="900.2" cy="1517.7" r="4.4"/>
<circle cx="900.4" cy="1517.6" r="4.4"/>
<circle cx="901.1" cy="1517.4" r="4.4"/>
<circle cx="902.6" cy="1516.8" r="4.4"/>
<circle cx="906.1" cy="1515.6" r="4.4"/>
<circle cx="907.0" cy="1515.3" r="4.4"/>
<circle cx="909.2" cy="1514.6" r="4.4"/>
<circle cx="909.9" cy="1514.3" r="4.4"/>
<circle cx="910.3" cy="1514.2" r="4.4"/>
<circle cx="911.4" cy="1513.8" r="4.4"/>
<circle cx="914.3" cy="1512.8" r="4.4"/>
<circle cx="915.7" cy="1512.3" r="4.4"/>
<circle cx="915.8" cy="1512.3" r="4.4"/>
<circle cx="917.2" cy="1511.8" r="4.4"/>
<circle cx="917.6" cy="1511.7" r="4.4"/>
<circle cx="919.8" cy="1510.9" r="4.4"/>
<circle cx="920.6" cy="1510.6" r="4.4"/>
<circle cx="929.8" cy="1507.5" r="4.4"/>
<circle cx="929.9" cy="1507.4" r="4.4"/>
<circle cx="930.5" cy="1507.2" r="4.4"/>
<circle cx="930.8" cy="1507.1" r="4.4"/>
<circle cx="931.4" cy="1506.9" r="4.4"/>
<circle cx="931.6" cy="1506.9" r="4.4"/>
<circle cx="931.6" cy="1506.9" r="4.4"/>
<circle cx="933.3" cy="1506.3" r="4.4"/>
<circle cx="933.7" cy="1506.1" r="4.4"/>
<circle cx="934.0" cy="1506.1" r="4.4"/>
<circle cx="935.2" cy="1505.6" r="4.4"/>
<circle cx="935.4" cy="1505.6" r="4.4"/>
<circle cx="935.4" cy="1505.6" r="4.4"/>
<circle cx="937.0" cy="1505.0" r="4.4"/>
<circle cx="937.2" cy="1504.9" r="4.4"/>
<circle cx="938.5" cy="1504.5" r="4.4"/>
<circle cx="938.9" cy="1504.4" r="4.4"/>
<circle cx="939.3" cy="1504.2" r="4.4"/>
<circle cx="939.7" cy="1504.1" r="4.4"/>
<circle cx="940.2" cy="1503.9" r="4.4"/>
<circle cx="940.6" cy="1503.8" r="4.4"/>
<circle cx="940.9" cy="1503.7" r="4.4"/>
<circle cx="941.5" cy="1503.5" r="4.4"/>
<circle cx="942.8" cy="1503.0" r="4.4"/>
<circle cx="943.8" cy="1502.7" r="4.4"/>
<circle cx="944.1" cy="1502.6" r="4.4"/>
<circle cx="944.5" cy="1502.4" r="4.4"/>
<circle cx="945.6" cy="1502.1" r="4.4"/>
<circle cx="945.6" cy="1502.1" r="4.4"/>
<circle cx="947.3" cy="1501.5" r="4.4"/>
<circle cx="947.5" cy="1501.4" r="4.4"/>
<circle cx="947.9" cy="1501.3" r="4.4"/>
<circle cx="948.3" cy="1501.1" r="4.4"/>
<circle cx="951.3" cy="1500.1" r="4.4"/>
<circle cx="952.8" cy="1499.6" r="4.4"/>
<circle cx="956.8" cy="1498.2" r="4.4"/>
<circle cx="956.9" cy="1498.2" r="4.4"/>
<circle cx="958.8" cy="1497.5" r="4.4"/>
<circle cx="959.3" cy="1497.3" r="4.4"/>
<circle cx="960.5" cy="1496.9" r="4.4"/>
<circle cx="961.8" cy="1496.5" r="4.4"/>
<circle cx="961.8" cy="1496.5" r="4.4"/>
<circle cx="962.6" cy="1496.2" r="4.4"/>
<circle cx="965.8" cy="1495.1" r="4.4"/>
<circle cx="966.4" cy="1494.9" r="4.4"/>
<circle cx="967.7" cy="1494.5" r="4.4"/>
<circle cx="968.0" cy="1494.4" r="4.4"/>
<circle cx="970.2" cy="1493.6" r="4.4"/>
<circle cx="970.5" cy="1493.5" r="4.4"/>
<circle cx="970.6" cy="1493.5" r="4.4"/>
<circle cx="971.0" cy="1493.3" r="4.4"/>
<circle cx="972.0" cy="1493.0" r="4.4"/>
<circle cx="972.1" cy="1493.0" r="4.4"/>
<circle cx="973.8" cy="1492.4" r="4.4"/>
<circle cx="974.0" cy="1492.3" r="4.4"/>
<circle cx="974.8" cy="1492.0" r="4.4"/>
<circle cx="977.2" cy="1491.2" r="4.4"/>
<circle cx="980.4" cy="1490.1" r="4.4"/>
<circle cx="980.6" cy="1490.1" r="4.4"/>
<circle cx="982.2" cy="1489.5" r="4.4"/>
<circle cx="983.7" cy="1489.0" r="4.4"/>
<circle cx="986.4" cy="1488.1" r="4.4"/>
<circle cx="986.9" cy="1487.9" r="4.4"/>
<circle cx="988.4" cy="1487.4" r="4.4"/>
<circle cx="989.2" cy="1487.1" r="4.4"/>
<circle cx="989.7" cy="1486.9" r="4.4"/>
<circle cx="990.1" cy="1486.8" r="4.4"/>
<circle cx="991.3" cy="1486.3" r="4.4"/>
<circle cx="992.8" cy="1485.8" r="4.4"/>
<circle cx="993.4" cy="1485.6" r="4.4"/>
<circle cx="995.3" cy="1485.0" r="4.4"/>
<circle cx="995.4" cy="1484.9" r="4.4"/>
<circle cx="996.4" cy="1484.6" r="4.4"/>
<circle cx="996.8" cy="1484.5" r="4.4"/>
<circle cx="998.5" cy="1483.9" r="4.4"/>
<circle cx="998.9" cy="1483.7" r="4.4"/>
<circle cx="999.0" cy="1483.7" r="4.4"/>
<circle cx="999.9" cy="1483.4" r="4.4"/>
<circle cx="1000.0" cy="1483.4" r="4.4"/>
<circle cx="1000.4" cy="1483.2" r="4.4"/>
<circle cx="1004.3" cy="1481.9" r="4.4"/>
<circle cx="1005.6" cy="1481.5" r="4.4"/>
<circle cx="1007.4" cy="1480.8" r="4.4"/>
<circle cx="1007.5" cy="1480.8" r="4.4"/>
<circle cx="1013.1" cy="1478.9" r="4.4"/>
<circle cx="1016.8" cy="1477.6" r="4.4"/>
<circle cx="1020.2" cy="1476.4" r="4.4"/>
<circle cx="1021.0" cy="1476.1" r="4.4"/>
<circle cx="1023.1" cy="1475.4" r="4.4"/>
<circle cx="1023.5" cy="1475.3" r="4.4"/>
<circle cx="1027.6" cy="1473.9" r="4.4"/>
<circle cx="1030.1" cy="1473.0" r="4.4"/>
<circle cx="1031.7" cy="1472.5" r="4.4"/>
<circle cx="1032.2" cy="1472.3" r="4.4"/>
<circle cx="1032.3" cy="1472.3" r="4.4"/>
<circle cx="1034.9" cy="1471.4" r="4.4"/>
<circle cx="1035.1" cy="1471.3" r="4.4"/>
<circle cx="1035.8" cy="1471.1" r="4.4"/>
<circle cx="1038.7" cy="1470.1" r="4.4"/>
<circle cx="1039.2" cy="1469.9" r="4.4"/>
<circle cx="1042.4" cy="1468.8" r="4.4"/>
<circle cx="1043.4" cy="1468.5" r="4.4"/>
<circle cx="1044.1" cy="1468.2" r="4.4"/>
<circle cx="1047.2" cy="1467.1" r="4.4"/>
<circle cx="1048.2" cy="1466.8" r="4.4"/>
<circle cx="1049.5" cy="1466.4" r="4.4"/>
<circle cx="1050.3" cy="1466.1" r="4.4"/>
<circle cx="1051.0" cy="1465.8" r="4.4"/>
<circle cx="1052.8" cy="1465.2" r="4.4"/>
<circle cx="1052.9" cy="1465.2" r="4.4"/>
<circle cx="1055.7" cy="1464.2" r="4.4"/>
<circle cx="1059.4" cy="1463.0" r="4.4"/>
<circle cx="1060.4" cy="1462.6" r="4.4"/>
<circle cx="1062.0" cy="1462.1" r="4.4"/>
<circle cx="1063.8" cy="1461.4" r="4.4"/>
<circle cx="1064.1" cy="1461.4" r="4.4"/>
<circle cx="1066.9" cy="1460.4" r="4.4"/>
<circle cx="1067.4" cy="1460.2" r="4.4"/>
<circle cx="1067.8" cy="1460.1" r="4.4"/>
<circle cx="1070.5" cy="1459.2" r="4.4"/>
<circle cx="1071.7" cy="1458.7" r="4.4"/>
<circle cx="1073.4" cy="1458.2" r="4.4"/>
<circle cx="1075.8" cy="1457.3" r="4.4"/>
<circle cx="1079.0" cy="1456.2" r="4.4"/>
<circle cx="1079.5" cy="1456.1" r="4.4"/>
<circle cx="1080.3" cy="1455.8" r="4.4"/>
<circle cx="1080.7" cy="1455.7" r="4.4"/>
<circle cx="1081.4" cy="1455.4" r="4.4"/>
<circle cx="1082.2" cy="1455.1" r="4.4"/>
<circle cx="1084.9" cy="1454.2" r="4.4"/>
<circle cx="1119.1" cy="1442.5" r="4.4"/>
</g>
<g fill="rgb(60,75,110)" fill-opacity="0.58" stroke="rgb(60,75,110)" stroke-opacity="0.55" stroke-width="1.1">
<circle cx="141.2" cy="1776.3" r="4.3"/>
<circle cx="161.2" cy="1743.4" r="4.3"/>
<circle cx="163.5" cy="1782.6" r="4.3"/>
<circle cx="166.8" cy="1723.4" r="4.3"/>
<circle cx="166.8" cy="1753.7" r="4.3"/>
<circle cx="167.3" cy="1722.3" r="4.3"/>
<circle cx="167.8" cy="1745.4" r="4.3"/>
<circle cx="171.0" cy="1757.3" r="4.3"/>
<circle cx="174.9" cy="1753.3" r="4.3"/>
<circle cx="180.1" cy="1758.4" r="4.3"/>
<circle cx="187.3" cy="1763.5" r="4.3"/>
<circle cx="188.0" cy="1747.1" r="4.3"/>
<circle cx="188.0" cy="1736.7" r="4.3"/>
<circle cx="190.0" cy="1727.1" r="4.3"/>
<circle cx="192.9" cy="1743.6" r="4.3"/>
<circle cx="194.1" cy="1762.3" r="4.3"/>
<circle cx="196.3" cy="1745.0" r="4.3"/>
<circle cx="196.8" cy="1697.3" r="4.3"/>
<circle cx="203.3" cy="1745.3" r="4.3"/>
<circle cx="204.9" cy="1725.6" r="4.3"/>
<circle cx="211.0" cy="1754.2" r="4.3"/>
<circle cx="212.1" cy="1738.3" r="4.3"/>
<circle cx="213.9" cy="1766.8" r="4.3"/>
<circle cx="216.0" cy="1702.0" r="4.3"/>
<circle cx="217.0" cy="1739.6" r="4.3"/>
<circle cx="220.1" cy="1675.5" r="4.3"/>
<circle cx="222.9" cy="1728.2" r="4.3"/>
<circle cx="224.1" cy="1712.3" r="4.3"/>
<circle cx="224.8" cy="1738.9" r="4.3"/>
<circle cx="227.3" cy="1770.3" r="4.3"/>
<circle cx="227.4" cy="1728.3" r="4.3"/>
<circle cx="228.4" cy="1709.5" r="4.3"/>
<circle cx="229.5" cy="1734.7" r="4.3"/>
<circle cx="232.0" cy="1774.3" r="4.3"/>
<circle cx="235.9" cy="1726.1" r="4.3"/>
<circle cx="236.3" cy="1714.2" r="4.3"/>
<circle cx="236.7" cy="1719.5" r="4.3"/>
<circle cx="241.4" cy="1764.7" r="4.3"/>
<circle cx="243.3" cy="1713.9" r="4.3"/>
<circle cx="243.7" cy="1735.6" r="4.3"/>
<circle cx="243.8" cy="1729.5" r="4.3"/>
<circle cx="244.7" cy="1768.8" r="4.3"/>
<circle cx="249.1" cy="1719.6" r="4.3"/>
<circle cx="251.4" cy="1718.5" r="4.3"/>
<circle cx="256.4" cy="1696.8" r="4.3"/>
<circle cx="257.5" cy="1705.6" r="4.3"/>
<circle cx="257.9" cy="1738.6" r="4.3"/>
<circle cx="264.3" cy="1712.5" r="4.3"/>
<circle cx="268.3" cy="1698.9" r="4.3"/>
<circle cx="270.1" cy="1711.4" r="4.3"/>
<circle cx="270.4" cy="1731.4" r="4.3"/>
<circle cx="270.7" cy="1683.7" r="4.3"/>
<circle cx="276.3" cy="1682.0" r="4.3"/>
<circle cx="277.3" cy="1750.3" r="4.3"/>
<circle cx="277.6" cy="1735.3" r="4.3"/>
<circle cx="277.7" cy="1678.6" r="4.3"/>
<circle cx="278.0" cy="1740.5" r="4.3"/>
<circle cx="278.2" cy="1713.1" r="4.3"/>
<circle cx="278.9" cy="1627.8" r="4.3"/>
<circle cx="279.2" cy="1720.2" r="4.3"/>
<circle cx="279.4" cy="1679.1" r="4.3"/>
<circle cx="280.3" cy="1683.4" r="4.3"/>
<circle cx="280.5" cy="1747.7" r="4.3"/>
<circle cx="282.0" cy="1703.6" r="4.3"/>
<circle cx="283.9" cy="1746.1" r="4.3"/>
<circle cx="284.7" cy="1712.7" r="4.3"/>
<circle cx="284.9" cy="1729.4" r="4.3"/>
<circle cx="285.9" cy="1695.7" r="4.3"/>
<circle cx="287.1" cy="1683.4" r="4.3"/>
<circle cx="287.6" cy="1665.0" r="4.3"/>
<circle cx="289.1" cy="1708.2" r="4.3"/>
<circle cx="289.8" cy="1720.3" r="4.3"/>
<circle cx="290.0" cy="1716.7" r="4.3"/>
<circle cx="290.1" cy="1688.5" r="4.3"/>
<circle cx="290.2" cy="1735.8" r="4.3"/>
<circle cx="291.2" cy="1720.1" r="4.3"/>
<circle cx="293.9" cy="1719.2" r="4.3"/>
<circle cx="295.3" cy="1687.1" r="4.3"/>
<circle cx="296.6" cy="1734.0" r="4.3"/>
<circle cx="297.7" cy="1719.0" r="4.3"/>
<circle cx="301.8" cy="1714.0" r="4.3"/>
<circle cx="302.3" cy="1675.2" r="4.3"/>
<circle cx="307.8" cy="1675.2" r="4.3"/>
<circle cx="308.3" cy="1713.3" r="4.3"/>
<circle cx="308.6" cy="1686.0" r="4.3"/>
<circle cx="311.2" cy="1653.4" r="4.3"/>
<circle cx="312.6" cy="1686.1" r="4.3"/>
<circle cx="312.9" cy="1724.6" r="4.3"/>
<circle cx="312.9" cy="1708.2" r="4.3"/>
<circle cx="313.2" cy="1690.4" r="4.3"/>
<circle cx="315.1" cy="1672.7" r="4.3"/>
<circle cx="317.0" cy="1684.5" r="4.3"/>
<circle cx="318.6" cy="1695.2" r="4.3"/>
<circle cx="321.0" cy="1699.5" r="4.3"/>
<circle cx="321.3" cy="1684.2" r="4.3"/>
<circle cx="321.5" cy="1702.1" r="4.3"/>
<circle cx="322.0" cy="1708.5" r="4.3"/>
<circle cx="322.5" cy="1698.8" r="4.3"/>
<circle cx="322.6" cy="1697.2" r="4.3"/>
<circle cx="322.8" cy="1716.5" r="4.3"/>
<circle cx="323.4" cy="1697.0" r="4.3"/>
<circle cx="323.8" cy="1695.7" r="4.3"/>
<circle cx="324.0" cy="1694.7" r="4.3"/>
<circle cx="324.3" cy="1688.6" r="4.3"/>
<circle cx="324.9" cy="1716.7" r="4.3"/>
<circle cx="325.2" cy="1710.4" r="4.3"/>
<circle cx="325.2" cy="1721.1" r="4.3"/>
<circle cx="326.0" cy="1711.0" r="4.3"/>
<circle cx="326.1" cy="1678.6" r="4.3"/>
<circle cx="326.3" cy="1715.8" r="4.3"/>
<circle cx="326.3" cy="1712.0" r="4.3"/>
<circle cx="326.6" cy="1696.5" r="4.3"/>
<circle cx="326.6" cy="1630.1" r="4.3"/>
<circle cx="326.6" cy="1679.5" r="4.3"/>
<circle cx="326.9" cy="1698.3" r="4.3"/>
<circle cx="327.1" cy="1717.7" r="4.3"/>
<circle cx="327.2" cy="1715.9" r="4.3"/>
<circle cx="327.4" cy="1687.7" r="4.3"/>
<circle cx="327.6" cy="1707.0" r="4.3"/>
<circle cx="330.9" cy="1698.6" r="4.3"/>
<circle cx="331.3" cy="1694.8" r="4.3"/>
<circle cx="331.6" cy="1695.9" r="4.3"/>
<circle cx="331.8" cy="1699.8" r="4.3"/>
<circle cx="332.2" cy="1677.8" r="4.3"/>
<circle cx="332.7" cy="1690.0" r="4.3"/>
<circle cx="333.6" cy="1705.7" r="4.3"/>
<circle cx="333.8" cy="1710.3" r="4.3"/>
<circle cx="334.3" cy="1707.5" r="4.3"/>
<circle cx="335.1" cy="1684.3" r="4.3"/>
<circle cx="335.5" cy="1685.2" r="4.3"/>
<circle cx="335.5" cy="1688.7" r="4.3"/>
<circle cx="336.3" cy="1697.7" r="4.3"/>
<circle cx="336.9" cy="1688.9" r="4.3"/>
<circle cx="337.1" cy="1696.4" r="4.3"/>
<circle cx="337.1" cy="1714.1" r="4.3"/>
<circle cx="337.2" cy="1694.0" r="4.3"/>
<circle cx="337.8" cy="1704.5" r="4.3"/>
<circle cx="338.5" cy="1703.8" r="4.3"/>
<circle cx="338.8" cy="1714.4" r="4.3"/>
<circle cx="339.0" cy="1700.2" r="4.3"/>
<circle cx="339.9" cy="1711.4" r="4.3"/>
<circle cx="340.0" cy="1712.4" r="4.3"/>
<circle cx="340.6" cy="1704.6" r="4.3"/>
<circle cx="341.4" cy="1711.6" r="4.3"/>
<circle cx="341.6" cy="1692.3" r="4.3"/>
<circle cx="341.9" cy="1704.7" r="4.3"/>
<circle cx="342.4" cy="1567.6" r="4.3"/>
<circle cx="344.0" cy="1703.6" r="4.3"/>
<circle cx="344.0" cy="1693.2" r="4.3"/>
<circle cx="344.1" cy="1713.3" r="4.3"/>
<circle cx="344.1" cy="1695.2" r="4.3"/>
<circle cx="345.1" cy="1698.1" r="4.3"/>
<circle cx="345.5" cy="1709.7" r="4.3"/>
<circle cx="346.4" cy="1721.1" r="4.3"/>
<circle cx="346.6" cy="1717.2" r="4.3"/>
<circle cx="346.8" cy="1698.8" r="4.3"/>
<circle cx="346.9" cy="1691.8" r="4.3"/>
<circle cx="346.9" cy="1703.5" r="4.3"/>
<circle cx="347.1" cy="1679.1" r="4.3"/>
<circle cx="347.2" cy="1692.2" r="4.3"/>
<circle cx="347.4" cy="1690.4" r="4.3"/>
<circle cx="349.2" cy="1691.9" r="4.3"/>
<circle cx="349.4" cy="1673.2" r="4.3"/>
<circle cx="349.6" cy="1632.8" r="4.3"/>
<circle cx="349.9" cy="1701.0" r="4.3"/>
<circle cx="350.0" cy="1683.5" r="4.3"/>
<circle cx="350.2" cy="1704.5" r="4.3"/>
<circle cx="350.4" cy="1710.8" r="4.3"/>
<circle cx="350.9" cy="1674.4" r="4.3"/>
<circle cx="350.9" cy="1700.6" r="4.3"/>
<circle cx="350.9" cy="1689.3" r="4.3"/>
<circle cx="351.2" cy="1709.4" r="4.3"/>
<circle cx="351.3" cy="1711.5" r="4.3"/>
<circle cx="352.1" cy="1691.9" r="4.3"/>
<circle cx="352.7" cy="1701.9" r="4.3"/>
<circle cx="353.2" cy="1680.9" r="4.3"/>
<circle cx="353.5" cy="1683.1" r="4.3"/>
<circle cx="353.6" cy="1694.0" r="4.3"/>
<circle cx="354.0" cy="1685.7" r="4.3"/>
<circle cx="354.3" cy="1677.0" r="4.3"/>
<circle cx="354.9" cy="1708.8" r="4.3"/>
<circle cx="355.7" cy="1691.6" r="4.3"/>
<circle cx="356.0" cy="1692.1" r="4.3"/>
<circle cx="356.2" cy="1704.0" r="4.3"/>
<circle cx="356.4" cy="1698.4" r="4.3"/>
<circle cx="356.7" cy="1697.7" r="4.3"/>
<circle cx="356.9" cy="1711.0" r="4.3"/>
<circle cx="357.0" cy="1688.4" r="4.3"/>
<circle cx="358.0" cy="1716.6" r="4.3"/>
<circle cx="358.1" cy="1696.5" r="4.3"/>
<circle cx="358.1" cy="1481.0" r="4.3"/>
<circle cx="358.2" cy="1709.0" r="4.3"/>
<circle cx="358.4" cy="1568.8" r="4.3"/>
<circle cx="358.9" cy="1696.2" r="4.3"/>
<circle cx="358.9" cy="1702.5" r="4.3"/>
<circle cx="359.0" cy="1694.3" r="4.3"/>
<circle cx="359.1" cy="1686.6" r="4.3"/>
<circle cx="359.1" cy="1648.6" r="4.3"/>
<circle cx="359.2" cy="1694.6" r="4.3"/>
<circle cx="359.6" cy="1715.3" r="4.3"/>
<circle cx="361.5" cy="1697.7" r="4.3"/>
<circle cx="362.4" cy="1701.7" r="4.3"/>
<circle cx="362.6" cy="1712.0" r="4.3"/>
<circle cx="362.7" cy="1705.7" r="4.3"/>
<circle cx="362.9" cy="1714.3" r="4.3"/>
<circle cx="363.6" cy="1668.6" r="4.3"/>
<circle cx="363.9" cy="1703.6" r="4.3"/>
<circle cx="364.2" cy="1695.7" r="4.3"/>
<circle cx="364.5" cy="1697.3" r="4.3"/>
<circle cx="365.2" cy="1692.8" r="4.3"/>
<circle cx="366.9" cy="1703.4" r="4.3"/>
<circle cx="367.7" cy="1707.9" r="4.3"/>
<circle cx="368.7" cy="1665.6" r="4.3"/>
<circle cx="368.9" cy="1678.4" r="4.3"/>
<circle cx="369.4" cy="1549.2" r="4.3"/>
<circle cx="369.5" cy="1705.6" r="4.3"/>
<circle cx="369.7" cy="1688.2" r="4.3"/>
<circle cx="369.9" cy="1681.7" r="4.3"/>
<circle cx="370.1" cy="1587.7" r="4.3"/>
<circle cx="370.3" cy="1667.3" r="4.3"/>
<circle cx="370.4" cy="1678.1" r="4.3"/>
<circle cx="370.5" cy="1687.0" r="4.3"/>
<circle cx="370.6" cy="1704.2" r="4.3"/>
<circle cx="370.7" cy="1705.9" r="4.3"/>
<circle cx="370.7" cy="1701.5" r="4.3"/>
<circle cx="371.3" cy="1695.4" r="4.3"/>
<circle cx="371.5" cy="1692.7" r="4.3"/>
<circle cx="371.5" cy="1655.0" r="4.3"/>
<circle cx="371.7" cy="1679.1" r="4.3"/>
<circle cx="371.9" cy="1690.7" r="4.3"/>
<circle cx="372.0" cy="1608.7" r="4.3"/>
<circle cx="372.9" cy="1691.0" r="4.3"/>
<circle cx="372.9" cy="1706.2" r="4.3"/>
<circle cx="373.1" cy="1689.6" r="4.3"/>
<circle cx="373.1" cy="1678.7" r="4.3"/>
<circle cx="373.6" cy="1685.8" r="4.3"/>
<circle cx="374.1" cy="1707.3" r="4.3"/>
<circle cx="374.5" cy="1698.3" r="4.3"/>
<circle cx="375.2" cy="1712.7" r="4.3"/>
<circle cx="376.0" cy="1699.4" r="4.3"/>
<circle cx="376.1" cy="1707.7" r="4.3"/>
<circle cx="376.3" cy="1715.8" r="4.3"/>
<circle cx="376.6" cy="1695.2" r="4.3"/>
<circle cx="376.6" cy="1702.4" r="4.3"/>
<circle cx="376.6" cy="1713.1" r="4.3"/>
<circle cx="376.9" cy="1690.8" r="4.3"/>
<circle cx="378.1" cy="1681.9" r="4.3"/>
<circle cx="378.1" cy="1702.7" r="4.3"/>
<circle cx="378.2" cy="1678.4" r="4.3"/>
<circle cx="378.5" cy="1598.2" r="4.3"/>
<circle cx="378.6" cy="1666.5" r="4.3"/>
<circle cx="378.8" cy="1691.5" r="4.3"/>
<circle cx="378.8" cy="1712.1" r="4.3"/>
<circle cx="379.0" cy="1690.8" r="4.3"/>
<circle cx="379.1" cy="1700.7" r="4.3"/>
<circle cx="379.3" cy="1701.0" r="4.3"/>
<circle cx="379.8" cy="1643.0" r="4.3"/>
<circle cx="379.9" cy="1672.3" r="4.3"/>
<circle cx="380.0" cy="1682.0" r="4.3"/>
<circle cx="380.1" cy="1697.6" r="4.3"/>
<circle cx="380.2" cy="1683.7" r="4.3"/>
<circle cx="381.0" cy="1692.4" r="4.3"/>
<circle cx="381.5" cy="1695.4" r="4.3"/>
<circle cx="381.8" cy="1676.9" r="4.3"/>
<circle cx="382.0" cy="1695.3" r="4.3"/>
<circle cx="382.2" cy="1700.1" r="4.3"/>
<circle cx="382.5" cy="1681.7" r="4.3"/>
<circle cx="382.7" cy="1678.6" r="4.3"/>
<circle cx="383.9" cy="1701.8" r="4.3"/>
<circle cx="384.0" cy="1707.3" r="4.3"/>
<circle cx="384.0" cy="1694.2" r="4.3"/>
<circle cx="384.4" cy="1674.6" r="4.3"/>
<circle cx="384.5" cy="1696.6" r="4.3"/>
<circle cx="384.7" cy="1662.3" r="4.3"/>
<circle cx="385.4" cy="1695.4" r="4.3"/>
<circle cx="385.6" cy="1709.1" r="4.3"/>
<circle cx="386.0" cy="1687.1" r="4.3"/>
<circle cx="386.5" cy="1677.8" r="4.3"/>
<circle cx="386.7" cy="1675.8" r="4.3"/>
<circle cx="386.9" cy="1659.2" r="4.3"/>
<circle cx="386.9" cy="1707.4" r="4.3"/>
<circle cx="387.6" cy="1695.7" r="4.3"/>
<circle cx="387.7" cy="1691.6" r="4.3"/>
<circle cx="388.1" cy="1691.0" r="4.3"/>
<circle cx="388.3" cy="1714.6" r="4.3"/>
<circle cx="388.6" cy="1691.0" r="4.3"/>
<circle cx="388.7" cy="1698.2" r="4.3"/>
<circle cx="388.7" cy="1707.9" r="4.3"/>
<circle cx="389.2" cy="1685.9" r="4.3"/>
<circle cx="389.5" cy="1690.7" r="4.3"/>
<circle cx="389.9" cy="1693.1" r="4.3"/>
<circle cx="390.6" cy="1682.6" r="4.3"/>
<circle cx="391.0" cy="1678.2" r="4.3"/>
<circle cx="391.1" cy="1703.2" r="4.3"/>
<circle cx="391.2" cy="1691.5" r="4.3"/>
<circle cx="391.2" cy="1684.7" r="4.3"/>
<circle cx="391.2" cy="1687.6" r="4.3"/>
<circle cx="391.6" cy="1673.9" r="4.3"/>
<circle cx="391.7" cy="1682.0" r="4.3"/>
<circle cx="391.7" cy="1676.8" r="4.3"/>
<circle cx="391.8" cy="1697.3" r="4.3"/>
<circle cx="391.9" cy="1622.2" r="4.3"/>
<circle cx="392.1" cy="1705.0" r="4.3"/>
<circle cx="392.4" cy="1685.6" r="4.3"/>
<circle cx="392.4" cy="1689.0" r="4.3"/>
<circle cx="392.5" cy="1675.9" r="4.3"/>
<circle cx="392.6" cy="1680.8" r="4.3"/>
<circle cx="392.6" cy="1685.4" r="4.3"/>
<circle cx="392.7" cy="1688.7" r="4.3"/>
<circle cx="392.8" cy="1662.8" r="4.3"/>
<circle cx="393.0" cy="1670.2" r="4.3"/>
<circle cx="393.2" cy="1677.9" r="4.3"/>
<circle cx="393.3" cy="1687.5" r="4.3"/>
<circle cx="393.3" cy="1688.6" r="4.3"/>
<circle cx="393.7" cy="1690.6" r="4.3"/>
<circle cx="393.7" cy="1692.3" r="4.3"/>
<circle cx="393.8" cy="1691.0" r="4.3"/>
<circle cx="394.1" cy="1704.3" r="4.3"/>
<circle cx="394.3" cy="1689.6" r="4.3"/>
<circle cx="394.5" cy="1676.1" r="4.3"/>
<circle cx="394.7" cy="1673.4" r="4.3"/>
<circle cx="395.6" cy="1687.6" r="4.3"/>
<circle cx="395.6" cy="1696.8" r="4.3"/>
<circle cx="395.7" cy="1708.8" r="4.3"/>
<circle cx="395.9" cy="1705.4" r="4.3"/>
<circle cx="396.3" cy="1674.1" r="4.3"/>
<circle cx="396.3" cy="1670.7" r="4.3"/>
<circle cx="396.4" cy="1718.2" r="4.3"/>
<circle cx="396.5" cy="1675.3" r="4.3"/>
<circle cx="396.5" cy="1643.6" r="4.3"/>
<circle cx="397.0" cy="1690.8" r="4.3"/>
<circle cx="397.1" cy="1675.0" r="4.3"/>
<circle cx="397.4" cy="1678.8" r="4.3"/>
<circle cx="398.0" cy="1701.1" r="4.3"/>
<circle cx="398.1" cy="1681.7" r="4.3"/>
<circle cx="398.4" cy="1685.9" r="4.3"/>
<circle cx="398.7" cy="1691.8" r="4.3"/>
<circle cx="398.8" cy="1695.8" r="4.3"/>
<circle cx="399.6" cy="1682.7" r="4.3"/>
<circle cx="399.7" cy="1670.2" r="4.3"/>
<circle cx="400.0" cy="1695.1" r="4.3"/>
<circle cx="400.2" cy="1708.9" r="4.3"/>
<circle cx="400.3" cy="1652.5" r="4.3"/>
<circle cx="400.3" cy="1680.8" r="4.3"/>
<circle cx="400.5" cy="1597.7" r="4.3"/>
<circle cx="400.7" cy="1690.5" r="4.3"/>
<circle cx="401.0" cy="1685.4" r="4.3"/>
<circle cx="401.0" cy="1708.9" r="4.3"/>
<circle cx="401.4" cy="1685.0" r="4.3"/>
<circle cx="401.7" cy="1673.0" r="4.3"/>
<circle cx="402.1" cy="1684.0" r="4.3"/>
<circle cx="402.8" cy="1697.8" r="4.3"/>
<circle cx="402.8" cy="1687.7" r="4.3"/>
<circle cx="403.4" cy="1655.0" r="4.3"/>
<circle cx="403.7" cy="1653.9" r="4.3"/>
<circle cx="404.1" cy="1683.0" r="4.3"/>
<circle cx="404.1" cy="1666.2" r="4.3"/>
<circle cx="404.2" cy="1685.8" r="4.3"/>
<circle cx="404.3" cy="1695.2" r="4.3"/>
<circle cx="404.6" cy="1673.4" r="4.3"/>
<circle cx="404.7" cy="1678.8" r="4.3"/>
<circle cx="405.2" cy="1675.2" r="4.3"/>
<circle cx="405.3" cy="1685.5" r="4.3"/>
<circle cx="405.3" cy="1679.0" r="4.3"/>
<circle cx="405.3" cy="1705.1" r="4.3"/>
<circle cx="405.6" cy="1692.6" r="4.3"/>
<circle cx="406.1" cy="1701.8" r="4.3"/>
<circle cx="406.3" cy="1671.2" r="4.3"/>
<circle cx="406.5" cy="1671.9" r="4.3"/>
<circle cx="406.7" cy="1683.2" r="4.3"/>
<circle cx="407.1" cy="1673.6" r="4.3"/>
<circle cx="407.4" cy="1682.3" r="4.3"/>
<circle cx="408.3" cy="1694.0" r="4.3"/>
<circle cx="409.1" cy="1696.3" r="4.3"/>
<circle cx="409.2" cy="1695.9" r="4.3"/>
<circle cx="409.5" cy="1692.5" r="4.3"/>
<circle cx="410.2" cy="1684.8" r="4.3"/>
<circle cx="410.5" cy="1664.9" r="4.3"/>
<circle cx="410.5" cy="1700.0" r="4.3"/>
<circle cx="410.7" cy="1686.0" r="4.3"/>
<circle cx="410.8" cy="1677.8" r="4.3"/>
<circle cx="411.0" cy="1697.0" r="4.3"/>
<circle cx="411.3" cy="1682.1" r="4.3"/>
<circle cx="411.5" cy="1700.2" r="4.3"/>
<circle cx="412.2" cy="1692.2" r="4.3"/>
<circle cx="412.3" cy="1683.3" r="4.3"/>
<circle cx="412.4" cy="1696.4" r="4.3"/>
<circle cx="412.7" cy="1698.7" r="4.3"/>
<circle cx="412.7" cy="1682.1" r="4.3"/>
<circle cx="412.9" cy="1685.1" r="4.3"/>
<circle cx="413.1" cy="1685.4" r="4.3"/>
<circle cx="413.2" cy="1706.9" r="4.3"/>
<circle cx="413.2" cy="1698.8" r="4.3"/>
<circle cx="414.1" cy="1676.6" r="4.3"/>
<circle cx="414.2" cy="1651.1" r="4.3"/>
<circle cx="414.6" cy="1695.3" r="4.3"/>
<circle cx="414.6" cy="1668.6" r="4.3"/>
<circle cx="414.8" cy="1703.9" r="4.3"/>
<circle cx="415.4" cy="1697.4" r="4.3"/>
<circle cx="415.6" cy="1669.7" r="4.3"/>
<circle cx="415.9" cy="1679.5" r="4.3"/>
<circle cx="416.3" cy="1682.0" r="4.3"/>
<circle cx="416.7" cy="1687.1" r="4.3"/>
<circle cx="417.1" cy="1705.2" r="4.3"/>
<circle cx="417.5" cy="1679.7" r="4.3"/>
<circle cx="417.9" cy="1697.7" r="4.3"/>
<circle cx="417.9" cy="1688.0" r="4.3"/>
<circle cx="418.0" cy="1678.5" r="4.3"/>
<circle cx="418.5" cy="1687.9" r="4.3"/>
<circle cx="418.5" cy="1672.7" r="4.3"/>
<circle cx="418.6" cy="1680.3" r="4.3"/>
<circle cx="419.3" cy="1692.0" r="4.3"/>
<circle cx="419.7" cy="1688.6" r="4.3"/>
<circle cx="420.0" cy="1683.3" r="4.3"/>
<circle cx="420.9" cy="1665.6" r="4.3"/>
<circle cx="421.8" cy="1681.9" r="4.3"/>
<circle cx="422.0" cy="1705.2" r="4.3"/>
<circle cx="422.1" cy="1678.1" r="4.3"/>
<circle cx="422.2" cy="1695.2" r="4.3"/>
<circle cx="422.3" cy="1670.5" r="4.3"/>
<circle cx="422.6" cy="1662.8" r="4.3"/>
<circle cx="422.7" cy="1674.8" r="4.3"/>
<circle cx="423.0" cy="1692.9" r="4.3"/>
<circle cx="423.3" cy="1677.9" r="4.3"/>
<circle cx="423.3" cy="1665.3" r="4.3"/>
<circle cx="423.4" cy="1682.2" r="4.3"/>
<circle cx="423.5" cy="1687.9" r="4.3"/>
<circle cx="423.5" cy="1690.1" r="4.3"/>
<circle cx="423.9" cy="1690.3" r="4.3"/>
<circle cx="424.1" cy="1682.2" r="4.3"/>
<circle cx="424.3" cy="1687.1" r="4.3"/>
<circle cx="424.7" cy="1679.3" r="4.3"/>
<circle cx="424.8" cy="1681.5" r="4.3"/>
<circle cx="425.0" cy="1707.4" r="4.3"/>
<circle cx="425.0" cy="1681.7" r="4.3"/>
<circle cx="425.2" cy="1706.1" r="4.3"/>
<circle cx="425.8" cy="1677.9" r="4.3"/>
<circle cx="425.9" cy="1679.7" r="4.3"/>
<circle cx="426.3" cy="1686.8" r="4.3"/>
<circle cx="426.3" cy="1665.5" r="4.3"/>
<circle cx="426.4" cy="1684.5" r="4.3"/>
<circle cx="426.7" cy="1680.1" r="4.3"/>
<circle cx="426.7" cy="1678.7" r="4.3"/>
<circle cx="427.4" cy="1679.3" r="4.3"/>
<circle cx="427.6" cy="1690.3" r="4.3"/>
<circle cx="427.9" cy="1678.0" r="4.3"/>
<circle cx="428.3" cy="1674.6" r="4.3"/>
<circle cx="428.3" cy="1678.8" r="4.3"/>
<circle cx="428.5" cy="1686.8" r="4.3"/>
<circle cx="428.6" cy="1668.8" r="4.3"/>
<circle cx="428.7" cy="1677.4" r="4.3"/>
<circle cx="429.1" cy="1705.5" r="4.3"/>
<circle cx="429.7" cy="1704.3" r="4.3"/>
<circle cx="430.5" cy="1661.5" r="4.3"/>
<circle cx="430.6" cy="1693.7" r="4.3"/>
<circle cx="430.8" cy="1700.5" r="4.3"/>
<circle cx="431.2" cy="1687.3" r="4.3"/>
<circle cx="431.2" cy="1679.1" r="4.3"/>
<circle cx="431.3" cy="1675.7" r="4.3"/>
<circle cx="432.0" cy="1702.8" r="4.3"/>
<circle cx="432.0" cy="1717.2" r="4.3"/>
<circle cx="432.3" cy="1690.1" r="4.3"/>
<circle cx="432.5" cy="1689.0" r="4.3"/>
<circle cx="432.5" cy="1682.7" r="4.3"/>
<circle cx="433.1" cy="1696.3" r="4.3"/>
<circle cx="433.3" cy="1689.7" r="4.3"/>
<circle cx="433.6" cy="1684.2" r="4.3"/>
<circle cx="433.9" cy="1676.7" r="4.3"/>
<circle cx="434.0" cy="1693.9" r="4.3"/>
<circle cx="434.2" cy="1664.1" r="4.3"/>
<circle cx="434.3" cy="1693.0" r="4.3"/>
<circle cx="434.4" cy="1697.6" r="4.3"/>
<circle cx="434.6" cy="1703.3" r="4.3"/>
<circle cx="434.9" cy="1673.8" r="4.3"/>
<circle cx="435.0" cy="1677.1" r="4.3"/>
<circle cx="435.3" cy="1673.4" r="4.3"/>
<circle cx="435.5" cy="1690.8" r="4.3"/>
<circle cx="435.5" cy="1686.6" r="4.3"/>
<circle cx="435.8" cy="1677.2" r="4.3"/>
<circle cx="435.9" cy="1663.3" r="4.3"/>
<circle cx="435.9" cy="1683.2" r="4.3"/>
<circle cx="436.8" cy="1675.9" r="4.3"/>
<circle cx="437.2" cy="1681.4" r="4.3"/>
<circle cx="437.4" cy="1678.0" r="4.3"/>
<circle cx="437.7" cy="1718.1" r="4.3"/>
<circle cx="438.1" cy="1685.2" r="4.3"/>
<circle cx="438.1" cy="1689.6" r="4.3"/>
<circle cx="438.1" cy="1680.5" r="4.3"/>
<circle cx="438.3" cy="1673.9" r="4.3"/>
<circle cx="438.4" cy="1657.4" r="4.3"/>
<circle cx="438.5" cy="1690.4" r="4.3"/>
<circle cx="438.5" cy="1698.7" r="4.3"/>
<circle cx="438.7" cy="1676.9" r="4.3"/>
<circle cx="439.1" cy="1682.6" r="4.3"/>
<circle cx="439.7" cy="1689.3" r="4.3"/>
<circle cx="439.9" cy="1641.8" r="4.3"/>
<circle cx="440.2" cy="1667.7" r="4.3"/>
<circle cx="440.2" cy="1685.5" r="4.3"/>
<circle cx="440.6" cy="1685.7" r="4.3"/>
<circle cx="441.0" cy="1686.3" r="4.3"/>
<circle cx="441.1" cy="1673.5" r="4.3"/>
<circle cx="441.2" cy="1673.4" r="4.3"/>
<circle cx="441.2" cy="1682.2" r="4.3"/>
<circle cx="441.5" cy="1694.0" r="4.3"/>
<circle cx="441.5" cy="1663.5" r="4.3"/>
<circle cx="441.9" cy="1667.3" r="4.3"/>
<circle cx="442.2" cy="1678.9" r="4.3"/>
<circle cx="442.5" cy="1698.4" r="4.3"/>
<circle cx="442.8" cy="1665.7" r="4.3"/>
<circle cx="443.1" cy="1694.7" r="4.3"/>
<circle cx="443.2" cy="1682.2" r="4.3"/>
<circle cx="443.2" cy="1651.9" r="4.3"/>
<circle cx="443.3" cy="1685.2" r="4.3"/>
<circle cx="443.7" cy="1651.1" r="4.3"/>
<circle cx="443.9" cy="1686.8" r="4.3"/>
<circle cx="444.3" cy="1664.5" r="4.3"/>
<circle cx="444.4" cy="1688.0" r="4.3"/>
<circle cx="444.4" cy="1689.3" r="4.3"/>
<circle cx="445.3" cy="1697.5" r="4.3"/>
<circle cx="445.4" cy="1671.7" r="4.3"/>
<circle cx="445.5" cy="1697.0" r="4.3"/>
<circle cx="445.6" cy="1657.9" r="4.3"/>
<circle cx="446.0" cy="1687.5" r="4.3"/>
<circle cx="446.2" cy="1674.7" r="4.3"/>
<circle cx="446.3" cy="1703.4" r="4.3"/>
<circle cx="446.6" cy="1683.1" r="4.3"/>
<circle cx="446.6" cy="1697.6" r="4.3"/>
<circle cx="447.3" cy="1686.6" r="4.3"/>
<circle cx="447.4" cy="1663.3" r="4.3"/>
<circle cx="447.4" cy="1675.5" r="4.3"/>
<circle cx="448.0" cy="1666.3" r="4.3"/>
<circle cx="448.0" cy="1666.0" r="4.3"/>
<circle cx="448.1" cy="1700.8" r="4.3"/>
<circle cx="448.2" cy="1677.7" r="4.3"/>
<circle cx="449.1" cy="1674.2" r="4.3"/>
<circle cx="449.7" cy="1698.1" r="4.3"/>
<circle cx="451.7" cy="1694.2" r="4.3"/>
<circle cx="451.7" cy="1682.3" r="4.3"/>
<circle cx="452.0" cy="1662.5" r="4.3"/>
<circle cx="452.1" cy="1686.8" r="4.3"/>
<circle cx="452.3" cy="1668.2" r="4.3"/>
<circle cx="452.3" cy="1619.3" r="4.3"/>
<circle cx="452.6" cy="1687.1" r="4.3"/>
<circle cx="453.1" cy="1678.3" r="4.3"/>
<circle cx="453.3" cy="1693.5" r="4.3"/>
<circle cx="453.6" cy="1687.9" r="4.3"/>
<circle cx="453.7" cy="1682.4" r="4.3"/>
<circle cx="453.8" cy="1676.3" r="4.3"/>
<circle cx="453.9" cy="1696.7" r="4.3"/>
<circle cx="453.9" cy="1676.3" r="4.3"/>
<circle cx="454.9" cy="1682.0" r="4.3"/>
<circle cx="455.4" cy="1689.5" r="4.3"/>
<circle cx="455.7" cy="1673.9" r="4.3"/>
<circle cx="455.8" cy="1684.6" r="4.3"/>
<circle cx="456.3" cy="1671.5" r="4.3"/>
<circle cx="456.6" cy="1667.5" r="4.3"/>
<circle cx="457.4" cy="1654.4" r="4.3"/>
<circle cx="457.4" cy="1683.9" r="4.3"/>
<circle cx="457.9" cy="1647.2" r="4.3"/>
<circle cx="458.1" cy="1671.3" r="4.3"/>
<circle cx="458.1" cy="1680.3" r="4.3"/>
<circle cx="458.2" cy="1670.7" r="4.3"/>
<circle cx="458.5" cy="1662.6" r="4.3"/>
<circle cx="458.9" cy="1690.7" r="4.3"/>
<circle cx="459.1" cy="1680.7" r="4.3"/>
<circle cx="459.1" cy="1685.5" r="4.3"/>
<circle cx="459.5" cy="1699.2" r="4.3"/>
<circle cx="459.6" cy="1697.8" r="4.3"/>
<circle cx="459.9" cy="1580.5" r="4.3"/>
<circle cx="460.1" cy="1672.0" r="4.3"/>
<circle cx="460.7" cy="1691.9" r="4.3"/>
<circle cx="460.8" cy="1657.6" r="4.3"/>
<circle cx="461.0" cy="1627.9" r="4.3"/>
<circle cx="461.1" cy="1675.7" r="4.3"/>
<circle cx="461.4" cy="1670.4" r="4.3"/>
<circle cx="461.5" cy="1691.1" r="4.3"/>
<circle cx="461.6" cy="1682.4" r="4.3"/>
<circle cx="461.7" cy="1671.2" r="4.3"/>
<circle cx="462.1" cy="1662.9" r="4.3"/>
<circle cx="463.2" cy="1684.2" r="4.3"/>
<circle cx="463.3" cy="1684.7" r="4.3"/>
<circle cx="463.5" cy="1680.7" r="4.3"/>
<circle cx="463.8" cy="1674.3" r="4.3"/>
<circle cx="463.8" cy="1672.5" r="4.3"/>
<circle cx="464.0" cy="1679.2" r="4.3"/>
<circle cx="464.0" cy="1707.6" r="4.3"/>
<circle cx="464.3" cy="1668.1" r="4.3"/>
<circle cx="464.6" cy="1679.1" r="4.3"/>
<circle cx="465.0" cy="1685.0" r="4.3"/>
<circle cx="465.2" cy="1527.4" r="4.3"/>
<circle cx="465.5" cy="1552.0" r="4.3"/>
<circle cx="466.1" cy="1699.4" r="4.3"/>
<circle cx="466.4" cy="1691.5" r="4.3"/>
<circle cx="466.8" cy="1685.9" r="4.3"/>
<circle cx="466.8" cy="1675.8" r="4.3"/>
<circle cx="467.1" cy="1674.4" r="4.3"/>
<circle cx="467.3" cy="1655.5" r="4.3"/>
<circle cx="467.6" cy="1638.0" r="4.3"/>
<circle cx="467.6" cy="1669.4" r="4.3"/>
<circle cx="468.9" cy="1665.8" r="4.3"/>
<circle cx="469.1" cy="1642.5" r="4.3"/>
<circle cx="469.5" cy="1676.2" r="4.3"/>
<circle cx="469.9" cy="1694.3" r="4.3"/>
<circle cx="470.1" cy="1702.4" r="4.3"/>
<circle cx="470.5" cy="1701.2" r="4.3"/>
<circle cx="470.5" cy="1672.7" r="4.3"/>
<circle cx="471.1" cy="1660.2" r="4.3"/>
<circle cx="471.7" cy="1676.3" r="4.3"/>
<circle cx="471.9" cy="1679.7" r="4.3"/>
<circle cx="472.0" cy="1659.5" r="4.3"/>
<circle cx="472.8" cy="1680.3" r="4.3"/>
<circle cx="473.1" cy="1602.1" r="4.3"/>
<circle cx="473.4" cy="1676.4" r="4.3"/>
<circle cx="473.6" cy="1661.1" r="4.3"/>
<circle cx="474.0" cy="1677.9" r="4.3"/>
<circle cx="474.3" cy="1681.5" r="4.3"/>
<circle cx="474.4" cy="1671.5" r="4.3"/>
<circle cx="474.6" cy="1676.5" r="4.3"/>
<circle cx="474.6" cy="1647.8" r="4.3"/>
<circle cx="474.8" cy="1688.7" r="4.3"/>
<circle cx="474.8" cy="1671.8" r="4.3"/>
<circle cx="475.2" cy="1673.4" r="4.3"/>
<circle cx="475.5" cy="1685.0" r="4.3"/>
<circle cx="475.6" cy="1680.3" r="4.3"/>
<circle cx="475.8" cy="1673.0" r="4.3"/>
<circle cx="476.2" cy="1678.2" r="4.3"/>
<circle cx="476.3" cy="1674.9" r="4.3"/>
<circle cx="476.6" cy="1645.6" r="4.3"/>
<circle cx="476.8" cy="1672.0" r="4.3"/>
<circle cx="477.2" cy="1686.7" r="4.3"/>
<circle cx="477.3" cy="1681.0" r="4.3"/>
<circle cx="477.4" cy="1666.9" r="4.3"/>
<circle cx="477.4" cy="1676.3" r="4.3"/>
<circle cx="477.7" cy="1671.9" r="4.3"/>
<circle cx="478.0" cy="1672.7" r="4.3"/>
<circle cx="478.2" cy="1681.6" r="4.3"/>
<circle cx="478.3" cy="1679.0" r="4.3"/>
<circle cx="478.5" cy="1686.4" r="4.3"/>
<circle cx="478.5" cy="1669.1" r="4.3"/>
<circle cx="478.5" cy="1669.1" r="4.3"/>
<circle cx="478.8" cy="1670.8" r="4.3"/>
<circle cx="478.8" cy="1662.8" r="4.3"/>
<circle cx="478.9" cy="1671.4" r="4.3"/>
<circle cx="479.8" cy="1680.0" r="4.3"/>
<circle cx="480.7" cy="1644.3" r="4.3"/>
<circle cx="480.9" cy="1670.6" r="4.3"/>
<circle cx="481.6" cy="1682.6" r="4.3"/>
<circle cx="482.7" cy="1678.2" r="4.3"/>
<circle cx="484.2" cy="1638.8" r="4.3"/>
<circle cx="484.2" cy="1699.7" r="4.3"/>
<circle cx="484.3" cy="1615.5" r="4.3"/>
<circle cx="484.9" cy="1685.8" r="4.3"/>
<circle cx="486.2" cy="1656.4" r="4.3"/>
<circle cx="486.3" cy="1648.8" r="4.3"/>
<circle cx="487.0" cy="1677.9" r="4.3"/>
<circle cx="488.1" cy="1663.4" r="4.3"/>
<circle cx="488.6" cy="1673.8" r="4.3"/>
<circle cx="488.8" cy="1674.0" r="4.3"/>
<circle cx="488.9" cy="1672.8" r="4.3"/>
<circle cx="489.0" cy="1660.7" r="4.3"/>
<circle cx="490.0" cy="1670.5" r="4.3"/>
<circle cx="490.7" cy="1662.5" r="4.3"/>
<circle cx="490.8" cy="1666.3" r="4.3"/>
<circle cx="490.8" cy="1670.4" r="4.3"/>
<circle cx="491.0" cy="1683.4" r="4.3"/>
<circle cx="491.1" cy="1672.4" r="4.3"/>
<circle cx="491.2" cy="1675.9" r="4.3"/>
<circle cx="491.6" cy="1672.4" r="4.3"/>
<circle cx="491.8" cy="1683.2" r="4.3"/>
<circle cx="492.4" cy="1662.5" r="4.3"/>
<circle cx="492.6" cy="1683.8" r="4.3"/>
<circle cx="492.6" cy="1670.7" r="4.3"/>
<circle cx="493.6" cy="1678.4" r="4.3"/>
<circle cx="494.4" cy="1653.2" r="4.3"/>
<circle cx="494.5" cy="1672.7" r="4.3"/>
<circle cx="494.6" cy="1621.9" r="4.3"/>
<circle cx="494.9" cy="1671.4" r="4.3"/>
<circle cx="495.2" cy="1639.8" r="4.3"/>
<circle cx="495.5" cy="1666.3" r="4.3"/>
<circle cx="495.6" cy="1656.4" r="4.3"/>
<circle cx="496.2" cy="1534.7" r="4.3"/>
<circle cx="496.4" cy="1688.3" r="4.3"/>
<circle cx="497.0" cy="1660.7" r="4.3"/>
<circle cx="497.4" cy="1693.5" r="4.3"/>
<circle cx="498.2" cy="1540.9" r="4.3"/>
<circle cx="498.2" cy="1738.0" r="4.3"/>
<circle cx="498.7" cy="1637.3" r="4.3"/>
<circle cx="498.9" cy="1620.0" r="4.3"/>
<circle cx="500.2" cy="1625.2" r="4.3"/>
<circle cx="501.1" cy="1622.3" r="4.3"/>
<circle cx="502.5" cy="1680.5" r="4.3"/>
<circle cx="502.6" cy="1627.3" r="4.3"/>
<circle cx="502.6" cy="1628.7" r="4.3"/>
<circle cx="502.7" cy="1650.7" r="4.3"/>
<circle cx="502.8" cy="1635.4" r="4.3"/>
<circle cx="504.0" cy="1569.9" r="4.3"/>
<circle cx="504.4" cy="1643.7" r="4.3"/>
<circle cx="505.4" cy="1586.4" r="4.3"/>
<circle cx="505.5" cy="1525.2" r="4.3"/>
<circle cx="505.8" cy="1592.1" r="4.3"/>
<circle cx="506.7" cy="1627.7" r="4.3"/>
<circle cx="508.4" cy="1609.9" r="4.3"/>
<circle cx="509.4" cy="1536.9" r="4.3"/>
<circle cx="509.6" cy="1633.5" r="4.3"/>
<circle cx="509.9" cy="1634.9" r="4.3"/>
<circle cx="510.1" cy="1652.9" r="4.3"/>
<circle cx="510.3" cy="1654.6" r="4.3"/>
<circle cx="510.7" cy="1630.7" r="4.3"/>
<circle cx="510.9" cy="1604.3" r="4.3"/>
<circle cx="511.6" cy="1599.2" r="4.3"/>
<circle cx="511.8" cy="1665.8" r="4.3"/>
<circle cx="512.4" cy="1558.1" r="4.3"/>
<circle cx="512.5" cy="1672.4" r="4.3"/>
<circle cx="513.0" cy="1601.8" r="4.3"/>
<circle cx="513.9" cy="1666.2" r="4.3"/>
<circle cx="514.1" cy="1631.4" r="4.3"/>
<circle cx="514.2" cy="1621.2" r="4.3"/>
<circle cx="514.5" cy="1609.1" r="4.3"/>
<circle cx="515.6" cy="1636.5" r="4.3"/>
<circle cx="515.7" cy="1669.3" r="4.3"/>
<circle cx="515.9" cy="1695.6" r="4.3"/>
<circle cx="515.9" cy="1616.4" r="4.3"/>
<circle cx="516.1" cy="1649.6" r="4.3"/>
<circle cx="516.2" cy="1628.6" r="4.3"/>
<circle cx="516.7" cy="1585.3" r="4.3"/>
<circle cx="516.9" cy="1631.2" r="4.3"/>
<circle cx="517.1" cy="1583.6" r="4.3"/>
<circle cx="517.5" cy="1616.6" r="4.3"/>
<circle cx="518.7" cy="1595.0" r="4.3"/>
<circle cx="518.8" cy="1655.9" r="4.3"/>
<circle cx="519.7" cy="1623.4" r="4.3"/>
<circle cx="520.6" cy="1566.9" r="4.3"/>
<circle cx="521.3" cy="1613.4" r="4.3"/>
<circle cx="524.5" cy="1665.2" r="4.3"/>
<circle cx="525.3" cy="1636.1" r="4.3"/>
<circle cx="525.6" cy="1611.3" r="4.3"/>
<circle cx="526.0" cy="1555.9" r="4.3"/>
<circle cx="526.3" cy="1626.8" r="4.3"/>
<circle cx="526.6" cy="1591.3" r="4.3"/>
<circle cx="527.1" cy="1605.6" r="4.3"/>
<circle cx="527.3" cy="1619.7" r="4.3"/>
<circle cx="527.4" cy="1652.6" r="4.3"/>
<circle cx="527.5" cy="1679.0" r="4.3"/>
<circle cx="527.6" cy="1660.9" r="4.3"/>
<circle cx="528.4" cy="1636.0" r="4.3"/>
<circle cx="528.9" cy="1652.7" r="4.3"/>
<circle cx="529.8" cy="1629.0" r="4.3"/>
<circle cx="530.0" cy="1587.6" r="4.3"/>
<circle cx="530.0" cy="1596.1" r="4.3"/>
<circle cx="530.2" cy="1648.9" r="4.3"/>
<circle cx="533.0" cy="1675.0" r="4.3"/>
<circle cx="535.6" cy="1625.1" r="4.3"/>
<circle cx="536.6" cy="1684.8" r="4.3"/>
<circle cx="536.8" cy="1675.5" r="4.3"/>
<circle cx="536.8" cy="1586.6" r="4.3"/>
<circle cx="537.6" cy="1660.8" r="4.3"/>
<circle cx="539.6" cy="1613.1" r="4.3"/>
<circle cx="539.8" cy="1596.1" r="4.3"/>
<circle cx="540.2" cy="1707.5" r="4.3"/>
<circle cx="540.8" cy="1519.0" r="4.3"/>
<circle cx="543.0" cy="1677.2" r="4.3"/>
<circle cx="543.2" cy="1658.4" r="4.3"/>
<circle cx="546.4" cy="1621.5" r="4.3"/>
<circle cx="546.5" cy="1606.1" r="4.3"/>
<circle cx="546.6" cy="1594.6" r="4.3"/>
<circle cx="548.3" cy="1653.3" r="4.3"/>
<circle cx="550.0" cy="1662.0" r="4.3"/>
<circle cx="550.1" cy="1642.7" r="4.3"/>
<circle cx="550.3" cy="1596.0" r="4.3"/>
<circle cx="550.3" cy="1562.9" r="4.3"/>
<circle cx="551.5" cy="1509.7" r="4.3"/>
<circle cx="552.0" cy="1644.0" r="4.3"/>
<circle cx="554.1" cy="1527.3" r="4.3"/>
<circle cx="555.6" cy="1613.2" r="4.3"/>
<circle cx="556.1" cy="1564.0" r="4.3"/>
<circle cx="556.4" cy="1627.6" r="4.3"/>
<circle cx="557.2" cy="1580.9" r="4.3"/>
<circle cx="557.4" cy="1656.7" r="4.3"/>
<circle cx="557.5" cy="1674.9" r="4.3"/>
<circle cx="558.0" cy="1565.9" r="4.3"/>
<circle cx="558.1" cy="1521.2" r="4.3"/>
<circle cx="558.2" cy="1613.1" r="4.3"/>
<circle cx="558.3" cy="1602.3" r="4.3"/>
<circle cx="558.4" cy="1686.6" r="4.3"/>
<circle cx="558.8" cy="1573.0" r="4.3"/>
<circle cx="559.2" cy="1613.8" r="4.3"/>
<circle cx="559.5" cy="1574.1" r="4.3"/>
<circle cx="561.1" cy="1642.8" r="4.3"/>
<circle cx="561.6" cy="1605.2" r="4.3"/>
<circle cx="562.0" cy="1624.6" r="4.3"/>
<circle cx="563.2" cy="1647.3" r="4.3"/>
<circle cx="563.7" cy="1635.0" r="4.3"/>
<circle cx="568.1" cy="1563.0" r="4.3"/>
<circle cx="568.4" cy="1644.9" r="4.3"/>
<circle cx="569.4" cy="1644.4" r="4.3"/>
<circle cx="571.7" cy="1575.6" r="4.3"/>
<circle cx="573.1" cy="1645.2" r="4.3"/>
<circle cx="573.2" cy="1538.5" r="4.3"/>
<circle cx="576.6" cy="1558.6" r="4.3"/>
<circle cx="578.4" cy="1655.2" r="4.3"/>
<circle cx="578.5" cy="1576.7" r="4.3"/>
<circle cx="580.8" cy="1541.5" r="4.3"/>
<circle cx="583.5" cy="1599.8" r="4.3"/>
<circle cx="584.4" cy="1598.9" r="4.3"/>
<circle cx="584.7" cy="1678.0" r="4.3"/>
<circle cx="586.7" cy="1607.0" r="4.3"/>
<circle cx="589.6" cy="1570.1" r="4.3"/>
<circle cx="589.6" cy="1577.7" r="4.3"/>
<circle cx="590.0" cy="1606.6" r="4.3"/>
<circle cx="590.8" cy="1629.0" r="4.3"/>
<circle cx="591.2" cy="1479.8" r="4.3"/>
<circle cx="591.6" cy="1505.9" r="4.3"/>
<circle cx="593.8" cy="1566.6" r="4.3"/>
<circle cx="597.7" cy="1551.4" r="4.3"/>
<circle cx="598.1" cy="1647.5" r="4.3"/>
<circle cx="599.2" cy="1649.3" r="4.3"/>
<circle cx="599.6" cy="1596.8" r="4.3"/>
<circle cx="599.6" cy="1564.5" r="4.3"/>
<circle cx="600.5" cy="1552.7" r="4.3"/>
<circle cx="600.6" cy="1650.2" r="4.3"/>
<circle cx="602.3" cy="1611.2" r="4.3"/>
<circle cx="602.8" cy="1615.1" r="4.3"/>
<circle cx="603.1" cy="1576.5" r="4.3"/>
<circle cx="603.6" cy="1618.1" r="4.3"/>
<circle cx="604.1" cy="1520.5" r="4.3"/>
<circle cx="605.7" cy="1572.2" r="4.3"/>
<circle cx="605.9" cy="1641.2" r="4.3"/>
<circle cx="607.0" cy="1569.8" r="4.3"/>
<circle cx="608.2" cy="1586.6" r="4.3"/>
<circle cx="608.2" cy="1564.8" r="4.3"/>
<circle cx="609.0" cy="1575.7" r="4.3"/>
<circle cx="609.0" cy="1555.2" r="4.3"/>
<circle cx="609.5" cy="1538.7" r="4.3"/>
<circle cx="610.0" cy="1502.4" r="4.3"/>
<circle cx="610.8" cy="1643.4" r="4.3"/>
<circle cx="611.4" cy="1536.6" r="4.3"/>
<circle cx="613.2" cy="1577.3" r="4.3"/>
<circle cx="613.4" cy="1640.9" r="4.3"/>
<circle cx="615.8" cy="1586.9" r="4.3"/>
<circle cx="616.0" cy="1645.8" r="4.3"/>
<circle cx="616.4" cy="1541.8" r="4.3"/>
<circle cx="617.0" cy="1566.9" r="4.3"/>
<circle cx="618.6" cy="1563.5" r="4.3"/>
<circle cx="620.1" cy="1589.1" r="4.3"/>
<circle cx="620.6" cy="1586.7" r="4.3"/>
<circle cx="620.7" cy="1568.5" r="4.3"/>
<circle cx="620.8" cy="1610.2" r="4.3"/>
<circle cx="621.4" cy="1556.7" r="4.3"/>
<circle cx="621.5" cy="1520.1" r="4.3"/>
<circle cx="621.7" cy="1530.7" r="4.3"/>
<circle cx="622.3" cy="1533.4" r="4.3"/>
<circle cx="622.8" cy="1639.2" r="4.3"/>
<circle cx="623.8" cy="1581.1" r="4.3"/>
<circle cx="625.7" cy="1510.6" r="4.3"/>
<circle cx="626.3" cy="1624.0" r="4.3"/>
<circle cx="626.3" cy="1585.5" r="4.3"/>
<circle cx="628.9" cy="1540.4" r="4.3"/>
<circle cx="632.4" cy="1548.7" r="4.3"/>
<circle cx="633.1" cy="1507.2" r="4.3"/>
<circle cx="637.1" cy="1586.8" r="4.3"/>
<circle cx="641.9" cy="1508.0" r="4.3"/>
<circle cx="641.9" cy="1564.1" r="4.3"/>
<circle cx="644.2" cy="1560.7" r="4.3"/>
<circle cx="645.9" cy="1579.5" r="4.3"/>
<circle cx="647.0" cy="1555.0" r="4.3"/>
<circle cx="648.3" cy="1620.0" r="4.3"/>
<circle cx="648.4" cy="1591.2" r="4.3"/>
<circle cx="649.7" cy="1600.4" r="4.3"/>
<circle cx="651.7" cy="1607.1" r="4.3"/>
<circle cx="653.4" cy="1568.5" r="4.3"/>
<circle cx="653.8" cy="1588.5" r="4.3"/>
<circle cx="654.7" cy="1568.6" r="4.3"/>
<circle cx="655.4" cy="1579.3" r="4.3"/>
<circle cx="656.0" cy="1526.8" r="4.3"/>
<circle cx="656.6" cy="1530.6" r="4.3"/>
<circle cx="658.2" cy="1552.5" r="4.3"/>
<circle cx="658.9" cy="1602.2" r="4.3"/>
<circle cx="660.8" cy="1566.4" r="4.3"/>
<circle cx="662.0" cy="1586.1" r="4.3"/>
<circle cx="662.1" cy="1593.2" r="4.3"/>
<circle cx="663.9" cy="1506.5" r="4.3"/>
<circle cx="665.2" cy="1575.0" r="4.3"/>
<circle cx="665.5" cy="1566.2" r="4.3"/>
<circle cx="665.7" cy="1580.5" r="4.3"/>
<circle cx="666.6" cy="1555.0" r="4.3"/>
<circle cx="667.3" cy="1606.2" r="4.3"/>
<circle cx="667.7" cy="1592.5" r="4.3"/>
<circle cx="670.7" cy="1491.1" r="4.3"/>
<circle cx="671.8" cy="1484.2" r="4.3"/>
<circle cx="671.9" cy="1571.3" r="4.3"/>
<circle cx="677.6" cy="1545.3" r="4.3"/>
<circle cx="678.9" cy="1551.1" r="4.3"/>
<circle cx="679.1" cy="1566.5" r="4.3"/>
<circle cx="679.4" cy="1557.2" r="4.3"/>
<circle cx="681.3" cy="1553.1" r="4.3"/>
<circle cx="684.5" cy="1442.7" r="4.3"/>
<circle cx="685.5" cy="1503.3" r="4.3"/>
<circle cx="686.7" cy="1595.4" r="4.3"/>
<circle cx="687.2" cy="1534.5" r="4.3"/>
<circle cx="687.3" cy="1540.3" r="4.3"/>
<circle cx="687.4" cy="1567.9" r="4.3"/>
<circle cx="690.5" cy="1567.9" r="4.3"/>
<circle cx="690.6" cy="1467.5" r="4.3"/>
<circle cx="691.1" cy="1506.4" r="4.3"/>
<circle cx="691.5" cy="1635.8" r="4.3"/>
<circle cx="691.8" cy="1514.7" r="4.3"/>
<circle cx="692.0" cy="1633.5" r="4.3"/>
<circle cx="692.3" cy="1597.2" r="4.3"/>
<circle cx="695.0" cy="1476.8" r="4.3"/>
<circle cx="695.2" cy="1418.4" r="4.3"/>
<circle cx="698.6" cy="1558.0" r="4.3"/>
<circle cx="698.8" cy="1474.3" r="4.3"/>
<circle cx="699.3" cy="1482.6" r="4.3"/>
<circle cx="699.4" cy="1496.8" r="4.3"/>
<circle cx="700.8" cy="1624.0" r="4.3"/>
<circle cx="701.0" cy="1496.9" r="4.3"/>
<circle cx="701.9" cy="1566.1" r="4.3"/>
<circle cx="703.6" cy="1450.8" r="4.3"/>
<circle cx="703.7" cy="1504.8" r="4.3"/>
<circle cx="705.0" cy="1499.9" r="4.3"/>
<circle cx="705.1" cy="1565.6" r="4.3"/>
<circle cx="706.7" cy="1536.8" r="4.3"/>
<circle cx="706.9" cy="1531.0" r="4.3"/>
<circle cx="708.2" cy="1531.7" r="4.3"/>
<circle cx="708.9" cy="1582.4" r="4.3"/>
<circle cx="712.0" cy="1525.1" r="4.3"/>
<circle cx="712.1" cy="1505.8" r="4.3"/>
<circle cx="712.5" cy="1587.1" r="4.3"/>
<circle cx="714.5" cy="1587.7" r="4.3"/>
<circle cx="714.6" cy="1577.1" r="4.3"/>
<circle cx="718.2" cy="1509.3" r="4.3"/>
<circle cx="719.1" cy="1646.8" r="4.3"/>
<circle cx="719.5" cy="1584.7" r="4.3"/>
<circle cx="720.3" cy="1613.6" r="4.3"/>
<circle cx="721.0" cy="1550.3" r="4.3"/>
<circle cx="723.2" cy="1572.5" r="4.3"/>
<circle cx="724.5" cy="1533.0" r="4.3"/>
<circle cx="725.9" cy="1596.6" r="4.3"/>
<circle cx="726.9" cy="1571.2" r="4.3"/>
<circle cx="727.3" cy="1581.3" r="4.3"/>
<circle cx="728.0" cy="1544.6" r="4.3"/>
<circle cx="728.2" cy="1516.1" r="4.3"/>
<circle cx="728.9" cy="1531.4" r="4.3"/>
<circle cx="730.0" cy="1597.0" r="4.3"/>
<circle cx="730.7" cy="1639.0" r="4.3"/>
<circle cx="732.2" cy="1552.2" r="4.3"/>
<circle cx="732.6" cy="1469.2" r="4.3"/>
<circle cx="732.7" cy="1486.9" r="4.3"/>
<circle cx="732.8" cy="1517.2" r="4.3"/>
<circle cx="735.2" cy="1512.3" r="4.3"/>
<circle cx="736.9" cy="1531.1" r="4.3"/>
<circle cx="736.9" cy="1576.6" r="4.3"/>
<circle cx="737.0" cy="1571.5" r="4.3"/>
<circle cx="738.3" cy="1518.4" r="4.3"/>
<circle cx="739.3" cy="1486.3" r="4.3"/>
<circle cx="740.5" cy="1513.0" r="4.3"/>
<circle cx="740.8" cy="1602.2" r="4.3"/>
<circle cx="741.6" cy="1512.5" r="4.3"/>
<circle cx="742.2" cy="1483.6" r="4.3"/>
<circle cx="742.8" cy="1552.9" r="4.3"/>
<circle cx="748.4" cy="1547.3" r="4.3"/>
<circle cx="748.8" cy="1504.7" r="4.3"/>
<circle cx="749.0" cy="1528.8" r="4.3"/>
<circle cx="749.1" cy="1555.6" r="4.3"/>
<circle cx="749.2" cy="1487.4" r="4.3"/>
<circle cx="750.0" cy="1513.1" r="4.3"/>
<circle cx="751.3" cy="1502.4" r="4.3"/>
<circle cx="751.7" cy="1501.7" r="4.3"/>
<circle cx="751.9" cy="1555.9" r="4.3"/>
<circle cx="752.3" cy="1578.1" r="4.3"/>
<circle cx="753.5" cy="1422.0" r="4.3"/>
<circle cx="754.3" cy="1558.7" r="4.3"/>
<circle cx="754.3" cy="1515.0" r="4.3"/>
<circle cx="756.4" cy="1535.2" r="4.3"/>
<circle cx="757.0" cy="1498.6" r="4.3"/>
<circle cx="758.1" cy="1445.5" r="4.3"/>
<circle cx="758.9" cy="1495.6" r="4.3"/>
<circle cx="761.3" cy="1482.3" r="4.3"/>
<circle cx="761.4" cy="1425.8" r="4.3"/>
<circle cx="762.9" cy="1459.6" r="4.3"/>
<circle cx="764.1" cy="1476.8" r="4.3"/>
<circle cx="764.2" cy="1532.9" r="4.3"/>
<circle cx="765.1" cy="1564.7" r="4.3"/>
<circle cx="769.4" cy="1466.1" r="4.3"/>
<circle cx="769.9" cy="1488.8" r="4.3"/>
<circle cx="771.3" cy="1529.5" r="4.3"/>
<circle cx="772.1" cy="1575.8" r="4.3"/>
<circle cx="774.2" cy="1496.9" r="4.3"/>
<circle cx="775.5" cy="1601.9" r="4.3"/>
<circle cx="776.0" cy="1521.6" r="4.3"/>
<circle cx="776.7" cy="1621.3" r="4.3"/>
<circle cx="777.8" cy="1490.8" r="4.3"/>
<circle cx="779.1" cy="1445.0" r="4.3"/>
<circle cx="779.7" cy="1498.1" r="4.3"/>
<circle cx="780.0" cy="1482.7" r="4.3"/>
<circle cx="781.8" cy="1515.0" r="4.3"/>
<circle cx="782.9" cy="1490.8" r="4.3"/>
<circle cx="783.0" cy="1513.7" r="4.3"/>
<circle cx="783.5" cy="1518.4" r="4.3"/>
<circle cx="784.3" cy="1501.7" r="4.3"/>
<circle cx="784.6" cy="1491.4" r="4.3"/>
<circle cx="784.8" cy="1523.4" r="4.3"/>
<circle cx="784.8" cy="1540.8" r="4.3"/>
<circle cx="785.4" cy="1595.2" r="4.3"/>
<circle cx="786.4" cy="1495.6" r="4.3"/>
<circle cx="787.1" cy="1536.4" r="4.3"/>
<circle cx="789.6" cy="1521.7" r="4.3"/>
<circle cx="790.0" cy="1654.0" r="4.3"/>
<circle cx="790.1" cy="1510.6" r="4.3"/>
<circle cx="790.3" cy="1420.0" r="4.3"/>
<circle cx="790.3" cy="1509.1" r="4.3"/>
<circle cx="790.5" cy="1518.1" r="4.3"/>
<circle cx="790.7" cy="1540.2" r="4.3"/>
<circle cx="792.0" cy="1488.9" r="4.3"/>
<circle cx="792.2" cy="1536.7" r="4.3"/>
<circle cx="792.6" cy="1559.1" r="4.3"/>
<circle cx="793.1" cy="1438.8" r="4.3"/>
<circle cx="793.4" cy="1502.4" r="4.3"/>
<circle cx="794.0" cy="1497.6" r="4.3"/>
<circle cx="794.9" cy="1523.1" r="4.3"/>
<circle cx="795.3" cy="1481.2" r="4.3"/>
<circle cx="797.0" cy="1538.5" r="4.3"/>
<circle cx="797.1" cy="1499.9" r="4.3"/>
<circle cx="799.6" cy="1469.0" r="4.3"/>
<circle cx="799.9" cy="1557.6" r="4.3"/>
<circle cx="800.9" cy="1596.5" r="4.3"/>
<circle cx="803.0" cy="1513.8" r="4.3"/>
<circle cx="803.9" cy="1530.4" r="4.3"/>
<circle cx="804.0" cy="1599.9" r="4.3"/>
<circle cx="804.3" cy="1463.9" r="4.3"/>
<circle cx="805.9" cy="1510.9" r="4.3"/>
<circle cx="807.6" cy="1472.4" r="4.3"/>
<circle cx="808.3" cy="1510.2" r="4.3"/>
<circle cx="810.2" cy="1530.4" r="4.3"/>
<circle cx="810.9" cy="1535.8" r="4.3"/>
<circle cx="811.0" cy="1496.8" r="4.3"/>
<circle cx="814.0" cy="1460.0" r="4.3"/>
<circle cx="814.7" cy="1452.6" r="4.3"/>
<circle cx="815.1" cy="1514.5" r="4.3"/>
<circle cx="816.3" cy="1544.5" r="4.3"/>
<circle cx="817.4" cy="1464.4" r="4.3"/>
<circle cx="818.6" cy="1472.4" r="4.3"/>
<circle cx="819.2" cy="1528.8" r="4.3"/>
<circle cx="819.8" cy="1521.4" r="4.3"/>
<circle cx="820.1" cy="1457.4" r="4.3"/>
<circle cx="820.5" cy="1508.6" r="4.3"/>
<circle cx="820.8" cy="1548.1" r="4.3"/>
<circle cx="820.8" cy="1439.6" r="4.3"/>
<circle cx="820.9" cy="1464.7" r="4.3"/>
<circle cx="822.2" cy="1463.9" r="4.3"/>
<circle cx="823.9" cy="1492.4" r="4.3"/>
<circle cx="824.4" cy="1519.0" r="4.3"/>
<circle cx="826.0" cy="1509.3" r="4.3"/>
<circle cx="826.9" cy="1567.7" r="4.3"/>
<circle cx="827.6" cy="1455.2" r="4.3"/>
<circle cx="828.1" cy="1574.7" r="4.3"/>
<circle cx="829.4" cy="1490.2" r="4.3"/>
<circle cx="829.7" cy="1538.9" r="4.3"/>
<circle cx="830.0" cy="1507.3" r="4.3"/>
<circle cx="830.1" cy="1554.5" r="4.3"/>
<circle cx="831.0" cy="1508.8" r="4.3"/>
<circle cx="831.2" cy="1535.0" r="4.3"/>
<circle cx="831.8" cy="1398.6" r="4.3"/>
<circle cx="832.0" cy="1416.1" r="4.3"/>
<circle cx="832.1" cy="1499.4" r="4.3"/>
<circle cx="833.6" cy="1475.5" r="4.3"/>
<circle cx="834.1" cy="1527.3" r="4.3"/>
<circle cx="838.5" cy="1512.2" r="4.3"/>
<circle cx="840.0" cy="1532.7" r="4.3"/>
<circle cx="841.7" cy="1567.3" r="4.3"/>
<circle cx="842.3" cy="1510.6" r="4.3"/>
<circle cx="843.4" cy="1549.5" r="4.3"/>
<circle cx="844.5" cy="1526.0" r="4.3"/>
<circle cx="844.6" cy="1482.6" r="4.3"/>
<circle cx="844.6" cy="1483.0" r="4.3"/>
<circle cx="845.4" cy="1491.4" r="4.3"/>
<circle cx="845.9" cy="1476.0" r="4.3"/>
<circle cx="846.3" cy="1520.6" r="4.3"/>
<circle cx="847.1" cy="1550.8" r="4.3"/>
<circle cx="847.7" cy="1511.1" r="4.3"/>
<circle cx="853.7" cy="1557.0" r="4.3"/>
<circle cx="854.2" cy="1470.5" r="4.3"/>
<circle cx="855.0" cy="1484.0" r="4.3"/>
<circle cx="855.6" cy="1560.7" r="4.3"/>
<circle cx="855.8" cy="1519.3" r="4.3"/>
<circle cx="856.8" cy="1513.4" r="4.3"/>
<circle cx="859.2" cy="1536.3" r="4.3"/>
<circle cx="860.0" cy="1470.7" r="4.3"/>
<circle cx="861.4" cy="1510.6" r="4.3"/>
<circle cx="862.0" cy="1473.1" r="4.3"/>
<circle cx="864.1" cy="1547.1" r="4.3"/>
<circle cx="864.5" cy="1542.8" r="4.3"/>
<circle cx="865.9" cy="1448.0" r="4.3"/>
<circle cx="866.7" cy="1508.5" r="4.3"/>
<circle cx="867.1" cy="1454.0" r="4.3"/>
<circle cx="867.4" cy="1461.9" r="4.3"/>
<circle cx="867.8" cy="1546.9" r="4.3"/>
<circle cx="867.8" cy="1478.8" r="4.3"/>
<circle cx="868.7" cy="1488.3" r="4.3"/>
<circle cx="868.9" cy="1491.7" r="4.3"/>
<circle cx="870.0" cy="1421.1" r="4.3"/>
<circle cx="870.3" cy="1472.4" r="4.3"/>
<circle cx="870.3" cy="1449.0" r="4.3"/>
<circle cx="871.7" cy="1530.5" r="4.3"/>
<circle cx="873.2" cy="1432.1" r="4.3"/>
<circle cx="874.4" cy="1457.0" r="4.3"/>
<circle cx="874.7" cy="1409.6" r="4.3"/>
<circle cx="876.8" cy="1430.2" r="4.3"/>
<circle cx="877.3" cy="1507.1" r="4.3"/>
<circle cx="878.1" cy="1481.6" r="4.3"/>
<circle cx="879.0" cy="1465.5" r="4.3"/>
<circle cx="880.5" cy="1549.9" r="4.3"/>
<circle cx="882.4" cy="1424.7" r="4.3"/>
<circle cx="882.9" cy="1486.9" r="4.3"/>
<circle cx="883.4" cy="1563.2" r="4.3"/>
<circle cx="883.5" cy="1430.3" r="4.3"/>
<circle cx="886.4" cy="1523.0" r="4.3"/>
<circle cx="887.7" cy="1489.0" r="4.3"/>
<circle cx="887.7" cy="1460.6" r="4.3"/>
<circle cx="887.9" cy="1468.8" r="4.3"/>
<circle cx="888.1" cy="1483.3" r="4.3"/>
<circle cx="888.1" cy="1460.8" r="4.3"/>
<circle cx="890.2" cy="1552.4" r="4.3"/>
<circle cx="892.0" cy="1490.9" r="4.3"/>
<circle cx="893.3" cy="1433.9" r="4.3"/>
<circle cx="893.7" cy="1456.0" r="4.3"/>
<circle cx="895.1" cy="1495.7" r="4.3"/>
<circle cx="896.0" cy="1508.4" r="4.3"/>
<circle cx="896.3" cy="1495.7" r="4.3"/>
<circle cx="898.7" cy="1564.5" r="4.3"/>
<circle cx="899.8" cy="1498.9" r="4.3"/>
<circle cx="900.1" cy="1432.1" r="4.3"/>
<circle cx="900.2" cy="1473.5" r="4.3"/>
<circle cx="900.2" cy="1470.2" r="4.3"/>
<circle cx="900.4" cy="1472.0" r="4.3"/>
<circle cx="901.1" cy="1482.8" r="4.3"/>
<circle cx="902.6" cy="1542.8" r="4.3"/>
<circle cx="906.1" cy="1420.9" r="4.3"/>
<circle cx="907.0" cy="1468.3" r="4.3"/>
<circle cx="909.2" cy="1411.2" r="4.3"/>
<circle cx="909.9" cy="1515.1" r="4.3"/>
<circle cx="910.3" cy="1500.9" r="4.3"/>
<circle cx="911.4" cy="1438.8" r="4.3"/>
<circle cx="914.3" cy="1515.2" r="4.3"/>
<circle cx="915.7" cy="1453.3" r="4.3"/>
<circle cx="915.8" cy="1423.4" r="4.3"/>
<circle cx="917.2" cy="1424.4" r="4.3"/>
<circle cx="917.6" cy="1468.0" r="4.3"/>
<circle cx="919.8" cy="1476.8" r="4.3"/>
<circle cx="920.6" cy="1472.7" r="4.3"/>
<circle cx="929.8" cy="1485.6" r="4.3"/>
<circle cx="929.9" cy="1473.2" r="4.3"/>
<circle cx="930.5" cy="1501.6" r="4.3"/>
<circle cx="930.8" cy="1432.8" r="4.3"/>
<circle cx="931.4" cy="1495.0" r="4.3"/>
<circle cx="931.6" cy="1532.8" r="4.3"/>
<circle cx="931.6" cy="1476.2" r="4.3"/>
<circle cx="933.3" cy="1472.9" r="4.3"/>
<circle cx="933.7" cy="1507.0" r="4.3"/>
<circle cx="934.0" cy="1499.6" r="4.3"/>
<circle cx="935.2" cy="1466.1" r="4.3"/>
<circle cx="935.4" cy="1452.4" r="4.3"/>
<circle cx="935.4" cy="1479.7" r="4.3"/>
<circle cx="937.0" cy="1479.3" r="4.3"/>
<circle cx="937.2" cy="1565.8" r="4.3"/>
<circle cx="938.5" cy="1427.0" r="4.3"/>
<circle cx="938.9" cy="1430.7" r="4.3"/>
<circle cx="939.3" cy="1436.8" r="4.3"/>
<circle cx="939.7" cy="1441.2" r="4.3"/>
<circle cx="940.2" cy="1452.7" r="4.3"/>
<circle cx="940.6" cy="1512.2" r="4.3"/>
<circle cx="940.9" cy="1412.1" r="4.3"/>
<circle cx="941.5" cy="1425.8" r="4.3"/>
<circle cx="942.8" cy="1469.0" r="4.3"/>
<circle cx="943.8" cy="1506.3" r="4.3"/>
<circle cx="944.1" cy="1451.8" r="4.3"/>
<circle cx="944.5" cy="1401.3" r="4.3"/>
<circle cx="945.6" cy="1481.7" r="4.3"/>
<circle cx="945.6" cy="1495.5" r="4.3"/>
<circle cx="947.3" cy="1474.7" r="4.3"/>
<circle cx="947.5" cy="1428.5" r="4.3"/>
<circle cx="947.9" cy="1470.7" r="4.3"/>
<circle cx="948.3" cy="1476.6" r="4.3"/>
<circle cx="951.3" cy="1474.4" r="4.3"/>
<circle cx="952.8" cy="1423.1" r="4.3"/>
<circle cx="956.8" cy="1520.6" r="4.3"/>
<circle cx="956.9" cy="1478.2" r="4.3"/>
<circle cx="958.8" cy="1548.0" r="4.3"/>
<circle cx="959.3" cy="1459.1" r="4.3"/>
<circle cx="960.5" cy="1512.9" r="4.3"/>
<circle cx="961.8" cy="1469.1" r="4.3"/>
<circle cx="961.8" cy="1502.5" r="4.3"/>
<circle cx="962.6" cy="1486.9" r="4.3"/>
<circle cx="965.8" cy="1441.9" r="4.3"/>
<circle cx="966.4" cy="1524.1" r="4.3"/>
<circle cx="967.7" cy="1452.0" r="4.3"/>
<circle cx="968.0" cy="1511.7" r="4.3"/>
<circle cx="970.2" cy="1458.0" r="4.3"/>
<circle cx="970.5" cy="1465.0" r="4.3"/>
<circle cx="970.6" cy="1472.7" r="4.3"/>
<circle cx="971.0" cy="1442.4" r="4.3"/>
<circle cx="972.0" cy="1422.1" r="4.3"/>
<circle cx="972.1" cy="1439.1" r="4.3"/>
<circle cx="973.8" cy="1480.8" r="4.3"/>
<circle cx="974.0" cy="1415.0" r="4.3"/>
<circle cx="974.8" cy="1479.0" r="4.3"/>
<circle cx="977.2" cy="1454.1" r="4.3"/>
<circle cx="980.4" cy="1464.3" r="4.3"/>
<circle cx="980.6" cy="1431.9" r="4.3"/>
<circle cx="982.2" cy="1466.0" r="4.3"/>
<circle cx="983.7" cy="1443.9" r="4.3"/>
<circle cx="986.4" cy="1498.4" r="4.3"/>
<circle cx="986.9" cy="1435.4" r="4.3"/>
<circle cx="988.4" cy="1453.2" r="4.3"/>
<circle cx="989.2" cy="1493.1" r="4.3"/>
<circle cx="989.7" cy="1430.3" r="4.3"/>
<circle cx="990.1" cy="1500.5" r="4.3"/>
<circle cx="991.3" cy="1444.1" r="4.3"/>
<circle cx="992.8" cy="1484.8" r="4.3"/>
<circle cx="993.4" cy="1474.8" r="4.3"/>
<circle cx="995.3" cy="1504.3" r="4.3"/>
<circle cx="995.4" cy="1473.0" r="4.3"/>
<circle cx="996.4" cy="1442.4" r="4.3"/>
<circle cx="996.8" cy="1464.6" r="4.3"/>
<circle cx="998.5" cy="1449.8" r="4.3"/>
<circle cx="998.9" cy="1399.0" r="4.3"/>
<circle cx="999.0" cy="1434.7" r="4.3"/>
<circle cx="999.9" cy="1465.4" r="4.3"/>
<circle cx="1000.0" cy="1440.2" r="4.3"/>
<circle cx="1000.4" cy="1403.6" r="4.3"/>
<circle cx="1004.3" cy="1527.4" r="4.3"/>
<circle cx="1005.6" cy="1485.6" r="4.3"/>
<circle cx="1007.4" cy="1447.1" r="4.3"/>
<circle cx="1007.5" cy="1473.6" r="4.3"/>
<circle cx="1013.1" cy="1495.6" r="4.3"/>
<circle cx="1016.8" cy="1427.3" r="4.3"/>
<circle cx="1020.2" cy="1462.4" r="4.3"/>
<circle cx="1021.0" cy="1459.2" r="4.3"/>
<circle cx="1023.1" cy="1493.1" r="4.3"/>
<circle cx="1023.5" cy="1421.4" r="4.3"/>
<circle cx="1027.6" cy="1472.6" r="4.3"/>
<circle cx="1030.1" cy="1518.5" r="4.3"/>
<circle cx="1031.7" cy="1450.5" r="4.3"/>
<circle cx="1032.2" cy="1466.1" r="4.3"/>
<circle cx="1032.3" cy="1444.3" r="4.3"/>
<circle cx="1034.9" cy="1495.3" r="4.3"/>
<circle cx="1035.1" cy="1399.2" r="4.3"/>
<circle cx="1035.8" cy="1439.1" r="4.3"/>
<circle cx="1038.7" cy="1409.0" r="4.3"/>
<circle cx="1039.2" cy="1429.7" r="4.3"/>
<circle cx="1042.4" cy="1433.3" r="4.3"/>
<circle cx="1043.4" cy="1439.5" r="4.3"/>
<circle cx="1044.1" cy="1477.4" r="4.3"/>
<circle cx="1047.2" cy="1448.0" r="4.3"/>
<circle cx="1048.2" cy="1439.2" r="4.3"/>
<circle cx="1049.5" cy="1417.4" r="4.3"/>
<circle cx="1050.3" cy="1515.0" r="4.3"/>
<circle cx="1051.0" cy="1521.6" r="4.3"/>
<circle cx="1052.8" cy="1462.1" r="4.3"/>
<circle cx="1052.9" cy="1445.8" r="4.3"/>
<circle cx="1055.7" cy="1545.7" r="4.3"/>
<circle cx="1059.4" cy="1469.5" r="4.3"/>
<circle cx="1060.4" cy="1473.4" r="4.3"/>
<circle cx="1062.0" cy="1421.8" r="4.3"/>
<circle cx="1063.8" cy="1474.2" r="4.3"/>
<circle cx="1064.1" cy="1452.9" r="4.3"/>
<circle cx="1066.9" cy="1399.4" r="4.3"/>
<circle cx="1067.4" cy="1428.0" r="4.3"/>
<circle cx="1067.8" cy="1475.3" r="4.3"/>
<circle cx="1070.5" cy="1486.6" r="4.3"/>
<circle cx="1071.7" cy="1469.8" r="4.3"/>
<circle cx="1073.4" cy="1420.4" r="4.3"/>
<circle cx="1075.8" cy="1405.7" r="4.3"/>
<circle cx="1079.0" cy="1429.8" r="4.3"/>
<circle cx="1079.5" cy="1449.0" r="4.3"/>
<circle cx="1080.3" cy="1432.0" r="4.3"/>
<circle cx="1080.7" cy="1404.4" r="4.3"/>
<circle cx="1081.4" cy="1420.8" r="4.3"/>
<circle cx="1082.2" cy="1422.8" r="4.3"/>
<circle cx="1084.9" cy="1487.0" r="4.3"/>
<circle cx="1119.1" cy="1520.7" r="4.3"/>
</g>
<polyline points="141.2,1776.3 161.2,1743.4 163.5,1782.6 166.8,1723.4 166.8,1753.7 167.3,1722.3 167.8,1745.4 171.0,1757.3 174.9,1753.3 180.1,1758.4 187.3,1763.5 188.0,1747.1 188.0,1736.7 190.0,1727.1 192.9,1743.6 194.1,1762.3 196.3,1745.0 196.8,1697.3 203.3,1745.3 204.9,1725.6 211.0,1754.2 212.1,1738.3 213.9,1766.8 216.0,1702.0 217.0,1739.6 220.1,1675.5 222.9,1728.2 224.1,1712.3 224.8,1738.9 227.3,1770.3 227.4,1728.3 228.4,1709.5 229.5,1734.7 232.0,1774.3 235.9,1726.1 236.3,1714.2 236.7,1719.5 241.4,1764.7 243.3,1713.9 243.7,1735.6 243.8,1729.5 244.7,1768.8 249.1,1719.6 251.4,1718.5 256.4,1696.8 257.5,1705.6 257.9,1738.6 264.3,1712.5 268.3,1698.9 270.1,1711.4 270.4,1731.4 270.7,1683.7 276.3,1682.0 277.3,1750.3 277.6,1735.3 277.7,1678.6 278.0,1740.5 278.2,1713.1 278.9,1627.8 279.2,1720.2 279.4,1679.1 280.3,1683.4 280.5,1747.7 282.0,1703.6 283.9,1746.1 284.7,1712.7 284.9,1729.4 285.9,1695.7 287.1,1683.4 287.6,1665.0 289.1,1708.2 289.8,1720.3 290.0,1716.7 290.1,1688.5 290.2,1735.8 291.2,1720.1 293.9,1719.2 295.3,1687.1 296.6,1734.0 297.7,1719.0 301.8,1714.0 302.3,1675.2 307.8,1675.2 308.3,1713.3 308.6,1686.0 311.2,1653.4 312.6,1686.1 312.9,1724.6 312.9,1708.2 313.2,1690.4 315.1,1672.7 317.0,1684.5 318.6,1695.2 321.0,1699.5 321.3,1684.2 321.5,1702.1 322.0,1708.5 322.5,1698.8 322.6,1697.2 322.8,1716.5 323.4,1697.0 323.8,1695.7 324.0,1694.7 324.3,1688.6 324.9,1716.7 325.2,1710.4 325.2,1721.1 326.0,1711.0 326.1,1678.6 326.3,1715.8 326.3,1712.0 326.6,1696.5 326.6,1630.1 326.6,1679.5 326.9,1698.3 327.1,1717.7 327.2,1715.9 327.4,1687.7 327.6,1707.0 330.9,1698.6 331.3,1694.8 331.6,1695.9 331.8,1699.8 332.2,1677.8 332.7,1690.0 333.6,1705.7 333.8,1710.3 334.3,1707.5 335.1,1684.3 335.5,1685.2 335.5,1688.7 336.3,1697.7 336.9,1688.9 337.1,1696.4 337.1,1714.1 337.2,1694.0 337.8,1704.5 338.5,1703.8 338.8,1714.4 339.0,1700.2 339.9,1711.4 340.0,1712.4 340.6,1704.6 341.4,1711.6 341.6,1692.3 341.9,1704.7 342.4,1567.6 344.0,1703.6 344.0,1693.2 344.1,1713.3 344.1,1695.2 345.1,1698.1 345.5,1709.7 346.4,1721.1 346.6,1717.2 346.8,1698.8 346.9,1691.8 346.9,1703.5 347.1,1679.1 347.2,1692.2 347.4,1690.4 349.2,1691.9 349.4,1673.2 349.6,1632.8 349.9,1701.0 350.0,1683.5 350.2,1704.5 350.4,1710.8 350.9,1674.4 350.9,1700.6 350.9,1689.3 351.2,1709.4 351.3,1711.5 352.1,1691.9 352.7,1701.9 353.2,1680.9 353.5,1683.1 353.6,1694.0 354.0,1685.7 354.3,1677.0 354.9,1708.8 355.7,1691.6 356.0,1692.1 356.2,1704.0 356.4,1698.4 356.7,1697.7 356.9,1711.0 357.0,1688.4 358.0,1716.6 358.1,1696.5 358.1,1481.0 358.2,1709.0 358.4,1568.8 358.9,1696.2 358.9,1702.5 359.0,1694.3 359.1,1686.6 359.1,1648.6 359.2,1694.6 359.6,1715.3 361.5,1697.7 362.4,1701.7 362.6,1712.0 362.7,1705.7 362.9,1714.3 363.6,1668.6 363.9,1703.6 364.2,1695.7 364.5,1697.3 365.2,1692.8 366.9,1703.4 367.7,1707.9 368.7,1665.6 368.9,1678.4 369.4,1549.2 369.5,1705.6 369.7,1688.2 369.9,1681.7 370.1,1587.7 370.3,1667.3 370.4,1678.1 370.5,1687.0 370.6,1704.2 370.7,1705.9 370.7,1701.5 371.3,1695.4 371.5,1692.7 371.5,1655.0 371.7,1679.1 371.9,1690.7 372.0,1608.7 372.9,1691.0 372.9,1706.2 373.1,1689.6 373.1,1678.7 373.6,1685.8 374.1,1707.3 374.5,1698.3 375.2,1712.7 376.0,1699.4 376.1,1707.7 376.3,1715.8 376.6,1695.2 376.6,1702.4 376.6,1713.1 376.9,1690.8 378.1,1681.9 378.1,1702.7 378.2,1678.4 378.5,1598.2 378.6,1666.5 378.8,1691.5 378.8,1712.1 379.0,1690.8 379.1,1700.7 379.3,1701.0 379.8,1643.0 379.9,1672.3 380.0,1682.0 380.1,1697.6 380.2,1683.7 381.0,1692.4 381.5,1695.4 381.8,1676.9 382.0,1695.3 382.2,1700.1 382.5,1681.7 382.7,1678.6 383.9,1701.8 384.0,1707.3 384.0,1694.2 384.4,1674.6 384.5,1696.6 384.7,1662.3 385.4,1695.4 385.6,1709.1 386.0,1687.1 386.5,1677.8 386.7,1675.8 386.9,1659.2 386.9,1707.4 387.6,1695.7 387.7,1691.6 388.1,1691.0 388.3,1714.6 388.6,1691.0 388.7,1698.2 388.7,1707.9 389.2,1685.9 389.5,1690.7 389.9,1693.1 390.6,1682.6 391.0,1678.2 391.1,1703.2 391.2,1691.5 391.2,1684.7 391.2,1687.6 391.6,1673.9 391.7,1682.0 391.7,1676.8 391.8,1697.3 391.9,1622.2 392.1,1705.0 392.4,1685.6 392.4,1689.0 392.5,1675.9 392.6,1680.8 392.6,1685.4 392.7,1688.7 392.8,1662.8 393.0,1670.2 393.2,1677.9 393.3,1687.5 393.3,1688.6 393.7,1690.6 393.7,1692.3 393.8,1691.0 394.1,1704.3 394.3,1689.6 394.5,1676.1 394.7,1673.4 395.6,1687.6 395.6,1696.8 395.7,1708.8 395.9,1705.4 396.3,1674.1 396.3,1670.7 396.4,1718.2 396.5,1675.3 396.5,1643.6 397.0,1690.8 397.1,1675.0 397.4,1678.8 398.0,1701.1 398.1,1681.7 398.4,1685.9 398.7,1691.8 398.8,1695.8 399.6,1682.7 399.7,1670.2 400.0,1695.1 400.2,1708.9 400.3,1652.5 400.3,1680.8 400.5,1597.7 400.7,1690.5 401.0,1685.4 401.0,1708.9 401.4,1685.0 401.7,1673.0 402.1,1684.0 402.8,1697.8 402.8,1687.7 403.4,1655.0 403.7,1653.9 404.1,1683.0 404.1,1666.2 404.2,1685.8 404.3,1695.2 404.6,1673.4 404.7,1678.8 405.2,1675.2 405.3,1685.5 405.3,1679.0 405.3,1705.1 405.6,1692.6 406.1,1701.8 406.3,1671.2 406.5,1671.9 406.7,1683.2 407.1,1673.6 407.4,1682.3 408.3,1694.0 409.1,1696.3 409.2,1695.9 409.5,1692.5 410.2,1684.8 410.5,1664.9 410.5,1700.0 410.7,1686.0 410.8,1677.8 411.0,1697.0 411.3,1682.1 411.5,1700.2 412.2,1692.2 412.3,1683.3 412.4,1696.4 412.7,1698.7 412.7,1682.1 412.9,1685.1 413.1,1685.4 413.2,1706.9 413.2,1698.8 414.1,1676.6 414.2,1651.1 414.6,1695.3 414.6,1668.6 414.8,1703.9 415.4,1697.4 415.6,1669.7 415.9,1679.5 416.3,1682.0 416.7,1687.1 417.1,1705.2 417.5,1679.7 417.9,1697.7 417.9,1688.0 418.0,1678.5 418.5,1687.9 418.5,1672.7 418.6,1680.3 419.3,1692.0 419.7,1688.6 420.0,1683.3 420.9,1665.6 421.8,1681.9 422.0,1705.2 422.1,1678.1 422.2,1695.2 422.3,1670.5 422.6,1662.8 422.7,1674.8 423.0,1692.9 423.3,1677.9 423.3,1665.3 423.4,1682.2 423.5,1687.9 423.5,1690.1 423.9,1690.3 424.1,1682.2 424.3,1687.1 424.7,1679.3 424.8,1681.5 425.0,1707.4 425.0,1681.7 425.2,1706.1 425.8,1677.9 425.9,1679.7 426.3,1686.8 426.3,1665.5 426.4,1684.5 426.7,1680.1 426.7,1678.7 427.4,1679.3 427.6,1690.3 427.9,1678.0 428.3,1674.6 428.3,1678.8 428.5,1686.8 428.6,1668.8 428.7,1677.4 429.1,1705.5 429.7,1704.3 430.5,1661.5 430.6,1693.7 430.8,1700.5 431.2,1687.3 431.2,1679.1 431.3,1675.7 432.0,1702.8 432.0,1717.2 432.3,1690.1 432.5,1689.0 432.5,1682.7 433.1,1696.3 433.3,1689.7 433.6,1684.2 433.9,1676.7 434.0,1693.9 434.2,1664.1 434.3,1693.0 434.4,1697.6 434.6,1703.3 434.9,1673.8 435.0,1677.1 435.3,1673.4 435.5,1690.8 435.5,1686.6 435.8,1677.2 435.9,1663.3 435.9,1683.2 436.8,1675.9 437.2,1681.4 437.4,1678.0 437.7,1718.1 438.1,1685.2 438.1,1689.6 438.1,1680.5 438.3,1673.9 438.4,1657.4 438.5,1690.4 438.5,1698.7 438.7,1676.9 439.1,1682.6 439.7,1689.3 439.9,1641.8 440.2,1667.7 440.2,1685.5 440.6,1685.7 441.0,1686.3 441.1,1673.5 441.2,1673.4 441.2,1682.2 441.5,1694.0 441.5,1663.5 441.9,1667.3 442.2,1678.9 442.5,1698.4 442.8,1665.7 443.1,1694.7 443.2,1682.2 443.2,1651.9 443.3,1685.2 443.7,1651.1 443.9,1686.8 444.3,1664.5 444.4,1688.0 444.4,1689.3 445.3,1697.5 445.4,1671.7 445.5,1697.0 445.6,1657.9 446.0,1687.5 446.2,1674.7 446.3,1703.4 446.6,1683.1 446.6,1697.6 447.3,1686.6 447.4,1663.3 447.4,1675.5 448.0,1666.3 448.0,1666.0 448.1,1700.8 448.2,1677.7 449.1,1674.2 449.7,1698.1 451.7,1694.2 451.7,1682.3 452.0,1662.5 452.1,1686.8 452.3,1668.2 452.3,1619.3 452.6,1687.1 453.1,1678.3 453.3,1693.5 453.6,1687.9 453.7,1682.4 453.8,1676.3 453.9,1696.7 453.9,1676.3 454.9,1682.0 455.4,1689.5 455.7,1673.9 455.8,1684.6 456.3,1671.5 456.6,1667.5 457.4,1654.4 457.4,1683.9 457.9,1647.2 458.1,1671.3 458.1,1680.3 458.2,1670.7 458.5,1662.6 458.9,1690.7 459.1,1680.7 459.1,1685.5 459.5,1699.2 459.6,1697.8 459.9,1580.5 460.1,1672.0 460.7,1691.9 460.8,1657.6 461.0,1627.9 461.1,1675.7 461.4,1670.4 461.5,1691.1 461.6,1682.4 461.7,1671.2 462.1,1662.9 463.2,1684.2 463.3,1684.7 463.5,1680.7 463.8,1674.3 463.8,1672.5 464.0,1679.2 464.0,1707.6 464.3,1668.1 464.6,1679.1 465.0,1685.0 465.2,1527.4 465.5,1552.0 466.1,1699.4 466.4,1691.5 466.8,1685.9 466.8,1675.8 467.1,1674.4 467.3,1655.5 467.6,1638.0 467.6,1669.4 468.9,1665.8 469.1,1642.5 469.5,1676.2 469.9,1694.3 470.1,1702.4 470.5,1701.2 470.5,1672.7 471.1,1660.2 471.7,1676.3 471.9,1679.7 472.0,1659.5 472.8,1680.3 473.1,1602.1 473.4,1676.4 473.6,1661.1 474.0,1677.9 474.3,1681.5 474.4,1671.5 474.6,1676.5 474.6,1647.8 474.8,1688.7 474.8,1671.8 475.2,1673.4 475.5,1685.0 475.6,1680.3 475.8,1673.0 476.2,1678.2 476.3,1674.9 476.6,1645.6 476.8,1672.0 477.2,1686.7 477.3,1681.0 477.4,1666.9 477.4,1676.3 477.7,1671.9 478.0,1672.7 478.2,1681.6 478.3,1679.0 478.5,1686.4 478.5,1669.1 478.5,1669.1 478.8,1670.8 478.8,1662.8 478.9,1671.4 479.8,1680.0 480.7,1644.3 480.9,1670.6 481.6,1682.6 482.7,1678.2 484.2,1638.8 484.2,1699.7 484.3,1615.5 484.9,1685.8 486.2,1656.4 486.3,1648.8 487.0,1677.9 488.1,1663.4 488.6,1673.8 488.8,1674.0 488.9,1672.8 489.0,1660.7 490.0,1670.5 490.7,1662.5 490.8,1666.3 490.8,1670.4 491.0,1683.4 491.1,1672.4 491.2,1675.9 491.6,1672.4 491.8,1683.2 492.4,1662.5 492.6,1683.8 492.6,1670.7 493.6,1678.4 494.4,1653.2 494.5,1672.7 494.6,1621.9 494.9,1671.4 495.2,1639.8 495.5,1666.3 495.6,1656.4 496.2,1534.7 496.4,1688.3 497.0,1660.7 497.4,1693.5 498.2,1540.9 498.2,1738.0 498.7,1637.3 498.9,1620.0 500.2,1625.2 501.1,1622.3 502.5,1680.5 502.6,1627.3 502.6,1628.7 502.7,1650.7 502.8,1635.4 504.0,1569.9 504.4,1643.7 505.4,1586.4 505.5,1525.2 505.8,1592.1 506.7,1627.7 508.4,1609.9 509.4,1536.9 509.6,1633.5 509.9,1634.9 510.1,1652.9 510.3,1654.6 510.7,1630.7 510.9,1604.3 511.6,1599.2 511.8,1665.8 512.4,1558.1 512.5,1672.4 513.0,1601.8 513.9,1666.2 514.1,1631.4 514.2,1621.2 514.5,1609.1 515.6,1636.5 515.7,1669.3 515.9,1695.6 515.9,1616.4 516.1,1649.6 516.2,1628.6 516.7,1585.3 516.9,1631.2 517.1,1583.6 517.5,1616.6 518.7,1595.0 518.8,1655.9 519.7,1623.4 520.6,1566.9 521.3,1613.4 524.5,1665.2 525.3,1636.1 525.6,1611.3 526.0,1555.9 526.3,1626.8 526.6,1591.3 527.1,1605.6 527.3,1619.7 527.4,1652.6 527.5,1679.0 527.6,1660.9 528.4,1636.0 528.9,1652.7 529.8,1629.0 530.0,1587.6 530.0,1596.1 530.2,1648.9 533.0,1675.0 535.6,1625.1 536.6,1684.8 536.8,1675.5 536.8,1586.6 537.6,1660.8 539.6,1613.1 539.8,1596.1 540.2,1707.5 540.8,1519.0 543.0,1677.2 543.2,1658.4 546.4,1621.5 546.5,1606.1 546.6,1594.6 548.3,1653.3 550.0,1662.0 550.1,1642.7 550.3,1596.0 550.3,1562.9 551.5,1509.7 552.0,1644.0 554.1,1527.3 555.6,1613.2 556.1,1564.0 556.4,1627.6 557.2,1580.9 557.4,1656.7 557.5,1674.9 558.0,1565.9 558.1,1521.2 558.2,1613.1 558.3,1602.3 558.4,1686.6 558.8,1573.0 559.2,1613.8 559.5,1574.1 561.1,1642.8 561.6,1605.2 562.0,1624.6 563.2,1647.3 563.7,1635.0 568.1,1563.0 568.4,1644.9 569.4,1644.4 571.7,1575.6 573.1,1645.2 573.2,1538.5 576.6,1558.6 578.4,1655.2 578.5,1576.7 580.8,1541.5 583.5,1599.8 584.4,1598.9 584.7,1678.0 586.7,1607.0 589.6,1570.1 589.6,1577.7 590.0,1606.6 590.8,1629.0 591.2,1479.8 591.6,1505.9 593.8,1566.6 597.7,1551.4 598.1,1647.5 599.2,1649.3 599.6,1596.8 599.6,1564.5 600.5,1552.7 600.6,1650.2 602.3,1611.2 602.8,1615.1 603.1,1576.5 603.6,1618.1 604.1,1520.5 605.7,1572.2 605.9,1641.2 607.0,1569.8 608.2,1586.6 608.2,1564.8 609.0,1575.7 609.0,1555.2 609.5,1538.7 610.0,1502.4 610.8,1643.4 611.4,1536.6 613.2,1577.3 613.4,1640.9 615.8,1586.9 616.0,1645.8 616.4,1541.8 617.0,1566.9 618.6,1563.5 620.1,1589.1 620.6,1586.7 620.7,1568.5 620.8,1610.2 621.4,1556.7 621.5,1520.1 621.7,1530.7 622.3,1533.4 622.8,1639.2 623.8,1581.1 625.7,1510.6 626.3,1624.0 626.3,1585.5 628.9,1540.4 632.4,1548.7 633.1,1507.2 637.1,1586.8 641.9,1508.0 641.9,1564.1 644.2,1560.7 645.9,1579.5 647.0,1555.0 648.3,1620.0 648.4,1591.2 649.7,1600.4 651.7,1607.1 653.4,1568.5 653.8,1588.5 654.7,1568.6 655.4,1579.3 656.0,1526.8 656.6,1530.6 658.2,1552.5 658.9,1602.2 660.8,1566.4 662.0,1586.1 662.1,1593.2 663.9,1506.5 665.2,1575.0 665.5,1566.2 665.7,1580.5 666.6,1555.0 667.3,1606.2 667.7,1592.5 670.7,1491.1 671.8,1484.2 671.9,1571.3 677.6,1545.3 678.9,1551.1 679.1,1566.5 679.4,1557.2 681.3,1553.1 684.5,1442.7 685.5,1503.3 686.7,1595.4 687.2,1534.5 687.3,1540.3 687.4,1567.9 690.5,1567.9 690.6,1467.5 691.1,1506.4 691.5,1635.8 691.8,1514.7 692.0,1633.5 692.3,1597.2 695.0,1476.8 695.2,1418.4 698.6,1558.0 698.8,1474.3 699.3,1482.6 699.4,1496.8 700.8,1624.0 701.0,1496.9 701.9,1566.1 703.6,1450.8 703.7,1504.8 705.0,1499.9 705.1,1565.6 706.7,1536.8 706.9,1531.0 708.2,1531.7 708.9,1582.4 712.0,1525.1 712.1,1505.8 712.5,1587.1 714.5,1587.7 714.6,1577.1 718.2,1509.3 719.1,1646.8 719.5,1584.7 720.3,1613.6 721.0,1550.3 723.2,1572.5 724.5,1533.0 725.9,1596.6 726.9,1571.2 727.3,1581.3 728.0,1544.6 728.2,1516.1 728.9,1531.4 730.0,1597.0 730.7,1639.0 732.2,1552.2 732.6,1469.2 732.7,1486.9 732.8,1517.2 735.2,1512.3 736.9,1531.1 736.9,1576.6 737.0,1571.5 738.3,1518.4 739.3,1486.3 740.5,1513.0 740.8,1602.2 741.6,1512.5 742.2,1483.6 742.8,1552.9 748.4,1547.3 748.8,1504.7 749.0,1528.8 749.1,1555.6 749.2,1487.4 750.0,1513.1 751.3,1502.4 751.7,1501.7 751.9,1555.9 752.3,1578.1 753.5,1422.0 754.3,1558.7 754.3,1515.0 756.4,1535.2 757.0,1498.6 758.1,1445.5 758.9,1495.6 761.3,1482.3 761.4,1425.8 762.9,1459.6 764.1,1476.8 764.2,1532.9 765.1,1564.7 769.4,1466.1 769.9,1488.8 771.3,1529.5 772.1,1575.8 774.2,1496.9 775.5,1601.9 776.0,1521.6 776.7,1621.3 777.8,1490.8 779.1,1445.0 779.7,1498.1 780.0,1482.7 781.8,1515.0 782.9,1490.8 783.0,1513.7 783.5,1518.4 784.3,1501.7 784.6,1491.4 784.8,1523.4 784.8,1540.8 785.4,1595.2 786.4,1495.6 787.1,1536.4 789.6,1521.7 790.0,1654.0 790.1,1510.6 790.3,1420.0 790.3,1509.1 790.5,1518.1 790.7,1540.2 792.0,1488.9 792.2,1536.7 792.6,1559.1 793.1,1438.8 793.4,1502.4 794.0,1497.6 794.9,1523.1 795.3,1481.2 797.0,1538.5 797.1,1499.9 799.6,1469.0 799.9,1557.6 800.9,1596.5 803.0,1513.8 803.9,1530.4 804.0,1599.9 804.3,1463.9 805.9,1510.9 807.6,1472.4 808.3,1510.2 810.2,1530.4 810.9,1535.8 811.0,1496.8 814.0,1460.0 814.7,1452.6 815.1,1514.5 816.3,1544.5 817.4,1464.4 818.6,1472.4 819.2,1528.8 819.8,1521.4 820.1,1457.4 820.5,1508.6 820.8,1548.1 820.8,1439.6 820.9,1464.7 822.2,1463.9 823.9,1492.4 824.4,1519.0 826.0,1509.3 826.9,1567.7 827.6,1455.2 828.1,1574.7 829.4,1490.2 829.7,1538.9 830.0,1507.3 830.1,1554.5 831.0,1508.8 831.2,1535.0 831.8,1398.6 832.0,1416.1 832.1,1499.4 833.6,1475.5 834.1,1527.3 838.5,1512.2 840.0,1532.7 841.7,1567.3 842.3,1510.6 843.4,1549.5 844.5,1526.0 844.6,1482.6 844.6,1483.0 845.4,1491.4 845.9,1476.0 846.3,1520.6 847.1,1550.8 847.7,1511.1 853.7,1557.0 854.2,1470.5 855.0,1484.0 855.6,1560.7 855.8,1519.3 856.8,1513.4 859.2,1536.3 860.0,1470.7 861.4,1510.6 862.0,1473.1 864.1,1547.1 864.5,1542.8 865.9,1448.0 866.7,1508.5 867.1,1454.0 867.4,1461.9 867.8,1546.9 867.8,1478.8 868.7,1488.3 868.9,1491.7 870.0,1421.1 870.3,1472.4 870.3,1449.0 871.7,1530.5 873.2,1432.1 874.4,1457.0 874.7,1409.6 876.8,1430.2 877.3,1507.1 878.1,1481.6 879.0,1465.5 880.5,1549.9 882.4,1424.7 882.9,1486.9 883.4,1563.2 883.5,1430.3 886.4,1523.0 887.7,1489.0 887.7,1460.6 887.9,1468.8 888.1,1483.3 888.1,1460.8 890.2,1552.4 892.0,1490.9 893.3,1433.9 893.7,1456.0 895.1,1495.7 896.0,1508.4 896.3,1495.7 898.7,1564.5 899.8,1498.9 900.1,1432.1 900.2,1473.5 900.2,1470.2 900.4,1472.0 901.1,1482.8 902.6,1542.8 906.1,1420.9 907.0,1468.3 909.2,1411.2 909.9,1515.1 910.3,1500.9 911.4,1438.8 914.3,1515.2 915.7,1453.3 915.8,1423.4 917.2,1424.4 917.6,1468.0 919.8,1476.8 920.6,1472.7 929.8,1485.6 929.9,1473.2 930.5,1501.6 930.8,1432.8 931.4,1495.0 931.6,1532.8 931.6,1476.2 933.3,1472.9 933.7,1507.0 934.0,1499.6 935.2,1466.1 935.4,1452.4 935.4,1479.7 937.0,1479.3 937.2,1565.8 938.5,1427.0 938.9,1430.7 939.3,1436.8 939.7,1441.2 940.2,1452.7 940.6,1512.2 940.9,1412.1 941.5,1425.8 942.8,1469.0 943.8,1506.3 944.1,1451.8 944.5,1401.3 945.6,1481.7 945.6,1495.5 947.3,1474.7 947.5,1428.5 947.9,1470.7 948.3,1476.6 951.3,1474.4 952.8,1423.1 956.8,1520.6 956.9,1478.2 958.8,1548.0 959.3,1459.1 960.5,1512.9 961.8,1469.1 961.8,1502.5 962.6,1486.9 965.8,1441.9 966.4,1524.1 967.7,1452.0 968.0,1511.7 970.2,1458.0 970.5,1465.0 970.6,1472.7 971.0,1442.4 972.0,1422.1 972.1,1439.1 973.8,1480.8 974.0,1415.0 974.8,1479.0 977.2,1454.1 980.4,1464.3 980.6,1431.9 982.2,1466.0 983.7,1443.9 986.4,1498.4 986.9,1435.4 988.4,1453.2 989.2,1493.1 989.7,1430.3 990.1,1500.5 991.3,1444.1 992.8,1484.8 993.4,1474.8 995.3,1504.3 995.4,1473.0 996.4,1442.4 996.8,1464.6 998.5,1449.8 998.9,1399.0 999.0,1434.7 999.9,1465.4 1000.0,1440.2 1000.4,1403.6 1004.3,1527.4 1005.6,1485.6 1007.4,1447.1 1007.5,1473.6 1013.1,1495.6 1016.8,1427.3 1020.2,1462.4 1021.0,1459.2 1023.1,1493.1 1023.5,1421.4 1027.6,1472.6 1030.1,1518.5 1031.7,1450.5 1032.2,1466.1 1032.3,1444.3 1034.9,1495.3 1035.1,1399.2 1035.8,1439.1 1038.7,1409.0 1039.2,1429.7 1042.4,1433.3 1043.4,1439.5 1044.1,1477.4 1047.2,1448.0 1048.2,1439.2 1049.5,1417.4 1050.3,1515.0 1051.0,1521.6 1052.8,1462.1 1052.9,1445.8 1055.7,1545.7 1059.4,1469.5 1060.4,1473.4 1062.0,1421.8 1063.8,1474.2 1064.1,1452.9 1066.9,1399.4 1067.4,1428.0 1067.8,1475.3 1070.5,1486.6 1071.7,1469.8 1073.4,1420.4 1075.8,1405.7 1079.0,1429.8 1079.5,1449.0 1080.3,1432.0 1080.7,1404.4 1081.4,1420.8 1082.2,1422.8 1084.9,1487.0 1119.1,1520.7" fill="none" stroke="rgb(140,172,150)" stroke-opacity="0.5" stroke-width="1.8" stroke-linejoin="round"/>
<rect x="96.6" y="1378.3" width="1069.4" height="424.70000000000005" fill="none" stroke="#333" stroke-width="1.4"/>
<g stroke="#333" stroke-width="1.2">
<line x1="215.0" y1="1803.0" x2="215.0" y2="1807.5"/>
<line x1="338.0" y1="1803.0" x2="338.0" y2="1807.5"/>
<line x1="461.0" y1="1803.0" x2="461.0" y2="1807.5"/>
<line x1="584.0" y1="1803.0" x2="584.0" y2="1807.5"/>
<line x1="707.0" y1="1803.0" x2="707.0" y2="1807.5"/>
<line x1="830.0" y1="1803.0" x2="830.0" y2="1807.5"/>
<line x1="953.0" y1="1803.0" x2="953.0" y2="1807.5"/>
<line x1="1076.0" y1="1803.0" x2="1076.0" y2="1807.5"/>
<line x1="92.1" y1="1784.8" x2="96.6" y2="1784.8"/>
<line x1="92.1" y1="1732.0" x2="96.6" y2="1732.0"/>
<line x1="92.1" y1="1679.1" x2="96.6" y2="1679.1"/>
<line x1="92.1" y1="1626.3" x2="96.6" y2="1626.3"/>
<line x1="92.1" y1="1573.5" x2="96.6" y2="1573.5"/>
<line x1="92.1" y1="1520.7" x2="96.6" y2="1520.7"/>
<line x1="92.1" y1="1467.8" x2="96.6" y2="1467.8"/>
<line x1="92.1" y1="1415.0" x2="96.6" y2="1415.0"/>
</g>
<g font-size="13" fill="#222">
<text x="215.0" y="1822" text-anchor="middle">24</text>
<text x="338.0" y="1822" text-anchor="middle">26</text>
<text x="461.0" y="1822" text-anchor="middle">28</text>
<text x="584.0" y="1822" text-anchor="middle">30</text>
<text x="707.0" y="1822" text-anchor="middle">32</text>
<text x="830.0" y="1822" text-anchor="middle">34</text>
<text x="953.0" y="1822" text-anchor="middle">36</text>
<text x="1076.0" y="1822" text-anchor="middle">38</text>
<text x="86.3" y="1789.5" text-anchor="end" textLength="26.3" lengthAdjust="spacingAndGlyphs">22.5</text>
<text x="86.3" y="1736.7" text-anchor="end" textLength="26.3" lengthAdjust="spacingAndGlyphs">25.0</text>
<text x="86.3" y="1683.8" text-anchor="end" textLength="26.3" lengthAdjust="spacingAndGlyphs">27.5</text>
<text x="86.3" y="1631.0" text-anchor="end" textLength="26.3" lengthAdjust="spacingAndGlyphs">30.0</text>
<text x="86.3" y="1578.2" text-anchor="end" textLength="26.3" lengthAdjust="spacingAndGlyphs">32.5</text>
<text x="86.3" y="1525.4" text-anchor="end" textLength="26.3" lengthAdjust="spacingAndGlyphs">35.0</text>
<text x="86.3" y="1472.5" text-anchor="end" textLength="26.3" lengthAdjust="spacingAndGlyphs">37.5</text>
<text x="86.3" y="1419.7" text-anchor="end" textLength="26.3" lengthAdjust="spacingAndGlyphs">40.0</text>
</g>
<text x="522.7" y="1370.9" font-size="17" fill="#111" textLength="216" lengthAdjust="spacingAndGlyphs">LST_Actual vs LST_Predicted</text>
<text x="630" y="1840" font-size="13" fill="#222" text-anchor="middle">LST_Actual</text>
<text transform="translate(52.3,1593) rotate(-90)" font-size="13" fill="#222" text-anchor="middle" textLength="87" lengthAdjust="spacingAndGlyphs">LST_Predicted</text>
<text x="737.5" y="1759" font-size="11.5" fill="#111" textLength="65" lengthAdjust="spacing">R² = 0.953</text>
<text x="16.3" y="1393.7" font-size="46.5" fill="#0a0a14" textLength="58.6" lengthAdjust="spacingAndGlyphs">(e)</text>
<rect x="103.3" y="1385" width="135.4" height="61.7" rx="3" fill="#fff" fill-opacity="0.8" stroke="#d6d6d6" stroke-width="1"/>
<circle cx="120.4" cy="1396" r="4.4" fill="rgb(240,92,42)" fill-opacity="0.5"/>
<circle cx="120.4" cy="1416.3" r="4.3" fill="rgb(60,75,110)" fill-opacity="0.58" stroke="rgb(60,75,110)" stroke-opacity="0.55"/>
<line x1="107.7" y1="1433" x2="133" y2="1433" stroke="rgb(131,154,142)" stroke-opacity="0.62" stroke-width="1.5"/>
<g font-size="12.7" fill="#111">
<text x="144.7" y="1400" textLength="67.3" lengthAdjust="spacingAndGlyphs">LST_Actual</text>
<text x="144.7" y="1419.3" textLength="87.3" lengthAdjust="spacingAndGlyphs">LST_Predicted</text>
<text x="144.7" y="1438.7" textLength="24.7" lengthAdjust="spacingAndGlyphs">Line</text>
</g>
</g>
<path d="M13.9,6.9 L1197.3,6.9 L1194.4,1855 L10.8,1855 Z" fill="none" stroke="#000" stroke-width="2.9"/>
</svg></body></html>
